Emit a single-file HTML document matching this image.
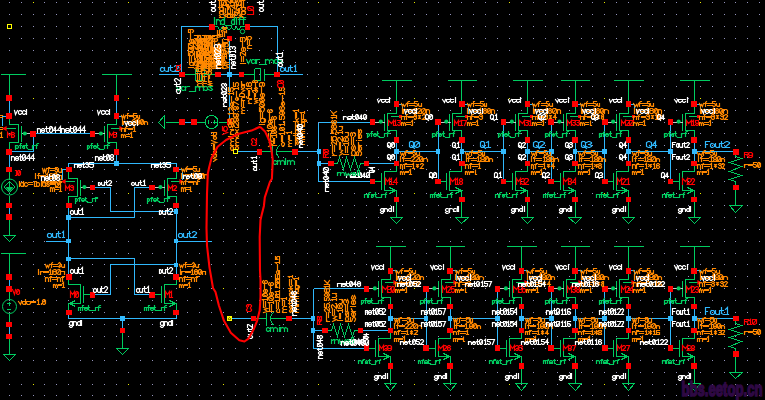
<!DOCTYPE html>
<html><head><meta charset="utf-8"><title>schematic</title>
<style>
html,body{margin:0;padding:0;background:#000;}
body{width:765px;height:400px;overflow:hidden;}
svg{display:block;}
svg text{font-family:"Liberation Sans",sans-serif;font-weight:bold;stroke-width:1.7px;stroke-linejoin:round;}
#text path{fill:none;stroke-width:1.2;stroke-linecap:square;}
</style></head><body>
<svg width="765" height="400" viewBox="0 0 765 400">
<rect width="765" height="400" fill="#000"/>
<g id="grid" shape-rendering="crispEdges">
<path d="M9 2h1v1h-1zM21 2h1v1h-1zM44 2h1v1h-1zM56 2h1v1h-1zM68 2h1v1h-1zM80 2h1v1h-1zM92 2h1v1h-1zM104 2h1v1h-1zM116 2h1v1h-1zM140 2h1v1h-1zM152 2h1v1h-1zM164 2h1v1h-1zM176 2h1v1h-1zM187 2h1v1h-1zM199 2h1v1h-1zM211 2h1v1h-1zM235 2h1v1h-1zM247 2h1v1h-1zM259 2h1v1h-1zM271 2h1v1h-1zM283 2h1v1h-1zM295 2h1v1h-1zM307 2h1v1h-1zM330 2h1v1h-1zM342 2h1v1h-1zM354 2h1v1h-1zM366 2h1v1h-1zM378 2h1v1h-1zM390 2h1v1h-1zM402 2h1v1h-1zM426 2h1v1h-1zM438 2h1v1h-1zM450 2h1v1h-1zM461 2h1v1h-1zM473 2h1v1h-1zM485 2h1v1h-1zM497 2h1v1h-1zM521 2h1v1h-1zM533 2h1v1h-1zM545 2h1v1h-1zM557 2h1v1h-1zM569 2h1v1h-1zM581 2h1v1h-1zM592 2h1v1h-1zM616 2h1v1h-1zM628 2h1v1h-1zM640 2h1v1h-1zM652 2h1v1h-1zM664 2h1v1h-1zM676 2h1v1h-1zM688 2h1v1h-1zM712 2h1v1h-1zM724 2h1v1h-1zM735 2h1v1h-1zM747 2h1v1h-1zM759 2h1v1h-1zM9 14h1v1h-1zM21 14h1v1h-1zM33 14h1v1h-1zM44 14h1v1h-1zM56 14h1v1h-1zM68 14h1v1h-1zM80 14h1v1h-1zM92 14h1v1h-1zM104 14h1v1h-1zM116 14h1v1h-1zM128 14h1v1h-1zM140 14h1v1h-1zM152 14h1v1h-1zM164 14h1v1h-1zM176 14h1v1h-1zM187 14h1v1h-1zM199 14h1v1h-1zM211 14h1v1h-1zM223 14h1v1h-1zM235 14h1v1h-1zM247 14h1v1h-1zM259 14h1v1h-1zM271 14h1v1h-1zM283 14h1v1h-1zM295 14h1v1h-1zM307 14h1v1h-1zM318 14h1v1h-1zM330 14h1v1h-1zM342 14h1v1h-1zM354 14h1v1h-1zM366 14h1v1h-1zM378 14h1v1h-1zM390 14h1v1h-1zM402 14h1v1h-1zM414 14h1v1h-1zM426 14h1v1h-1zM438 14h1v1h-1zM450 14h1v1h-1zM461 14h1v1h-1zM473 14h1v1h-1zM485 14h1v1h-1zM497 14h1v1h-1zM509 14h1v1h-1zM521 14h1v1h-1zM533 14h1v1h-1zM545 14h1v1h-1zM557 14h1v1h-1zM569 14h1v1h-1zM581 14h1v1h-1zM592 14h1v1h-1zM604 14h1v1h-1zM616 14h1v1h-1zM628 14h1v1h-1zM640 14h1v1h-1zM652 14h1v1h-1zM664 14h1v1h-1zM676 14h1v1h-1zM688 14h1v1h-1zM700 14h1v1h-1zM712 14h1v1h-1zM724 14h1v1h-1zM735 14h1v1h-1zM747 14h1v1h-1zM759 14h1v1h-1zM9 26h1v1h-1zM21 26h1v1h-1zM33 26h1v1h-1zM44 26h1v1h-1zM56 26h1v1h-1zM68 26h1v1h-1zM80 26h1v1h-1zM92 26h1v1h-1zM104 26h1v1h-1zM116 26h1v1h-1zM128 26h1v1h-1zM140 26h1v1h-1zM152 26h1v1h-1zM164 26h1v1h-1zM176 26h1v1h-1zM187 26h1v1h-1zM199 26h1v1h-1zM211 26h1v1h-1zM223 26h1v1h-1zM235 26h1v1h-1zM247 26h1v1h-1zM259 26h1v1h-1zM271 26h1v1h-1zM283 26h1v1h-1zM295 26h1v1h-1zM307 26h1v1h-1zM318 26h1v1h-1zM330 26h1v1h-1zM342 26h1v1h-1zM354 26h1v1h-1zM366 26h1v1h-1zM378 26h1v1h-1zM390 26h1v1h-1zM402 26h1v1h-1zM414 26h1v1h-1zM426 26h1v1h-1zM438 26h1v1h-1zM450 26h1v1h-1zM461 26h1v1h-1zM473 26h1v1h-1zM485 26h1v1h-1zM497 26h1v1h-1zM509 26h1v1h-1zM521 26h1v1h-1zM533 26h1v1h-1zM545 26h1v1h-1zM557 26h1v1h-1zM569 26h1v1h-1zM581 26h1v1h-1zM592 26h1v1h-1zM604 26h1v1h-1zM616 26h1v1h-1zM628 26h1v1h-1zM640 26h1v1h-1zM652 26h1v1h-1zM664 26h1v1h-1zM676 26h1v1h-1zM688 26h1v1h-1zM700 26h1v1h-1zM712 26h1v1h-1zM724 26h1v1h-1zM735 26h1v1h-1zM747 26h1v1h-1zM759 26h1v1h-1zM9 38h1v1h-1zM21 38h1v1h-1zM33 38h1v1h-1zM44 38h1v1h-1zM56 38h1v1h-1zM68 38h1v1h-1zM80 38h1v1h-1zM92 38h1v1h-1zM104 38h1v1h-1zM116 38h1v1h-1zM128 38h1v1h-1zM140 38h1v1h-1zM152 38h1v1h-1zM164 38h1v1h-1zM176 38h1v1h-1zM187 38h1v1h-1zM199 38h1v1h-1zM211 38h1v1h-1zM223 38h1v1h-1zM235 38h1v1h-1zM247 38h1v1h-1zM259 38h1v1h-1zM271 38h1v1h-1zM283 38h1v1h-1zM295 38h1v1h-1zM307 38h1v1h-1zM318 38h1v1h-1zM330 38h1v1h-1zM342 38h1v1h-1zM354 38h1v1h-1zM366 38h1v1h-1zM378 38h1v1h-1zM390 38h1v1h-1zM402 38h1v1h-1zM414 38h1v1h-1zM426 38h1v1h-1zM438 38h1v1h-1zM450 38h1v1h-1zM461 38h1v1h-1zM473 38h1v1h-1zM485 38h1v1h-1zM497 38h1v1h-1zM509 38h1v1h-1zM521 38h1v1h-1zM533 38h1v1h-1zM545 38h1v1h-1zM557 38h1v1h-1zM569 38h1v1h-1zM581 38h1v1h-1zM592 38h1v1h-1zM604 38h1v1h-1zM616 38h1v1h-1zM628 38h1v1h-1zM640 38h1v1h-1zM652 38h1v1h-1zM664 38h1v1h-1zM676 38h1v1h-1zM688 38h1v1h-1zM700 38h1v1h-1zM712 38h1v1h-1zM724 38h1v1h-1zM735 38h1v1h-1zM747 38h1v1h-1zM759 38h1v1h-1zM9 50h1v1h-1zM21 50h1v1h-1zM33 50h1v1h-1zM44 50h1v1h-1zM56 50h1v1h-1zM68 50h1v1h-1zM80 50h1v1h-1zM92 50h1v1h-1zM104 50h1v1h-1zM116 50h1v1h-1zM128 50h1v1h-1zM140 50h1v1h-1zM152 50h1v1h-1zM164 50h1v1h-1zM176 50h1v1h-1zM187 50h1v1h-1zM199 50h1v1h-1zM211 50h1v1h-1zM223 50h1v1h-1zM235 50h1v1h-1zM247 50h1v1h-1zM259 50h1v1h-1zM271 50h1v1h-1zM283 50h1v1h-1zM295 50h1v1h-1zM307 50h1v1h-1zM318 50h1v1h-1zM330 50h1v1h-1zM342 50h1v1h-1zM354 50h1v1h-1zM366 50h1v1h-1zM378 50h1v1h-1zM390 50h1v1h-1zM402 50h1v1h-1zM414 50h1v1h-1zM426 50h1v1h-1zM438 50h1v1h-1zM450 50h1v1h-1zM461 50h1v1h-1zM473 50h1v1h-1zM485 50h1v1h-1zM497 50h1v1h-1zM509 50h1v1h-1zM521 50h1v1h-1zM533 50h1v1h-1zM545 50h1v1h-1zM557 50h1v1h-1zM569 50h1v1h-1zM581 50h1v1h-1zM592 50h1v1h-1zM604 50h1v1h-1zM616 50h1v1h-1zM628 50h1v1h-1zM640 50h1v1h-1zM652 50h1v1h-1zM664 50h1v1h-1zM676 50h1v1h-1zM688 50h1v1h-1zM700 50h1v1h-1zM712 50h1v1h-1zM724 50h1v1h-1zM735 50h1v1h-1zM747 50h1v1h-1zM759 50h1v1h-1zM9 62h1v1h-1zM21 62h1v1h-1zM33 62h1v1h-1zM44 62h1v1h-1zM56 62h1v1h-1zM68 62h1v1h-1zM80 62h1v1h-1zM92 62h1v1h-1zM104 62h1v1h-1zM116 62h1v1h-1zM128 62h1v1h-1zM140 62h1v1h-1zM152 62h1v1h-1zM164 62h1v1h-1zM176 62h1v1h-1zM187 62h1v1h-1zM199 62h1v1h-1zM211 62h1v1h-1zM223 62h1v1h-1zM235 62h1v1h-1zM247 62h1v1h-1zM259 62h1v1h-1zM271 62h1v1h-1zM283 62h1v1h-1zM295 62h1v1h-1zM307 62h1v1h-1zM318 62h1v1h-1zM330 62h1v1h-1zM342 62h1v1h-1zM354 62h1v1h-1zM366 62h1v1h-1zM378 62h1v1h-1zM390 62h1v1h-1zM402 62h1v1h-1zM414 62h1v1h-1zM426 62h1v1h-1zM438 62h1v1h-1zM450 62h1v1h-1zM461 62h1v1h-1zM473 62h1v1h-1zM485 62h1v1h-1zM497 62h1v1h-1zM509 62h1v1h-1zM521 62h1v1h-1zM533 62h1v1h-1zM545 62h1v1h-1zM557 62h1v1h-1zM569 62h1v1h-1zM581 62h1v1h-1zM592 62h1v1h-1zM604 62h1v1h-1zM616 62h1v1h-1zM628 62h1v1h-1zM640 62h1v1h-1zM652 62h1v1h-1zM664 62h1v1h-1zM676 62h1v1h-1zM688 62h1v1h-1zM700 62h1v1h-1zM712 62h1v1h-1zM724 62h1v1h-1zM735 62h1v1h-1zM747 62h1v1h-1zM759 62h1v1h-1zM9 74h1v1h-1zM21 74h1v1h-1zM33 74h1v1h-1zM44 74h1v1h-1zM56 74h1v1h-1zM68 74h1v1h-1zM80 74h1v1h-1zM92 74h1v1h-1zM104 74h1v1h-1zM116 74h1v1h-1zM128 74h1v1h-1zM140 74h1v1h-1zM152 74h1v1h-1zM164 74h1v1h-1zM176 74h1v1h-1zM187 74h1v1h-1zM199 74h1v1h-1zM211 74h1v1h-1zM223 74h1v1h-1zM235 74h1v1h-1zM247 74h1v1h-1zM259 74h1v1h-1zM271 74h1v1h-1zM283 74h1v1h-1zM295 74h1v1h-1zM307 74h1v1h-1zM318 74h1v1h-1zM330 74h1v1h-1zM342 74h1v1h-1zM354 74h1v1h-1zM366 74h1v1h-1zM378 74h1v1h-1zM390 74h1v1h-1zM402 74h1v1h-1zM414 74h1v1h-1zM426 74h1v1h-1zM438 74h1v1h-1zM450 74h1v1h-1zM461 74h1v1h-1zM473 74h1v1h-1zM485 74h1v1h-1zM497 74h1v1h-1zM509 74h1v1h-1zM521 74h1v1h-1zM533 74h1v1h-1zM545 74h1v1h-1zM557 74h1v1h-1zM569 74h1v1h-1zM581 74h1v1h-1zM592 74h1v1h-1zM604 74h1v1h-1zM616 74h1v1h-1zM628 74h1v1h-1zM640 74h1v1h-1zM652 74h1v1h-1zM664 74h1v1h-1zM676 74h1v1h-1zM688 74h1v1h-1zM700 74h1v1h-1zM712 74h1v1h-1zM724 74h1v1h-1zM735 74h1v1h-1zM747 74h1v1h-1zM759 74h1v1h-1zM9 86h1v1h-1zM21 86h1v1h-1zM33 86h1v1h-1zM44 86h1v1h-1zM56 86h1v1h-1zM68 86h1v1h-1zM80 86h1v1h-1zM92 86h1v1h-1zM104 86h1v1h-1zM116 86h1v1h-1zM128 86h1v1h-1zM140 86h1v1h-1zM152 86h1v1h-1zM164 86h1v1h-1zM176 86h1v1h-1zM187 86h1v1h-1zM199 86h1v1h-1zM211 86h1v1h-1zM223 86h1v1h-1zM235 86h1v1h-1zM247 86h1v1h-1zM259 86h1v1h-1zM271 86h1v1h-1zM283 86h1v1h-1zM295 86h1v1h-1zM307 86h1v1h-1zM318 86h1v1h-1zM330 86h1v1h-1zM342 86h1v1h-1zM354 86h1v1h-1zM366 86h1v1h-1zM378 86h1v1h-1zM390 86h1v1h-1zM402 86h1v1h-1zM414 86h1v1h-1zM426 86h1v1h-1zM438 86h1v1h-1zM450 86h1v1h-1zM461 86h1v1h-1zM473 86h1v1h-1zM485 86h1v1h-1zM497 86h1v1h-1zM509 86h1v1h-1zM521 86h1v1h-1zM533 86h1v1h-1zM545 86h1v1h-1zM557 86h1v1h-1zM569 86h1v1h-1zM581 86h1v1h-1zM592 86h1v1h-1zM604 86h1v1h-1zM616 86h1v1h-1zM628 86h1v1h-1zM640 86h1v1h-1zM652 86h1v1h-1zM664 86h1v1h-1zM676 86h1v1h-1zM688 86h1v1h-1zM700 86h1v1h-1zM712 86h1v1h-1zM724 86h1v1h-1zM735 86h1v1h-1zM747 86h1v1h-1zM759 86h1v1h-1zM9 98h1v1h-1zM21 98h1v1h-1zM44 98h1v1h-1zM56 98h1v1h-1zM68 98h1v1h-1zM80 98h1v1h-1zM92 98h1v1h-1zM104 98h1v1h-1zM116 98h1v1h-1zM140 98h1v1h-1zM152 98h1v1h-1zM164 98h1v1h-1zM176 98h1v1h-1zM187 98h1v1h-1zM199 98h1v1h-1zM211 98h1v1h-1zM235 98h1v1h-1zM247 98h1v1h-1zM259 98h1v1h-1zM271 98h1v1h-1zM283 98h1v1h-1zM295 98h1v1h-1zM307 98h1v1h-1zM330 98h1v1h-1zM342 98h1v1h-1zM354 98h1v1h-1zM366 98h1v1h-1zM378 98h1v1h-1zM390 98h1v1h-1zM402 98h1v1h-1zM426 98h1v1h-1zM438 98h1v1h-1zM450 98h1v1h-1zM461 98h1v1h-1zM473 98h1v1h-1zM485 98h1v1h-1zM497 98h1v1h-1zM521 98h1v1h-1zM533 98h1v1h-1zM545 98h1v1h-1zM557 98h1v1h-1zM569 98h1v1h-1zM581 98h1v1h-1zM592 98h1v1h-1zM616 98h1v1h-1zM628 98h1v1h-1zM640 98h1v1h-1zM652 98h1v1h-1zM664 98h1v1h-1zM676 98h1v1h-1zM688 98h1v1h-1zM712 98h1v1h-1zM724 98h1v1h-1zM735 98h1v1h-1zM747 98h1v1h-1zM759 98h1v1h-1zM9 110h1v1h-1zM21 110h1v1h-1zM33 110h1v1h-1zM44 110h1v1h-1zM56 110h1v1h-1zM68 110h1v1h-1zM80 110h1v1h-1zM92 110h1v1h-1zM104 110h1v1h-1zM116 110h1v1h-1zM128 110h1v1h-1zM140 110h1v1h-1zM152 110h1v1h-1zM164 110h1v1h-1zM176 110h1v1h-1zM187 110h1v1h-1zM199 110h1v1h-1zM211 110h1v1h-1zM223 110h1v1h-1zM235 110h1v1h-1zM247 110h1v1h-1zM259 110h1v1h-1zM271 110h1v1h-1zM283 110h1v1h-1zM295 110h1v1h-1zM307 110h1v1h-1zM318 110h1v1h-1zM330 110h1v1h-1zM342 110h1v1h-1zM354 110h1v1h-1zM366 110h1v1h-1zM378 110h1v1h-1zM390 110h1v1h-1zM402 110h1v1h-1zM414 110h1v1h-1zM426 110h1v1h-1zM438 110h1v1h-1zM450 110h1v1h-1zM461 110h1v1h-1zM473 110h1v1h-1zM485 110h1v1h-1zM497 110h1v1h-1zM509 110h1v1h-1zM521 110h1v1h-1zM533 110h1v1h-1zM545 110h1v1h-1zM557 110h1v1h-1zM569 110h1v1h-1zM581 110h1v1h-1zM592 110h1v1h-1zM604 110h1v1h-1zM616 110h1v1h-1zM628 110h1v1h-1zM640 110h1v1h-1zM652 110h1v1h-1zM664 110h1v1h-1zM676 110h1v1h-1zM688 110h1v1h-1zM700 110h1v1h-1zM712 110h1v1h-1zM724 110h1v1h-1zM735 110h1v1h-1zM747 110h1v1h-1zM759 110h1v1h-1zM9 122h1v1h-1zM21 122h1v1h-1zM33 122h1v1h-1zM44 122h1v1h-1zM56 122h1v1h-1zM68 122h1v1h-1zM80 122h1v1h-1zM92 122h1v1h-1zM104 122h1v1h-1zM116 122h1v1h-1zM128 122h1v1h-1zM140 122h1v1h-1zM152 122h1v1h-1zM164 122h1v1h-1zM176 122h1v1h-1zM187 122h1v1h-1zM199 122h1v1h-1zM211 122h1v1h-1zM223 122h1v1h-1zM235 122h1v1h-1zM247 122h1v1h-1zM259 122h1v1h-1zM271 122h1v1h-1zM283 122h1v1h-1zM295 122h1v1h-1zM307 122h1v1h-1zM318 122h1v1h-1zM330 122h1v1h-1zM342 122h1v1h-1zM354 122h1v1h-1zM366 122h1v1h-1zM378 122h1v1h-1zM390 122h1v1h-1zM402 122h1v1h-1zM414 122h1v1h-1zM426 122h1v1h-1zM438 122h1v1h-1zM450 122h1v1h-1zM461 122h1v1h-1zM473 122h1v1h-1zM485 122h1v1h-1zM497 122h1v1h-1zM509 122h1v1h-1zM521 122h1v1h-1zM533 122h1v1h-1zM545 122h1v1h-1zM557 122h1v1h-1zM569 122h1v1h-1zM581 122h1v1h-1zM592 122h1v1h-1zM604 122h1v1h-1zM616 122h1v1h-1zM628 122h1v1h-1zM640 122h1v1h-1zM652 122h1v1h-1zM664 122h1v1h-1zM676 122h1v1h-1zM688 122h1v1h-1zM700 122h1v1h-1zM712 122h1v1h-1zM724 122h1v1h-1zM735 122h1v1h-1zM747 122h1v1h-1zM759 122h1v1h-1zM9 133h1v1h-1zM21 133h1v1h-1zM33 133h1v1h-1zM44 133h1v1h-1zM56 133h1v1h-1zM68 133h1v1h-1zM80 133h1v1h-1zM92 133h1v1h-1zM104 133h1v1h-1zM116 133h1v1h-1zM128 133h1v1h-1zM140 133h1v1h-1zM152 133h1v1h-1zM164 133h1v1h-1zM176 133h1v1h-1zM187 133h1v1h-1zM199 133h1v1h-1zM211 133h1v1h-1zM223 133h1v1h-1zM235 133h1v1h-1zM247 133h1v1h-1zM259 133h1v1h-1zM271 133h1v1h-1zM283 133h1v1h-1zM295 133h1v1h-1zM307 133h1v1h-1zM318 133h1v1h-1zM330 133h1v1h-1zM342 133h1v1h-1zM354 133h1v1h-1zM366 133h1v1h-1zM378 133h1v1h-1zM390 133h1v1h-1zM402 133h1v1h-1zM414 133h1v1h-1zM426 133h1v1h-1zM438 133h1v1h-1zM450 133h1v1h-1zM461 133h1v1h-1zM473 133h1v1h-1zM485 133h1v1h-1zM497 133h1v1h-1zM509 133h1v1h-1zM521 133h1v1h-1zM533 133h1v1h-1zM545 133h1v1h-1zM557 133h1v1h-1zM569 133h1v1h-1zM581 133h1v1h-1zM592 133h1v1h-1zM604 133h1v1h-1zM616 133h1v1h-1zM628 133h1v1h-1zM640 133h1v1h-1zM652 133h1v1h-1zM664 133h1v1h-1zM676 133h1v1h-1zM688 133h1v1h-1zM700 133h1v1h-1zM712 133h1v1h-1zM724 133h1v1h-1zM735 133h1v1h-1zM747 133h1v1h-1zM759 133h1v1h-1zM9 145h1v1h-1zM21 145h1v1h-1zM33 145h1v1h-1zM44 145h1v1h-1zM56 145h1v1h-1zM68 145h1v1h-1zM80 145h1v1h-1zM92 145h1v1h-1zM104 145h1v1h-1zM116 145h1v1h-1zM128 145h1v1h-1zM140 145h1v1h-1zM152 145h1v1h-1zM164 145h1v1h-1zM176 145h1v1h-1zM187 145h1v1h-1zM199 145h1v1h-1zM211 145h1v1h-1zM223 145h1v1h-1zM235 145h1v1h-1zM247 145h1v1h-1zM259 145h1v1h-1zM271 145h1v1h-1zM283 145h1v1h-1zM295 145h1v1h-1zM307 145h1v1h-1zM318 145h1v1h-1zM330 145h1v1h-1zM342 145h1v1h-1zM354 145h1v1h-1zM366 145h1v1h-1zM378 145h1v1h-1zM390 145h1v1h-1zM402 145h1v1h-1zM414 145h1v1h-1zM426 145h1v1h-1zM438 145h1v1h-1zM450 145h1v1h-1zM461 145h1v1h-1zM473 145h1v1h-1zM485 145h1v1h-1zM497 145h1v1h-1zM509 145h1v1h-1zM521 145h1v1h-1zM533 145h1v1h-1zM545 145h1v1h-1zM557 145h1v1h-1zM569 145h1v1h-1zM581 145h1v1h-1zM592 145h1v1h-1zM604 145h1v1h-1zM616 145h1v1h-1zM628 145h1v1h-1zM640 145h1v1h-1zM652 145h1v1h-1zM664 145h1v1h-1zM676 145h1v1h-1zM688 145h1v1h-1zM700 145h1v1h-1zM712 145h1v1h-1zM724 145h1v1h-1zM735 145h1v1h-1zM747 145h1v1h-1zM759 145h1v1h-1zM9 157h1v1h-1zM21 157h1v1h-1zM33 157h1v1h-1zM44 157h1v1h-1zM56 157h1v1h-1zM68 157h1v1h-1zM80 157h1v1h-1zM92 157h1v1h-1zM104 157h1v1h-1zM116 157h1v1h-1zM128 157h1v1h-1zM140 157h1v1h-1zM152 157h1v1h-1zM164 157h1v1h-1zM176 157h1v1h-1zM187 157h1v1h-1zM199 157h1v1h-1zM211 157h1v1h-1zM223 157h1v1h-1zM235 157h1v1h-1zM247 157h1v1h-1zM259 157h1v1h-1zM271 157h1v1h-1zM283 157h1v1h-1zM295 157h1v1h-1zM307 157h1v1h-1zM318 157h1v1h-1zM330 157h1v1h-1zM342 157h1v1h-1zM354 157h1v1h-1zM366 157h1v1h-1zM378 157h1v1h-1zM390 157h1v1h-1zM402 157h1v1h-1zM414 157h1v1h-1zM426 157h1v1h-1zM438 157h1v1h-1zM450 157h1v1h-1zM461 157h1v1h-1zM473 157h1v1h-1zM485 157h1v1h-1zM497 157h1v1h-1zM509 157h1v1h-1zM521 157h1v1h-1zM533 157h1v1h-1zM545 157h1v1h-1zM557 157h1v1h-1zM569 157h1v1h-1zM581 157h1v1h-1zM592 157h1v1h-1zM604 157h1v1h-1zM616 157h1v1h-1zM628 157h1v1h-1zM640 157h1v1h-1zM652 157h1v1h-1zM664 157h1v1h-1zM676 157h1v1h-1zM688 157h1v1h-1zM700 157h1v1h-1zM712 157h1v1h-1zM724 157h1v1h-1zM735 157h1v1h-1zM747 157h1v1h-1zM759 157h1v1h-1zM9 169h1v1h-1zM21 169h1v1h-1zM33 169h1v1h-1zM44 169h1v1h-1zM56 169h1v1h-1zM68 169h1v1h-1zM80 169h1v1h-1zM92 169h1v1h-1zM104 169h1v1h-1zM116 169h1v1h-1zM128 169h1v1h-1zM140 169h1v1h-1zM152 169h1v1h-1zM164 169h1v1h-1zM176 169h1v1h-1zM187 169h1v1h-1zM199 169h1v1h-1zM211 169h1v1h-1zM223 169h1v1h-1zM235 169h1v1h-1zM247 169h1v1h-1zM259 169h1v1h-1zM271 169h1v1h-1zM283 169h1v1h-1zM295 169h1v1h-1zM307 169h1v1h-1zM318 169h1v1h-1zM330 169h1v1h-1zM342 169h1v1h-1zM354 169h1v1h-1zM366 169h1v1h-1zM378 169h1v1h-1zM390 169h1v1h-1zM402 169h1v1h-1zM414 169h1v1h-1zM426 169h1v1h-1zM438 169h1v1h-1zM450 169h1v1h-1zM461 169h1v1h-1zM473 169h1v1h-1zM485 169h1v1h-1zM497 169h1v1h-1zM509 169h1v1h-1zM521 169h1v1h-1zM533 169h1v1h-1zM545 169h1v1h-1zM557 169h1v1h-1zM569 169h1v1h-1zM581 169h1v1h-1zM592 169h1v1h-1zM604 169h1v1h-1zM616 169h1v1h-1zM628 169h1v1h-1zM640 169h1v1h-1zM652 169h1v1h-1zM664 169h1v1h-1zM676 169h1v1h-1zM688 169h1v1h-1zM700 169h1v1h-1zM712 169h1v1h-1zM724 169h1v1h-1zM735 169h1v1h-1zM747 169h1v1h-1zM759 169h1v1h-1zM9 181h1v1h-1zM21 181h1v1h-1zM33 181h1v1h-1zM44 181h1v1h-1zM56 181h1v1h-1zM68 181h1v1h-1zM80 181h1v1h-1zM92 181h1v1h-1zM104 181h1v1h-1zM116 181h1v1h-1zM128 181h1v1h-1zM140 181h1v1h-1zM152 181h1v1h-1zM164 181h1v1h-1zM176 181h1v1h-1zM187 181h1v1h-1zM199 181h1v1h-1zM211 181h1v1h-1zM223 181h1v1h-1zM235 181h1v1h-1zM247 181h1v1h-1zM259 181h1v1h-1zM271 181h1v1h-1zM283 181h1v1h-1zM295 181h1v1h-1zM307 181h1v1h-1zM318 181h1v1h-1zM330 181h1v1h-1zM342 181h1v1h-1zM354 181h1v1h-1zM366 181h1v1h-1zM378 181h1v1h-1zM390 181h1v1h-1zM402 181h1v1h-1zM414 181h1v1h-1zM426 181h1v1h-1zM438 181h1v1h-1zM450 181h1v1h-1zM461 181h1v1h-1zM473 181h1v1h-1zM485 181h1v1h-1zM497 181h1v1h-1zM509 181h1v1h-1zM521 181h1v1h-1zM533 181h1v1h-1zM545 181h1v1h-1zM557 181h1v1h-1zM569 181h1v1h-1zM581 181h1v1h-1zM592 181h1v1h-1zM604 181h1v1h-1zM616 181h1v1h-1zM628 181h1v1h-1zM640 181h1v1h-1zM652 181h1v1h-1zM664 181h1v1h-1zM676 181h1v1h-1zM688 181h1v1h-1zM700 181h1v1h-1zM712 181h1v1h-1zM724 181h1v1h-1zM735 181h1v1h-1zM747 181h1v1h-1zM759 181h1v1h-1zM9 193h1v1h-1zM21 193h1v1h-1zM44 193h1v1h-1zM56 193h1v1h-1zM68 193h1v1h-1zM80 193h1v1h-1zM92 193h1v1h-1zM104 193h1v1h-1zM116 193h1v1h-1zM140 193h1v1h-1zM152 193h1v1h-1zM164 193h1v1h-1zM176 193h1v1h-1zM187 193h1v1h-1zM199 193h1v1h-1zM211 193h1v1h-1zM235 193h1v1h-1zM247 193h1v1h-1zM259 193h1v1h-1zM271 193h1v1h-1zM283 193h1v1h-1zM295 193h1v1h-1zM307 193h1v1h-1zM330 193h1v1h-1zM342 193h1v1h-1zM354 193h1v1h-1zM366 193h1v1h-1zM378 193h1v1h-1zM390 193h1v1h-1zM402 193h1v1h-1zM426 193h1v1h-1zM438 193h1v1h-1zM450 193h1v1h-1zM461 193h1v1h-1zM473 193h1v1h-1zM485 193h1v1h-1zM497 193h1v1h-1zM521 193h1v1h-1zM533 193h1v1h-1zM545 193h1v1h-1zM557 193h1v1h-1zM569 193h1v1h-1zM581 193h1v1h-1zM592 193h1v1h-1zM616 193h1v1h-1zM628 193h1v1h-1zM640 193h1v1h-1zM652 193h1v1h-1zM664 193h1v1h-1zM676 193h1v1h-1zM688 193h1v1h-1zM712 193h1v1h-1zM724 193h1v1h-1zM735 193h1v1h-1zM747 193h1v1h-1zM759 193h1v1h-1zM9 205h1v1h-1zM21 205h1v1h-1zM33 205h1v1h-1zM44 205h1v1h-1zM56 205h1v1h-1zM68 205h1v1h-1zM80 205h1v1h-1zM92 205h1v1h-1zM104 205h1v1h-1zM116 205h1v1h-1zM128 205h1v1h-1zM140 205h1v1h-1zM152 205h1v1h-1zM164 205h1v1h-1zM176 205h1v1h-1zM187 205h1v1h-1zM199 205h1v1h-1zM211 205h1v1h-1zM223 205h1v1h-1zM235 205h1v1h-1zM247 205h1v1h-1zM259 205h1v1h-1zM271 205h1v1h-1zM283 205h1v1h-1zM295 205h1v1h-1zM307 205h1v1h-1zM318 205h1v1h-1zM330 205h1v1h-1zM342 205h1v1h-1zM354 205h1v1h-1zM366 205h1v1h-1zM378 205h1v1h-1zM390 205h1v1h-1zM402 205h1v1h-1zM414 205h1v1h-1zM426 205h1v1h-1zM438 205h1v1h-1zM450 205h1v1h-1zM461 205h1v1h-1zM473 205h1v1h-1zM485 205h1v1h-1zM497 205h1v1h-1zM509 205h1v1h-1zM521 205h1v1h-1zM533 205h1v1h-1zM545 205h1v1h-1zM557 205h1v1h-1zM569 205h1v1h-1zM581 205h1v1h-1zM592 205h1v1h-1zM604 205h1v1h-1zM616 205h1v1h-1zM628 205h1v1h-1zM640 205h1v1h-1zM652 205h1v1h-1zM664 205h1v1h-1zM676 205h1v1h-1zM688 205h1v1h-1zM700 205h1v1h-1zM712 205h1v1h-1zM724 205h1v1h-1zM735 205h1v1h-1zM747 205h1v1h-1zM759 205h1v1h-1zM9 217h1v1h-1zM21 217h1v1h-1zM33 217h1v1h-1zM44 217h1v1h-1zM56 217h1v1h-1zM68 217h1v1h-1zM80 217h1v1h-1zM92 217h1v1h-1zM104 217h1v1h-1zM116 217h1v1h-1zM128 217h1v1h-1zM140 217h1v1h-1zM152 217h1v1h-1zM164 217h1v1h-1zM176 217h1v1h-1zM187 217h1v1h-1zM199 217h1v1h-1zM211 217h1v1h-1zM223 217h1v1h-1zM235 217h1v1h-1zM247 217h1v1h-1zM259 217h1v1h-1zM271 217h1v1h-1zM283 217h1v1h-1zM295 217h1v1h-1zM307 217h1v1h-1zM318 217h1v1h-1zM330 217h1v1h-1zM342 217h1v1h-1zM354 217h1v1h-1zM366 217h1v1h-1zM378 217h1v1h-1zM390 217h1v1h-1zM402 217h1v1h-1zM414 217h1v1h-1zM426 217h1v1h-1zM438 217h1v1h-1zM450 217h1v1h-1zM461 217h1v1h-1zM473 217h1v1h-1zM485 217h1v1h-1zM497 217h1v1h-1zM509 217h1v1h-1zM521 217h1v1h-1zM533 217h1v1h-1zM545 217h1v1h-1zM557 217h1v1h-1zM569 217h1v1h-1zM581 217h1v1h-1zM592 217h1v1h-1zM604 217h1v1h-1zM616 217h1v1h-1zM628 217h1v1h-1zM640 217h1v1h-1zM652 217h1v1h-1zM664 217h1v1h-1zM676 217h1v1h-1zM688 217h1v1h-1zM700 217h1v1h-1zM712 217h1v1h-1zM724 217h1v1h-1zM735 217h1v1h-1zM747 217h1v1h-1zM759 217h1v1h-1zM9 229h1v1h-1zM21 229h1v1h-1zM33 229h1v1h-1zM44 229h1v1h-1zM56 229h1v1h-1zM68 229h1v1h-1zM80 229h1v1h-1zM92 229h1v1h-1zM104 229h1v1h-1zM116 229h1v1h-1zM128 229h1v1h-1zM140 229h1v1h-1zM152 229h1v1h-1zM164 229h1v1h-1zM176 229h1v1h-1zM187 229h1v1h-1zM199 229h1v1h-1zM211 229h1v1h-1zM223 229h1v1h-1zM235 229h1v1h-1zM247 229h1v1h-1zM259 229h1v1h-1zM271 229h1v1h-1zM283 229h1v1h-1zM295 229h1v1h-1zM307 229h1v1h-1zM318 229h1v1h-1zM330 229h1v1h-1zM342 229h1v1h-1zM354 229h1v1h-1zM366 229h1v1h-1zM378 229h1v1h-1zM390 229h1v1h-1zM402 229h1v1h-1zM414 229h1v1h-1zM426 229h1v1h-1zM438 229h1v1h-1zM450 229h1v1h-1zM461 229h1v1h-1zM473 229h1v1h-1zM485 229h1v1h-1zM497 229h1v1h-1zM509 229h1v1h-1zM521 229h1v1h-1zM533 229h1v1h-1zM545 229h1v1h-1zM557 229h1v1h-1zM569 229h1v1h-1zM581 229h1v1h-1zM592 229h1v1h-1zM604 229h1v1h-1zM616 229h1v1h-1zM628 229h1v1h-1zM640 229h1v1h-1zM652 229h1v1h-1zM664 229h1v1h-1zM676 229h1v1h-1zM688 229h1v1h-1zM700 229h1v1h-1zM712 229h1v1h-1zM724 229h1v1h-1zM735 229h1v1h-1zM747 229h1v1h-1zM759 229h1v1h-1zM9 241h1v1h-1zM21 241h1v1h-1zM33 241h1v1h-1zM44 241h1v1h-1zM56 241h1v1h-1zM68 241h1v1h-1zM80 241h1v1h-1zM92 241h1v1h-1zM104 241h1v1h-1zM116 241h1v1h-1zM128 241h1v1h-1zM140 241h1v1h-1zM152 241h1v1h-1zM164 241h1v1h-1zM176 241h1v1h-1zM187 241h1v1h-1zM199 241h1v1h-1zM211 241h1v1h-1zM223 241h1v1h-1zM235 241h1v1h-1zM247 241h1v1h-1zM259 241h1v1h-1zM271 241h1v1h-1zM283 241h1v1h-1zM295 241h1v1h-1zM307 241h1v1h-1zM318 241h1v1h-1zM330 241h1v1h-1zM342 241h1v1h-1zM354 241h1v1h-1zM366 241h1v1h-1zM378 241h1v1h-1zM390 241h1v1h-1zM402 241h1v1h-1zM414 241h1v1h-1zM426 241h1v1h-1zM438 241h1v1h-1zM450 241h1v1h-1zM461 241h1v1h-1zM473 241h1v1h-1zM485 241h1v1h-1zM497 241h1v1h-1zM509 241h1v1h-1zM521 241h1v1h-1zM533 241h1v1h-1zM545 241h1v1h-1zM557 241h1v1h-1zM569 241h1v1h-1zM581 241h1v1h-1zM592 241h1v1h-1zM604 241h1v1h-1zM616 241h1v1h-1zM628 241h1v1h-1zM640 241h1v1h-1zM652 241h1v1h-1zM664 241h1v1h-1zM676 241h1v1h-1zM688 241h1v1h-1zM700 241h1v1h-1zM712 241h1v1h-1zM724 241h1v1h-1zM735 241h1v1h-1zM747 241h1v1h-1zM759 241h1v1h-1zM9 253h1v1h-1zM21 253h1v1h-1zM33 253h1v1h-1zM44 253h1v1h-1zM56 253h1v1h-1zM68 253h1v1h-1zM80 253h1v1h-1zM92 253h1v1h-1zM104 253h1v1h-1zM116 253h1v1h-1zM128 253h1v1h-1zM140 253h1v1h-1zM152 253h1v1h-1zM164 253h1v1h-1zM176 253h1v1h-1zM187 253h1v1h-1zM199 253h1v1h-1zM211 253h1v1h-1zM223 253h1v1h-1zM235 253h1v1h-1zM247 253h1v1h-1zM259 253h1v1h-1zM271 253h1v1h-1zM283 253h1v1h-1zM295 253h1v1h-1zM307 253h1v1h-1zM318 253h1v1h-1zM330 253h1v1h-1zM342 253h1v1h-1zM354 253h1v1h-1zM366 253h1v1h-1zM378 253h1v1h-1zM390 253h1v1h-1zM402 253h1v1h-1zM414 253h1v1h-1zM426 253h1v1h-1zM438 253h1v1h-1zM450 253h1v1h-1zM461 253h1v1h-1zM473 253h1v1h-1zM485 253h1v1h-1zM497 253h1v1h-1zM509 253h1v1h-1zM521 253h1v1h-1zM533 253h1v1h-1zM545 253h1v1h-1zM557 253h1v1h-1zM569 253h1v1h-1zM581 253h1v1h-1zM592 253h1v1h-1zM604 253h1v1h-1zM616 253h1v1h-1zM628 253h1v1h-1zM640 253h1v1h-1zM652 253h1v1h-1zM664 253h1v1h-1zM676 253h1v1h-1zM688 253h1v1h-1zM700 253h1v1h-1zM712 253h1v1h-1zM724 253h1v1h-1zM735 253h1v1h-1zM747 253h1v1h-1zM759 253h1v1h-1zM9 264h1v1h-1zM21 264h1v1h-1zM33 264h1v1h-1zM44 264h1v1h-1zM56 264h1v1h-1zM68 264h1v1h-1zM80 264h1v1h-1zM92 264h1v1h-1zM104 264h1v1h-1zM116 264h1v1h-1zM128 264h1v1h-1zM140 264h1v1h-1zM152 264h1v1h-1zM164 264h1v1h-1zM176 264h1v1h-1zM187 264h1v1h-1zM199 264h1v1h-1zM211 264h1v1h-1zM223 264h1v1h-1zM235 264h1v1h-1zM247 264h1v1h-1zM259 264h1v1h-1zM271 264h1v1h-1zM283 264h1v1h-1zM295 264h1v1h-1zM307 264h1v1h-1zM318 264h1v1h-1zM330 264h1v1h-1zM342 264h1v1h-1zM354 264h1v1h-1zM366 264h1v1h-1zM378 264h1v1h-1zM390 264h1v1h-1zM402 264h1v1h-1zM414 264h1v1h-1zM426 264h1v1h-1zM438 264h1v1h-1zM450 264h1v1h-1zM461 264h1v1h-1zM473 264h1v1h-1zM485 264h1v1h-1zM497 264h1v1h-1zM509 264h1v1h-1zM521 264h1v1h-1zM533 264h1v1h-1zM545 264h1v1h-1zM557 264h1v1h-1zM569 264h1v1h-1zM581 264h1v1h-1zM592 264h1v1h-1zM604 264h1v1h-1zM616 264h1v1h-1zM628 264h1v1h-1zM640 264h1v1h-1zM652 264h1v1h-1zM664 264h1v1h-1zM676 264h1v1h-1zM688 264h1v1h-1zM700 264h1v1h-1zM712 264h1v1h-1zM724 264h1v1h-1zM735 264h1v1h-1zM747 264h1v1h-1zM759 264h1v1h-1zM9 276h1v1h-1zM21 276h1v1h-1zM33 276h1v1h-1zM44 276h1v1h-1zM56 276h1v1h-1zM68 276h1v1h-1zM80 276h1v1h-1zM92 276h1v1h-1zM104 276h1v1h-1zM116 276h1v1h-1zM128 276h1v1h-1zM140 276h1v1h-1zM152 276h1v1h-1zM164 276h1v1h-1zM176 276h1v1h-1zM187 276h1v1h-1zM199 276h1v1h-1zM211 276h1v1h-1zM223 276h1v1h-1zM235 276h1v1h-1zM247 276h1v1h-1zM259 276h1v1h-1zM271 276h1v1h-1zM283 276h1v1h-1zM295 276h1v1h-1zM307 276h1v1h-1zM318 276h1v1h-1zM330 276h1v1h-1zM342 276h1v1h-1zM354 276h1v1h-1zM366 276h1v1h-1zM378 276h1v1h-1zM390 276h1v1h-1zM402 276h1v1h-1zM414 276h1v1h-1zM426 276h1v1h-1zM438 276h1v1h-1zM450 276h1v1h-1zM461 276h1v1h-1zM473 276h1v1h-1zM485 276h1v1h-1zM497 276h1v1h-1zM509 276h1v1h-1zM521 276h1v1h-1zM533 276h1v1h-1zM545 276h1v1h-1zM557 276h1v1h-1zM569 276h1v1h-1zM581 276h1v1h-1zM592 276h1v1h-1zM604 276h1v1h-1zM616 276h1v1h-1zM628 276h1v1h-1zM640 276h1v1h-1zM652 276h1v1h-1zM664 276h1v1h-1zM676 276h1v1h-1zM688 276h1v1h-1zM700 276h1v1h-1zM712 276h1v1h-1zM724 276h1v1h-1zM735 276h1v1h-1zM747 276h1v1h-1zM759 276h1v1h-1zM9 288h1v1h-1zM21 288h1v1h-1zM44 288h1v1h-1zM56 288h1v1h-1zM68 288h1v1h-1zM80 288h1v1h-1zM92 288h1v1h-1zM104 288h1v1h-1zM116 288h1v1h-1zM140 288h1v1h-1zM152 288h1v1h-1zM164 288h1v1h-1zM176 288h1v1h-1zM187 288h1v1h-1zM199 288h1v1h-1zM211 288h1v1h-1zM235 288h1v1h-1zM247 288h1v1h-1zM259 288h1v1h-1zM271 288h1v1h-1zM283 288h1v1h-1zM295 288h1v1h-1zM307 288h1v1h-1zM330 288h1v1h-1zM342 288h1v1h-1zM354 288h1v1h-1zM366 288h1v1h-1zM378 288h1v1h-1zM390 288h1v1h-1zM402 288h1v1h-1zM426 288h1v1h-1zM438 288h1v1h-1zM450 288h1v1h-1zM461 288h1v1h-1zM473 288h1v1h-1zM485 288h1v1h-1zM497 288h1v1h-1zM521 288h1v1h-1zM533 288h1v1h-1zM545 288h1v1h-1zM557 288h1v1h-1zM569 288h1v1h-1zM581 288h1v1h-1zM592 288h1v1h-1zM616 288h1v1h-1zM628 288h1v1h-1zM640 288h1v1h-1zM652 288h1v1h-1zM664 288h1v1h-1zM676 288h1v1h-1zM688 288h1v1h-1zM712 288h1v1h-1zM724 288h1v1h-1zM735 288h1v1h-1zM747 288h1v1h-1zM759 288h1v1h-1zM9 300h1v1h-1zM21 300h1v1h-1zM33 300h1v1h-1zM44 300h1v1h-1zM56 300h1v1h-1zM68 300h1v1h-1zM80 300h1v1h-1zM92 300h1v1h-1zM104 300h1v1h-1zM116 300h1v1h-1zM128 300h1v1h-1zM140 300h1v1h-1zM152 300h1v1h-1zM164 300h1v1h-1zM176 300h1v1h-1zM187 300h1v1h-1zM199 300h1v1h-1zM211 300h1v1h-1zM223 300h1v1h-1zM235 300h1v1h-1zM247 300h1v1h-1zM259 300h1v1h-1zM271 300h1v1h-1zM283 300h1v1h-1zM295 300h1v1h-1zM307 300h1v1h-1zM318 300h1v1h-1zM330 300h1v1h-1zM342 300h1v1h-1zM354 300h1v1h-1zM366 300h1v1h-1zM378 300h1v1h-1zM390 300h1v1h-1zM402 300h1v1h-1zM414 300h1v1h-1zM426 300h1v1h-1zM438 300h1v1h-1zM450 300h1v1h-1zM461 300h1v1h-1zM473 300h1v1h-1zM485 300h1v1h-1zM497 300h1v1h-1zM509 300h1v1h-1zM521 300h1v1h-1zM533 300h1v1h-1zM545 300h1v1h-1zM557 300h1v1h-1zM569 300h1v1h-1zM581 300h1v1h-1zM592 300h1v1h-1zM604 300h1v1h-1zM616 300h1v1h-1zM628 300h1v1h-1zM640 300h1v1h-1zM652 300h1v1h-1zM664 300h1v1h-1zM676 300h1v1h-1zM688 300h1v1h-1zM700 300h1v1h-1zM712 300h1v1h-1zM724 300h1v1h-1zM735 300h1v1h-1zM747 300h1v1h-1zM759 300h1v1h-1zM9 312h1v1h-1zM21 312h1v1h-1zM33 312h1v1h-1zM44 312h1v1h-1zM56 312h1v1h-1zM68 312h1v1h-1zM80 312h1v1h-1zM92 312h1v1h-1zM104 312h1v1h-1zM116 312h1v1h-1zM128 312h1v1h-1zM140 312h1v1h-1zM152 312h1v1h-1zM164 312h1v1h-1zM176 312h1v1h-1zM187 312h1v1h-1zM199 312h1v1h-1zM211 312h1v1h-1zM223 312h1v1h-1zM235 312h1v1h-1zM247 312h1v1h-1zM259 312h1v1h-1zM271 312h1v1h-1zM283 312h1v1h-1zM295 312h1v1h-1zM307 312h1v1h-1zM318 312h1v1h-1zM330 312h1v1h-1zM342 312h1v1h-1zM354 312h1v1h-1zM366 312h1v1h-1zM378 312h1v1h-1zM390 312h1v1h-1zM402 312h1v1h-1zM414 312h1v1h-1zM426 312h1v1h-1zM438 312h1v1h-1zM450 312h1v1h-1zM461 312h1v1h-1zM473 312h1v1h-1zM485 312h1v1h-1zM497 312h1v1h-1zM509 312h1v1h-1zM521 312h1v1h-1zM533 312h1v1h-1zM545 312h1v1h-1zM557 312h1v1h-1zM569 312h1v1h-1zM581 312h1v1h-1zM592 312h1v1h-1zM604 312h1v1h-1zM616 312h1v1h-1zM628 312h1v1h-1zM640 312h1v1h-1zM652 312h1v1h-1zM664 312h1v1h-1zM676 312h1v1h-1zM688 312h1v1h-1zM700 312h1v1h-1zM712 312h1v1h-1zM724 312h1v1h-1zM735 312h1v1h-1zM747 312h1v1h-1zM759 312h1v1h-1zM9 324h1v1h-1zM21 324h1v1h-1zM33 324h1v1h-1zM44 324h1v1h-1zM56 324h1v1h-1zM68 324h1v1h-1zM80 324h1v1h-1zM92 324h1v1h-1zM104 324h1v1h-1zM116 324h1v1h-1zM128 324h1v1h-1zM140 324h1v1h-1zM152 324h1v1h-1zM164 324h1v1h-1zM176 324h1v1h-1zM187 324h1v1h-1zM199 324h1v1h-1zM211 324h1v1h-1zM223 324h1v1h-1zM235 324h1v1h-1zM247 324h1v1h-1zM259 324h1v1h-1zM271 324h1v1h-1zM283 324h1v1h-1zM295 324h1v1h-1zM307 324h1v1h-1zM318 324h1v1h-1zM330 324h1v1h-1zM342 324h1v1h-1zM354 324h1v1h-1zM366 324h1v1h-1zM378 324h1v1h-1zM390 324h1v1h-1zM402 324h1v1h-1zM414 324h1v1h-1zM426 324h1v1h-1zM438 324h1v1h-1zM450 324h1v1h-1zM461 324h1v1h-1zM473 324h1v1h-1zM485 324h1v1h-1zM497 324h1v1h-1zM509 324h1v1h-1zM521 324h1v1h-1zM533 324h1v1h-1zM545 324h1v1h-1zM557 324h1v1h-1zM569 324h1v1h-1zM581 324h1v1h-1zM592 324h1v1h-1zM604 324h1v1h-1zM616 324h1v1h-1zM628 324h1v1h-1zM640 324h1v1h-1zM652 324h1v1h-1zM664 324h1v1h-1zM676 324h1v1h-1zM688 324h1v1h-1zM700 324h1v1h-1zM712 324h1v1h-1zM724 324h1v1h-1zM735 324h1v1h-1zM747 324h1v1h-1zM759 324h1v1h-1zM9 336h1v1h-1zM21 336h1v1h-1zM33 336h1v1h-1zM44 336h1v1h-1zM56 336h1v1h-1zM68 336h1v1h-1zM80 336h1v1h-1zM92 336h1v1h-1zM104 336h1v1h-1zM116 336h1v1h-1zM128 336h1v1h-1zM140 336h1v1h-1zM152 336h1v1h-1zM164 336h1v1h-1zM176 336h1v1h-1zM187 336h1v1h-1zM199 336h1v1h-1zM211 336h1v1h-1zM223 336h1v1h-1zM235 336h1v1h-1zM247 336h1v1h-1zM259 336h1v1h-1zM271 336h1v1h-1zM283 336h1v1h-1zM295 336h1v1h-1zM307 336h1v1h-1zM318 336h1v1h-1zM330 336h1v1h-1zM342 336h1v1h-1zM354 336h1v1h-1zM366 336h1v1h-1zM378 336h1v1h-1zM390 336h1v1h-1zM402 336h1v1h-1zM414 336h1v1h-1zM426 336h1v1h-1zM438 336h1v1h-1zM450 336h1v1h-1zM461 336h1v1h-1zM473 336h1v1h-1zM485 336h1v1h-1zM497 336h1v1h-1zM509 336h1v1h-1zM521 336h1v1h-1zM533 336h1v1h-1zM545 336h1v1h-1zM557 336h1v1h-1zM569 336h1v1h-1zM581 336h1v1h-1zM592 336h1v1h-1zM604 336h1v1h-1zM616 336h1v1h-1zM628 336h1v1h-1zM640 336h1v1h-1zM652 336h1v1h-1zM664 336h1v1h-1zM676 336h1v1h-1zM688 336h1v1h-1zM700 336h1v1h-1zM712 336h1v1h-1zM724 336h1v1h-1zM735 336h1v1h-1zM747 336h1v1h-1zM759 336h1v1h-1zM9 348h1v1h-1zM21 348h1v1h-1zM33 348h1v1h-1zM44 348h1v1h-1zM56 348h1v1h-1zM68 348h1v1h-1zM80 348h1v1h-1zM92 348h1v1h-1zM104 348h1v1h-1zM116 348h1v1h-1zM128 348h1v1h-1zM140 348h1v1h-1zM152 348h1v1h-1zM164 348h1v1h-1zM176 348h1v1h-1zM187 348h1v1h-1zM199 348h1v1h-1zM211 348h1v1h-1zM223 348h1v1h-1zM235 348h1v1h-1zM247 348h1v1h-1zM259 348h1v1h-1zM271 348h1v1h-1zM283 348h1v1h-1zM295 348h1v1h-1zM307 348h1v1h-1zM318 348h1v1h-1zM330 348h1v1h-1zM342 348h1v1h-1zM354 348h1v1h-1zM366 348h1v1h-1zM378 348h1v1h-1zM390 348h1v1h-1zM402 348h1v1h-1zM414 348h1v1h-1zM426 348h1v1h-1zM438 348h1v1h-1zM450 348h1v1h-1zM461 348h1v1h-1zM473 348h1v1h-1zM485 348h1v1h-1zM497 348h1v1h-1zM509 348h1v1h-1zM521 348h1v1h-1zM533 348h1v1h-1zM545 348h1v1h-1zM557 348h1v1h-1zM569 348h1v1h-1zM581 348h1v1h-1zM592 348h1v1h-1zM604 348h1v1h-1zM616 348h1v1h-1zM628 348h1v1h-1zM640 348h1v1h-1zM652 348h1v1h-1zM664 348h1v1h-1zM676 348h1v1h-1zM688 348h1v1h-1zM700 348h1v1h-1zM712 348h1v1h-1zM724 348h1v1h-1zM735 348h1v1h-1zM747 348h1v1h-1zM759 348h1v1h-1zM9 360h1v1h-1zM21 360h1v1h-1zM33 360h1v1h-1zM44 360h1v1h-1zM56 360h1v1h-1zM68 360h1v1h-1zM80 360h1v1h-1zM92 360h1v1h-1zM104 360h1v1h-1zM116 360h1v1h-1zM128 360h1v1h-1zM140 360h1v1h-1zM152 360h1v1h-1zM164 360h1v1h-1zM176 360h1v1h-1zM187 360h1v1h-1zM199 360h1v1h-1zM211 360h1v1h-1zM223 360h1v1h-1zM235 360h1v1h-1zM247 360h1v1h-1zM259 360h1v1h-1zM271 360h1v1h-1zM283 360h1v1h-1zM295 360h1v1h-1zM307 360h1v1h-1zM318 360h1v1h-1zM330 360h1v1h-1zM342 360h1v1h-1zM354 360h1v1h-1zM366 360h1v1h-1zM378 360h1v1h-1zM390 360h1v1h-1zM402 360h1v1h-1zM414 360h1v1h-1zM426 360h1v1h-1zM438 360h1v1h-1zM450 360h1v1h-1zM461 360h1v1h-1zM473 360h1v1h-1zM485 360h1v1h-1zM497 360h1v1h-1zM509 360h1v1h-1zM521 360h1v1h-1zM533 360h1v1h-1zM545 360h1v1h-1zM557 360h1v1h-1zM569 360h1v1h-1zM581 360h1v1h-1zM592 360h1v1h-1zM604 360h1v1h-1zM616 360h1v1h-1zM628 360h1v1h-1zM640 360h1v1h-1zM652 360h1v1h-1zM664 360h1v1h-1zM676 360h1v1h-1zM688 360h1v1h-1zM700 360h1v1h-1zM712 360h1v1h-1zM724 360h1v1h-1zM735 360h1v1h-1zM747 360h1v1h-1zM759 360h1v1h-1zM9 372h1v1h-1zM21 372h1v1h-1zM33 372h1v1h-1zM44 372h1v1h-1zM56 372h1v1h-1zM68 372h1v1h-1zM80 372h1v1h-1zM92 372h1v1h-1zM104 372h1v1h-1zM116 372h1v1h-1zM128 372h1v1h-1zM140 372h1v1h-1zM152 372h1v1h-1zM164 372h1v1h-1zM176 372h1v1h-1zM187 372h1v1h-1zM199 372h1v1h-1zM211 372h1v1h-1zM223 372h1v1h-1zM235 372h1v1h-1zM247 372h1v1h-1zM259 372h1v1h-1zM271 372h1v1h-1zM283 372h1v1h-1zM295 372h1v1h-1zM307 372h1v1h-1zM318 372h1v1h-1zM330 372h1v1h-1zM342 372h1v1h-1zM354 372h1v1h-1zM366 372h1v1h-1zM378 372h1v1h-1zM390 372h1v1h-1zM402 372h1v1h-1zM414 372h1v1h-1zM426 372h1v1h-1zM438 372h1v1h-1zM450 372h1v1h-1zM461 372h1v1h-1zM473 372h1v1h-1zM485 372h1v1h-1zM497 372h1v1h-1zM509 372h1v1h-1zM521 372h1v1h-1zM533 372h1v1h-1zM545 372h1v1h-1zM557 372h1v1h-1zM569 372h1v1h-1zM581 372h1v1h-1zM592 372h1v1h-1zM604 372h1v1h-1zM616 372h1v1h-1zM628 372h1v1h-1zM640 372h1v1h-1zM652 372h1v1h-1zM664 372h1v1h-1zM676 372h1v1h-1zM688 372h1v1h-1zM700 372h1v1h-1zM712 372h1v1h-1zM724 372h1v1h-1zM735 372h1v1h-1zM747 372h1v1h-1zM759 372h1v1h-1zM9 384h1v1h-1zM21 384h1v1h-1zM44 384h1v1h-1zM56 384h1v1h-1zM68 384h1v1h-1zM80 384h1v1h-1zM92 384h1v1h-1zM104 384h1v1h-1zM116 384h1v1h-1zM140 384h1v1h-1zM152 384h1v1h-1zM164 384h1v1h-1zM176 384h1v1h-1zM187 384h1v1h-1zM199 384h1v1h-1zM211 384h1v1h-1zM235 384h1v1h-1zM247 384h1v1h-1zM259 384h1v1h-1zM271 384h1v1h-1zM283 384h1v1h-1zM295 384h1v1h-1zM307 384h1v1h-1zM330 384h1v1h-1zM342 384h1v1h-1zM354 384h1v1h-1zM366 384h1v1h-1zM378 384h1v1h-1zM390 384h1v1h-1zM402 384h1v1h-1zM426 384h1v1h-1zM438 384h1v1h-1zM450 384h1v1h-1zM461 384h1v1h-1zM473 384h1v1h-1zM485 384h1v1h-1zM497 384h1v1h-1zM521 384h1v1h-1zM533 384h1v1h-1zM545 384h1v1h-1zM557 384h1v1h-1zM569 384h1v1h-1zM581 384h1v1h-1zM592 384h1v1h-1zM616 384h1v1h-1zM628 384h1v1h-1zM640 384h1v1h-1zM652 384h1v1h-1zM664 384h1v1h-1zM676 384h1v1h-1zM688 384h1v1h-1zM712 384h1v1h-1zM724 384h1v1h-1zM735 384h1v1h-1zM747 384h1v1h-1zM759 384h1v1h-1zM9 395h1v1h-1zM21 395h1v1h-1zM33 395h1v1h-1zM44 395h1v1h-1zM56 395h1v1h-1zM68 395h1v1h-1zM80 395h1v1h-1zM92 395h1v1h-1zM104 395h1v1h-1zM116 395h1v1h-1zM128 395h1v1h-1zM140 395h1v1h-1zM152 395h1v1h-1zM164 395h1v1h-1zM176 395h1v1h-1zM187 395h1v1h-1zM199 395h1v1h-1zM211 395h1v1h-1zM223 395h1v1h-1zM235 395h1v1h-1zM247 395h1v1h-1zM259 395h1v1h-1zM271 395h1v1h-1zM283 395h1v1h-1zM295 395h1v1h-1zM307 395h1v1h-1zM318 395h1v1h-1zM330 395h1v1h-1zM342 395h1v1h-1zM354 395h1v1h-1zM366 395h1v1h-1zM378 395h1v1h-1zM390 395h1v1h-1zM402 395h1v1h-1zM414 395h1v1h-1zM426 395h1v1h-1zM438 395h1v1h-1zM450 395h1v1h-1zM461 395h1v1h-1zM473 395h1v1h-1zM485 395h1v1h-1zM497 395h1v1h-1zM509 395h1v1h-1zM521 395h1v1h-1zM533 395h1v1h-1zM545 395h1v1h-1zM557 395h1v1h-1zM569 395h1v1h-1zM581 395h1v1h-1zM592 395h1v1h-1zM604 395h1v1h-1zM616 395h1v1h-1zM628 395h1v1h-1zM640 395h1v1h-1zM652 395h1v1h-1zM664 395h1v1h-1zM676 395h1v1h-1zM688 395h1v1h-1zM700 395h1v1h-1zM712 395h1v1h-1zM724 395h1v1h-1zM735 395h1v1h-1zM747 395h1v1h-1zM759 395h1v1h-1z" fill="#9494bc"/>
<path d="M33 2h1v1h-1zM128 2h1v1h-1zM223 2h1v1h-1zM318 2h1v1h-1zM414 2h1v1h-1zM509 2h1v1h-1zM604 2h1v1h-1zM700 2h1v1h-1zM33 98h1v1h-1zM128 98h1v1h-1zM223 98h1v1h-1zM318 98h1v1h-1zM414 98h1v1h-1zM509 98h1v1h-1zM604 98h1v1h-1zM700 98h1v1h-1zM33 193h1v1h-1zM128 193h1v1h-1zM223 193h1v1h-1zM318 193h1v1h-1zM414 193h1v1h-1zM509 193h1v1h-1zM604 193h1v1h-1zM700 193h1v1h-1zM33 288h1v1h-1zM128 288h1v1h-1zM223 288h1v1h-1zM318 288h1v1h-1zM414 288h1v1h-1zM509 288h1v1h-1zM604 288h1v1h-1zM700 288h1v1h-1zM33 384h1v1h-1zM128 384h1v1h-1zM223 384h1v1h-1zM318 384h1v1h-1zM414 384h1v1h-1zM509 384h1v1h-1zM604 384h1v1h-1zM700 384h1v1h-1z" fill="#e8e800"/>
</g>
<g id="green" shape-rendering="crispEdges">
<path d="M0.5 74.5 L25.5 74.5" stroke="#00cc60" stroke-width="1" fill="none"/>
<path d="M9.5 74.5 L9.5 98.5" stroke="#00cc60" stroke-width="1" fill="none"/>
<path d="M9.5 116.5 L9.5 124.5 L18.5 124.5 L18.5 142.5 L9.5 142.5 L9.5 151.5" stroke="#00cc60" stroke-width="1" fill="none"/>
<path d="M21.5 125.5 L21.5 141.5" stroke="#00cc60" stroke-width="1" fill="none"/>
<path d="M33.5 133.5 L21.5 133.5" stroke="#c8c8c8" stroke-width="1" fill="none"/>
<circle cx="24.85" cy="133.52" r="2.05" fill="#00cc60" shape-rendering="auto"/>
<path d="M15.5 128.5 L5.5 128.5" stroke="#00cc60" stroke-width="1" fill="none"/>
<path d="M101.5 74.5 L131.5 74.5" stroke="#00cc60" stroke-width="1" fill="none"/>
<path d="M116.5 74.5 L116.5 98.5" stroke="#00cc60" stroke-width="1" fill="none"/>
<path d="M116.5 116.5 L116.5 124.5 L107.5 124.5 L107.5 142.5 L116.5 142.5 L116.5 151.5" stroke="#00cc60" stroke-width="1" fill="none"/>
<path d="M104.5 125.5 L104.5 141.5" stroke="#00cc60" stroke-width="1" fill="none"/>
<path d="M92.5 133.5 L104.5 133.5" stroke="#c8c8c8" stroke-width="1" fill="none"/>
<circle cx="100.86" cy="133.52" r="2.05" fill="#00cc60" shape-rendering="auto"/>
<path d="M110.5 128.5 L120.5 128.5" stroke="#00cc60" stroke-width="1" fill="none"/>
<path d="M9.5 169.5 L9.5 179.5" stroke="#00cc60" stroke-width="1" fill="none"/>
<circle cx="9.5" cy="187" r="8" stroke="#00cc60" fill="none" shape-rendering="auto"/>
<path d="M9.5 181.5 l5.5 5.5 l-5.5 5.5 l-5.5 -5.5 z" stroke="#00cc60" fill="none" shape-rendering="auto"/>
<path d="M9.5 182 v9 m-3.2 -3.4 h6.4 l-3.2 3.6 z" stroke="#00cc60" fill="#00cc60" shape-rendering="auto"/>
<path d="M9.5 195.5 L9.5 205.5" stroke="#00cc60" stroke-width="1" fill="none"/>
<path d="M9.5 217.5 L9.5 235.5" stroke="#00cc60" stroke-width="1" fill="none"/>
<path d="M3.5 235.5 L15.5 235.5 L9.5 241.5 L3.5 235.5" stroke="#00cc60" stroke-width="1" fill="none"/>
<path d="M68.5 169.5 L68.5 178.5 L77.5 178.5 L77.5 196.5 L68.5 196.5 L68.5 205.5" stroke="#00cc60" stroke-width="1" fill="none"/>
<path d="M80.5 179.5 L80.5 195.5" stroke="#00cc60" stroke-width="1" fill="none"/>
<path d="M92.5 187.5 L80.5 187.5" stroke="#c8c8c8" stroke-width="1" fill="none"/>
<circle cx="84.41" cy="187.12" r="2.05" fill="#00cc60" shape-rendering="auto"/>
<path d="M74.5 181.5 L64.5 181.5" stroke="#00cc60" stroke-width="1" fill="none"/>
<path d="M176.5 169.5 L176.5 178.5 L167.5 178.5 L167.5 196.5 L176.5 196.5 L176.5 205.5" stroke="#00cc60" stroke-width="1" fill="none"/>
<path d="M164.5 179.5 L164.5 195.5" stroke="#00cc60" stroke-width="1" fill="none"/>
<path d="M152.5 187.5 L164.5 187.5" stroke="#c8c8c8" stroke-width="1" fill="none"/>
<circle cx="160.43" cy="187.12" r="2.05" fill="#00cc60" shape-rendering="auto"/>
<path d="M170.5 181.5 L180.5 181.5" stroke="#00cc60" stroke-width="1" fill="none"/>
<path d="M68.5 276.5 L68.5 284.5 L80.5 284.5 L80.5 303.5 L68.5 303.5 L68.5 312.5" stroke="#00cc60" stroke-width="1" fill="none"/>
<path d="M83.5 285.5 L83.5 302.5" stroke="#00cc60" stroke-width="1" fill="none"/>
<path d="M92.5 294.5 L83.5 294.5" stroke="#00cc60" stroke-width="1" fill="none"/>
<path d="M75.5 300.5 L69.5 303.5 L75.5 306.5" stroke="#00cc60" stroke-width="1" fill="none"/>
<path d="M176.5 276.5 L176.5 284.5 L164.5 284.5 L164.5 303.5 L176.5 303.5 L176.5 312.5" stroke="#00cc60" stroke-width="1" fill="none"/>
<path d="M161.5 285.5 L161.5 302.5" stroke="#00cc60" stroke-width="1" fill="none"/>
<path d="M152.5 294.5 L161.5 294.5" stroke="#00cc60" stroke-width="1" fill="none"/>
<path d="M169.5 300.5 L175.5 303.5 L169.5 306.5" stroke="#00cc60" stroke-width="1" fill="none"/>
<path d="M122.5 330.5 L122.5 348.5" stroke="#00cc60" stroke-width="1" fill="none"/>
<path d="M116.5 348.5 L128.5 348.5 L122.5 354.5 L116.5 348.5" stroke="#00cc60" stroke-width="1" fill="none"/>
<path d="M0.5 253.5 L25.5 253.5" stroke="#00cc60" stroke-width="1" fill="none"/>
<path d="M9.5 253.5 L9.5 276.5" stroke="#00cc60" stroke-width="1" fill="none"/>
<path d="M9.5 288.5 L9.5 299.5" stroke="#00cc60" stroke-width="1" fill="none"/>
<circle cx="9.5" cy="306.5" r="7" stroke="#00cc60" fill="none" shape-rendering="auto"/>
<path d="M7.25 303.5 h4 m-2 -2 v4 M7.25 309.5 h4" stroke="#00cc60" fill="none"/>
<path d="M9.5 313.5 L9.5 324.5" stroke="#00cc60" stroke-width="1" fill="none"/>
<path d="M9.5 336.5 L9.5 354.5" stroke="#00cc60" stroke-width="1" fill="none"/>
<path d="M3.5 354.5 L15.5 354.5 L9.5 360.5 L3.5 354.5" stroke="#00cc60" stroke-width="1" fill="none"/>
<path d="M211.76 26.7 h6 q2.3 6 4.6 0 q2.3 6 4.6 0 q2.3 6 4.6 0 q2.3 6 4.6 0 q2.3 6 4.6 0 H247.5" stroke="#00cc60" fill="none"/>
<circle cx="242.5" cy="31.5" r="2.2" stroke="#00cc60" fill="none" shape-rendering="auto"/>
<path d="M181.5 74.5 L195.5 74.5" stroke="#00cc60" stroke-width="1" fill="none"/>
<path d="M195.5 68.5 L195.5 80.5" stroke="#00cc60" stroke-width="1" fill="none"/>
<path d="M197.5 68.5 L204.5 68.5 L204.5 80.5 L197.5 80.5 L197.5 68.5" stroke="#00cc60" stroke-width="1" fill="none"/>
<path d="M201.5 68.5 L201.5 80.5" stroke="#00cc60" stroke-width="1" fill="none"/>
<path d="M204.5 74.5 L217.5 74.5" stroke="#00cc60" stroke-width="1" fill="none"/>
<path d="M241.5 74.5 L254.5 74.5" stroke="#00cc60" stroke-width="1" fill="none"/>
<path d="M254.5 68.5 L260.5 68.5 L260.5 80.5 L254.5 80.5 L254.5 68.5" stroke="#00cc60" stroke-width="1" fill="none"/>
<path d="M264.5 68.5 L264.5 80.5" stroke="#00cc60" stroke-width="1" fill="none"/>
<path d="M264.5 74.5 L277.5 74.5" stroke="#00cc60" stroke-width="1" fill="none"/>
<path d="M158.5 122.5 L164.5 115.5 L164.5 128.5 L158.5 122.5" stroke="#00cc60" stroke-width="1" fill="none"/>
<path d="M165.5 122.5 L181.5 122.5" stroke="#00cc60" stroke-width="1" fill="none"/>
<path d="M193.5 122.5 L205.5 122.5" stroke="#00cc60" stroke-width="1" fill="none"/>
<path d="M218.5 122.5 L229.5 122.5" stroke="#00cc60" stroke-width="1" fill="none"/>
<circle cx="211.6" cy="122" r="6.5" stroke="#00cc60" fill="none"/>
<path d="M208.7 120 v4 M214.5 120 v4 m-2 -2 h4" stroke="#00cc60" fill="none"/>
<path d="M259.5 151.5 L272.5 151.5" stroke="#00cc60" stroke-width="1" fill="none"/>
<path d="M272.5 145.5 L272.5 158.5" stroke="#00cc60" stroke-width="1" fill="none"/>
<path d="M279.41 145.29 Q273.41 151.79 279.41 158.29" stroke="#00cc60" fill="none"/>
<path d="M276.5 151.5 L295.5 151.5" stroke="#00cc60" stroke-width="1" fill="none"/>
<path d="M253.5 318.5 L266.5 318.5" stroke="#00cc60" stroke-width="1" fill="none"/>
<path d="M266.5 312.5 L266.5 325.5" stroke="#00cc60" stroke-width="1" fill="none"/>
<path d="M273.46 312.06 Q267.46 318.56 273.46 325.06" stroke="#00cc60" fill="none"/>
<path d="M270.5 318.5 L289.5 318.5" stroke="#00cc60" stroke-width="1" fill="none"/>
<path d="M330.5 163.5 L337.5 163.5 L339.5 157.5 L343.5 169.5 L346.5 157.5 L350.5 169.5 L354.5 157.5 L358.5 169.5 L360.5 163.5 L366.5 163.5" stroke="#00cc60" stroke-width="1" fill="none"/>
<path d="M381.5 80.5 L411.5 80.5" stroke="#00cc60" stroke-width="1" fill="none"/>
<path d="M396.5 80.5 L396.5 104.5" stroke="#00cc60" stroke-width="1" fill="none"/>
<path d="M396.5 104.5 L396.5 113.5 L387.5 113.5 L387.5 130.5 L396.5 130.5 L396.5 139.5" stroke="#00cc60" stroke-width="1" fill="none"/>
<path d="M384.5 113.5 L384.5 130.5" stroke="#00cc60" stroke-width="1" fill="none"/>
<path d="M372.5 122.5 L384.5 122.5" stroke="#c8c8c8" stroke-width="1" fill="none"/>
<circle cx="380.81" cy="121.6" r="2.05" fill="#00cc60" shape-rendering="auto"/>
<path d="M390.5 116.5 L400.5 116.5" stroke="#00cc60" stroke-width="1" fill="none"/>
<path d="M396.5 163.5 L396.5 171.5 L384.5 171.5 L384.5 190.5 L396.5 190.5 L396.5 199.5" stroke="#00cc60" stroke-width="1" fill="none"/>
<path d="M381.5 172.5 L381.5 189.5" stroke="#00cc60" stroke-width="1" fill="none"/>
<path d="M372.5 181.5 L381.5 181.5" stroke="#00cc60" stroke-width="1" fill="none"/>
<path d="M389.5 187.5 L395.5 190.5 L389.5 193.5" stroke="#00cc60" stroke-width="1" fill="none"/>
<path d="M396.5 199.5 L396.5 217.5" stroke="#00cc60" stroke-width="1" fill="none"/>
<path d="M390.5 217.5 L402.5 217.5 L396.5 223.5 L390.5 217.5" stroke="#00cc60" stroke-width="1" fill="none"/>
<path d="M447.5 80.5 L476.5 80.5" stroke="#00cc60" stroke-width="1" fill="none"/>
<path d="M461.5 80.5 L461.5 104.5" stroke="#00cc60" stroke-width="1" fill="none"/>
<path d="M461.5 104.5 L461.5 113.5 L452.5 113.5 L452.5 130.5 L461.5 130.5 L461.5 139.5" stroke="#00cc60" stroke-width="1" fill="none"/>
<path d="M449.5 113.5 L449.5 130.5" stroke="#00cc60" stroke-width="1" fill="none"/>
<path d="M437.5 122.5 L449.5 122.5" stroke="#c8c8c8" stroke-width="1" fill="none"/>
<circle cx="446.32" cy="121.6" r="2.05" fill="#00cc60" shape-rendering="auto"/>
<path d="M455.5 116.5 L465.5 116.5" stroke="#00cc60" stroke-width="1" fill="none"/>
<path d="M461.5 163.5 L461.5 171.5 L449.5 171.5 L449.5 190.5 L461.5 190.5 L461.5 199.5" stroke="#00cc60" stroke-width="1" fill="none"/>
<path d="M446.5 172.5 L446.5 189.5" stroke="#00cc60" stroke-width="1" fill="none"/>
<path d="M438.5 181.5 L446.5 181.5" stroke="#00cc60" stroke-width="1" fill="none"/>
<path d="M455.5 187.5 L461.5 190.5 L455.5 193.5" stroke="#00cc60" stroke-width="1" fill="none"/>
<path d="M461.5 199.5 L461.5 217.5" stroke="#00cc60" stroke-width="1" fill="none"/>
<path d="M455.5 217.5 L468.5 217.5 L461.5 223.5 L455.5 217.5" stroke="#00cc60" stroke-width="1" fill="none"/>
<path d="M512.5 80.5 L542.5 80.5" stroke="#00cc60" stroke-width="1" fill="none"/>
<path d="M527.5 80.5 L527.5 104.5" stroke="#00cc60" stroke-width="1" fill="none"/>
<path d="M527.5 104.5 L527.5 113.5 L518.5 113.5 L518.5 130.5 L527.5 130.5 L527.5 139.5" stroke="#00cc60" stroke-width="1" fill="none"/>
<path d="M515.5 113.5 L515.5 130.5" stroke="#00cc60" stroke-width="1" fill="none"/>
<path d="M503.5 122.5 L515.5 122.5" stroke="#c8c8c8" stroke-width="1" fill="none"/>
<circle cx="511.84" cy="121.6" r="2.05" fill="#00cc60" shape-rendering="auto"/>
<path d="M521.5 116.5 L531.5 116.5" stroke="#00cc60" stroke-width="1" fill="none"/>
<path d="M527.5 163.5 L527.5 171.5 L515.5 171.5 L515.5 190.5 L527.5 190.5 L527.5 199.5" stroke="#00cc60" stroke-width="1" fill="none"/>
<path d="M512.5 172.5 L512.5 189.5" stroke="#00cc60" stroke-width="1" fill="none"/>
<path d="M503.5 181.5 L512.5 181.5" stroke="#00cc60" stroke-width="1" fill="none"/>
<path d="M520.5 187.5 L526.5 190.5 L520.5 193.5" stroke="#00cc60" stroke-width="1" fill="none"/>
<path d="M527.5 199.5 L527.5 217.5" stroke="#00cc60" stroke-width="1" fill="none"/>
<path d="M521.5 217.5 L533.5 217.5 L527.5 223.5 L521.5 217.5" stroke="#00cc60" stroke-width="1" fill="none"/>
<path d="M560.5 80.5 L589.5 80.5" stroke="#00cc60" stroke-width="1" fill="none"/>
<path d="M575.5 80.5 L575.5 104.5" stroke="#00cc60" stroke-width="1" fill="none"/>
<path d="M575.5 104.5 L575.5 113.5 L566.5 113.5 L566.5 130.5 L575.5 130.5 L575.5 139.5" stroke="#00cc60" stroke-width="1" fill="none"/>
<path d="M563.5 113.5 L563.5 130.5" stroke="#00cc60" stroke-width="1" fill="none"/>
<path d="M551.5 122.5 L563.5 122.5" stroke="#c8c8c8" stroke-width="1" fill="none"/>
<circle cx="559.49" cy="121.6" r="2.05" fill="#00cc60" shape-rendering="auto"/>
<path d="M569.5 116.5 L579.5 116.5" stroke="#00cc60" stroke-width="1" fill="none"/>
<path d="M575.5 163.5 L575.5 171.5 L563.5 171.5 L563.5 190.5 L575.5 190.5 L575.5 199.5" stroke="#00cc60" stroke-width="1" fill="none"/>
<path d="M560.5 172.5 L560.5 189.5" stroke="#00cc60" stroke-width="1" fill="none"/>
<path d="M551.5 181.5 L560.5 181.5" stroke="#00cc60" stroke-width="1" fill="none"/>
<path d="M568.5 187.5 L574.5 190.5 L568.5 193.5" stroke="#00cc60" stroke-width="1" fill="none"/>
<path d="M575.5 199.5 L575.5 217.5" stroke="#00cc60" stroke-width="1" fill="none"/>
<path d="M568.5 217.5 L581.5 217.5 L575.5 223.5 L568.5 217.5" stroke="#00cc60" stroke-width="1" fill="none"/>
<path d="M613.5 80.5 L643.5 80.5" stroke="#00cc60" stroke-width="1" fill="none"/>
<path d="M628.5 80.5 L628.5 104.5" stroke="#00cc60" stroke-width="1" fill="none"/>
<path d="M628.5 104.5 L628.5 113.5 L619.5 113.5 L619.5 130.5 L628.5 130.5 L628.5 139.5" stroke="#00cc60" stroke-width="1" fill="none"/>
<path d="M616.5 113.5 L616.5 130.5" stroke="#00cc60" stroke-width="1" fill="none"/>
<path d="M604.5 122.5 L616.5 122.5" stroke="#c8c8c8" stroke-width="1" fill="none"/>
<circle cx="613.1" cy="121.6" r="2.05" fill="#00cc60" shape-rendering="auto"/>
<path d="M622.5 116.5 L632.5 116.5" stroke="#00cc60" stroke-width="1" fill="none"/>
<path d="M628.5 163.5 L628.5 171.5 L616.5 171.5 L616.5 190.5 L628.5 190.5 L628.5 199.5" stroke="#00cc60" stroke-width="1" fill="none"/>
<path d="M613.5 172.5 L613.5 189.5" stroke="#00cc60" stroke-width="1" fill="none"/>
<path d="M604.5 181.5 L613.5 181.5" stroke="#00cc60" stroke-width="1" fill="none"/>
<path d="M621.5 187.5 L627.5 190.5 L621.5 193.5" stroke="#00cc60" stroke-width="1" fill="none"/>
<path d="M628.5 199.5 L628.5 217.5" stroke="#00cc60" stroke-width="1" fill="none"/>
<path d="M622.5 217.5 L634.5 217.5 L628.5 223.5 L622.5 217.5" stroke="#00cc60" stroke-width="1" fill="none"/>
<path d="M679.5 80.5 L709.5 80.5" stroke="#00cc60" stroke-width="1" fill="none"/>
<path d="M694.5 80.5 L694.5 104.5" stroke="#00cc60" stroke-width="1" fill="none"/>
<path d="M694.5 104.5 L694.5 113.5 L685.5 113.5 L685.5 130.5 L694.5 130.5 L694.5 139.5" stroke="#00cc60" stroke-width="1" fill="none"/>
<path d="M682.5 113.5 L682.5 130.5" stroke="#00cc60" stroke-width="1" fill="none"/>
<path d="M670.5 122.5 L682.5 122.5" stroke="#c8c8c8" stroke-width="1" fill="none"/>
<circle cx="678.62" cy="121.6" r="2.05" fill="#00cc60" shape-rendering="auto"/>
<path d="M688.5 116.5 L698.5 116.5" stroke="#00cc60" stroke-width="1" fill="none"/>
<path d="M694.5 163.5 L694.5 171.5 L682.5 171.5 L682.5 190.5 L694.5 190.5 L694.5 199.5" stroke="#00cc60" stroke-width="1" fill="none"/>
<path d="M679.5 172.5 L679.5 189.5" stroke="#00cc60" stroke-width="1" fill="none"/>
<path d="M670.5 181.5 L679.5 181.5" stroke="#00cc60" stroke-width="1" fill="none"/>
<path d="M687.5 187.5 L693.5 190.5 L687.5 193.5" stroke="#00cc60" stroke-width="1" fill="none"/>
<path d="M694.5 199.5 L694.5 217.5" stroke="#00cc60" stroke-width="1" fill="none"/>
<path d="M688.5 217.5 L700.5 217.5 L694.5 223.5 L688.5 217.5" stroke="#00cc60" stroke-width="1" fill="none"/>
<path d="M735.5 151.5 L735.5 156.5 L741.5 158.5 L729.5 162.5 L741.5 166.5 L729.5 171.5 L741.5 175.5 L729.5 179.5 L735.5 181.5 L735.5 187.5" stroke="#00cc60" stroke-width="1" fill="none"/>
<path d="M735.5 187.5 L735.5 205.5" stroke="#00cc60" stroke-width="1" fill="none"/>
<path d="M729.5 205.5 L742.5 205.5 L735.5 212.5 L729.5 205.5" stroke="#00cc60" stroke-width="1" fill="none"/>
<path d="M324.5 330.5 L331.5 330.5 L333.5 324.5 L337.5 336.5 L340.5 324.5 L344.5 336.5 L348.5 324.5 L352.5 336.5 L354.5 330.5 L360.5 330.5" stroke="#00cc60" stroke-width="1" fill="none"/>
<path d="M375.5 246.5 L405.5 246.5" stroke="#00cc60" stroke-width="1" fill="none"/>
<path d="M390.5 246.5 L390.5 270.5" stroke="#00cc60" stroke-width="1" fill="none"/>
<path d="M390.5 270.5 L390.5 279.5 L381.5 279.5 L381.5 297.5 L390.5 297.5 L390.5 306.5" stroke="#00cc60" stroke-width="1" fill="none"/>
<path d="M378.5 280.5 L378.5 296.5" stroke="#00cc60" stroke-width="1" fill="none"/>
<path d="M366.5 288.5 L378.5 288.5" stroke="#c8c8c8" stroke-width="1" fill="none"/>
<circle cx="374.85" cy="288.38" r="2.05" fill="#00cc60" shape-rendering="auto"/>
<path d="M384.5 282.5 L394.5 282.5" stroke="#00cc60" stroke-width="1" fill="none"/>
<path d="M390.5 330.5 L390.5 338.5 L378.5 338.5 L378.5 356.5 L390.5 356.5 L390.5 366.5" stroke="#00cc60" stroke-width="1" fill="none"/>
<path d="M375.5 339.5 L375.5 356.5" stroke="#00cc60" stroke-width="1" fill="none"/>
<path d="M366.5 348.5 L375.5 348.5" stroke="#00cc60" stroke-width="1" fill="none"/>
<path d="M383.5 353.5 L389.5 356.5 L383.5 359.5" stroke="#00cc60" stroke-width="1" fill="none"/>
<path d="M390.5 366.5 L390.5 383.5" stroke="#00cc60" stroke-width="1" fill="none"/>
<path d="M384.5 383.5 L396.5 383.5 L390.5 390.5 L384.5 383.5" stroke="#00cc60" stroke-width="1" fill="none"/>
<path d="M435.5 246.5 L464.5 246.5" stroke="#00cc60" stroke-width="1" fill="none"/>
<path d="M450.5 246.5 L450.5 270.5" stroke="#00cc60" stroke-width="1" fill="none"/>
<path d="M450.5 270.5 L450.5 279.5 L441.5 279.5 L441.5 297.5 L450.5 297.5 L450.5 306.5" stroke="#00cc60" stroke-width="1" fill="none"/>
<path d="M438.5 280.5 L438.5 296.5" stroke="#00cc60" stroke-width="1" fill="none"/>
<path d="M426.5 288.5 L438.5 288.5" stroke="#c8c8c8" stroke-width="1" fill="none"/>
<circle cx="434.41" cy="288.38" r="2.05" fill="#00cc60" shape-rendering="auto"/>
<path d="M444.5 282.5 L454.5 282.5" stroke="#00cc60" stroke-width="1" fill="none"/>
<path d="M450.5 330.5 L450.5 338.5 L438.5 338.5 L438.5 356.5 L450.5 356.5 L450.5 366.5" stroke="#00cc60" stroke-width="1" fill="none"/>
<path d="M435.5 339.5 L435.5 356.5" stroke="#00cc60" stroke-width="1" fill="none"/>
<path d="M426.5 348.5 L435.5 348.5" stroke="#00cc60" stroke-width="1" fill="none"/>
<path d="M443.5 353.5 L449.5 356.5 L443.5 359.5" stroke="#00cc60" stroke-width="1" fill="none"/>
<path d="M450.5 366.5 L450.5 383.5" stroke="#00cc60" stroke-width="1" fill="none"/>
<path d="M443.5 383.5 L456.5 383.5 L450.5 390.5 L443.5 383.5" stroke="#00cc60" stroke-width="1" fill="none"/>
<path d="M506.5 246.5 L536.5 246.5" stroke="#00cc60" stroke-width="1" fill="none"/>
<path d="M521.5 246.5 L521.5 270.5" stroke="#00cc60" stroke-width="1" fill="none"/>
<path d="M521.5 270.5 L521.5 279.5 L512.5 279.5 L512.5 297.5 L521.5 297.5 L521.5 306.5" stroke="#00cc60" stroke-width="1" fill="none"/>
<path d="M509.5 280.5 L509.5 296.5" stroke="#00cc60" stroke-width="1" fill="none"/>
<path d="M497.5 288.5 L509.5 288.5" stroke="#c8c8c8" stroke-width="1" fill="none"/>
<circle cx="505.89" cy="288.38" r="2.05" fill="#00cc60" shape-rendering="auto"/>
<path d="M515.5 282.5 L525.5 282.5" stroke="#00cc60" stroke-width="1" fill="none"/>
<path d="M521.5 330.5 L521.5 338.5 L509.5 338.5 L509.5 356.5 L521.5 356.5 L521.5 366.5" stroke="#00cc60" stroke-width="1" fill="none"/>
<path d="M506.5 339.5 L506.5 356.5" stroke="#00cc60" stroke-width="1" fill="none"/>
<path d="M497.5 348.5 L506.5 348.5" stroke="#00cc60" stroke-width="1" fill="none"/>
<path d="M514.5 353.5 L520.5 356.5 L514.5 359.5" stroke="#00cc60" stroke-width="1" fill="none"/>
<path d="M521.5 366.5 L521.5 383.5" stroke="#00cc60" stroke-width="1" fill="none"/>
<path d="M515.5 383.5 L527.5 383.5 L521.5 390.5 L515.5 383.5" stroke="#00cc60" stroke-width="1" fill="none"/>
<path d="M560.5 246.5 L589.5 246.5" stroke="#00cc60" stroke-width="1" fill="none"/>
<path d="M575.5 246.5 L575.5 270.5" stroke="#00cc60" stroke-width="1" fill="none"/>
<path d="M575.5 270.5 L575.5 279.5 L566.5 279.5 L566.5 297.5 L575.5 297.5 L575.5 306.5" stroke="#00cc60" stroke-width="1" fill="none"/>
<path d="M563.5 280.5 L563.5 296.5" stroke="#00cc60" stroke-width="1" fill="none"/>
<path d="M551.5 288.5 L563.5 288.5" stroke="#c8c8c8" stroke-width="1" fill="none"/>
<circle cx="559.49" cy="288.38" r="2.05" fill="#00cc60" shape-rendering="auto"/>
<path d="M569.5 282.5 L579.5 282.5" stroke="#00cc60" stroke-width="1" fill="none"/>
<path d="M575.5 330.5 L575.5 338.5 L563.5 338.5 L563.5 356.5 L575.5 356.5 L575.5 366.5" stroke="#00cc60" stroke-width="1" fill="none"/>
<path d="M560.5 339.5 L560.5 356.5" stroke="#00cc60" stroke-width="1" fill="none"/>
<path d="M551.5 348.5 L560.5 348.5" stroke="#00cc60" stroke-width="1" fill="none"/>
<path d="M568.5 353.5 L574.5 356.5 L568.5 359.5" stroke="#00cc60" stroke-width="1" fill="none"/>
<path d="M575.5 366.5 L575.5 383.5" stroke="#00cc60" stroke-width="1" fill="none"/>
<path d="M568.5 383.5 L581.5 383.5 L575.5 390.5 L568.5 383.5" stroke="#00cc60" stroke-width="1" fill="none"/>
<path d="M613.5 246.5 L643.5 246.5" stroke="#00cc60" stroke-width="1" fill="none"/>
<path d="M628.5 246.5 L628.5 270.5" stroke="#00cc60" stroke-width="1" fill="none"/>
<path d="M628.5 270.5 L628.5 279.5 L619.5 279.5 L619.5 297.5 L628.5 297.5 L628.5 306.5" stroke="#00cc60" stroke-width="1" fill="none"/>
<path d="M616.5 280.5 L616.5 296.5" stroke="#00cc60" stroke-width="1" fill="none"/>
<path d="M604.5 288.5 L616.5 288.5" stroke="#c8c8c8" stroke-width="1" fill="none"/>
<circle cx="613.1" cy="288.38" r="2.05" fill="#00cc60" shape-rendering="auto"/>
<path d="M622.5 282.5 L632.5 282.5" stroke="#00cc60" stroke-width="1" fill="none"/>
<path d="M628.5 330.5 L628.5 338.5 L616.5 338.5 L616.5 356.5 L628.5 356.5 L628.5 366.5" stroke="#00cc60" stroke-width="1" fill="none"/>
<path d="M613.5 339.5 L613.5 356.5" stroke="#00cc60" stroke-width="1" fill="none"/>
<path d="M604.5 348.5 L613.5 348.5" stroke="#00cc60" stroke-width="1" fill="none"/>
<path d="M621.5 353.5 L627.5 356.5 L621.5 359.5" stroke="#00cc60" stroke-width="1" fill="none"/>
<path d="M628.5 366.5 L628.5 383.5" stroke="#00cc60" stroke-width="1" fill="none"/>
<path d="M622.5 383.5 L634.5 383.5 L628.5 390.5 L622.5 383.5" stroke="#00cc60" stroke-width="1" fill="none"/>
<path d="M679.5 246.5 L709.5 246.5" stroke="#00cc60" stroke-width="1" fill="none"/>
<path d="M694.5 246.5 L694.5 270.5" stroke="#00cc60" stroke-width="1" fill="none"/>
<path d="M694.5 270.5 L694.5 279.5 L685.5 279.5 L685.5 297.5 L694.5 297.5 L694.5 306.5" stroke="#00cc60" stroke-width="1" fill="none"/>
<path d="M682.5 280.5 L682.5 296.5" stroke="#00cc60" stroke-width="1" fill="none"/>
<path d="M670.5 288.5 L682.5 288.5" stroke="#c8c8c8" stroke-width="1" fill="none"/>
<circle cx="678.62" cy="288.38" r="2.05" fill="#00cc60" shape-rendering="auto"/>
<path d="M688.5 282.5 L698.5 282.5" stroke="#00cc60" stroke-width="1" fill="none"/>
<path d="M694.5 330.5 L694.5 338.5 L682.5 338.5 L682.5 356.5 L694.5 356.5 L694.5 366.5" stroke="#00cc60" stroke-width="1" fill="none"/>
<path d="M679.5 339.5 L679.5 356.5" stroke="#00cc60" stroke-width="1" fill="none"/>
<path d="M670.5 348.5 L679.5 348.5" stroke="#00cc60" stroke-width="1" fill="none"/>
<path d="M687.5 353.5 L693.5 356.5 L687.5 359.5" stroke="#00cc60" stroke-width="1" fill="none"/>
<path d="M694.5 366.5 L694.5 383.5" stroke="#00cc60" stroke-width="1" fill="none"/>
<path d="M688.5 383.5 L700.5 383.5 L694.5 390.5 L688.5 383.5" stroke="#00cc60" stroke-width="1" fill="none"/>
<path d="M735.5 318.5 L735.5 323.5 L741.5 325.5 L729.5 329.5 L741.5 333.5 L729.5 337.5 L741.5 341.5 L729.5 346.5 L735.5 348.5 L735.5 354.5" stroke="#00cc60" stroke-width="1" fill="none"/>
<path d="M735.5 354.5 L735.5 372.5" stroke="#00cc60" stroke-width="1" fill="none"/>
<path d="M729.5 372.5 L742.5 372.5 L735.5 378.5 L729.5 372.5" stroke="#00cc60" stroke-width="1" fill="none"/>
</g>
<g id="blue" shape-rendering="crispEdges">
<path d="M9.5 98.5 L9.5 116.5" stroke="#30b8fc" stroke-width="1" fill="none"/>
<path d="M9.5 116.5 L2.5 116.5 L2.5 125.5" stroke="#30b8fc" stroke-width="1" fill="none"/>
<path d="M116.5 98.5 L116.5 116.5" stroke="#30b8fc" stroke-width="1" fill="none"/>
<path d="M116.5 116.5 L122.5 116.5 L122.5 125.5" stroke="#30b8fc" stroke-width="1" fill="none"/>
<path d="M33.5 133.5 L92.5 133.5" stroke="#30b8fc" stroke-width="1" fill="none"/>
<path d="M33.5 133.5 L33.5 151.5 L9.5 151.5" stroke="#30b8fc" stroke-width="1" fill="none"/>
<path d="M9.5 151.5 L9.5 169.5" stroke="#30b8fc" stroke-width="1" fill="none"/>
<path d="M9.5 205.5 L9.5 217.5" stroke="#30b8fc" stroke-width="1" fill="none"/>
<path d="M116.5 151.5 L116.5 163.5" stroke="#30b8fc" stroke-width="1" fill="none"/>
<path d="M68.5 169.5 L68.5 163.5 L176.5 163.5 L176.5 169.5" stroke="#30b8fc" stroke-width="1" fill="none"/>
<path d="M68.5 169.5 L62.5 169.5 L62.5 179.5" stroke="#30b8fc" stroke-width="1" fill="none"/>
<path d="M176.5 169.5 L182.5 169.5 L182.5 179.5" stroke="#30b8fc" stroke-width="1" fill="none"/>
<path d="M92.5 187.5 L110.5 187.5 L110.5 211.5 L176.5 211.5" stroke="#30b8fc" stroke-width="1" fill="none"/>
<path d="M152.5 187.5 L134.5 187.5 L134.5 217.5 L68.5 217.5" stroke="#30b8fc" stroke-width="1" fill="none"/>
<path d="M68.5 205.5 L68.5 276.5" stroke="#30b8fc" stroke-width="1" fill="none"/>
<path d="M176.5 205.5 L176.5 276.5" stroke="#30b8fc" stroke-width="1" fill="none"/>
<path d="M45.5 241.5 L68.5 241.5" stroke="#30b8fc" stroke-width="1" fill="none"/>
<path d="M176.5 241.5 L211.5 241.5" stroke="#30b8fc" stroke-width="1" fill="none"/>
<path d="M68.5 258.5 L134.5 258.5 L134.5 294.5 L152.5 294.5" stroke="#30b8fc" stroke-width="1" fill="none"/>
<path d="M176.5 264.5 L110.5 264.5 L110.5 294.5 L92.5 294.5" stroke="#30b8fc" stroke-width="1" fill="none"/>
<path d="M68.5 312.5 L68.5 318.5 L176.5 318.5 L176.5 312.5" stroke="#30b8fc" stroke-width="1" fill="none"/>
<path d="M122.5 318.5 L122.5 330.5" stroke="#30b8fc" stroke-width="1" fill="none"/>
<path d="M9.5 276.5 L9.5 288.5" stroke="#30b8fc" stroke-width="1" fill="none"/>
<path d="M9.5 324.5 L9.5 336.5" stroke="#30b8fc" stroke-width="1" fill="none"/>
<path d="M211.5 26.5 L181.5 26.5 L181.5 74.5" stroke="#30b8fc" stroke-width="1" fill="none"/>
<path d="M247.5 26.5 L277.5 26.5 L277.5 74.5" stroke="#30b8fc" stroke-width="1" fill="none"/>
<path d="M229.5 38.5 L229.5 122.5" stroke="#30b8fc" stroke-width="1" fill="none"/>
<path d="M158.5 74.5 L181.5 74.5" stroke="#30b8fc" stroke-width="1" fill="none"/>
<path d="M277.5 74.5 L302.5 74.5" stroke="#30b8fc" stroke-width="1" fill="none"/>
<path d="M217.5 74.5 L241.5 74.5" stroke="#30b8fc" stroke-width="1" fill="none"/>
<path d="M181.5 122.5 L193.5 122.5" stroke="#30b8fc" stroke-width="1" fill="none"/>
<path d="M235.5 151.5 L259.5 151.5" stroke="#30b8fc" stroke-width="1" fill="none"/>
<path d="M295.5 151.5 L318.5 151.5" stroke="#30b8fc" stroke-width="1" fill="none"/>
<path d="M229.5 318.5 L253.5 318.5" stroke="#30b8fc" stroke-width="1" fill="none"/>
<path d="M289.5 318.5 L313.5 318.5" stroke="#30b8fc" stroke-width="1" fill="none"/>
<path d="M318.5 122.5 L318.5 181.5" stroke="#30b8fc" stroke-width="1" fill="none"/>
<path d="M318.5 122.5 L372.5 122.5" stroke="#30b8fc" stroke-width="1" fill="none"/>
<path d="M318.5 181.5 L372.5 181.5" stroke="#30b8fc" stroke-width="1" fill="none"/>
<path d="M318.5 163.5 L330.5 163.5" stroke="#30b8fc" stroke-width="1" fill="none"/>
<path d="M366.5 163.5 L396.5 163.5" stroke="#30b8fc" stroke-width="1" fill="none"/>
<path d="M396.5 104.5 L402.5 104.5 L402.5 113.5" stroke="#30b8fc" stroke-width="1" fill="none"/>
<path d="M396.5 139.5 L396.5 163.5" stroke="#30b8fc" stroke-width="1" fill="none"/>
<path d="M396.5 151.5 L438.5 151.5" stroke="#30b8fc" stroke-width="1" fill="none"/>
<path d="M438.5 122.5 L438.5 181.5" stroke="#30b8fc" stroke-width="1" fill="none"/>
<path d="M461.5 104.5 L468.5 104.5 L468.5 113.5" stroke="#30b8fc" stroke-width="1" fill="none"/>
<path d="M461.5 139.5 L461.5 163.5" stroke="#30b8fc" stroke-width="1" fill="none"/>
<path d="M461.5 151.5 L503.5 151.5" stroke="#30b8fc" stroke-width="1" fill="none"/>
<path d="M503.5 122.5 L503.5 181.5" stroke="#30b8fc" stroke-width="1" fill="none"/>
<path d="M527.5 104.5 L533.5 104.5 L533.5 113.5" stroke="#30b8fc" stroke-width="1" fill="none"/>
<path d="M527.5 139.5 L527.5 163.5" stroke="#30b8fc" stroke-width="1" fill="none"/>
<path d="M527.5 151.5 L551.5 151.5" stroke="#30b8fc" stroke-width="1" fill="none"/>
<path d="M551.5 122.5 L551.5 181.5" stroke="#30b8fc" stroke-width="1" fill="none"/>
<path d="M575.5 104.5 L581.5 104.5 L581.5 113.5" stroke="#30b8fc" stroke-width="1" fill="none"/>
<path d="M575.5 139.5 L575.5 163.5" stroke="#30b8fc" stroke-width="1" fill="none"/>
<path d="M575.5 151.5 L604.5 151.5" stroke="#30b8fc" stroke-width="1" fill="none"/>
<path d="M604.5 122.5 L604.5 181.5" stroke="#30b8fc" stroke-width="1" fill="none"/>
<path d="M628.5 104.5 L634.5 104.5 L634.5 113.5" stroke="#30b8fc" stroke-width="1" fill="none"/>
<path d="M628.5 139.5 L628.5 163.5" stroke="#30b8fc" stroke-width="1" fill="none"/>
<path d="M628.5 151.5 L670.5 151.5" stroke="#30b8fc" stroke-width="1" fill="none"/>
<path d="M670.5 122.5 L670.5 181.5" stroke="#30b8fc" stroke-width="1" fill="none"/>
<path d="M694.5 104.5 L700.5 104.5 L700.5 113.5" stroke="#30b8fc" stroke-width="1" fill="none"/>
<path d="M694.5 139.5 L694.5 163.5" stroke="#30b8fc" stroke-width="1" fill="none"/>
<path d="M694.5 151.5 L735.5 151.5" stroke="#30b8fc" stroke-width="1" fill="none"/>
<path d="M313.5 288.5 L313.5 348.5" stroke="#30b8fc" stroke-width="1" fill="none"/>
<path d="M313.5 288.5 L366.5 288.5" stroke="#30b8fc" stroke-width="1" fill="none"/>
<path d="M313.5 348.5 L366.5 348.5" stroke="#30b8fc" stroke-width="1" fill="none"/>
<path d="M313.5 330.5 L324.5 330.5" stroke="#30b8fc" stroke-width="1" fill="none"/>
<path d="M360.5 330.5 L390.5 330.5" stroke="#30b8fc" stroke-width="1" fill="none"/>
<path d="M390.5 270.5 L396.5 270.5 L396.5 280.5" stroke="#30b8fc" stroke-width="1" fill="none"/>
<path d="M390.5 306.5 L390.5 330.5" stroke="#30b8fc" stroke-width="1" fill="none"/>
<path d="M390.5 318.5 L426.5 318.5" stroke="#30b8fc" stroke-width="1" fill="none"/>
<path d="M426.5 288.5 L426.5 348.5" stroke="#30b8fc" stroke-width="1" fill="none"/>
<path d="M450.5 270.5 L456.5 270.5 L456.5 280.5" stroke="#30b8fc" stroke-width="1" fill="none"/>
<path d="M450.5 306.5 L450.5 330.5" stroke="#30b8fc" stroke-width="1" fill="none"/>
<path d="M450.5 318.5 L497.5 318.5" stroke="#30b8fc" stroke-width="1" fill="none"/>
<path d="M497.5 288.5 L497.5 348.5" stroke="#30b8fc" stroke-width="1" fill="none"/>
<path d="M521.5 270.5 L527.5 270.5 L527.5 280.5" stroke="#30b8fc" stroke-width="1" fill="none"/>
<path d="M521.5 306.5 L521.5 330.5" stroke="#30b8fc" stroke-width="1" fill="none"/>
<path d="M521.5 318.5 L551.5 318.5" stroke="#30b8fc" stroke-width="1" fill="none"/>
<path d="M551.5 288.5 L551.5 348.5" stroke="#30b8fc" stroke-width="1" fill="none"/>
<path d="M575.5 270.5 L581.5 270.5 L581.5 280.5" stroke="#30b8fc" stroke-width="1" fill="none"/>
<path d="M575.5 306.5 L575.5 330.5" stroke="#30b8fc" stroke-width="1" fill="none"/>
<path d="M575.5 318.5 L604.5 318.5" stroke="#30b8fc" stroke-width="1" fill="none"/>
<path d="M604.5 288.5 L604.5 348.5" stroke="#30b8fc" stroke-width="1" fill="none"/>
<path d="M628.5 270.5 L634.5 270.5 L634.5 280.5" stroke="#30b8fc" stroke-width="1" fill="none"/>
<path d="M628.5 306.5 L628.5 330.5" stroke="#30b8fc" stroke-width="1" fill="none"/>
<path d="M628.5 318.5 L670.5 318.5" stroke="#30b8fc" stroke-width="1" fill="none"/>
<path d="M670.5 288.5 L670.5 348.5" stroke="#30b8fc" stroke-width="1" fill="none"/>
<path d="M694.5 270.5 L700.5 270.5 L700.5 280.5" stroke="#30b8fc" stroke-width="1" fill="none"/>
<path d="M694.5 306.5 L694.5 330.5" stroke="#30b8fc" stroke-width="1" fill="none"/>
<path d="M694.5 318.5 L735.5 318.5" stroke="#30b8fc" stroke-width="1" fill="none"/>
</g>
<g id="junc" shape-rendering="crispEdges">
<rect x="114" y="161" width="5" height="5" fill="#33bbff"/>
<rect x="66" y="215" width="5" height="5" fill="#33bbff"/>
<rect x="66" y="239" width="5" height="4" fill="#33bbff"/>
<rect x="66" y="257" width="5" height="4" fill="#33bbff"/>
<rect x="174" y="209" width="4" height="5" fill="#33bbff"/>
<rect x="174" y="239" width="4" height="4" fill="#33bbff"/>
<rect x="174" y="263" width="4" height="4" fill="#33bbff"/>
<rect x="120" y="316" width="5" height="5" fill="#33bbff"/>
<rect x="227" y="72" width="5" height="5" fill="#33bbff"/>
<rect x="317" y="149" width="4" height="5" fill="#33bbff"/>
<rect x="317" y="161" width="4" height="5" fill="#33bbff"/>
<rect x="394" y="149" width="5" height="5" fill="#33bbff"/>
<rect x="436" y="149" width="4" height="5" fill="#33bbff"/>
<rect x="460" y="149" width="4" height="5" fill="#33bbff"/>
<rect x="501" y="149" width="5" height="5" fill="#33bbff"/>
<rect x="525" y="149" width="5" height="5" fill="#33bbff"/>
<rect x="549" y="149" width="5" height="5" fill="#33bbff"/>
<rect x="573" y="149" width="4" height="5" fill="#33bbff"/>
<rect x="602" y="149" width="5" height="5" fill="#33bbff"/>
<rect x="626" y="149" width="5" height="5" fill="#33bbff"/>
<rect x="668" y="149" width="5" height="5" fill="#33bbff"/>
<rect x="692" y="149" width="5" height="5" fill="#33bbff"/>
<rect x="311" y="316" width="4" height="5" fill="#33bbff"/>
<rect x="311" y="328" width="4" height="5" fill="#33bbff"/>
<rect x="388" y="316" width="5" height="5" fill="#33bbff"/>
<rect x="424" y="316" width="4" height="5" fill="#33bbff"/>
<rect x="448" y="316" width="4" height="5" fill="#33bbff"/>
<rect x="495" y="316" width="5" height="5" fill="#33bbff"/>
<rect x="519" y="316" width="5" height="5" fill="#33bbff"/>
<rect x="549" y="316" width="5" height="5" fill="#33bbff"/>
<rect x="573" y="316" width="4" height="5" fill="#33bbff"/>
<rect x="602" y="316" width="5" height="5" fill="#33bbff"/>
<rect x="626" y="316" width="5" height="5" fill="#33bbff"/>
<rect x="668" y="316" width="5" height="5" fill="#33bbff"/>
<rect x="692" y="316" width="5" height="5" fill="#33bbff"/>
</g>
<g id="red" shape-rendering="crispEdges">
<rect x="6" y="95" width="6" height="6" fill="#ff0000"/>
<path d="M2 128.5 l4.6 -2.4 l0 4.8 z" fill="#ff0000" shape-rendering="auto"/>
<rect x="6" y="113" width="6" height="6" fill="#ff0000"/>
<rect x="6" y="149" width="6" height="6" fill="#ff0000"/>
<rect x="30" y="131" width="6" height="6" fill="#ff0000"/>
<rect x="114" y="95" width="5" height="6" fill="#ff0000"/>
<path d="M124 128.5 l-4.6 -2.4 l0 4.8 z" fill="#ff0000" shape-rendering="auto"/>
<rect x="114" y="113" width="5" height="6" fill="#ff0000"/>
<rect x="114" y="149" width="5" height="6" fill="#ff0000"/>
<rect x="90" y="131" width="5" height="6" fill="#ff0000"/>
<rect x="6" y="167" width="6" height="5" fill="#ff0000"/>
<rect x="6" y="203" width="6" height="5" fill="#ff0000"/>
<rect x="6" y="214" width="6" height="6" fill="#ff0000"/>
<path d="M61 181.5 l4.6 -2.4 l0 4.8 z" fill="#ff0000" shape-rendering="auto"/>
<rect x="66" y="167" width="6" height="5" fill="#ff0000"/>
<rect x="66" y="203" width="6" height="5" fill="#ff0000"/>
<rect x="90" y="185" width="5" height="5" fill="#ff0000"/>
<path d="M184 181.5 l-4.6 -2.4 l0 4.8 z" fill="#ff0000" shape-rendering="auto"/>
<rect x="173" y="167" width="6" height="5" fill="#ff0000"/>
<rect x="173" y="203" width="6" height="5" fill="#ff0000"/>
<rect x="149" y="185" width="6" height="5" fill="#ff0000"/>
<rect x="66" y="274" width="6" height="6" fill="#ff0000"/>
<rect x="66" y="310" width="6" height="5" fill="#ff0000"/>
<rect x="90" y="292" width="5" height="6" fill="#ff0000"/>
<rect x="173" y="274" width="6" height="6" fill="#ff0000"/>
<rect x="173" y="310" width="6" height="5" fill="#ff0000"/>
<rect x="149" y="292" width="6" height="6" fill="#ff0000"/>
<rect x="120" y="328" width="5" height="5" fill="#ff0000"/>
<rect x="6" y="274" width="6" height="6" fill="#ff0000"/>
<rect x="6" y="286" width="6" height="6" fill="#ff0000"/>
<rect x="6" y="322" width="6" height="5" fill="#ff0000"/>
<rect x="6" y="334" width="6" height="5" fill="#ff0000"/>
<rect x="209" y="24" width="6" height="6" fill="#ff0000"/>
<rect x="245" y="24" width="5" height="6" fill="#ff0000"/>
<rect x="227" y="36" width="5" height="5" fill="#ff0000"/>
<rect x="179" y="72" width="6" height="5" fill="#ff0000"/>
<rect x="215" y="72" width="6" height="5" fill="#ff0000"/>
<rect x="239" y="72" width="5" height="5" fill="#ff0000"/>
<rect x="274" y="72" width="6" height="5" fill="#ff0000"/>
<rect x="179" y="119" width="6" height="6" fill="#ff0000"/>
<rect x="191" y="119" width="6" height="6" fill="#ff0000"/>
<rect x="227" y="119" width="5" height="6" fill="#ff0000"/>
<rect x="257" y="149" width="5" height="6" fill="#ff0000"/>
<rect x="292" y="149" width="6" height="6" fill="#ff0000"/>
<rect x="251" y="316" width="5" height="5" fill="#ff0000"/>
<rect x="286" y="316" width="6" height="5" fill="#ff0000"/>
<rect x="328" y="161" width="6" height="5" fill="#ff0000"/>
<rect x="364" y="161" width="5" height="5" fill="#ff0000"/>
<rect x="399" y="115" width="3" height="3" fill="#ff0000"/>
<rect x="394" y="101" width="5" height="6" fill="#ff0000"/>
<rect x="394" y="137" width="5" height="6" fill="#ff0000"/>
<rect x="370" y="119" width="5" height="6" fill="#ff0000"/>
<rect x="394" y="161" width="5" height="5" fill="#ff0000"/>
<rect x="394" y="197" width="5" height="5" fill="#ff0000"/>
<rect x="370" y="179" width="5" height="5" fill="#ff0000"/>
<rect x="465" y="115" width="3" height="3" fill="#ff0000"/>
<rect x="459" y="101" width="6" height="6" fill="#ff0000"/>
<rect x="459" y="137" width="6" height="6" fill="#ff0000"/>
<rect x="435" y="119" width="6" height="6" fill="#ff0000"/>
<rect x="459" y="161" width="6" height="5" fill="#ff0000"/>
<rect x="459" y="197" width="6" height="5" fill="#ff0000"/>
<rect x="435" y="179" width="6" height="5" fill="#ff0000"/>
<rect x="530" y="115" width="3" height="3" fill="#ff0000"/>
<rect x="525" y="101" width="5" height="6" fill="#ff0000"/>
<rect x="525" y="137" width="5" height="6" fill="#ff0000"/>
<rect x="501" y="119" width="5" height="6" fill="#ff0000"/>
<rect x="525" y="161" width="5" height="5" fill="#ff0000"/>
<rect x="525" y="197" width="5" height="5" fill="#ff0000"/>
<rect x="501" y="179" width="5" height="5" fill="#ff0000"/>
<rect x="578" y="115" width="3" height="3" fill="#ff0000"/>
<rect x="572" y="101" width="6" height="6" fill="#ff0000"/>
<rect x="572" y="137" width="6" height="6" fill="#ff0000"/>
<rect x="548" y="119" width="6" height="6" fill="#ff0000"/>
<rect x="572" y="161" width="6" height="5" fill="#ff0000"/>
<rect x="572" y="197" width="6" height="5" fill="#ff0000"/>
<rect x="548" y="179" width="6" height="5" fill="#ff0000"/>
<rect x="632" y="115" width="3" height="3" fill="#ff0000"/>
<rect x="626" y="101" width="5" height="6" fill="#ff0000"/>
<rect x="626" y="137" width="5" height="6" fill="#ff0000"/>
<rect x="602" y="119" width="6" height="6" fill="#ff0000"/>
<rect x="626" y="161" width="5" height="5" fill="#ff0000"/>
<rect x="626" y="197" width="5" height="5" fill="#ff0000"/>
<rect x="602" y="179" width="6" height="5" fill="#ff0000"/>
<rect x="697" y="115" width="3" height="3" fill="#ff0000"/>
<rect x="691" y="101" width="6" height="6" fill="#ff0000"/>
<rect x="691" y="137" width="6" height="6" fill="#ff0000"/>
<rect x="668" y="119" width="5" height="6" fill="#ff0000"/>
<rect x="691" y="161" width="6" height="5" fill="#ff0000"/>
<rect x="691" y="197" width="6" height="5" fill="#ff0000"/>
<rect x="668" y="179" width="5" height="5" fill="#ff0000"/>
<rect x="733" y="149" width="6" height="6" fill="#ff0000"/>
<rect x="733" y="185" width="6" height="5" fill="#ff0000"/>
<rect x="322" y="328" width="6" height="5" fill="#ff0000"/>
<rect x="358" y="328" width="5" height="5" fill="#ff0000"/>
<path d="M398 282.5 l-4.6 -2.4 l0 4.8 z" fill="#ff0000" shape-rendering="auto"/>
<rect x="388" y="268" width="5" height="6" fill="#ff0000"/>
<rect x="388" y="304" width="5" height="5" fill="#ff0000"/>
<rect x="364" y="286" width="5" height="6" fill="#ff0000"/>
<rect x="388" y="328" width="5" height="5" fill="#ff0000"/>
<rect x="388" y="363" width="5" height="6" fill="#ff0000"/>
<rect x="364" y="345" width="5" height="6" fill="#ff0000"/>
<path d="M458 282.5 l-4.6 -2.4 l0 4.8 z" fill="#ff0000" shape-rendering="auto"/>
<rect x="447" y="268" width="6" height="6" fill="#ff0000"/>
<rect x="447" y="304" width="6" height="5" fill="#ff0000"/>
<rect x="423" y="286" width="6" height="6" fill="#ff0000"/>
<rect x="447" y="328" width="6" height="5" fill="#ff0000"/>
<rect x="447" y="363" width="6" height="6" fill="#ff0000"/>
<rect x="423" y="345" width="6" height="6" fill="#ff0000"/>
<path d="M529 282.5 l-4.6 -2.4 l0 4.8 z" fill="#ff0000" shape-rendering="auto"/>
<rect x="519" y="268" width="5" height="6" fill="#ff0000"/>
<rect x="519" y="304" width="5" height="5" fill="#ff0000"/>
<rect x="495" y="286" width="5" height="6" fill="#ff0000"/>
<rect x="519" y="328" width="5" height="5" fill="#ff0000"/>
<rect x="519" y="363" width="5" height="6" fill="#ff0000"/>
<rect x="495" y="345" width="5" height="6" fill="#ff0000"/>
<path d="M583 282.5 l-4.6 -2.4 l0 4.8 z" fill="#ff0000" shape-rendering="auto"/>
<rect x="572" y="268" width="6" height="6" fill="#ff0000"/>
<rect x="572" y="304" width="6" height="5" fill="#ff0000"/>
<rect x="548" y="286" width="6" height="6" fill="#ff0000"/>
<rect x="572" y="328" width="6" height="5" fill="#ff0000"/>
<rect x="572" y="363" width="6" height="6" fill="#ff0000"/>
<rect x="548" y="345" width="6" height="6" fill="#ff0000"/>
<path d="M636 282.5 l-4.6 -2.4 l0 4.8 z" fill="#ff0000" shape-rendering="auto"/>
<rect x="626" y="268" width="5" height="6" fill="#ff0000"/>
<rect x="626" y="304" width="5" height="5" fill="#ff0000"/>
<rect x="602" y="286" width="6" height="6" fill="#ff0000"/>
<rect x="626" y="328" width="5" height="5" fill="#ff0000"/>
<rect x="626" y="363" width="5" height="6" fill="#ff0000"/>
<rect x="602" y="345" width="6" height="6" fill="#ff0000"/>
<path d="M702 282.5 l-4.6 -2.4 l0 4.8 z" fill="#ff0000" shape-rendering="auto"/>
<rect x="691" y="268" width="6" height="6" fill="#ff0000"/>
<rect x="691" y="304" width="6" height="5" fill="#ff0000"/>
<rect x="668" y="286" width="5" height="6" fill="#ff0000"/>
<rect x="691" y="328" width="6" height="5" fill="#ff0000"/>
<rect x="691" y="363" width="6" height="6" fill="#ff0000"/>
<rect x="668" y="345" width="5" height="6" fill="#ff0000"/>
<rect x="733" y="316" width="6" height="5" fill="#ff0000"/>
<rect x="733" y="351" width="6" height="6" fill="#ff0000"/>
</g>
<g id="text">
<path d="M14.5 110.5L15.5 114.5L17.5 110.5M21.5 111.5L20.5 110.5L19.5 110.5L18.5 111.5L18.5 113.5L19.5 114.5L20.5 114.5L21.5 113.5M25.5 111.5L24.5 110.5L23.5 110.5L22.5 111.5L22.5 113.5L23.5 114.5L24.5 114.5L25.5 113.5M26.5 109.5L26.5 114.5" stroke="#ffffff"/>
<path d="M97.5 110.5L98.5 114.5L100.5 110.5M104.5 111.5L103.5 110.5L102.5 110.5L101.5 111.5L101.5 113.5L102.5 114.5L103.5 114.5L104.5 113.5M108.5 111.5L107.5 110.5L106.5 110.5L105.5 111.5L105.5 113.5L106.5 114.5L107.5 114.5L108.5 113.5M109.5 109.5L109.5 114.5" stroke="#ffffff"/>
<path d="M7.5 137.5L7.5 132.5L9.5 135.5L11.5 132.5L11.5 137.5M14.5 133.5L13.5 132.5L12.5 132.5L11.5 133.5L11.5 136.5L12.5 137.5L13.5 137.5L14.5 136.5L14.5 135.5L13.5 134.5L12.5 134.5L11.5 135.5" stroke="#ff0000"/>
<path d="M0.5 133.5L1.5 132.5L1.5 137.5M0.5 137.5L2.5 137.5" stroke="#ff8800"/>
<path d="M-7.5 115.5L-7.5 119.5L-6.5 116.5L-5.5 119.5L-4.5 115.5M-1.5 114.5L-2.5 114.5L-2.5 114.5L-2.5 119.5M-3.5 115.5L-1.5 115.5M-0.5 115.5L2.5 115.5M-0.5 117.5L2.5 117.5" stroke="#ff8800"/>
<path d="M-7.5 127.5L-7.5 131.5M-7.5 128.5L-7.5 127.5L-6.5 127.5L-5.5 128.5L-5.5 131.5M-2.5 126.5L-3.5 126.5L-3.5 126.5L-3.5 131.5M-4.5 127.5L-2.5 127.5M-1.5 127.5L2.5 127.5M-1.5 129.5L2.5 129.5" stroke="#ff8800"/>
<path d="M109.5 137.5L109.5 132.5L111.5 135.5L113.5 132.5L113.5 137.5M116.5 132.5L113.5 132.5L113.5 134.5L114.5 134.5L115.5 134.5L116.5 134.5L116.5 136.5L115.5 137.5L114.5 137.5L113.5 136.5" stroke="#ff0000"/>
<path d="M15.5 145.5L15.5 149.5M15.5 146.5L16.5 145.5L17.5 145.5L18.5 146.5L18.5 147.5L17.5 148.5L16.5 148.5L15.5 147.5M21.5 143.5L20.5 143.5L20.5 144.5L20.5 148.5M19.5 145.5L21.5 145.5M22.5 146.5L24.5 146.5L24.5 146.5L24.5 145.5L23.5 145.5L22.5 146.5L22.5 147.5L23.5 148.5L24.5 148.5L24.5 147.5M26.5 143.5L26.5 147.5L27.5 148.5L27.5 148.5M25.5 145.5L27.5 145.5M28.5 149.5L32.5 149.5M32.5 145.5L32.5 148.5M32.5 146.5L33.5 145.5L34.5 145.5L35.5 145.5M38.5 143.5L37.5 143.5L36.5 144.5L36.5 148.5M36.5 145.5L37.5 145.5" stroke="#00cc60"/>
<path d="M87.5 145.5L87.5 149.5M87.5 146.5L87.5 145.5L88.5 145.5L89.5 146.5L89.5 147.5L88.5 148.5L87.5 148.5L87.5 147.5M92.5 143.5L91.5 143.5L91.5 144.5L91.5 148.5M90.5 145.5L92.5 145.5M93.5 146.5L96.5 146.5L96.5 146.5L95.5 145.5L94.5 145.5L93.5 146.5L93.5 147.5L94.5 148.5L95.5 148.5L96.5 147.5M97.5 143.5L97.5 147.5L98.5 148.5L99.5 148.5M97.5 145.5L98.5 145.5M99.5 149.5L103.5 149.5M104.5 145.5L104.5 148.5M104.5 146.5L104.5 145.5L105.5 145.5L106.5 145.5M109.5 143.5L108.5 143.5L107.5 144.5L107.5 148.5M107.5 145.5L109.5 145.5" stroke="#00cc60"/>
<path d="M11.5 156.5L11.5 160.5M11.5 157.5L12.5 156.5L13.5 156.5L14.5 157.5L14.5 160.5M15.5 158.5L18.5 158.5L18.5 157.5L17.5 156.5L16.5 156.5L15.5 157.5L15.5 159.5L16.5 160.5L17.5 160.5L18.5 159.5M20.5 154.5L20.5 159.5L20.5 160.5L21.5 160.5M19.5 156.5L21.5 156.5M23.5 154.5L24.5 154.5L25.5 155.5L25.5 159.5L24.5 160.5L23.5 160.5L22.5 159.5L22.5 155.5L23.5 154.5M23.5 158.5L25.5 155.5M29.5 160.5L29.5 154.5L26.5 158.5L29.5 158.5M33.5 160.5L33.5 154.5L30.5 158.5L34.5 158.5" stroke="#ffffff"/>
<path d="M37.5 128.5L37.5 132.5M37.5 129.5L38.5 128.5L39.5 128.5L40.5 129.5L40.5 132.5M41.5 130.5L44.5 130.5L44.5 129.5L43.5 128.5L42.5 128.5L41.5 129.5L41.5 131.5L42.5 132.5L43.5 132.5L44.5 131.5M46.5 126.5L46.5 131.5L47.5 132.5L48.5 132.5M45.5 128.5L48.5 128.5M50.5 126.5L51.5 126.5L52.5 127.5L52.5 131.5L51.5 132.5L50.5 132.5L49.5 131.5L49.5 127.5L50.5 126.5M49.5 130.5L51.5 127.5M55.5 132.5L55.5 126.5L53.5 130.5L56.5 130.5M60.5 132.5L60.5 126.5L57.5 130.5L60.5 130.5M61.5 128.5L61.5 132.5M61.5 129.5L62.5 128.5L63.5 128.5L64.5 129.5L64.5 132.5M65.5 130.5L69.5 130.5L69.5 129.5L68.5 128.5L66.5 128.5L65.5 129.5L65.5 131.5L66.5 132.5L68.5 132.5L69.5 131.5M70.5 126.5L70.5 131.5L71.5 132.5L72.5 132.5M70.5 128.5L72.5 128.5M74.5 126.5L75.5 126.5L76.5 127.5L76.5 131.5L75.5 132.5L74.5 132.5L73.5 131.5L73.5 127.5L74.5 126.5M74.5 130.5L76.5 127.5M80.5 132.5L80.5 126.5L77.5 130.5L80.5 130.5M84.5 132.5L84.5 126.5L81.5 130.5L85.5 130.5" stroke="#ffffff"/>
<path d="M95.5 156.5L95.5 160.5M95.5 157.5L96.5 156.5L97.5 156.5L98.5 157.5L98.5 160.5M99.5 158.5L102.5 158.5L102.5 157.5L101.5 156.5L100.5 156.5L99.5 157.5L99.5 159.5L100.5 160.5L101.5 160.5L102.5 159.5M103.5 154.5L103.5 159.5L104.5 160.5L105.5 160.5M103.5 156.5L105.5 156.5M107.5 154.5L108.5 154.5L109.5 155.5L109.5 159.5L108.5 160.5L107.5 160.5L106.5 159.5L106.5 155.5L107.5 154.5M107.5 158.5L108.5 155.5M111.5 157.5L110.5 156.5L110.5 155.5L111.5 154.5L112.5 154.5L113.5 155.5L113.5 156.5L112.5 157.5L111.5 157.5L110.5 158.5L110.5 159.5L111.5 160.5L112.5 160.5L113.5 159.5L113.5 158.5L112.5 157.5" stroke="#ffffff"/>
<path d="M121.5 115.5L122.5 118.5L123.5 115.5L124.5 118.5L125.5 115.5M128.5 113.5L127.5 113.5L127.5 114.5L127.5 118.5M126.5 115.5L128.5 115.5M129.5 115.5L133.5 115.5M129.5 116.5L133.5 116.5M136.5 113.5L133.5 113.5L133.5 115.5L134.5 115.5L135.5 115.5L136.5 115.5L136.5 117.5L135.5 118.5L134.5 118.5L133.5 117.5M137.5 115.5L137.5 117.5L138.5 118.5L138.5 118.5L139.5 117.5M139.5 115.5L139.5 118.5" stroke="#ff8800"/>
<path d="M122.5 119.5L122.5 124.5M123.5 121.5L123.5 124.5M123.5 122.5L124.5 121.5L125.5 121.5L126.5 121.5M127.5 121.5L131.5 121.5M127.5 123.5L131.5 123.5M132.5 120.5L133.5 119.5L134.5 119.5L135.5 120.5L135.5 121.5L132.5 124.5L135.5 124.5M137.5 119.5L138.5 119.5L139.5 120.5L139.5 123.5L138.5 124.5L137.5 124.5L136.5 123.5L136.5 120.5L137.5 119.5M137.5 123.5L139.5 120.5M141.5 119.5L142.5 119.5L143.5 120.5L143.5 123.5L142.5 124.5L141.5 124.5L140.5 123.5L140.5 120.5L141.5 119.5M141.5 123.5L142.5 120.5M144.5 121.5L144.5 124.5M144.5 122.5L145.5 121.5L146.5 121.5L147.5 122.5L147.5 124.5" stroke="#ff8800"/>
<path d="M121.5 128.5L121.5 131.5M121.5 128.5L122.5 128.5L123.5 128.5L124.5 128.5L124.5 131.5M127.5 126.5L126.5 126.5L125.5 127.5L125.5 131.5M125.5 128.5L127.5 128.5M128.5 128.5L132.5 128.5M128.5 129.5L132.5 129.5M133.5 127.5L134.5 126.5L134.5 131.5M133.5 131.5L135.5 131.5" stroke="#ff8800"/>
<path d="M121.5 134.5L121.5 137.5M121.5 135.5L122.5 134.5L123.5 135.5L123.5 137.5M123.5 135.5L124.5 134.5L125.5 135.5L125.5 137.5M126.5 134.5L129.5 134.5M126.5 136.5L129.5 136.5M130.5 133.5L131.5 132.5L131.5 137.5M130.5 137.5L132.5 137.5" stroke="#ff8800"/>
<path d="M124.5 121.5L126.5 125.5L127.5 121.5M131.5 122.5L130.5 121.5L129.5 121.5L128.5 122.5L128.5 124.5L129.5 125.5L130.5 125.5L131.5 124.5M135.5 122.5L134.5 121.5L133.5 121.5L132.5 122.5L132.5 124.5L133.5 125.5L134.5 125.5L135.5 124.5M137.5 120.5L137.5 125.5" stroke="#ffffff"/>
<path d="M16.5 175.5L16.5 170.5M15.5 170.5L16.5 170.5M15.5 175.5L16.5 175.5M18.5 170.5L19.5 170.5L20.5 171.5L20.5 174.5L19.5 175.5L18.5 175.5L17.5 174.5L17.5 171.5L18.5 170.5M18.5 174.5L19.5 171.5" stroke="#ff0000"/>
<path d="M19.5 182.5L19.5 186.5M19.5 181.5L19.5 181.5M23.5 181.5L23.5 186.5M23.5 183.5L22.5 182.5L21.5 182.5L20.5 183.5L20.5 185.5L21.5 186.5L22.5 186.5L23.5 185.5M27.5 183.5L26.5 182.5L25.5 182.5L24.5 183.5L24.5 185.5L25.5 186.5L26.5 186.5L27.5 185.5M28.5 182.5L32.5 182.5M28.5 184.5L32.5 184.5M34.5 186.5L34.5 181.5M34.5 181.5L35.5 181.5M34.5 186.5L35.5 186.5M36.5 181.5L36.5 186.5M36.5 183.5L37.5 182.5L38.5 182.5L39.5 183.5L39.5 185.5L38.5 186.5L37.5 186.5L36.5 185.5M41.5 182.5L41.5 186.5M41.5 181.5L41.5 181.5M45.5 183.5L44.5 182.5L43.5 182.5L42.5 183.5L42.5 185.5L43.5 186.5L44.5 186.5L45.5 185.5M45.5 182.5L45.5 186.5M49.5 183.5L48.5 182.5L47.5 182.5L46.5 183.5L47.5 184.5L48.5 184.5L49.5 185.5L48.5 186.5L47.5 186.5L46.5 185.5M50.5 182.5L54.5 182.5M50.5 184.5L54.5 184.5M55.5 182.5L55.5 187.5M55.5 183.5L56.5 182.5L57.5 182.5L58.5 183.5L58.5 185.5L57.5 186.5L56.5 186.5L55.5 185.5M61.5 181.5L60.5 181.5L60.5 181.5L60.5 186.5M59.5 182.5L61.5 182.5" stroke="#ff8800"/>
<path d="M42.5 168.5L43.5 172.5L44.5 169.5L45.5 172.5L46.5 168.5M49.5 167.5L49.5 167.5L48.5 167.5L48.5 172.5M47.5 168.5L49.5 168.5M50.5 168.5L54.5 168.5M50.5 170.5L54.5 170.5M57.5 167.5L55.5 167.5L55.5 169.5L56.5 168.5L56.5 168.5L57.5 169.5L57.5 171.5L56.5 172.5L56.5 172.5L55.5 171.5M58.5 168.5L58.5 171.5L59.5 172.5L60.5 172.5L61.5 171.5M61.5 168.5L61.5 172.5" stroke="#ff8800"/>
<path d="M35.5 173.5L35.5 178.5M39.5 173.5L38.5 173.5L38.5 174.5L38.5 178.5M37.5 175.5L39.5 175.5M40.5 175.5L45.5 175.5M40.5 176.5L45.5 176.5M46.5 174.5L47.5 173.5L47.5 178.5M46.5 178.5L48.5 178.5M50.5 175.5L49.5 175.5L49.5 174.5L50.5 173.5L51.5 173.5L53.5 174.5L53.5 175.5L51.5 175.5L50.5 175.5L49.5 176.5L49.5 177.5L50.5 178.5L51.5 178.5L53.5 177.5L53.5 176.5L51.5 175.5M54.5 173.5L56.5 173.5L57.5 174.5L57.5 177.5L56.5 178.5L54.5 178.5L53.5 177.5L53.5 174.5L54.5 173.5M54.5 177.5L56.5 174.5M57.5 175.5L57.5 178.5M57.5 175.5L59.5 175.5L60.5 175.5L61.5 175.5L61.5 178.5" stroke="#ff8800"/>
<path d="M42.5 181.5L42.5 184.5M42.5 182.5L43.5 181.5L44.5 181.5L45.5 182.5L45.5 184.5M48.5 179.5L48.5 179.5L47.5 180.5L47.5 184.5M46.5 181.5L48.5 181.5M49.5 181.5L54.5 181.5M49.5 183.5L54.5 183.5M54.5 181.5L54.5 184.5M54.5 182.5L55.5 181.5L56.5 181.5L57.5 182.5L57.5 184.5M61.5 179.5L60.5 179.5L59.5 180.5L59.5 184.5M58.5 181.5L60.5 181.5" stroke="#ff8800"/>
<path d="M50.5 187.5L50.5 191.5M50.5 188.5L51.5 187.5L52.5 188.5L52.5 191.5M52.5 188.5L53.5 187.5L54.5 188.5L54.5 191.5M55.5 187.5L58.5 187.5M55.5 189.5L58.5 189.5M59.5 187.5L60.5 186.5L60.5 191.5M59.5 191.5L61.5 191.5" stroke="#ff8800"/>
<path d="M41.5 176.5L41.5 180.5M41.5 177.5L42.5 176.5L43.5 176.5L44.5 177.5L44.5 180.5M45.5 178.5L48.5 178.5L48.5 177.5L47.5 176.5L46.5 176.5L45.5 177.5L45.5 179.5L46.5 180.5L47.5 180.5L48.5 179.5M49.5 174.5L49.5 179.5L50.5 180.5L51.5 180.5M49.5 176.5L51.5 176.5M53.5 174.5L54.5 174.5L55.5 175.5L55.5 179.5L54.5 180.5L53.5 180.5L52.5 179.5L52.5 175.5L53.5 174.5M53.5 178.5L54.5 175.5M57.5 177.5L56.5 176.5L56.5 175.5L57.5 174.5L58.5 174.5L59.5 175.5L59.5 176.5L58.5 177.5L57.5 177.5L56.5 178.5L56.5 179.5L57.5 180.5L58.5 180.5L59.5 179.5L59.5 178.5L58.5 177.5" stroke="#ffffff"/>
<path d="M74.5 164.5L74.5 167.5M74.5 164.5L75.5 164.5L76.5 164.5L77.5 164.5L77.5 167.5M78.5 165.5L81.5 165.5L81.5 164.5L80.5 164.5L79.5 164.5L78.5 164.5L78.5 166.5L79.5 167.5L80.5 167.5L81.5 166.5M83.5 162.5L83.5 166.5L83.5 167.5L84.5 167.5M82.5 164.5L84.5 164.5M85.5 163.5L86.5 162.5L87.5 162.5L88.5 163.5L88.5 164.5L87.5 164.5L86.5 164.5M87.5 164.5L88.5 165.5L88.5 166.5L87.5 167.5L86.5 167.5L85.5 166.5M93.5 162.5L89.5 162.5L89.5 164.5L90.5 164.5L92.5 164.5L93.5 164.5L93.5 166.5L92.5 167.5L90.5 167.5L89.5 166.5" stroke="#ffffff"/>
<path d="M151.5 164.5L151.5 167.5M151.5 164.5L152.5 164.5L153.5 164.5L154.5 164.5L154.5 167.5M155.5 165.5L158.5 165.5L158.5 164.5L157.5 164.5L156.5 164.5L155.5 164.5L155.5 166.5L156.5 167.5L157.5 167.5L158.5 166.5M160.5 162.5L160.5 166.5L160.5 167.5L161.5 167.5M159.5 164.5L161.5 164.5M162.5 163.5L163.5 162.5L164.5 162.5L165.5 163.5L165.5 164.5L164.5 164.5L163.5 164.5M164.5 164.5L165.5 165.5L165.5 166.5L164.5 167.5L163.5 167.5L162.5 166.5M170.5 162.5L166.5 162.5L166.5 164.5L167.5 164.5L169.5 164.5L170.5 164.5L170.5 166.5L169.5 167.5L167.5 167.5L166.5 166.5" stroke="#ffffff"/>
<path d="M65.5 190.5L65.5 185.5L67.5 188.5L69.5 185.5L69.5 190.5M70.5 186.5L71.5 185.5L72.5 185.5L73.5 186.5L73.5 187.5L72.5 187.5L71.5 187.5M72.5 187.5L73.5 188.5L73.5 189.5L72.5 190.5L71.5 190.5L70.5 189.5" stroke="#ff0000"/>
<path d="M168.5 190.5L168.5 185.5L170.5 188.5L172.5 185.5L172.5 190.5M173.5 186.5L174.5 185.5L175.5 185.5L176.5 186.5L176.5 187.5L173.5 190.5L176.5 190.5" stroke="#ff0000"/>
<path d="M75.5 198.5L75.5 203.5M75.5 199.5L75.5 198.5L76.5 198.5L77.5 199.5L77.5 200.5L76.5 201.5L75.5 201.5L75.5 200.5M80.5 197.5L79.5 197.5L79.5 197.5L79.5 201.5M78.5 198.5L80.5 198.5M81.5 200.5L84.5 200.5L84.5 199.5L83.5 198.5L82.5 198.5L81.5 199.5L81.5 200.5L82.5 201.5L83.5 201.5L84.5 200.5M85.5 197.5L85.5 200.5L86.5 201.5L87.5 201.5M85.5 198.5L86.5 198.5M87.5 202.5L91.5 202.5M92.5 198.5L92.5 201.5M92.5 199.5L92.5 198.5L93.5 198.5L94.5 198.5M97.5 197.5L96.5 197.5L95.5 197.5L95.5 201.5M95.5 198.5L97.5 198.5" stroke="#00cc60"/>
<path d="M147.5 198.5L147.5 203.5M147.5 199.5L147.5 198.5L148.5 198.5L149.5 199.5L149.5 200.5L148.5 201.5L147.5 201.5L147.5 200.5M152.5 197.5L151.5 197.5L151.5 197.5L151.5 201.5M150.5 198.5L152.5 198.5M153.5 200.5L156.5 200.5L156.5 199.5L155.5 198.5L154.5 198.5L153.5 199.5L153.5 200.5L154.5 201.5L155.5 201.5L156.5 200.5M157.5 197.5L157.5 200.5L158.5 201.5L159.5 201.5M157.5 198.5L158.5 198.5M159.5 202.5L163.5 202.5M164.5 198.5L164.5 201.5M164.5 199.5L164.5 198.5L165.5 198.5L166.5 198.5M169.5 197.5L168.5 197.5L167.5 197.5L167.5 201.5M167.5 198.5L169.5 198.5" stroke="#00cc60"/>
<path d="M98.5 182.5L99.5 182.5L100.5 183.5L100.5 184.5L99.5 185.5L98.5 185.5L98.5 184.5L98.5 183.5L98.5 182.5M101.5 182.5L101.5 184.5L102.5 185.5L103.5 185.5L104.5 184.5M104.5 182.5L104.5 185.5M106.5 180.5L106.5 184.5L107.5 185.5L108.5 185.5M105.5 182.5L107.5 182.5M108.5 181.5L109.5 180.5L110.5 180.5L111.5 181.5L111.5 182.5L108.5 185.5L111.5 185.5" stroke="#ffffff"/>
<path d="M132.5 182.5L133.5 182.5L134.5 183.5L134.5 184.5L133.5 185.5L132.5 185.5L131.5 184.5L131.5 183.5L132.5 182.5M135.5 182.5L135.5 184.5L136.5 185.5L137.5 185.5L138.5 184.5M138.5 182.5L138.5 185.5M140.5 180.5L140.5 184.5L141.5 185.5L142.5 185.5M139.5 182.5L141.5 182.5M143.5 181.5L144.5 180.5L144.5 185.5M143.5 185.5L145.5 185.5" stroke="#ffffff"/>
<path d="M71.5 210.5L72.5 210.5L73.5 211.5L73.5 213.5L72.5 214.5L71.5 214.5L70.5 213.5L70.5 211.5L71.5 210.5M74.5 210.5L74.5 213.5L75.5 214.5L76.5 214.5L77.5 213.5M77.5 210.5L77.5 214.5M78.5 208.5L78.5 213.5L79.5 214.5L80.5 214.5M78.5 210.5L80.5 210.5M81.5 209.5L82.5 208.5L82.5 214.5M81.5 214.5L83.5 214.5" stroke="#ffffff"/>
<path d="M159.5 210.5L160.5 210.5L161.5 211.5L161.5 213.5L160.5 214.5L159.5 214.5L159.5 213.5L159.5 211.5L159.5 210.5M162.5 210.5L162.5 213.5L163.5 214.5L164.5 214.5L165.5 213.5M165.5 210.5L165.5 214.5M167.5 208.5L167.5 213.5L168.5 214.5L168.5 214.5M166.5 210.5L168.5 210.5M169.5 209.5L170.5 208.5L171.5 208.5L172.5 209.5L172.5 210.5L169.5 214.5L172.5 214.5" stroke="#ffffff"/>
<path d="M181.5 168.5L182.5 171.5L183.5 169.5L184.5 171.5L185.5 168.5M187.5 166.5L187.5 166.5L186.5 167.5L186.5 171.5M186.5 168.5L187.5 168.5M188.5 168.5L192.5 168.5M188.5 169.5L192.5 169.5M196.5 166.5L193.5 166.5L193.5 168.5L194.5 168.5L195.5 168.5L196.5 169.5L196.5 170.5L195.5 171.5L194.5 171.5L193.5 170.5M196.5 168.5L196.5 170.5L197.5 171.5L198.5 171.5L199.5 170.5M199.5 168.5L199.5 171.5" stroke="#ff8800"/>
<path d="M181.5 173.5L181.5 178.5M183.5 174.5L183.5 178.5M183.5 175.5L184.5 175.5L185.5 174.5L185.5 174.5M186.5 174.5L191.5 174.5M186.5 176.5L191.5 176.5M192.5 174.5L193.5 173.5L193.5 178.5M192.5 178.5L195.5 178.5M197.5 175.5L196.5 174.5L196.5 173.5L197.5 173.5L198.5 173.5L199.5 173.5L199.5 174.5L198.5 175.5L197.5 175.5L196.5 176.5L196.5 177.5L197.5 178.5L198.5 178.5L199.5 177.5L199.5 176.5L198.5 175.5M201.5 173.5L202.5 173.5L203.5 173.5L203.5 177.5L202.5 178.5L201.5 178.5L200.5 177.5L200.5 173.5L201.5 173.5M200.5 177.5L202.5 174.5M204.5 174.5L204.5 178.5M204.5 175.5L205.5 174.5L206.5 174.5L207.5 175.5L207.5 178.5" stroke="#ff8800"/>
<path d="M181.5 181.5L181.5 184.5M181.5 182.5L181.5 181.5L182.5 181.5L183.5 182.5L183.5 184.5M187.5 179.5L186.5 179.5L185.5 180.5L185.5 184.5M184.5 181.5L186.5 181.5M188.5 181.5L192.5 181.5M188.5 182.5L192.5 182.5M193.5 181.5L193.5 184.5M193.5 182.5L194.5 181.5L195.5 181.5L196.5 182.5L196.5 184.5M199.5 179.5L198.5 179.5L197.5 180.5L197.5 184.5M197.5 181.5L199.5 181.5" stroke="#ff8800"/>
<path d="M181.5 187.5L181.5 191.5M181.5 188.5L182.5 187.5L183.5 188.5L183.5 191.5M183.5 188.5L184.5 187.5L185.5 188.5L185.5 191.5M185.5 187.5L189.5 187.5M185.5 189.5L189.5 189.5M190.5 187.5L190.5 186.5L190.5 191.5M190.5 191.5L191.5 191.5" stroke="#ff8800"/>
<path d="M183.5 175.5L183.5 178.5M183.5 176.5L184.5 175.5L185.5 175.5L186.5 176.5L186.5 178.5M186.5 176.5L189.5 176.5L189.5 176.5L188.5 175.5L187.5 175.5L186.5 176.5L186.5 177.5L187.5 178.5L188.5 178.5L189.5 177.5M191.5 173.5L191.5 177.5L192.5 178.5L193.5 178.5M190.5 175.5L192.5 175.5M195.5 173.5L196.5 173.5L197.5 174.5L197.5 177.5L196.5 178.5L195.5 178.5L194.5 177.5L194.5 174.5L195.5 173.5M194.5 177.5L196.5 174.5M199.5 176.5L198.5 175.5L198.5 174.5L199.5 173.5L200.5 173.5L201.5 174.5L201.5 175.5L200.5 176.5L199.5 176.5L198.5 176.5L198.5 177.5L199.5 178.5L200.5 178.5L201.5 177.5L201.5 176.5L200.5 176.5" stroke="#ffffff"/>
<path d="M48.5 233.5L50.5 233.5L51.5 234.5L51.5 236.5L50.5 237.5L48.5 237.5L47.5 236.5L47.5 234.5L48.5 233.5M52.5 233.5L52.5 236.5L53.5 237.5L55.5 237.5L56.5 236.5M56.5 233.5L56.5 237.5M58.5 231.5L58.5 236.5L59.5 237.5L60.5 237.5M57.5 233.5L60.5 233.5M62.5 232.5L63.5 231.5L63.5 237.5M62.5 237.5L64.5 237.5" stroke="#30b8fc"/>
<path d="M179.5 233.5L181.5 233.5L182.5 234.5L182.5 236.5L181.5 237.5L179.5 237.5L178.5 236.5L178.5 234.5L179.5 233.5M183.5 233.5L183.5 236.5L184.5 237.5L186.5 237.5L187.5 236.5M187.5 233.5L187.5 237.5M189.5 231.5L189.5 236.5L190.5 237.5L191.5 237.5M188.5 233.5L190.5 233.5M192.5 232.5L193.5 231.5L194.5 231.5L196.5 232.5L196.5 233.5L192.5 237.5L196.5 237.5" stroke="#30b8fc"/>
<path d="M45.5 264.5L46.5 267.5L47.5 265.5L48.5 267.5L49.5 264.5M52.5 262.5L52.5 262.5L51.5 263.5L51.5 267.5M50.5 264.5L52.5 264.5M53.5 264.5L57.5 264.5M53.5 266.5L57.5 266.5M58.5 263.5L59.5 262.5L59.5 262.5L60.5 263.5L60.5 264.5L59.5 265.5L59.5 265.5M59.5 265.5L60.5 266.5L60.5 266.5L59.5 267.5L59.5 267.5L58.5 266.5M61.5 264.5L61.5 266.5L62.5 267.5L63.5 267.5L64.5 266.5M64.5 264.5L64.5 267.5" stroke="#ff8800"/>
<path d="M179.5 264.5L180.5 267.5L181.5 265.5L182.5 267.5L183.5 264.5M186.5 262.5L185.5 262.5L185.5 263.5L185.5 267.5M184.5 264.5L186.5 264.5M187.5 264.5L191.5 264.5M187.5 266.5L191.5 266.5M192.5 263.5L193.5 262.5L193.5 262.5L194.5 263.5L194.5 264.5L193.5 265.5L193.5 265.5M193.5 265.5L194.5 266.5L194.5 266.5L193.5 267.5L193.5 267.5L192.5 266.5M195.5 264.5L195.5 266.5L196.5 267.5L197.5 267.5L198.5 266.5M198.5 264.5L198.5 267.5" stroke="#ff8800"/>
<path d="M38.5 269.5L38.5 274.5M40.5 271.5L40.5 274.5M40.5 272.5L41.5 271.5L41.5 271.5L42.5 271.5M43.5 271.5L48.5 271.5M43.5 272.5L48.5 272.5M49.5 270.5L50.5 269.5L50.5 274.5M49.5 274.5L52.5 274.5M54.5 271.5L52.5 271.5L52.5 270.5L54.5 269.5L55.5 269.5L56.5 270.5L56.5 271.5L55.5 271.5L54.5 271.5L52.5 272.5L52.5 273.5L54.5 274.5L55.5 274.5L56.5 273.5L56.5 272.5L55.5 271.5M58.5 269.5L59.5 269.5L60.5 270.5L60.5 273.5L59.5 274.5L58.5 274.5L56.5 273.5L56.5 270.5L58.5 269.5M57.5 273.5L59.5 270.5M60.5 271.5L60.5 274.5M60.5 271.5L62.5 271.5L63.5 271.5L64.5 271.5L64.5 274.5" stroke="#ff8800"/>
<path d="M180.5 269.5L180.5 274.5M181.5 271.5L181.5 274.5M181.5 272.5L182.5 271.5L183.5 271.5L184.5 271.5M185.5 271.5L190.5 271.5M185.5 272.5L190.5 272.5M191.5 270.5L192.5 269.5L192.5 274.5M191.5 274.5L193.5 274.5M195.5 271.5L194.5 271.5L194.5 270.5L195.5 269.5L196.5 269.5L197.5 270.5L197.5 271.5L196.5 271.5L195.5 271.5L194.5 272.5L194.5 273.5L195.5 274.5L196.5 274.5L197.5 273.5L197.5 272.5L196.5 271.5M199.5 269.5L200.5 269.5L201.5 270.5L201.5 273.5L200.5 274.5L199.5 274.5L198.5 273.5L198.5 270.5L199.5 269.5M199.5 273.5L201.5 270.5M202.5 271.5L202.5 274.5M202.5 271.5L203.5 271.5L204.5 271.5L205.5 271.5L205.5 274.5" stroke="#ff8800"/>
<path d="M45.5 277.5L45.5 281.5M45.5 278.5L46.5 277.5L47.5 277.5L48.5 278.5L48.5 281.5M51.5 276.5L51.5 276.5L50.5 276.5L50.5 281.5M49.5 277.5L51.5 277.5M52.5 277.5L57.5 277.5M52.5 279.5L57.5 279.5M57.5 277.5L57.5 281.5M57.5 278.5L58.5 277.5L59.5 277.5L60.5 278.5L60.5 281.5M64.5 276.5L63.5 276.5L62.5 276.5L62.5 281.5M61.5 277.5L63.5 277.5" stroke="#ff8800"/>
<path d="M179.5 277.5L179.5 281.5M179.5 278.5L180.5 277.5L181.5 277.5L182.5 278.5L182.5 281.5M185.5 276.5L184.5 276.5L184.5 276.5L184.5 281.5M183.5 277.5L185.5 277.5M186.5 277.5L190.5 277.5M186.5 279.5L190.5 279.5M191.5 277.5L191.5 281.5M191.5 278.5L192.5 277.5L193.5 277.5L194.5 278.5L194.5 281.5M198.5 276.5L197.5 276.5L196.5 276.5L196.5 281.5M195.5 277.5L197.5 277.5" stroke="#ff8800"/>
<path d="M53.5 284.5L53.5 287.5M53.5 285.5L54.5 284.5L55.5 285.5L55.5 287.5M55.5 285.5L56.5 284.5L57.5 285.5L57.5 287.5M58.5 284.5L61.5 284.5M58.5 285.5L61.5 285.5M62.5 283.5L63.5 282.5L63.5 287.5M62.5 287.5L64.5 287.5" stroke="#ff8800"/>
<path d="M179.5 284.5L179.5 287.5M179.5 285.5L180.5 284.5L181.5 285.5L181.5 287.5M181.5 285.5L182.5 284.5L183.5 285.5L183.5 287.5M184.5 284.5L187.5 284.5M184.5 285.5L187.5 285.5M188.5 283.5L189.5 282.5L189.5 287.5M188.5 287.5L190.5 287.5" stroke="#ff8800"/>
<path d="M71.5 269.5L72.5 269.5L73.5 270.5L73.5 272.5L72.5 273.5L71.5 273.5L70.5 272.5L70.5 270.5L71.5 269.5M74.5 269.5L74.5 272.5L75.5 273.5L76.5 273.5L77.5 272.5M77.5 269.5L77.5 273.5M78.5 267.5L78.5 272.5L79.5 273.5L80.5 273.5M78.5 269.5L80.5 269.5M81.5 268.5L82.5 267.5L82.5 273.5M81.5 273.5L83.5 273.5" stroke="#ffffff"/>
<path d="M159.5 269.5L160.5 269.5L161.5 270.5L161.5 272.5L160.5 273.5L159.5 273.5L159.5 272.5L159.5 270.5L159.5 269.5M162.5 269.5L162.5 272.5L163.5 273.5L164.5 273.5L165.5 272.5M165.5 269.5L165.5 273.5M167.5 267.5L167.5 272.5L168.5 273.5L168.5 273.5M166.5 269.5L168.5 269.5M169.5 268.5L170.5 267.5L171.5 267.5L172.5 268.5L172.5 269.5L169.5 273.5L172.5 273.5" stroke="#ffffff"/>
<path d="M70.5 297.5L70.5 291.5L72.5 294.5L74.5 291.5L74.5 297.5M76.5 291.5L77.5 291.5L78.5 292.5L78.5 296.5L77.5 297.5L76.5 297.5L75.5 296.5L75.5 292.5L76.5 291.5M75.5 296.5L77.5 292.5" stroke="#ff0000"/>
<path d="M165.5 297.5L165.5 291.5L167.5 294.5L169.5 291.5L169.5 297.5M170.5 292.5L171.5 291.5L171.5 297.5M170.5 297.5L172.5 297.5" stroke="#ff0000"/>
<path d="M94.5 288.5L95.5 288.5L96.5 289.5L96.5 291.5L95.5 292.5L94.5 292.5L93.5 291.5L93.5 289.5L94.5 288.5M97.5 288.5L97.5 291.5L98.5 292.5L99.5 292.5L100.5 291.5M100.5 288.5L100.5 292.5M101.5 286.5L101.5 291.5L102.5 292.5L103.5 292.5M101.5 288.5L103.5 288.5M104.5 287.5L105.5 286.5L106.5 286.5L107.5 287.5L107.5 288.5L104.5 292.5L107.5 292.5" stroke="#ffffff"/>
<path d="M137.5 288.5L138.5 288.5L139.5 289.5L139.5 291.5L138.5 292.5L137.5 292.5L136.5 291.5L136.5 289.5L137.5 288.5M139.5 288.5L139.5 291.5L140.5 292.5L141.5 292.5L142.5 291.5M142.5 288.5L142.5 292.5M144.5 286.5L144.5 291.5L145.5 292.5L146.5 292.5M143.5 288.5L146.5 288.5M147.5 287.5L148.5 286.5L148.5 292.5M147.5 292.5L149.5 292.5" stroke="#ffffff"/>
<path d="M78.5 307.5L78.5 310.5M78.5 307.5L78.5 307.5L79.5 307.5L80.5 307.5L80.5 310.5M83.5 305.5L82.5 305.5L82.5 306.5L82.5 310.5M81.5 307.5L83.5 307.5M84.5 308.5L87.5 308.5L87.5 307.5L86.5 307.5L85.5 307.5L84.5 307.5L84.5 309.5L85.5 310.5L86.5 310.5L87.5 309.5M88.5 305.5L88.5 309.5L89.5 310.5L90.5 310.5M88.5 307.5L89.5 307.5M90.5 310.5L94.5 310.5M95.5 307.5L95.5 310.5M95.5 308.5L95.5 307.5L96.5 307.5L97.5 307.5M100.5 305.5L99.5 305.5L98.5 306.5L98.5 310.5M98.5 307.5L100.5 307.5" stroke="#00cc60"/>
<path d="M144.5 307.5L144.5 310.5M144.5 307.5L144.5 307.5L145.5 307.5L146.5 307.5L146.5 310.5M149.5 305.5L148.5 305.5L148.5 306.5L148.5 310.5M147.5 307.5L149.5 307.5M150.5 308.5L153.5 308.5L153.5 307.5L152.5 307.5L151.5 307.5L150.5 307.5L150.5 309.5L151.5 310.5L152.5 310.5L153.5 309.5M154.5 305.5L154.5 309.5L155.5 310.5L156.5 310.5M154.5 307.5L155.5 307.5M156.5 310.5L160.5 310.5M161.5 307.5L161.5 310.5M161.5 308.5L161.5 307.5L162.5 307.5L163.5 307.5M166.5 305.5L165.5 305.5L164.5 306.5L164.5 310.5M164.5 307.5L166.5 307.5" stroke="#00cc60"/>
<path d="M72.5 322.5L71.5 321.5L70.5 321.5L69.5 322.5L69.5 324.5L70.5 325.5L71.5 325.5L72.5 324.5M72.5 321.5L72.5 326.5L71.5 327.5L70.5 327.5L69.5 326.5M73.5 321.5L73.5 325.5M73.5 322.5L74.5 321.5L75.5 321.5L76.5 322.5L76.5 325.5M80.5 320.5L80.5 325.5M80.5 322.5L79.5 321.5L78.5 321.5L77.5 322.5L77.5 324.5L78.5 325.5L79.5 325.5L80.5 324.5M81.5 320.5L81.5 325.5" stroke="#ffffff"/>
<path d="M163.5 322.5L162.5 321.5L161.5 321.5L160.5 322.5L160.5 324.5L161.5 325.5L162.5 325.5L163.5 324.5M163.5 321.5L163.5 326.5L162.5 327.5L161.5 327.5L160.5 326.5M164.5 321.5L164.5 325.5M164.5 322.5L165.5 321.5L166.5 321.5L167.5 322.5L167.5 325.5M171.5 320.5L171.5 325.5M171.5 322.5L170.5 321.5L169.5 321.5L168.5 322.5L168.5 324.5L169.5 325.5L170.5 325.5L171.5 324.5M172.5 320.5L172.5 325.5" stroke="#ffffff"/>
<path d="M12.5 289.5L14.5 294.5L15.5 289.5M17.5 289.5L18.5 289.5L19.5 290.5L19.5 293.5L18.5 294.5L17.5 294.5L16.5 293.5L16.5 290.5L17.5 289.5M16.5 293.5L18.5 290.5" stroke="#ff0000"/>
<path d="M18.5 301.5L20.5 304.5L21.5 301.5M25.5 299.5L25.5 304.5M25.5 301.5L24.5 301.5L23.5 301.5L22.5 301.5L22.5 303.5L23.5 304.5L24.5 304.5L25.5 303.5M30.5 301.5L29.5 301.5L27.5 301.5L26.5 301.5L26.5 303.5L27.5 304.5L29.5 304.5L30.5 303.5M30.5 301.5L35.5 301.5M30.5 302.5L35.5 302.5M37.5 300.5L38.5 299.5L38.5 304.5M37.5 304.5L39.5 304.5M41.5 304.5L41.5 303.5M43.5 301.5L42.5 301.5L42.5 300.5L43.5 299.5L44.5 299.5L45.5 300.5L45.5 301.5L44.5 301.5L43.5 301.5L42.5 302.5L42.5 303.5L43.5 304.5L44.5 304.5L45.5 303.5L45.5 302.5L44.5 301.5" stroke="#ff8800"/>
<path d="M377.5 99.5L378.5 102.5L380.5 99.5M384.5 99.5L383.5 99.5L382.5 99.5L381.5 99.5L381.5 101.5L382.5 102.5L383.5 102.5L384.5 101.5M388.5 99.5L387.5 99.5L386.5 99.5L385.5 99.5L385.5 101.5L386.5 102.5L387.5 102.5L388.5 101.5M389.5 97.5L389.5 102.5" stroke="#ffffff"/>
<path d="M388.5 125.5L388.5 120.5L391.5 123.5L393.5 120.5L393.5 125.5M394.5 121.5L395.5 120.5L395.5 125.5M394.5 125.5L396.5 125.5M397.5 120.5L398.5 120.5L399.5 120.5L400.5 120.5L400.5 121.5L399.5 122.5L398.5 122.5M399.5 122.5L400.5 123.5L400.5 124.5L399.5 125.5L398.5 125.5L397.5 124.5" stroke="#ff0000"/>
<path d="M367.5 133.5L367.5 137.5M367.5 134.5L367.5 133.5L368.5 133.5L369.5 134.5L369.5 135.5L368.5 136.5L367.5 136.5L367.5 135.5M372.5 131.5L371.5 131.5L371.5 132.5L371.5 136.5M370.5 133.5L372.5 133.5M373.5 134.5L376.5 134.5L376.5 134.5L375.5 133.5L374.5 133.5L373.5 134.5L373.5 135.5L374.5 136.5L375.5 136.5L376.5 135.5M377.5 131.5L377.5 135.5L378.5 136.5L379.5 136.5M377.5 133.5L378.5 133.5M379.5 137.5L383.5 137.5M384.5 133.5L384.5 136.5M384.5 134.5L384.5 133.5L385.5 133.5L386.5 133.5M389.5 131.5L388.5 131.5L387.5 132.5L387.5 136.5M387.5 133.5L389.5 133.5" stroke="#00cc60"/>
<path d="M401.5 103.5L402.5 106.5L403.5 104.5L404.5 106.5L406.5 103.5M409.5 101.5L408.5 101.5L407.5 102.5L407.5 106.5M406.5 103.5L408.5 103.5M409.5 103.5L414.5 103.5M409.5 105.5L414.5 105.5M417.5 101.5L414.5 101.5L414.5 103.5L415.5 103.5L416.5 103.5L417.5 104.5L417.5 105.5L416.5 106.5L415.5 106.5L414.5 105.5M418.5 103.5L418.5 105.5L419.5 106.5L420.5 106.5L421.5 105.5M421.5 103.5L421.5 106.5" stroke="#ff8800"/>
<path d="M402.5 108.5L402.5 113.5M403.5 109.5L403.5 113.5M403.5 110.5L404.5 110.5L405.5 109.5L406.5 109.5M407.5 109.5L412.5 109.5M407.5 111.5L412.5 111.5M413.5 109.5L414.5 108.5L415.5 108.5L416.5 109.5L416.5 109.5L413.5 113.5L416.5 113.5M417.5 109.5L418.5 108.5L419.5 108.5L421.5 109.5L421.5 109.5L417.5 113.5L421.5 113.5M423.5 108.5L424.5 108.5L425.5 109.5L425.5 112.5L424.5 113.5L423.5 113.5L421.5 112.5L421.5 109.5L423.5 108.5M422.5 112.5L424.5 109.5M426.5 109.5L426.5 113.5M426.5 110.5L427.5 109.5L428.5 109.5L429.5 110.5L429.5 113.5" stroke="#ff8800"/>
<path d="M401.5 116.5L401.5 119.5M401.5 116.5L402.5 116.5L403.5 116.5L404.5 116.5L404.5 119.5M407.5 114.5L406.5 114.5L406.5 115.5L406.5 119.5M405.5 116.5L407.5 116.5M408.5 116.5L413.5 116.5M408.5 117.5L413.5 117.5M414.5 115.5L414.5 114.5L415.5 114.5L416.5 115.5L416.5 116.5L415.5 116.5L414.5 116.5M415.5 116.5L416.5 117.5L416.5 118.5L415.5 119.5L414.5 119.5L414.5 118.5M418.5 118.5L420.5 115.5M420.5 118.5L418.5 115.5M419.5 118.5L419.5 115.5M422.5 115.5L423.5 114.5L424.5 114.5L425.5 115.5L425.5 116.5L422.5 119.5L425.5 119.5" stroke="#ff8800"/>
<path d="M401.5 122.5L401.5 125.5M401.5 123.5L402.5 122.5L403.5 123.5L403.5 125.5M403.5 123.5L404.5 122.5L405.5 123.5L405.5 125.5M406.5 122.5L410.5 122.5M406.5 124.5L410.5 124.5M411.5 121.5L412.5 120.5L412.5 125.5M411.5 125.5L412.5 125.5" stroke="#ff8800"/>
<path d="M404.5 109.5L405.5 113.5L407.5 109.5M411.5 110.5L410.5 109.5L409.5 109.5L408.5 110.5L408.5 112.5L409.5 113.5L410.5 113.5L411.5 112.5M415.5 110.5L414.5 109.5L413.5 109.5L412.5 110.5L412.5 112.5L413.5 113.5L414.5 113.5L415.5 112.5M416.5 108.5L416.5 113.5" stroke="#ffffff"/>
<path d="M400.5 152.5L401.5 155.5L402.5 153.5L403.5 155.5L404.5 152.5M407.5 150.5L406.5 150.5L405.5 151.5L405.5 155.5M405.5 152.5L407.5 152.5M408.5 152.5L412.5 152.5M408.5 153.5L412.5 153.5M415.5 150.5L413.5 150.5L413.5 152.5L413.5 152.5L414.5 152.5L415.5 153.5L415.5 154.5L414.5 155.5L413.5 155.5L413.5 154.5M416.5 152.5L416.5 154.5L417.5 155.5L418.5 155.5L419.5 154.5M419.5 152.5L419.5 155.5" stroke="#ff8800"/>
<path d="M400.5 156.5L400.5 161.5M404.5 156.5L404.5 156.5L403.5 157.5L403.5 161.5M402.5 158.5L404.5 158.5M405.5 158.5L410.5 158.5M405.5 160.5L410.5 160.5M411.5 157.5L412.5 156.5L413.5 156.5L414.5 157.5L414.5 158.5L411.5 161.5L414.5 161.5M415.5 157.5L416.5 156.5L417.5 156.5L418.5 157.5L418.5 158.5L415.5 161.5L418.5 161.5M420.5 156.5L421.5 156.5L422.5 157.5L422.5 161.5L421.5 161.5L420.5 161.5L419.5 161.5L419.5 157.5L420.5 156.5M420.5 160.5L422.5 157.5M423.5 158.5L423.5 161.5M423.5 159.5L424.5 158.5L426.5 158.5L427.5 159.5L427.5 161.5" stroke="#ff8800"/>
<path d="M400.5 164.5L400.5 168.5M400.5 165.5L400.5 164.5L401.5 164.5L402.5 165.5L402.5 168.5M406.5 163.5L405.5 163.5L404.5 164.5L404.5 168.5M403.5 164.5L405.5 164.5M406.5 164.5L411.5 164.5M406.5 166.5L411.5 166.5M412.5 164.5L413.5 163.5L413.5 168.5M412.5 168.5L414.5 168.5M416.5 166.5L418.5 164.5M418.5 166.5L416.5 164.5M417.5 167.5L417.5 164.5M420.5 164.5L421.5 163.5L422.5 163.5L423.5 164.5L423.5 164.5L420.5 168.5L423.5 168.5" stroke="#ff8800"/>
<path d="M400.5 171.5L400.5 174.5M400.5 172.5L401.5 171.5L402.5 172.5L402.5 174.5M402.5 172.5L403.5 171.5L404.5 172.5L404.5 174.5M405.5 171.5L408.5 171.5M405.5 172.5L408.5 172.5M409.5 170.5L410.5 169.5L410.5 174.5M409.5 174.5L411.5 174.5" stroke="#ff8800"/>
<path d="M385.5 184.5L385.5 178.5L387.5 181.5L389.5 178.5L389.5 184.5M390.5 179.5L391.5 178.5L391.5 184.5M390.5 184.5L393.5 184.5M396.5 184.5L396.5 178.5L393.5 182.5L397.5 182.5" stroke="#ff0000"/>
<path d="M364.5 194.5L364.5 197.5M364.5 194.5L365.5 194.5L366.5 194.5L367.5 194.5L367.5 197.5M370.5 192.5L369.5 192.5L368.5 193.5L368.5 197.5M368.5 194.5L369.5 194.5M371.5 195.5L373.5 195.5L373.5 194.5L372.5 194.5L371.5 194.5L371.5 194.5L371.5 196.5L371.5 197.5L372.5 197.5L373.5 196.5M375.5 192.5L375.5 196.5L376.5 197.5L376.5 197.5M374.5 194.5L376.5 194.5M377.5 197.5L381.5 197.5M381.5 194.5L381.5 197.5M381.5 195.5L382.5 194.5L383.5 194.5L383.5 194.5M386.5 192.5L386.5 192.5L385.5 193.5L385.5 197.5M384.5 194.5L386.5 194.5" stroke="#00cc60"/>
<path d="M383.5 209.5L382.5 208.5L381.5 208.5L380.5 209.5L380.5 210.5L381.5 211.5L382.5 211.5L383.5 210.5M383.5 208.5L383.5 212.5L382.5 213.5L381.5 213.5L380.5 212.5M384.5 208.5L384.5 211.5M384.5 209.5L385.5 208.5L386.5 208.5L387.5 209.5L387.5 211.5M391.5 206.5L391.5 211.5M391.5 209.5L390.5 208.5L389.5 208.5L388.5 209.5L388.5 210.5L389.5 211.5L390.5 211.5L391.5 210.5M393.5 206.5L393.5 211.5" stroke="#ffffff"/>
<path d="M388.5 142.5L389.5 142.5L390.5 143.5L390.5 146.5L389.5 147.5L388.5 147.5L387.5 146.5L387.5 143.5L388.5 142.5M388.5 145.5L390.5 148.5M392.5 142.5L393.5 142.5L394.5 143.5L394.5 146.5L393.5 147.5L392.5 147.5L391.5 146.5L391.5 143.5L392.5 142.5M391.5 146.5L393.5 143.5" stroke="#ffffff"/>
<path d="M388.5 154.5L389.5 154.5L390.5 155.5L390.5 158.5L389.5 159.5L388.5 159.5L387.5 158.5L387.5 155.5L388.5 154.5M388.5 157.5L390.5 160.5M392.5 154.5L393.5 154.5L394.5 155.5L394.5 158.5L393.5 159.5L392.5 159.5L391.5 158.5L391.5 155.5L392.5 154.5M391.5 158.5L393.5 155.5" stroke="#ffffff"/>
<path d="M343.5 116.5L343.5 119.5M343.5 117.5L344.5 116.5L345.5 116.5L347.5 117.5L347.5 119.5M347.5 118.5L351.5 118.5L351.5 117.5L350.5 116.5L348.5 116.5L347.5 117.5L347.5 118.5L348.5 119.5L350.5 119.5L351.5 118.5M352.5 114.5L352.5 118.5L353.5 119.5L354.5 119.5M351.5 116.5L354.5 116.5M356.5 114.5L357.5 114.5L358.5 115.5L358.5 118.5L357.5 119.5L356.5 119.5L355.5 118.5L355.5 115.5L356.5 114.5M356.5 118.5L357.5 115.5M361.5 119.5L361.5 114.5L359.5 118.5L362.5 118.5M364.5 114.5L365.5 114.5L366.5 115.5L366.5 118.5L365.5 119.5L364.5 119.5L363.5 118.5L363.5 115.5L364.5 114.5M364.5 118.5L366.5 115.5" stroke="#ffffff"/>
<path d="M346.5 174.5L346.5 177.5M346.5 175.5L347.5 174.5L348.5 174.5L350.5 175.5L350.5 177.5M350.5 176.5L354.5 176.5L354.5 175.5L353.5 174.5L351.5 174.5L350.5 175.5L350.5 177.5L351.5 177.5L353.5 177.5L354.5 177.5M355.5 172.5L355.5 177.5L356.5 177.5L357.5 177.5M354.5 174.5L357.5 174.5M359.5 172.5L360.5 172.5L361.5 173.5L361.5 177.5L360.5 177.5L359.5 177.5L358.5 177.5L358.5 173.5L359.5 172.5M359.5 176.5L360.5 173.5M364.5 177.5L364.5 172.5L362.5 176.5L365.5 176.5M367.5 172.5L368.5 172.5L369.5 173.5L369.5 177.5L368.5 177.5L367.5 177.5L366.5 177.5L366.5 173.5L367.5 172.5M367.5 176.5L369.5 173.5" stroke="#ffffff"/>
<path d="M410.5 141.5L412.5 141.5L413.5 142.5L413.5 146.5L412.5 147.5L410.5 147.5L409.5 146.5L409.5 142.5L410.5 141.5M411.5 145.5L414.5 148.5M416.5 141.5L417.5 141.5L419.5 142.5L419.5 146.5L417.5 147.5L416.5 147.5L414.5 146.5L414.5 142.5L416.5 141.5M415.5 146.5L418.5 142.5" stroke="#30b8fc"/>
<path d="M442.5 99.5L444.5 102.5L445.5 99.5M449.5 99.5L448.5 99.5L447.5 99.5L446.5 99.5L446.5 101.5L447.5 102.5L448.5 102.5L449.5 101.5M453.5 99.5L452.5 99.5L451.5 99.5L450.5 99.5L450.5 101.5L451.5 102.5L452.5 102.5L453.5 101.5M455.5 97.5L455.5 102.5" stroke="#ffffff"/>
<path d="M454.5 125.5L454.5 120.5L456.5 123.5L458.5 120.5L458.5 125.5M459.5 121.5L461.5 120.5L461.5 125.5M459.5 125.5L462.5 125.5M462.5 120.5L466.5 120.5L464.5 125.5" stroke="#ff0000"/>
<path d="M432.5 133.5L432.5 137.5M432.5 134.5L433.5 133.5L434.5 133.5L435.5 134.5L435.5 135.5L434.5 136.5L433.5 136.5L432.5 135.5M438.5 131.5L437.5 131.5L436.5 132.5L436.5 136.5M436.5 133.5L437.5 133.5M439.5 134.5L441.5 134.5L441.5 134.5L440.5 133.5L439.5 133.5L439.5 134.5L439.5 135.5L439.5 136.5L440.5 136.5L441.5 135.5M443.5 131.5L443.5 135.5L443.5 136.5L444.5 136.5M442.5 133.5L444.5 133.5M445.5 137.5L449.5 137.5M449.5 133.5L449.5 136.5M449.5 134.5L450.5 133.5L451.5 133.5L451.5 133.5M454.5 131.5L454.5 131.5L453.5 132.5L453.5 136.5M452.5 133.5L454.5 133.5" stroke="#00cc60"/>
<path d="M467.5 103.5L468.5 106.5L469.5 104.5L470.5 106.5L471.5 103.5M474.5 101.5L473.5 101.5L473.5 102.5L473.5 106.5M472.5 103.5L474.5 103.5M475.5 103.5L479.5 103.5M475.5 105.5L479.5 105.5M483.5 101.5L480.5 101.5L480.5 103.5L481.5 103.5L482.5 103.5L483.5 104.5L483.5 105.5L482.5 106.5L481.5 106.5L480.5 105.5M484.5 103.5L484.5 105.5L484.5 106.5L485.5 106.5L486.5 105.5M486.5 103.5L486.5 106.5" stroke="#ff8800"/>
<path d="M467.5 108.5L467.5 113.5M469.5 109.5L469.5 113.5M469.5 110.5L470.5 110.5L471.5 109.5L472.5 109.5M473.5 109.5L478.5 109.5M473.5 111.5L478.5 111.5M479.5 109.5L480.5 108.5L480.5 113.5M479.5 113.5L482.5 113.5M484.5 110.5L483.5 109.5L483.5 109.5L484.5 108.5L485.5 108.5L486.5 109.5L486.5 109.5L485.5 110.5L484.5 110.5L483.5 111.5L483.5 112.5L484.5 113.5L485.5 113.5L486.5 112.5L486.5 111.5L485.5 110.5M488.5 108.5L489.5 108.5L490.5 109.5L490.5 112.5L489.5 113.5L488.5 113.5L487.5 112.5L487.5 109.5L488.5 108.5M487.5 112.5L490.5 109.5M491.5 109.5L491.5 113.5M491.5 110.5L492.5 109.5L493.5 109.5L494.5 110.5L494.5 113.5" stroke="#ff8800"/>
<path d="M467.5 116.5L467.5 119.5M467.5 116.5L468.5 116.5L469.5 116.5L470.5 116.5L470.5 119.5M473.5 114.5L472.5 114.5L471.5 115.5L471.5 119.5M470.5 116.5L473.5 116.5M474.5 116.5L478.5 116.5M474.5 117.5L478.5 117.5M479.5 115.5L480.5 114.5L481.5 114.5L482.5 115.5L482.5 116.5L481.5 116.5L480.5 116.5M481.5 116.5L482.5 117.5L482.5 118.5L481.5 119.5L480.5 119.5L479.5 118.5" stroke="#ff8800"/>
<path d="M467.5 122.5L467.5 125.5M467.5 123.5L468.5 122.5L469.5 123.5L469.5 125.5M469.5 123.5L470.5 122.5L471.5 123.5L471.5 125.5M472.5 122.5L475.5 122.5M472.5 124.5L475.5 124.5M476.5 121.5L477.5 120.5L477.5 125.5M476.5 125.5L478.5 125.5" stroke="#ff8800"/>
<path d="M469.5 109.5L471.5 113.5L472.5 109.5M476.5 110.5L475.5 109.5L474.5 109.5L473.5 110.5L473.5 112.5L474.5 113.5L475.5 113.5L476.5 112.5M480.5 110.5L479.5 109.5L478.5 109.5L477.5 110.5L477.5 112.5L478.5 113.5L479.5 113.5L480.5 112.5M482.5 108.5L482.5 113.5" stroke="#ffffff"/>
<path d="M465.5 152.5L466.5 155.5L467.5 153.5L468.5 155.5L469.5 152.5M472.5 150.5L472.5 150.5L471.5 151.5L471.5 155.5M470.5 152.5L472.5 152.5M473.5 152.5L477.5 152.5M473.5 153.5L477.5 153.5M481.5 150.5L478.5 150.5L478.5 152.5L479.5 152.5L480.5 152.5L481.5 153.5L481.5 154.5L480.5 155.5L479.5 155.5L478.5 154.5M482.5 152.5L482.5 154.5L482.5 155.5L483.5 155.5L484.5 154.5M484.5 152.5L484.5 155.5" stroke="#ff8800"/>
<path d="M466.5 156.5L466.5 161.5M470.5 156.5L469.5 156.5L468.5 157.5L468.5 161.5M467.5 158.5L470.5 158.5M471.5 158.5L476.5 158.5M471.5 160.5L476.5 160.5M477.5 157.5L478.5 156.5L478.5 161.5M477.5 161.5L479.5 161.5M482.5 159.5L480.5 158.5L480.5 157.5L482.5 156.5L483.5 156.5L484.5 157.5L484.5 158.5L483.5 159.5L482.5 159.5L480.5 160.5L480.5 161.5L482.5 161.5L483.5 161.5L484.5 161.5L484.5 160.5L483.5 159.5M486.5 156.5L487.5 156.5L488.5 157.5L488.5 161.5L487.5 161.5L486.5 161.5L485.5 161.5L485.5 157.5L486.5 156.5M485.5 160.5L487.5 157.5M489.5 158.5L489.5 161.5M489.5 159.5L490.5 158.5L491.5 158.5L492.5 159.5L492.5 161.5" stroke="#ff8800"/>
<path d="M465.5 164.5L465.5 168.5M465.5 165.5L466.5 164.5L467.5 164.5L468.5 165.5L468.5 168.5M471.5 163.5L470.5 163.5L470.5 164.5L470.5 168.5M469.5 164.5L471.5 164.5M472.5 164.5L477.5 164.5M472.5 166.5L477.5 166.5M478.5 164.5L479.5 163.5L479.5 168.5M478.5 168.5L480.5 168.5" stroke="#ff8800"/>
<path d="M465.5 171.5L465.5 174.5M465.5 172.5L466.5 171.5L467.5 172.5L467.5 174.5M467.5 172.5L468.5 171.5L469.5 172.5L469.5 174.5M470.5 171.5L473.5 171.5M470.5 172.5L473.5 172.5M475.5 170.5L475.5 169.5L475.5 174.5M475.5 174.5L476.5 174.5" stroke="#ff8800"/>
<path d="M450.5 184.5L450.5 178.5L452.5 181.5L455.5 178.5L455.5 184.5M456.5 179.5L457.5 178.5L457.5 184.5M456.5 184.5L458.5 184.5M460.5 181.5L459.5 180.5L459.5 179.5L460.5 178.5L461.5 178.5L462.5 179.5L462.5 180.5L461.5 181.5L460.5 181.5L459.5 182.5L459.5 183.5L460.5 184.5L461.5 184.5L462.5 183.5L462.5 182.5L461.5 181.5" stroke="#ff0000"/>
<path d="M430.5 194.5L430.5 197.5M430.5 194.5L430.5 194.5L431.5 194.5L432.5 194.5L432.5 197.5M435.5 192.5L435.5 192.5L434.5 193.5L434.5 197.5M433.5 194.5L435.5 194.5M436.5 195.5L439.5 195.5L439.5 194.5L438.5 194.5L437.5 194.5L436.5 194.5L436.5 196.5L437.5 197.5L438.5 197.5L439.5 196.5M440.5 192.5L440.5 196.5L441.5 197.5L442.5 197.5M440.5 194.5L441.5 194.5M442.5 197.5L446.5 197.5M447.5 194.5L447.5 197.5M447.5 195.5L447.5 194.5L448.5 194.5L449.5 194.5M452.5 192.5L451.5 192.5L451.5 193.5L451.5 197.5M450.5 194.5L452.5 194.5" stroke="#00cc60"/>
<path d="M449.5 209.5L447.5 208.5L446.5 208.5L445.5 209.5L445.5 210.5L446.5 211.5L447.5 211.5L449.5 210.5M449.5 208.5L449.5 212.5L447.5 213.5L446.5 213.5L445.5 212.5M449.5 208.5L449.5 211.5M449.5 209.5L450.5 208.5L451.5 208.5L453.5 209.5L453.5 211.5M457.5 206.5L457.5 211.5M457.5 209.5L455.5 208.5L454.5 208.5L453.5 209.5L453.5 210.5L454.5 211.5L455.5 211.5L457.5 210.5M458.5 206.5L458.5 211.5" stroke="#ffffff"/>
<path d="M453.5 142.5L454.5 142.5L455.5 143.5L455.5 146.5L454.5 147.5L453.5 147.5L452.5 146.5L452.5 143.5L453.5 142.5M454.5 145.5L456.5 148.5M457.5 143.5L458.5 142.5L458.5 147.5M457.5 147.5L459.5 147.5" stroke="#ffffff"/>
<path d="M453.5 154.5L454.5 154.5L455.5 155.5L455.5 158.5L454.5 159.5L453.5 159.5L452.5 158.5L452.5 155.5L453.5 154.5M454.5 157.5L456.5 160.5M457.5 155.5L458.5 154.5L458.5 159.5M457.5 159.5L459.5 159.5" stroke="#ffffff"/>
<path d="M426.5 114.5L427.5 114.5L428.5 115.5L428.5 118.5L427.5 119.5L426.5 119.5L425.5 118.5L425.5 115.5L426.5 114.5M426.5 118.5L428.5 120.5M430.5 114.5L431.5 114.5L432.5 115.5L432.5 118.5L431.5 119.5L430.5 119.5L429.5 118.5L429.5 115.5L430.5 114.5M429.5 118.5L431.5 115.5" stroke="#ffffff"/>
<path d="M430.5 172.5L431.5 172.5L432.5 173.5L432.5 177.5L431.5 177.5L430.5 177.5L429.5 177.5L429.5 173.5L430.5 172.5M430.5 176.5L432.5 178.5M434.5 172.5L435.5 172.5L436.5 173.5L436.5 177.5L435.5 177.5L434.5 177.5L433.5 177.5L433.5 173.5L434.5 172.5M433.5 176.5L435.5 173.5" stroke="#ffffff"/>
<path d="M481.5 141.5L483.5 141.5L484.5 142.5L484.5 146.5L483.5 147.5L481.5 147.5L480.5 146.5L480.5 142.5L481.5 141.5M482.5 145.5L485.5 148.5M486.5 142.5L488.5 141.5L488.5 147.5M486.5 147.5L490.5 147.5" stroke="#30b8fc"/>
<path d="M508.5 99.5L509.5 102.5L511.5 99.5M515.5 99.5L514.5 99.5L513.5 99.5L512.5 99.5L512.5 101.5L513.5 102.5L514.5 102.5L515.5 101.5M519.5 99.5L518.5 99.5L517.5 99.5L516.5 99.5L516.5 101.5L517.5 102.5L518.5 102.5L519.5 101.5M520.5 97.5L520.5 102.5" stroke="#ffffff"/>
<path d="M519.5 125.5L519.5 120.5L522.5 123.5L524.5 120.5L524.5 125.5M524.5 120.5L526.5 120.5L527.5 120.5L528.5 120.5L528.5 121.5L527.5 122.5L526.5 122.5M527.5 122.5L528.5 123.5L528.5 124.5L527.5 125.5L526.5 125.5L524.5 124.5M529.5 121.5L530.5 120.5L530.5 125.5M529.5 125.5L531.5 125.5" stroke="#ff0000"/>
<path d="M498.5 133.5L498.5 137.5M498.5 134.5L498.5 133.5L499.5 133.5L500.5 134.5L500.5 135.5L499.5 136.5L498.5 136.5L498.5 135.5M503.5 131.5L502.5 131.5L502.5 132.5L502.5 136.5M501.5 133.5L503.5 133.5M504.5 134.5L507.5 134.5L507.5 134.5L506.5 133.5L505.5 133.5L504.5 134.5L504.5 135.5L505.5 136.5L506.5 136.5L507.5 135.5M508.5 131.5L508.5 135.5L509.5 136.5L510.5 136.5M508.5 133.5L509.5 133.5M510.5 137.5L514.5 137.5M515.5 133.5L515.5 136.5M515.5 134.5L515.5 133.5L516.5 133.5L517.5 133.5M520.5 131.5L519.5 131.5L518.5 132.5L518.5 136.5M518.5 133.5L520.5 133.5" stroke="#00cc60"/>
<path d="M532.5 103.5L533.5 106.5L534.5 104.5L535.5 106.5L537.5 103.5M540.5 101.5L539.5 101.5L538.5 102.5L538.5 106.5M537.5 103.5L539.5 103.5M541.5 103.5L545.5 103.5M541.5 105.5L545.5 105.5M548.5 101.5L546.5 101.5L546.5 103.5L546.5 103.5L547.5 103.5L548.5 104.5L548.5 105.5L547.5 106.5L546.5 106.5L546.5 105.5M549.5 103.5L549.5 105.5L550.5 106.5L551.5 106.5L552.5 105.5M552.5 103.5L552.5 106.5" stroke="#ff8800"/>
<path d="M533.5 108.5L533.5 113.5M534.5 109.5L534.5 113.5M534.5 110.5L535.5 110.5L536.5 109.5L537.5 109.5M538.5 109.5L543.5 109.5M538.5 111.5L543.5 111.5M545.5 109.5L546.5 108.5L546.5 113.5M545.5 113.5L547.5 113.5M549.5 110.5L548.5 109.5L548.5 109.5L549.5 108.5L550.5 108.5L551.5 109.5L551.5 109.5L550.5 110.5L549.5 110.5L548.5 111.5L548.5 112.5L549.5 113.5L550.5 113.5L551.5 112.5L551.5 111.5L550.5 110.5M553.5 108.5L555.5 108.5L556.5 109.5L556.5 112.5L555.5 113.5L553.5 113.5L552.5 112.5L552.5 109.5L553.5 108.5M553.5 112.5L555.5 109.5M557.5 109.5L557.5 113.5M557.5 110.5L558.5 109.5L559.5 109.5L560.5 110.5L560.5 113.5" stroke="#ff8800"/>
<path d="M532.5 116.5L532.5 119.5M532.5 116.5L533.5 116.5L534.5 116.5L535.5 116.5L535.5 119.5M538.5 114.5L538.5 114.5L537.5 115.5L537.5 119.5M536.5 116.5L538.5 116.5M539.5 116.5L544.5 116.5M539.5 117.5L544.5 117.5M545.5 115.5L546.5 114.5L546.5 114.5L547.5 115.5L547.5 116.5L546.5 116.5L546.5 116.5M546.5 116.5L547.5 117.5L547.5 118.5L546.5 119.5L546.5 119.5L545.5 118.5M549.5 118.5L551.5 115.5M551.5 118.5L549.5 115.5M550.5 118.5L550.5 115.5M555.5 119.5L555.5 114.5L553.5 117.5L556.5 117.5" stroke="#ff8800"/>
<path d="M532.5 122.5L532.5 125.5M532.5 123.5L533.5 122.5L534.5 123.5L534.5 125.5M534.5 123.5L535.5 122.5L536.5 123.5L536.5 125.5M537.5 122.5L541.5 122.5M537.5 124.5L541.5 124.5M542.5 121.5L543.5 120.5L543.5 125.5M542.5 125.5L543.5 125.5" stroke="#ff8800"/>
<path d="M535.5 109.5L536.5 113.5L538.5 109.5M542.5 110.5L541.5 109.5L540.5 109.5L539.5 110.5L539.5 112.5L540.5 113.5L541.5 113.5L542.5 112.5M546.5 110.5L545.5 109.5L544.5 109.5L543.5 110.5L543.5 112.5L544.5 113.5L545.5 113.5L546.5 112.5M547.5 108.5L547.5 113.5" stroke="#ffffff"/>
<path d="M531.5 152.5L532.5 155.5L533.5 153.5L534.5 155.5L535.5 152.5M538.5 150.5L537.5 150.5L536.5 151.5L536.5 155.5M536.5 152.5L538.5 152.5M539.5 152.5L543.5 152.5M539.5 153.5L543.5 153.5M546.5 150.5L544.5 150.5L544.5 152.5L544.5 152.5L545.5 152.5L546.5 153.5L546.5 154.5L545.5 155.5L544.5 155.5L544.5 154.5M547.5 152.5L547.5 154.5L548.5 155.5L549.5 155.5L550.5 154.5M550.5 152.5L550.5 155.5" stroke="#ff8800"/>
<path d="M531.5 156.5L531.5 161.5M535.5 156.5L535.5 156.5L534.5 157.5L534.5 161.5M533.5 158.5L535.5 158.5M536.5 158.5L541.5 158.5M536.5 160.5L541.5 160.5M543.5 157.5L544.5 156.5L544.5 161.5M543.5 161.5L545.5 161.5M547.5 159.5L546.5 158.5L546.5 157.5L547.5 156.5L548.5 156.5L549.5 157.5L549.5 158.5L548.5 159.5L547.5 159.5L546.5 160.5L546.5 161.5L547.5 161.5L548.5 161.5L549.5 161.5L549.5 160.5L548.5 159.5M551.5 156.5L552.5 156.5L553.5 157.5L553.5 161.5L552.5 161.5L551.5 161.5L550.5 161.5L550.5 157.5L551.5 156.5M551.5 160.5L553.5 157.5M554.5 158.5L554.5 161.5M554.5 159.5L555.5 158.5L557.5 158.5L558.5 159.5L558.5 161.5" stroke="#ff8800"/>
<path d="M531.5 164.5L531.5 168.5M531.5 165.5L532.5 164.5L532.5 164.5L533.5 165.5L533.5 168.5M537.5 163.5L536.5 163.5L535.5 164.5L535.5 168.5M534.5 164.5L536.5 164.5M538.5 164.5L542.5 164.5M538.5 166.5L542.5 166.5M543.5 164.5L544.5 163.5L544.5 168.5M543.5 168.5L545.5 168.5M547.5 166.5L549.5 164.5M549.5 166.5L547.5 164.5M548.5 167.5L548.5 164.5M553.5 168.5L553.5 163.5L551.5 166.5L554.5 166.5" stroke="#ff8800"/>
<path d="M531.5 171.5L531.5 174.5M531.5 172.5L532.5 171.5L533.5 172.5L533.5 174.5M533.5 172.5L534.5 171.5L535.5 172.5L535.5 174.5M536.5 171.5L539.5 171.5M536.5 172.5L539.5 172.5M540.5 170.5L541.5 169.5L541.5 174.5M540.5 174.5L542.5 174.5" stroke="#ff8800"/>
<path d="M516.5 184.5L516.5 178.5L518.5 181.5L520.5 178.5L520.5 184.5M521.5 179.5L522.5 178.5L523.5 178.5L524.5 179.5L524.5 180.5L523.5 181.5L522.5 181.5M523.5 181.5L524.5 182.5L524.5 183.5L523.5 184.5L522.5 184.5L521.5 183.5M524.5 179.5L525.5 178.5L527.5 178.5L528.5 179.5L528.5 180.5L524.5 184.5L528.5 184.5" stroke="#ff0000"/>
<path d="M495.5 194.5L495.5 197.5M495.5 194.5L496.5 194.5L497.5 194.5L498.5 194.5L498.5 197.5M501.5 192.5L500.5 192.5L499.5 193.5L499.5 197.5M499.5 194.5L500.5 194.5M502.5 195.5L504.5 195.5L504.5 194.5L503.5 194.5L503.5 194.5L502.5 194.5L502.5 196.5L503.5 197.5L503.5 197.5L504.5 196.5M506.5 192.5L506.5 196.5L507.5 197.5L507.5 197.5M505.5 194.5L507.5 194.5M508.5 197.5L512.5 197.5M512.5 194.5L512.5 197.5M512.5 195.5L513.5 194.5L514.5 194.5L514.5 194.5M517.5 192.5L517.5 192.5L516.5 193.5L516.5 197.5M515.5 194.5L517.5 194.5" stroke="#00cc60"/>
<path d="M514.5 209.5L513.5 208.5L512.5 208.5L511.5 209.5L511.5 210.5L512.5 211.5L513.5 211.5L514.5 210.5M514.5 208.5L514.5 212.5L513.5 213.5L512.5 213.5L511.5 212.5M515.5 208.5L515.5 211.5M515.5 209.5L516.5 208.5L517.5 208.5L518.5 209.5L518.5 211.5M522.5 206.5L522.5 211.5M522.5 209.5L521.5 208.5L520.5 208.5L519.5 209.5L519.5 210.5L520.5 211.5L521.5 211.5L522.5 210.5M524.5 206.5L524.5 211.5" stroke="#ffffff"/>
<path d="M519.5 142.5L520.5 142.5L521.5 143.5L521.5 146.5L520.5 147.5L519.5 147.5L518.5 146.5L518.5 143.5L519.5 142.5M519.5 145.5L521.5 148.5M522.5 143.5L523.5 142.5L524.5 142.5L525.5 143.5L525.5 143.5L522.5 147.5L525.5 147.5" stroke="#ffffff"/>
<path d="M519.5 154.5L520.5 154.5L521.5 155.5L521.5 158.5L520.5 159.5L519.5 159.5L518.5 158.5L518.5 155.5L519.5 154.5M519.5 157.5L521.5 160.5M522.5 155.5L523.5 154.5L524.5 154.5L525.5 155.5L525.5 156.5L522.5 159.5L525.5 159.5" stroke="#ffffff"/>
<path d="M491.5 114.5L492.5 114.5L493.5 115.5L493.5 118.5L492.5 119.5L491.5 119.5L490.5 118.5L490.5 115.5L491.5 114.5M492.5 118.5L494.5 120.5M495.5 115.5L496.5 114.5L496.5 119.5M495.5 119.5L497.5 119.5" stroke="#ffffff"/>
<path d="M495.5 172.5L496.5 172.5L497.5 173.5L497.5 177.5L496.5 177.5L495.5 177.5L494.5 177.5L494.5 173.5L495.5 172.5M496.5 176.5L498.5 178.5M499.5 173.5L500.5 172.5L500.5 177.5M499.5 177.5L501.5 177.5" stroke="#ffffff"/>
<path d="M535.5 141.5L536.5 141.5L538.5 142.5L538.5 146.5L536.5 147.5L535.5 147.5L533.5 146.5L533.5 142.5L535.5 141.5M536.5 145.5L539.5 148.5M539.5 142.5L540.5 141.5L542.5 141.5L544.5 142.5L544.5 143.5L539.5 147.5L544.5 147.5" stroke="#30b8fc"/>
<path d="M555.5 99.5L557.5 102.5L558.5 99.5M562.5 99.5L561.5 99.5L560.5 99.5L559.5 99.5L559.5 101.5L560.5 102.5L561.5 102.5L562.5 101.5M566.5 99.5L565.5 99.5L564.5 99.5L563.5 99.5L563.5 101.5L564.5 102.5L565.5 102.5L566.5 101.5M568.5 97.5L568.5 102.5" stroke="#ffffff"/>
<path d="M567.5 125.5L567.5 120.5L569.5 123.5L571.5 120.5L571.5 125.5M572.5 120.5L573.5 120.5L574.5 120.5L575.5 120.5L575.5 121.5L574.5 122.5L573.5 122.5M574.5 122.5L575.5 123.5L575.5 124.5L574.5 125.5L573.5 125.5L572.5 124.5M576.5 120.5L577.5 120.5L578.5 120.5L579.5 120.5L579.5 121.5L578.5 122.5L577.5 122.5M578.5 122.5L579.5 123.5L579.5 124.5L578.5 125.5L577.5 125.5L576.5 124.5" stroke="#ff0000"/>
<path d="M545.5 133.5L545.5 137.5M545.5 134.5L546.5 133.5L547.5 133.5L548.5 134.5L548.5 135.5L547.5 136.5L546.5 136.5L545.5 135.5M551.5 131.5L550.5 131.5L549.5 132.5L549.5 136.5M549.5 133.5L551.5 133.5M552.5 134.5L554.5 134.5L554.5 134.5L553.5 133.5L553.5 133.5L552.5 134.5L552.5 135.5L553.5 136.5L553.5 136.5L554.5 135.5M556.5 131.5L556.5 135.5L557.5 136.5L557.5 136.5M555.5 133.5L557.5 133.5M558.5 137.5L562.5 137.5M562.5 133.5L562.5 136.5M562.5 134.5L563.5 133.5L564.5 133.5L565.5 133.5M568.5 131.5L567.5 131.5L566.5 132.5L566.5 136.5M565.5 133.5L567.5 133.5" stroke="#00cc60"/>
<path d="M580.5 103.5L581.5 106.5L582.5 104.5L583.5 106.5L584.5 103.5M587.5 101.5L587.5 101.5L586.5 102.5L586.5 106.5M585.5 103.5L587.5 103.5M588.5 103.5L592.5 103.5M588.5 105.5L592.5 105.5M596.5 101.5L593.5 101.5L593.5 103.5L594.5 103.5L595.5 103.5L596.5 104.5L596.5 105.5L595.5 106.5L594.5 106.5L593.5 105.5M597.5 103.5L597.5 105.5L598.5 106.5L599.5 106.5L599.5 105.5M599.5 103.5L599.5 106.5" stroke="#ff8800"/>
<path d="M581.5 108.5L581.5 113.5M582.5 109.5L582.5 113.5M582.5 110.5L583.5 110.5L584.5 109.5L585.5 109.5M586.5 109.5L591.5 109.5M586.5 111.5L591.5 111.5M592.5 109.5L594.5 108.5L594.5 113.5M592.5 113.5L595.5 113.5M597.5 110.5L596.5 109.5L596.5 109.5L597.5 108.5L598.5 108.5L599.5 109.5L599.5 109.5L598.5 110.5L597.5 110.5L596.5 111.5L596.5 112.5L597.5 113.5L598.5 113.5L599.5 112.5L599.5 111.5L598.5 110.5M601.5 108.5L602.5 108.5L603.5 109.5L603.5 112.5L602.5 113.5L601.5 113.5L600.5 112.5L600.5 109.5L601.5 108.5M601.5 112.5L603.5 109.5M604.5 109.5L604.5 113.5M604.5 110.5L605.5 109.5L606.5 109.5L608.5 110.5L608.5 113.5" stroke="#ff8800"/>
<path d="M580.5 116.5L580.5 119.5M580.5 116.5L581.5 116.5L582.5 116.5L583.5 116.5L583.5 119.5M586.5 114.5L585.5 114.5L584.5 115.5L584.5 119.5M584.5 116.5L586.5 116.5M587.5 116.5L591.5 116.5M587.5 117.5L591.5 117.5M592.5 115.5L593.5 114.5L594.5 114.5L595.5 115.5L595.5 116.5L594.5 116.5L593.5 116.5M594.5 116.5L595.5 117.5L595.5 118.5L594.5 119.5L593.5 119.5L592.5 118.5M597.5 118.5L599.5 115.5M599.5 118.5L597.5 115.5M598.5 118.5L598.5 115.5M602.5 116.5L601.5 116.5L601.5 115.5L602.5 114.5L603.5 114.5L603.5 115.5L603.5 116.5L603.5 116.5L602.5 116.5L601.5 117.5L601.5 118.5L602.5 119.5L603.5 119.5L603.5 118.5L603.5 117.5L603.5 116.5" stroke="#ff8800"/>
<path d="M580.5 122.5L580.5 125.5M580.5 123.5L581.5 122.5L582.5 123.5L582.5 125.5M582.5 123.5L583.5 122.5L584.5 123.5L584.5 125.5M585.5 122.5L588.5 122.5M585.5 124.5L588.5 124.5M590.5 121.5L590.5 120.5L590.5 125.5M590.5 125.5L591.5 125.5" stroke="#ff8800"/>
<path d="M582.5 109.5L584.5 113.5L585.5 109.5M589.5 110.5L588.5 109.5L587.5 109.5L586.5 110.5L586.5 112.5L587.5 113.5L588.5 113.5L589.5 112.5M593.5 110.5L592.5 109.5L591.5 109.5L590.5 110.5L590.5 112.5L591.5 113.5L592.5 113.5L593.5 112.5M595.5 108.5L595.5 113.5" stroke="#ffffff"/>
<path d="M578.5 152.5L579.5 155.5L580.5 153.5L581.5 155.5L583.5 152.5M585.5 150.5L585.5 150.5L584.5 151.5L584.5 155.5M583.5 152.5L585.5 152.5M586.5 152.5L590.5 152.5M586.5 153.5L590.5 153.5M594.5 150.5L591.5 150.5L591.5 152.5L592.5 152.5L593.5 152.5L594.5 153.5L594.5 154.5L593.5 155.5L592.5 155.5L591.5 154.5M595.5 152.5L595.5 154.5L596.5 155.5L596.5 155.5L597.5 154.5M597.5 152.5L597.5 155.5" stroke="#ff8800"/>
<path d="M579.5 156.5L579.5 161.5M583.5 156.5L582.5 156.5L581.5 157.5L581.5 161.5M580.5 158.5L583.5 158.5M584.5 158.5L589.5 158.5M584.5 160.5L589.5 160.5M590.5 157.5L592.5 156.5L592.5 161.5M590.5 161.5L593.5 161.5M595.5 159.5L594.5 158.5L594.5 157.5L595.5 156.5L596.5 156.5L597.5 157.5L597.5 158.5L596.5 159.5L595.5 159.5L594.5 160.5L594.5 161.5L595.5 161.5L596.5 161.5L597.5 161.5L597.5 160.5L596.5 159.5M599.5 156.5L600.5 156.5L601.5 157.5L601.5 161.5L600.5 161.5L599.5 161.5L598.5 161.5L598.5 157.5L599.5 156.5M598.5 160.5L600.5 157.5M602.5 158.5L602.5 161.5M602.5 159.5L603.5 158.5L604.5 158.5L605.5 159.5L605.5 161.5" stroke="#ff8800"/>
<path d="M578.5 164.5L578.5 168.5M578.5 165.5L579.5 164.5L580.5 164.5L581.5 165.5L581.5 168.5M584.5 163.5L584.5 163.5L583.5 164.5L583.5 168.5M582.5 164.5L584.5 164.5M585.5 164.5L590.5 164.5M585.5 166.5L590.5 166.5M591.5 164.5L592.5 163.5L592.5 168.5M591.5 168.5L593.5 168.5M594.5 166.5L597.5 164.5M597.5 166.5L594.5 164.5M596.5 167.5L596.5 164.5M599.5 165.5L598.5 164.5L598.5 164.5L599.5 163.5L600.5 163.5L601.5 164.5L601.5 164.5L600.5 165.5L599.5 165.5L598.5 166.5L598.5 167.5L599.5 168.5L600.5 168.5L601.5 167.5L601.5 166.5L600.5 165.5" stroke="#ff8800"/>
<path d="M578.5 171.5L578.5 174.5M578.5 172.5L579.5 171.5L580.5 172.5L580.5 174.5M580.5 172.5L581.5 171.5L582.5 172.5L582.5 174.5M583.5 171.5L587.5 171.5M583.5 172.5L587.5 172.5M588.5 170.5L589.5 169.5L589.5 174.5M588.5 174.5L589.5 174.5" stroke="#ff8800"/>
<path d="M563.5 184.5L563.5 178.5L565.5 181.5L568.5 178.5L568.5 184.5M568.5 179.5L569.5 178.5L570.5 178.5L571.5 179.5L571.5 180.5L570.5 181.5L569.5 181.5M570.5 181.5L571.5 182.5L571.5 183.5L570.5 184.5L569.5 184.5L568.5 183.5M575.5 184.5L575.5 178.5L572.5 182.5L575.5 182.5" stroke="#ff0000"/>
<path d="M543.5 194.5L543.5 197.5M543.5 194.5L544.5 194.5L545.5 194.5L545.5 194.5L545.5 197.5M548.5 192.5L548.5 192.5L547.5 193.5L547.5 197.5M546.5 194.5L548.5 194.5M549.5 195.5L552.5 195.5L552.5 194.5L551.5 194.5L550.5 194.5L549.5 194.5L549.5 196.5L550.5 197.5L551.5 197.5L552.5 196.5M554.5 192.5L554.5 196.5L554.5 197.5L555.5 197.5M553.5 194.5L555.5 194.5M556.5 197.5L560.5 197.5M560.5 194.5L560.5 197.5M560.5 195.5L561.5 194.5L561.5 194.5L562.5 194.5M565.5 192.5L564.5 192.5L564.5 193.5L564.5 197.5M563.5 194.5L565.5 194.5" stroke="#00cc60"/>
<path d="M562.5 209.5L561.5 208.5L560.5 208.5L559.5 209.5L559.5 210.5L560.5 211.5L561.5 211.5L562.5 210.5M562.5 208.5L562.5 212.5L561.5 213.5L560.5 213.5L559.5 212.5M563.5 208.5L563.5 211.5M563.5 209.5L564.5 208.5L565.5 208.5L566.5 209.5L566.5 211.5M570.5 206.5L570.5 211.5M570.5 209.5L569.5 208.5L568.5 208.5L567.5 209.5L567.5 210.5L568.5 211.5L569.5 211.5L570.5 210.5M571.5 206.5L571.5 211.5" stroke="#ffffff"/>
<path d="M566.5 142.5L567.5 142.5L568.5 143.5L568.5 146.5L567.5 147.5L566.5 147.5L565.5 146.5L565.5 143.5L566.5 142.5M567.5 145.5L569.5 148.5M569.5 143.5L570.5 142.5L571.5 142.5L572.5 143.5L572.5 143.5L571.5 144.5L570.5 144.5M571.5 144.5L572.5 145.5L572.5 146.5L571.5 147.5L570.5 147.5L569.5 146.5" stroke="#ffffff"/>
<path d="M566.5 154.5L567.5 154.5L568.5 155.5L568.5 158.5L567.5 159.5L566.5 159.5L565.5 158.5L565.5 155.5L566.5 154.5M567.5 157.5L569.5 160.5M569.5 155.5L570.5 154.5L571.5 154.5L572.5 155.5L572.5 156.5L571.5 156.5L570.5 156.5M571.5 156.5L572.5 157.5L572.5 158.5L571.5 159.5L570.5 159.5L569.5 158.5" stroke="#ffffff"/>
<path d="M539.5 114.5L540.5 114.5L541.5 115.5L541.5 118.5L540.5 119.5L539.5 119.5L538.5 118.5L538.5 115.5L539.5 114.5M539.5 118.5L541.5 120.5M542.5 115.5L543.5 114.5L544.5 114.5L545.5 115.5L545.5 116.5L542.5 119.5L545.5 119.5" stroke="#ffffff"/>
<path d="M543.5 172.5L544.5 172.5L545.5 173.5L545.5 177.5L544.5 177.5L543.5 177.5L542.5 177.5L542.5 173.5L543.5 172.5M543.5 176.5L545.5 178.5M546.5 173.5L547.5 172.5L548.5 172.5L549.5 173.5L549.5 174.5L546.5 177.5L549.5 177.5" stroke="#ffffff"/>
<path d="M582.5 141.5L584.5 141.5L585.5 142.5L585.5 146.5L584.5 147.5L582.5 147.5L581.5 146.5L581.5 142.5L582.5 141.5M583.5 145.5L586.5 148.5M586.5 142.5L588.5 141.5L589.5 141.5L591.5 142.5L591.5 143.5L589.5 144.5L588.5 144.5M589.5 144.5L591.5 145.5L591.5 146.5L589.5 147.5L588.5 147.5L586.5 146.5" stroke="#30b8fc"/>
<path d="M609.5 99.5L610.5 102.5L612.5 99.5M616.5 99.5L615.5 99.5L614.5 99.5L613.5 99.5L613.5 101.5L614.5 102.5L615.5 102.5L616.5 101.5M620.5 99.5L619.5 99.5L618.5 99.5L617.5 99.5L617.5 101.5L618.5 102.5L619.5 102.5L620.5 101.5M621.5 97.5L621.5 102.5" stroke="#ffffff"/>
<path d="M621.5 125.5L621.5 120.5L623.5 123.5L625.5 120.5L625.5 125.5M626.5 120.5L627.5 120.5L628.5 120.5L629.5 120.5L629.5 121.5L626.5 125.5L629.5 125.5M630.5 120.5L632.5 120.5L633.5 120.5L633.5 124.5L632.5 125.5L630.5 125.5L629.5 124.5L629.5 120.5L630.5 120.5M630.5 124.5L632.5 121.5" stroke="#ff0000"/>
<path d="M599.5 133.5L599.5 137.5M599.5 134.5L600.5 133.5L601.5 133.5L601.5 134.5L601.5 135.5L601.5 136.5L600.5 136.5L599.5 135.5M604.5 131.5L604.5 131.5L603.5 132.5L603.5 136.5M602.5 133.5L604.5 133.5M605.5 134.5L608.5 134.5L608.5 134.5L607.5 133.5L606.5 133.5L605.5 134.5L605.5 135.5L606.5 136.5L607.5 136.5L608.5 135.5M610.5 131.5L610.5 135.5L610.5 136.5L611.5 136.5M609.5 133.5L611.5 133.5M612.5 137.5L616.5 137.5M616.5 133.5L616.5 136.5M616.5 134.5L617.5 133.5L617.5 133.5L618.5 133.5M621.5 131.5L620.5 131.5L620.5 132.5L620.5 136.5M619.5 133.5L621.5 133.5" stroke="#00cc60"/>
<path d="M633.5 103.5L635.5 106.5L636.5 104.5L637.5 106.5L638.5 103.5M641.5 101.5L640.5 101.5L639.5 102.5L639.5 106.5M639.5 103.5L641.5 103.5M642.5 103.5L646.5 103.5M642.5 105.5L646.5 105.5M649.5 101.5L647.5 101.5L647.5 103.5L648.5 103.5L649.5 103.5L649.5 104.5L649.5 105.5L649.5 106.5L648.5 106.5L647.5 105.5M650.5 103.5L650.5 105.5L651.5 106.5L652.5 106.5L653.5 105.5M653.5 103.5L653.5 106.5" stroke="#ff8800"/>
<path d="M634.5 108.5L634.5 113.5M636.5 109.5L636.5 113.5M636.5 110.5L637.5 110.5L638.5 109.5L639.5 109.5M640.5 109.5L645.5 109.5M640.5 111.5L645.5 111.5M646.5 109.5L647.5 108.5L647.5 113.5M646.5 113.5L648.5 113.5M650.5 110.5L649.5 109.5L649.5 109.5L650.5 108.5L652.5 108.5L653.5 109.5L653.5 109.5L652.5 110.5L650.5 110.5L649.5 111.5L649.5 112.5L650.5 113.5L652.5 113.5L653.5 112.5L653.5 111.5L652.5 110.5M655.5 108.5L656.5 108.5L657.5 109.5L657.5 112.5L656.5 113.5L655.5 113.5L654.5 112.5L654.5 109.5L655.5 108.5M654.5 112.5L656.5 109.5M658.5 109.5L658.5 113.5M658.5 110.5L659.5 109.5L660.5 109.5L661.5 110.5L661.5 113.5" stroke="#ff8800"/>
<path d="M633.5 116.5L633.5 119.5M633.5 116.5L634.5 116.5L635.5 116.5L636.5 116.5L636.5 119.5M640.5 114.5L639.5 114.5L638.5 115.5L638.5 119.5M637.5 116.5L639.5 116.5M641.5 116.5L645.5 116.5M641.5 117.5L645.5 117.5M646.5 115.5L647.5 114.5L648.5 114.5L649.5 115.5L649.5 116.5L648.5 116.5L647.5 116.5M648.5 116.5L649.5 117.5L649.5 118.5L648.5 119.5L647.5 119.5L646.5 118.5M651.5 118.5L653.5 115.5M653.5 118.5L651.5 115.5M652.5 118.5L652.5 115.5M655.5 115.5L656.5 114.5L656.5 119.5M655.5 119.5L657.5 119.5M661.5 115.5L660.5 114.5L659.5 114.5L658.5 115.5L658.5 118.5L659.5 119.5L660.5 119.5L661.5 118.5L661.5 117.5L660.5 116.5L659.5 116.5L658.5 117.5" stroke="#ff8800"/>
<path d="M633.5 122.5L633.5 125.5M633.5 123.5L634.5 122.5L636.5 123.5L636.5 125.5M636.5 123.5L637.5 122.5L638.5 123.5L638.5 125.5M639.5 122.5L642.5 122.5M639.5 124.5L642.5 124.5M643.5 121.5L644.5 120.5L644.5 125.5M643.5 125.5L645.5 125.5" stroke="#ff8800"/>
<path d="M636.5 109.5L637.5 113.5L639.5 109.5M643.5 110.5L642.5 109.5L641.5 109.5L640.5 110.5L640.5 112.5L641.5 113.5L642.5 113.5L643.5 112.5M647.5 110.5L646.5 109.5L645.5 109.5L644.5 110.5L644.5 112.5L645.5 113.5L646.5 113.5L647.5 112.5M648.5 108.5L648.5 113.5" stroke="#ffffff"/>
<path d="M632.5 152.5L633.5 155.5L634.5 153.5L635.5 155.5L636.5 152.5M639.5 150.5L638.5 150.5L638.5 151.5L638.5 155.5M637.5 152.5L639.5 152.5M640.5 152.5L644.5 152.5M640.5 153.5L644.5 153.5M647.5 150.5L645.5 150.5L645.5 152.5L646.5 152.5L647.5 152.5L647.5 153.5L647.5 154.5L647.5 155.5L646.5 155.5L645.5 154.5M648.5 152.5L648.5 154.5L649.5 155.5L650.5 155.5L651.5 154.5M651.5 152.5L651.5 155.5" stroke="#ff8800"/>
<path d="M632.5 156.5L632.5 161.5M637.5 156.5L636.5 156.5L635.5 157.5L635.5 161.5M634.5 158.5L636.5 158.5M638.5 158.5L643.5 158.5M638.5 160.5L643.5 160.5M644.5 157.5L645.5 156.5L645.5 161.5M644.5 161.5L646.5 161.5M648.5 159.5L647.5 158.5L647.5 157.5L648.5 156.5L649.5 156.5L651.5 157.5L651.5 158.5L649.5 159.5L648.5 159.5L647.5 160.5L647.5 161.5L648.5 161.5L649.5 161.5L651.5 161.5L651.5 160.5L649.5 159.5M653.5 156.5L654.5 156.5L655.5 157.5L655.5 161.5L654.5 161.5L653.5 161.5L651.5 161.5L651.5 157.5L653.5 156.5M652.5 160.5L654.5 157.5M656.5 158.5L656.5 161.5M656.5 159.5L657.5 158.5L658.5 158.5L659.5 159.5L659.5 161.5" stroke="#ff8800"/>
<path d="M632.5 164.5L632.5 168.5M632.5 165.5L633.5 164.5L634.5 164.5L635.5 165.5L635.5 168.5M638.5 163.5L637.5 163.5L636.5 164.5L636.5 168.5M636.5 164.5L638.5 164.5M639.5 164.5L643.5 164.5M639.5 166.5L643.5 166.5M645.5 164.5L646.5 163.5L646.5 168.5M645.5 168.5L647.5 168.5M648.5 166.5L651.5 164.5M651.5 166.5L648.5 164.5M650.5 167.5L650.5 164.5M653.5 164.5L654.5 163.5L654.5 168.5M653.5 168.5L655.5 168.5M659.5 164.5L658.5 163.5L657.5 163.5L656.5 164.5L656.5 167.5L657.5 168.5L658.5 168.5L659.5 167.5L659.5 166.5L658.5 165.5L657.5 165.5L656.5 166.5" stroke="#ff8800"/>
<path d="M632.5 171.5L632.5 174.5M632.5 172.5L633.5 171.5L634.5 172.5L634.5 174.5M634.5 172.5L635.5 171.5L636.5 172.5L636.5 174.5M637.5 171.5L640.5 171.5M637.5 172.5L640.5 172.5M641.5 170.5L642.5 169.5L642.5 174.5M641.5 174.5L643.5 174.5" stroke="#ff8800"/>
<path d="M617.5 184.5L617.5 178.5L619.5 181.5L621.5 178.5L621.5 184.5M622.5 179.5L623.5 178.5L624.5 178.5L625.5 179.5L625.5 180.5L622.5 184.5L625.5 184.5M626.5 179.5L628.5 178.5L628.5 184.5M626.5 184.5L629.5 184.5" stroke="#ff0000"/>
<path d="M596.5 194.5L596.5 197.5M596.5 194.5L597.5 194.5L598.5 194.5L599.5 194.5L599.5 197.5M602.5 192.5L601.5 192.5L601.5 193.5L601.5 197.5M600.5 194.5L602.5 194.5M603.5 195.5L606.5 195.5L606.5 194.5L605.5 194.5L604.5 194.5L603.5 194.5L603.5 196.5L604.5 197.5L605.5 197.5L606.5 196.5M607.5 192.5L607.5 196.5L608.5 197.5L609.5 197.5M606.5 194.5L608.5 194.5M609.5 197.5L613.5 197.5M613.5 194.5L613.5 197.5M613.5 195.5L614.5 194.5L615.5 194.5L616.5 194.5M619.5 192.5L618.5 192.5L617.5 193.5L617.5 197.5M617.5 194.5L618.5 194.5" stroke="#00cc60"/>
<path d="M615.5 209.5L614.5 208.5L613.5 208.5L612.5 209.5L612.5 210.5L613.5 211.5L614.5 211.5L615.5 210.5M615.5 208.5L615.5 212.5L614.5 213.5L613.5 213.5L612.5 212.5M616.5 208.5L616.5 211.5M616.5 209.5L617.5 208.5L618.5 208.5L619.5 209.5L619.5 211.5M623.5 206.5L623.5 211.5M623.5 209.5L622.5 208.5L621.5 208.5L620.5 209.5L620.5 210.5L621.5 211.5L622.5 211.5L623.5 210.5M625.5 206.5L625.5 211.5" stroke="#ffffff"/>
<path d="M620.5 142.5L621.5 142.5L622.5 143.5L622.5 146.5L621.5 147.5L620.5 147.5L619.5 146.5L619.5 143.5L620.5 142.5M620.5 145.5L622.5 148.5M625.5 147.5L625.5 142.5L623.5 145.5L626.5 145.5" stroke="#ffffff"/>
<path d="M620.5 154.5L621.5 154.5L622.5 155.5L622.5 158.5L621.5 159.5L620.5 159.5L619.5 158.5L619.5 155.5L620.5 154.5M620.5 157.5L622.5 160.5M625.5 159.5L625.5 154.5L623.5 157.5L626.5 157.5" stroke="#ffffff"/>
<path d="M592.5 114.5L593.5 114.5L594.5 115.5L594.5 118.5L593.5 119.5L592.5 119.5L591.5 118.5L591.5 115.5L592.5 114.5M593.5 118.5L595.5 120.5M595.5 115.5L596.5 114.5L597.5 114.5L598.5 115.5L598.5 116.5L597.5 117.5L596.5 117.5M597.5 117.5L598.5 118.5L598.5 118.5L597.5 119.5L596.5 119.5L595.5 118.5" stroke="#ffffff"/>
<path d="M596.5 172.5L597.5 172.5L598.5 173.5L598.5 177.5L597.5 177.5L596.5 177.5L595.5 177.5L595.5 173.5L596.5 172.5M597.5 176.5L599.5 178.5M599.5 173.5L600.5 172.5L601.5 172.5L602.5 173.5L602.5 174.5L601.5 175.5L600.5 175.5M601.5 175.5L602.5 176.5L602.5 177.5L601.5 177.5L600.5 177.5L599.5 177.5" stroke="#ffffff"/>
<path d="M648.5 141.5L649.5 141.5L651.5 142.5L651.5 146.5L649.5 147.5L648.5 147.5L646.5 146.5L646.5 142.5L648.5 141.5M649.5 145.5L651.5 148.5M655.5 147.5L655.5 141.5L652.5 145.5L656.5 145.5" stroke="#30b8fc"/>
<path d="M674.5 99.5L676.5 102.5L677.5 99.5M681.5 99.5L680.5 99.5L679.5 99.5L678.5 99.5L678.5 101.5L679.5 102.5L680.5 102.5L681.5 101.5M685.5 99.5L684.5 99.5L683.5 99.5L682.5 99.5L682.5 101.5L683.5 102.5L684.5 102.5L685.5 101.5M687.5 97.5L687.5 102.5" stroke="#ffffff"/>
<path d="M686.5 125.5L686.5 120.5L688.5 123.5L691.5 120.5L691.5 125.5M692.5 121.5L693.5 120.5L693.5 125.5M692.5 125.5L694.5 125.5M695.5 124.5L696.5 125.5L697.5 125.5L698.5 124.5L698.5 120.5L697.5 120.5L696.5 120.5L695.5 120.5L695.5 122.5L696.5 123.5L697.5 123.5L698.5 122.5" stroke="#ff0000"/>
<path d="M664.5 133.5L664.5 137.5M664.5 134.5L665.5 133.5L666.5 133.5L667.5 134.5L667.5 135.5L666.5 136.5L665.5 136.5L664.5 135.5M670.5 131.5L669.5 131.5L669.5 132.5L669.5 136.5M668.5 133.5L670.5 133.5M671.5 134.5L673.5 134.5L673.5 134.5L673.5 133.5L672.5 133.5L671.5 134.5L671.5 135.5L672.5 136.5L673.5 136.5L673.5 135.5M675.5 131.5L675.5 135.5L676.5 136.5L676.5 136.5M674.5 133.5L676.5 133.5M677.5 137.5L681.5 137.5M681.5 133.5L681.5 136.5M681.5 134.5L682.5 133.5L683.5 133.5L684.5 133.5M687.5 131.5L686.5 131.5L685.5 132.5L685.5 136.5M685.5 133.5L686.5 133.5" stroke="#00cc60"/>
<path d="M699.5 103.5L700.5 106.5L701.5 104.5L702.5 106.5L703.5 103.5M706.5 101.5L706.5 101.5L705.5 102.5L705.5 106.5M704.5 103.5L706.5 103.5M707.5 103.5L711.5 103.5M707.5 105.5L711.5 105.5M715.5 101.5L712.5 101.5L712.5 103.5L713.5 103.5L714.5 103.5L715.5 104.5L715.5 105.5L714.5 106.5L713.5 106.5L712.5 105.5M716.5 103.5L716.5 105.5L717.5 106.5L718.5 106.5L719.5 105.5M719.5 103.5L719.5 106.5" stroke="#ff8800"/>
<path d="M700.5 108.5L700.5 113.5M701.5 109.5L701.5 113.5M701.5 110.5L702.5 110.5L703.5 109.5L704.5 109.5M705.5 109.5L710.5 109.5M705.5 111.5L710.5 111.5M712.5 109.5L713.5 108.5L713.5 113.5M712.5 113.5L714.5 113.5M716.5 110.5L715.5 109.5L715.5 109.5L716.5 108.5L717.5 108.5L718.5 109.5L718.5 109.5L717.5 110.5L716.5 110.5L715.5 111.5L715.5 112.5L716.5 113.5L717.5 113.5L718.5 112.5L718.5 111.5L717.5 110.5M720.5 108.5L721.5 108.5L722.5 109.5L722.5 112.5L721.5 113.5L720.5 113.5L719.5 112.5L719.5 109.5L720.5 108.5M720.5 112.5L722.5 109.5M723.5 109.5L723.5 113.5M723.5 110.5L724.5 109.5L726.5 109.5L727.5 110.5L727.5 113.5" stroke="#ff8800"/>
<path d="M699.5 116.5L699.5 119.5M699.5 116.5L700.5 116.5L701.5 116.5L702.5 116.5L702.5 119.5M705.5 114.5L704.5 114.5L704.5 115.5L704.5 119.5M703.5 116.5L705.5 116.5M706.5 116.5L711.5 116.5M706.5 117.5L711.5 117.5M711.5 115.5L712.5 114.5L713.5 114.5L714.5 115.5L714.5 116.5L713.5 116.5L712.5 116.5M713.5 116.5L714.5 117.5L714.5 118.5L713.5 119.5L712.5 119.5L711.5 118.5M716.5 118.5L718.5 115.5M718.5 118.5L716.5 115.5M717.5 118.5L717.5 115.5M720.5 115.5L721.5 114.5L722.5 114.5L723.5 115.5L723.5 116.5L722.5 116.5L721.5 116.5M722.5 116.5L723.5 117.5L723.5 118.5L722.5 119.5L721.5 119.5L720.5 118.5M724.5 115.5L725.5 114.5L726.5 114.5L727.5 115.5L727.5 116.5L724.5 119.5L727.5 119.5" stroke="#ff8800"/>
<path d="M699.5 122.5L699.5 125.5M699.5 123.5L700.5 122.5L701.5 123.5L701.5 125.5M701.5 123.5L702.5 122.5L703.5 123.5L703.5 125.5M704.5 122.5L708.5 122.5M704.5 124.5L708.5 124.5M709.5 121.5L710.5 120.5L710.5 125.5M709.5 125.5L710.5 125.5" stroke="#ff8800"/>
<path d="M701.5 109.5L703.5 113.5L704.5 109.5M708.5 110.5L707.5 109.5L706.5 109.5L705.5 110.5L705.5 112.5L706.5 113.5L707.5 113.5L708.5 112.5M712.5 110.5L711.5 109.5L710.5 109.5L709.5 110.5L709.5 112.5L710.5 113.5L711.5 113.5L712.5 112.5M714.5 108.5L714.5 113.5" stroke="#ffffff"/>
<path d="M697.5 152.5L698.5 155.5L699.5 153.5L701.5 155.5L702.5 152.5M705.5 150.5L704.5 150.5L703.5 151.5L703.5 155.5M703.5 152.5L704.5 152.5M705.5 152.5L709.5 152.5M705.5 153.5L709.5 153.5M713.5 150.5L710.5 150.5L710.5 152.5L711.5 152.5L712.5 152.5L713.5 153.5L713.5 154.5L712.5 155.5L711.5 155.5L710.5 154.5M714.5 152.5L714.5 154.5L715.5 155.5L716.5 155.5L716.5 154.5M716.5 152.5L716.5 155.5" stroke="#ff8800"/>
<path d="M698.5 156.5L698.5 161.5M702.5 156.5L701.5 156.5L701.5 157.5L701.5 161.5M700.5 158.5L702.5 158.5M703.5 158.5L708.5 158.5M703.5 160.5L708.5 160.5M709.5 157.5L711.5 156.5L711.5 161.5M709.5 161.5L712.5 161.5M714.5 159.5L713.5 158.5L713.5 157.5L714.5 156.5L715.5 156.5L716.5 157.5L716.5 158.5L715.5 159.5L714.5 159.5L713.5 160.5L713.5 161.5L714.5 161.5L715.5 161.5L716.5 161.5L716.5 160.5L715.5 159.5M718.5 156.5L719.5 156.5L720.5 157.5L720.5 161.5L719.5 161.5L718.5 161.5L717.5 161.5L717.5 157.5L718.5 156.5M718.5 160.5L720.5 157.5M721.5 158.5L721.5 161.5M721.5 159.5L722.5 158.5L723.5 158.5L724.5 159.5L724.5 161.5" stroke="#ff8800"/>
<path d="M697.5 164.5L697.5 168.5M697.5 165.5L698.5 164.5L699.5 164.5L700.5 165.5L700.5 168.5M703.5 163.5L703.5 163.5L702.5 164.5L702.5 168.5M701.5 164.5L703.5 164.5M704.5 164.5L709.5 164.5M704.5 166.5L709.5 166.5M710.5 164.5L711.5 163.5L711.5 168.5M710.5 168.5L712.5 168.5M714.5 166.5L716.5 164.5M716.5 166.5L714.5 164.5M715.5 167.5L715.5 164.5M718.5 164.5L719.5 163.5L720.5 163.5L721.5 164.5L721.5 164.5L720.5 165.5L719.5 165.5M720.5 165.5L721.5 166.5L721.5 167.5L720.5 168.5L719.5 168.5L718.5 167.5M722.5 164.5L722.5 163.5L723.5 163.5L724.5 164.5L724.5 164.5L722.5 168.5L724.5 168.5" stroke="#ff8800"/>
<path d="M697.5 171.5L697.5 174.5M697.5 172.5L698.5 171.5L699.5 172.5L699.5 174.5M699.5 172.5L700.5 171.5L702.5 172.5L702.5 174.5M702.5 171.5L706.5 171.5M702.5 172.5L706.5 172.5M707.5 170.5L708.5 169.5L708.5 174.5M707.5 174.5L708.5 174.5" stroke="#ff8800"/>
<path d="M682.5 184.5L682.5 178.5L685.5 181.5L687.5 178.5L687.5 184.5M687.5 179.5L688.5 178.5L689.5 178.5L691.5 179.5L691.5 180.5L687.5 184.5L691.5 184.5M691.5 179.5L692.5 178.5L693.5 178.5L694.5 179.5L694.5 180.5L691.5 184.5L694.5 184.5" stroke="#ff0000"/>
<path d="M662.5 194.5L662.5 197.5M662.5 194.5L663.5 194.5L664.5 194.5L665.5 194.5L665.5 197.5M668.5 192.5L667.5 192.5L666.5 193.5L666.5 197.5M665.5 194.5L667.5 194.5M668.5 195.5L671.5 195.5L671.5 194.5L670.5 194.5L669.5 194.5L668.5 194.5L668.5 196.5L669.5 197.5L670.5 197.5L671.5 196.5M673.5 192.5L673.5 196.5L673.5 197.5L674.5 197.5M672.5 194.5L674.5 194.5M675.5 197.5L679.5 197.5M679.5 194.5L679.5 197.5M679.5 195.5L680.5 194.5L681.5 194.5L681.5 194.5M684.5 192.5L684.5 192.5L683.5 193.5L683.5 197.5M682.5 194.5L684.5 194.5" stroke="#00cc60"/>
<path d="M681.5 209.5L680.5 208.5L679.5 208.5L678.5 209.5L678.5 210.5L679.5 211.5L680.5 211.5L681.5 210.5M681.5 208.5L681.5 212.5L680.5 213.5L679.5 213.5L678.5 212.5M682.5 208.5L682.5 211.5M682.5 209.5L683.5 208.5L684.5 208.5L685.5 209.5L685.5 211.5M689.5 206.5L689.5 211.5M689.5 209.5L688.5 208.5L687.5 208.5L686.5 209.5L686.5 210.5L687.5 211.5L688.5 211.5L689.5 210.5M690.5 206.5L690.5 211.5" stroke="#ffffff"/>
<path d="M672.5 147.5L672.5 142.5L675.5 142.5M672.5 144.5L674.5 144.5M677.5 143.5L678.5 143.5L678.5 144.5L678.5 146.5L678.5 147.5L677.5 147.5L676.5 146.5L676.5 144.5L677.5 143.5M679.5 143.5L679.5 146.5L680.5 147.5L681.5 147.5L682.5 146.5M682.5 143.5L682.5 147.5M684.5 142.5L684.5 146.5L685.5 147.5L685.5 147.5M683.5 143.5L685.5 143.5M686.5 143.5L687.5 142.5L688.5 142.5L689.5 143.5L689.5 143.5L686.5 147.5L689.5 147.5" stroke="#ffffff"/>
<path d="M672.5 159.5L672.5 154.5L675.5 154.5M672.5 156.5L674.5 156.5M677.5 156.5L678.5 156.5L678.5 156.5L678.5 158.5L678.5 159.5L677.5 159.5L676.5 158.5L676.5 156.5L677.5 156.5M679.5 156.5L679.5 158.5L680.5 159.5L681.5 159.5L682.5 158.5M682.5 156.5L682.5 159.5M684.5 154.5L684.5 158.5L685.5 159.5L685.5 159.5M683.5 156.5L685.5 156.5M686.5 155.5L687.5 154.5L688.5 154.5L689.5 155.5L689.5 156.5L686.5 159.5L689.5 159.5" stroke="#ffffff"/>
<path d="M658.5 114.5L659.5 114.5L660.5 115.5L660.5 118.5L659.5 119.5L658.5 119.5L657.5 118.5L657.5 115.5L658.5 114.5M659.5 118.5L660.5 120.5M663.5 119.5L663.5 114.5L661.5 118.5L664.5 118.5" stroke="#ffffff"/>
<path d="M662.5 172.5L663.5 172.5L664.5 173.5L664.5 177.5L663.5 177.5L662.5 177.5L661.5 177.5L661.5 173.5L662.5 172.5M663.5 176.5L664.5 178.5M667.5 177.5L667.5 172.5L665.5 176.5L668.5 176.5" stroke="#ffffff"/>
<path d="M705.5 147.5L705.5 141.5L709.5 141.5M705.5 144.5L707.5 144.5M711.5 143.5L712.5 143.5L714.5 144.5L714.5 146.5L712.5 147.5L711.5 147.5L710.5 146.5L710.5 144.5L711.5 143.5M715.5 143.5L715.5 146.5L716.5 147.5L718.5 147.5L719.5 146.5M719.5 143.5L719.5 147.5M721.5 141.5L721.5 146.5L722.5 147.5L723.5 147.5M720.5 143.5L723.5 143.5M724.5 142.5L726.5 141.5L727.5 141.5L729.5 142.5L729.5 143.5L724.5 147.5L729.5 147.5" stroke="#30b8fc"/>
<path d="M744.5 157.5L744.5 152.5L747.5 152.5L748.5 153.5L748.5 154.5L747.5 154.5L744.5 154.5M746.5 154.5L748.5 157.5M748.5 156.5L749.5 157.5L751.5 157.5L752.5 156.5L752.5 153.5L751.5 152.5L749.5 152.5L748.5 153.5L748.5 154.5L749.5 155.5L751.5 155.5L752.5 154.5" stroke="#ff0000"/>
<path d="M744.5 164.5L744.5 167.5M744.5 165.5L745.5 164.5L746.5 164.5L747.5 164.5M748.5 164.5L752.5 164.5M748.5 165.5L752.5 165.5M756.5 162.5L753.5 162.5L753.5 164.5L754.5 164.5L755.5 164.5L756.5 165.5L756.5 166.5L755.5 167.5L754.5 167.5L753.5 166.5M758.5 162.5L759.5 162.5L760.5 163.5L760.5 166.5L759.5 167.5L758.5 167.5L757.5 166.5L757.5 163.5L758.5 162.5M758.5 166.5L759.5 163.5" stroke="#ff8800"/>
<path d="M371.5 265.5L372.5 269.5L374.5 265.5M378.5 266.5L377.5 265.5L376.5 265.5L375.5 266.5L375.5 268.5L376.5 269.5L377.5 269.5L378.5 268.5M382.5 266.5L381.5 265.5L380.5 265.5L379.5 266.5L379.5 268.5L380.5 269.5L381.5 269.5L382.5 268.5M383.5 264.5L383.5 269.5" stroke="#ffffff"/>
<path d="M382.5 292.5L382.5 286.5L385.5 289.5L387.5 286.5L387.5 292.5M387.5 287.5L388.5 286.5L390.5 286.5L391.5 287.5L391.5 288.5L390.5 289.5L388.5 289.5M390.5 289.5L391.5 290.5L391.5 291.5L390.5 292.5L388.5 292.5L387.5 291.5M392.5 286.5L393.5 286.5L394.5 287.5L394.5 291.5L393.5 292.5L392.5 292.5L391.5 291.5L391.5 287.5L392.5 286.5M392.5 291.5L394.5 287.5" stroke="#ff0000"/>
<path d="M361.5 300.5L361.5 304.5M361.5 300.5L361.5 300.5L362.5 300.5L363.5 300.5L363.5 302.5L362.5 303.5L361.5 303.5L361.5 302.5M366.5 298.5L365.5 298.5L365.5 299.5L365.5 303.5M364.5 300.5L366.5 300.5M367.5 301.5L370.5 301.5L370.5 300.5L369.5 300.5L368.5 300.5L367.5 300.5L367.5 302.5L368.5 303.5L369.5 303.5L370.5 302.5M371.5 298.5L371.5 302.5L372.5 303.5L373.5 303.5M371.5 300.5L372.5 300.5M373.5 303.5L377.5 303.5M378.5 300.5L378.5 303.5M378.5 301.5L378.5 300.5L379.5 300.5L380.5 300.5M383.5 298.5L382.5 298.5L381.5 299.5L381.5 303.5M381.5 300.5L383.5 300.5" stroke="#00cc60"/>
<path d="M395.5 270.5L396.5 273.5L397.5 271.5L398.5 273.5L400.5 270.5M403.5 268.5L402.5 268.5L401.5 269.5L401.5 273.5M400.5 270.5L402.5 270.5M404.5 270.5L408.5 270.5M404.5 271.5L408.5 271.5M411.5 268.5L409.5 268.5L409.5 270.5L409.5 270.5L410.5 270.5L411.5 271.5L411.5 272.5L410.5 273.5L409.5 273.5L409.5 272.5M412.5 270.5L412.5 272.5L413.5 273.5L414.5 273.5L415.5 272.5M415.5 270.5L415.5 273.5" stroke="#ff8800"/>
<path d="M396.5 274.5L396.5 279.5M397.5 276.5L397.5 279.5M397.5 277.5L398.5 276.5L399.5 276.5L400.5 276.5M401.5 276.5L406.5 276.5M401.5 278.5L406.5 278.5M407.5 275.5L408.5 274.5L409.5 274.5L410.5 275.5L410.5 276.5L407.5 279.5L410.5 279.5M411.5 275.5L412.5 274.5L413.5 274.5L415.5 275.5L415.5 276.5L411.5 279.5L415.5 279.5M417.5 274.5L418.5 274.5L419.5 275.5L419.5 279.5L418.5 279.5L417.5 279.5L415.5 279.5L415.5 275.5L417.5 274.5M416.5 278.5L418.5 275.5M420.5 276.5L420.5 279.5M420.5 277.5L421.5 276.5L422.5 276.5L423.5 277.5L423.5 279.5" stroke="#ff8800"/>
<path d="M395.5 282.5L395.5 286.5M395.5 283.5L396.5 282.5L397.5 282.5L398.5 283.5L398.5 286.5M401.5 281.5L401.5 281.5L400.5 282.5L400.5 286.5M399.5 282.5L401.5 282.5M402.5 282.5L407.5 282.5M402.5 284.5L407.5 284.5M408.5 282.5L409.5 281.5L409.5 281.5L410.5 282.5L410.5 282.5L409.5 283.5L409.5 283.5M409.5 283.5L410.5 284.5L410.5 285.5L409.5 286.5L409.5 286.5L408.5 285.5M412.5 284.5L414.5 282.5M414.5 284.5L412.5 282.5M413.5 285.5L413.5 282.5M416.5 282.5L417.5 281.5L418.5 281.5L419.5 282.5L419.5 282.5L416.5 286.5L419.5 286.5" stroke="#ff8800"/>
<path d="M395.5 289.5L395.5 292.5M395.5 290.5L396.5 289.5L397.5 290.5L397.5 292.5M397.5 290.5L398.5 289.5L399.5 290.5L399.5 292.5M400.5 289.5L404.5 289.5M400.5 290.5L404.5 290.5M405.5 288.5L406.5 287.5L406.5 292.5M405.5 292.5L406.5 292.5" stroke="#ff8800"/>
<path d="M398.5 276.5L399.5 280.5L401.5 276.5M405.5 277.5L404.5 276.5L403.5 276.5L402.5 277.5L402.5 279.5L403.5 280.5L404.5 280.5L405.5 279.5M409.5 277.5L408.5 276.5L407.5 276.5L406.5 277.5L406.5 279.5L407.5 280.5L408.5 280.5L409.5 279.5M410.5 274.5L410.5 280.5" stroke="#ffffff"/>
<path d="M394.5 318.5L395.5 322.5L396.5 319.5L397.5 322.5L398.5 318.5M401.5 317.5L400.5 317.5L399.5 318.5L399.5 322.5M399.5 318.5L401.5 318.5M402.5 318.5L406.5 318.5M402.5 320.5L406.5 320.5M409.5 317.5L407.5 317.5L407.5 319.5L407.5 318.5L408.5 318.5L409.5 319.5L409.5 321.5L408.5 322.5L407.5 322.5L407.5 321.5M410.5 318.5L410.5 321.5L411.5 322.5L412.5 322.5L413.5 321.5M413.5 318.5L413.5 322.5" stroke="#ff8800"/>
<path d="M394.5 323.5L394.5 328.5M398.5 323.5L398.5 323.5L397.5 324.5L397.5 328.5M396.5 325.5L398.5 325.5M399.5 325.5L404.5 325.5M399.5 326.5L404.5 326.5M405.5 324.5L406.5 323.5L407.5 323.5L408.5 324.5L408.5 325.5L405.5 328.5L408.5 328.5M409.5 324.5L410.5 323.5L411.5 323.5L412.5 324.5L412.5 325.5L409.5 328.5L412.5 328.5M414.5 323.5L415.5 323.5L417.5 324.5L417.5 327.5L415.5 328.5L414.5 328.5L413.5 327.5L413.5 324.5L414.5 323.5M414.5 327.5L416.5 324.5M417.5 325.5L417.5 328.5M417.5 326.5L419.5 325.5L420.5 325.5L421.5 326.5L421.5 328.5" stroke="#ff8800"/>
<path d="M394.5 331.5L394.5 334.5M394.5 332.5L395.5 331.5L395.5 331.5L396.5 332.5L396.5 334.5M400.5 330.5L399.5 330.5L398.5 330.5L398.5 334.5M397.5 331.5L399.5 331.5M401.5 331.5L405.5 331.5M401.5 333.5L405.5 333.5M406.5 331.5L407.5 330.5L407.5 334.5M406.5 334.5L408.5 334.5M410.5 333.5L412.5 331.5M412.5 333.5L410.5 331.5M411.5 334.5L411.5 330.5M414.5 330.5L415.5 330.5L416.5 330.5L417.5 330.5L417.5 331.5L414.5 334.5L417.5 334.5" stroke="#ff8800"/>
<path d="M394.5 338.5L394.5 341.5M394.5 338.5L395.5 338.5L396.5 338.5L396.5 341.5M396.5 338.5L397.5 338.5L398.5 338.5L398.5 341.5M399.5 338.5L402.5 338.5M399.5 339.5L402.5 339.5M403.5 337.5L404.5 336.5L404.5 341.5M403.5 341.5L405.5 341.5" stroke="#ff8800"/>
<path d="M379.5 350.5L379.5 345.5L381.5 348.5L383.5 345.5L383.5 350.5M384.5 346.5L385.5 345.5L386.5 345.5L387.5 346.5L387.5 347.5L386.5 348.5L385.5 348.5M386.5 348.5L387.5 349.5L387.5 349.5L386.5 350.5L385.5 350.5L384.5 349.5M387.5 349.5L388.5 350.5L390.5 350.5L391.5 349.5L391.5 346.5L390.5 345.5L388.5 345.5L387.5 346.5L387.5 347.5L388.5 348.5L390.5 348.5L391.5 347.5" stroke="#ff0000"/>
<path d="M358.5 360.5L358.5 363.5M358.5 361.5L359.5 360.5L360.5 360.5L361.5 361.5L361.5 363.5M364.5 359.5L363.5 359.5L362.5 360.5L362.5 363.5M362.5 360.5L363.5 360.5M365.5 362.5L367.5 362.5L367.5 361.5L366.5 360.5L366.5 360.5L365.5 361.5L365.5 363.5L366.5 363.5L366.5 363.5L367.5 363.5M369.5 359.5L369.5 363.5L370.5 363.5L370.5 363.5M368.5 360.5L370.5 360.5M371.5 364.5L375.5 364.5M375.5 360.5L375.5 363.5M375.5 362.5L376.5 361.5L377.5 360.5L377.5 360.5M380.5 359.5L380.5 359.5L379.5 360.5L379.5 363.5M378.5 360.5L380.5 360.5" stroke="#00cc60"/>
<path d="M377.5 376.5L376.5 375.5L375.5 375.5L374.5 376.5L374.5 377.5L375.5 378.5L376.5 378.5L377.5 377.5M377.5 375.5L377.5 379.5L376.5 380.5L375.5 380.5L374.5 379.5M378.5 375.5L378.5 378.5M378.5 376.5L379.5 375.5L380.5 375.5L381.5 376.5L381.5 378.5M385.5 373.5L385.5 378.5M385.5 376.5L384.5 375.5L383.5 375.5L382.5 376.5L382.5 377.5L383.5 378.5L384.5 378.5L385.5 377.5M387.5 373.5L387.5 378.5" stroke="#ffffff"/>
<path d="M365.5 310.5L365.5 314.5M365.5 311.5L366.5 310.5L367.5 310.5L367.5 311.5L367.5 314.5M368.5 312.5L371.5 312.5L371.5 311.5L370.5 310.5L369.5 310.5L368.5 311.5L368.5 313.5L369.5 314.5L370.5 314.5L371.5 313.5M373.5 308.5L373.5 313.5L373.5 314.5L374.5 314.5M372.5 310.5L374.5 310.5M376.5 308.5L377.5 308.5L378.5 309.5L378.5 313.5L377.5 314.5L376.5 314.5L375.5 313.5L375.5 309.5L376.5 308.5M376.5 313.5L377.5 310.5M382.5 308.5L379.5 308.5L379.5 311.5L380.5 310.5L381.5 310.5L382.5 311.5L382.5 313.5L381.5 314.5L380.5 314.5L379.5 313.5M382.5 309.5L383.5 308.5L384.5 308.5L385.5 309.5L385.5 310.5L382.5 314.5L385.5 314.5" stroke="#ffffff"/>
<path d="M365.5 322.5L365.5 326.5M365.5 323.5L366.5 322.5L367.5 322.5L367.5 323.5L367.5 326.5M368.5 324.5L371.5 324.5L371.5 323.5L370.5 322.5L369.5 322.5L368.5 323.5L368.5 325.5L369.5 326.5L370.5 326.5L371.5 325.5M373.5 321.5L373.5 325.5L373.5 326.5L374.5 326.5M372.5 322.5L374.5 322.5M376.5 321.5L377.5 321.5L378.5 321.5L378.5 325.5L377.5 326.5L376.5 326.5L375.5 325.5L375.5 321.5L376.5 321.5M376.5 325.5L377.5 322.5M382.5 321.5L379.5 321.5L379.5 323.5L380.5 322.5L381.5 322.5L382.5 323.5L382.5 325.5L381.5 326.5L380.5 326.5L379.5 325.5M382.5 321.5L383.5 321.5L384.5 321.5L385.5 321.5L385.5 322.5L382.5 326.5L385.5 326.5" stroke="#ffffff"/>
<path d="M337.5 283.5L337.5 286.5M337.5 283.5L338.5 283.5L340.5 283.5L341.5 283.5L341.5 286.5M341.5 284.5L345.5 284.5L345.5 283.5L344.5 283.5L343.5 283.5L341.5 283.5L341.5 285.5L343.5 286.5L344.5 286.5L345.5 285.5M346.5 281.5L346.5 285.5L347.5 286.5L348.5 286.5M346.5 283.5L348.5 283.5M350.5 281.5L351.5 281.5L352.5 282.5L352.5 285.5L351.5 286.5L350.5 286.5L349.5 285.5L349.5 282.5L350.5 281.5M350.5 285.5L351.5 282.5M355.5 286.5L355.5 281.5L353.5 284.5L356.5 284.5M358.5 283.5L357.5 283.5L357.5 282.5L358.5 281.5L359.5 281.5L360.5 282.5L360.5 283.5L359.5 283.5L358.5 283.5L357.5 284.5L357.5 285.5L358.5 286.5L359.5 286.5L360.5 285.5L360.5 284.5L359.5 283.5" stroke="#ffffff"/>
<path d="M340.5 341.5L340.5 344.5M340.5 342.5L341.5 341.5L343.5 341.5L344.5 342.5L344.5 344.5M344.5 342.5L348.5 342.5L348.5 342.5L347.5 341.5L346.5 341.5L344.5 342.5L344.5 343.5L346.5 344.5L347.5 344.5L348.5 343.5M349.5 339.5L349.5 343.5L350.5 344.5L351.5 344.5M349.5 341.5L351.5 341.5M353.5 339.5L354.5 339.5L355.5 340.5L355.5 343.5L354.5 344.5L353.5 344.5L352.5 343.5L352.5 340.5L353.5 339.5M353.5 343.5L354.5 340.5M358.5 344.5L358.5 339.5L356.5 342.5L359.5 342.5M361.5 342.5L360.5 341.5L360.5 340.5L361.5 339.5L362.5 339.5L363.5 340.5L363.5 341.5L362.5 342.5L361.5 342.5L360.5 342.5L360.5 343.5L361.5 344.5L362.5 344.5L363.5 343.5L363.5 342.5L362.5 342.5" stroke="#ffffff"/>
<path d="M430.5 265.5L432.5 269.5L433.5 265.5M437.5 266.5L436.5 265.5L435.5 265.5L434.5 266.5L434.5 268.5L435.5 269.5L436.5 269.5L437.5 268.5M441.5 266.5L440.5 265.5L439.5 265.5L438.5 266.5L438.5 268.5L439.5 269.5L440.5 269.5L441.5 268.5M443.5 264.5L443.5 269.5" stroke="#ffffff"/>
<path d="M442.5 292.5L442.5 286.5L444.5 289.5L446.5 286.5L446.5 292.5M447.5 287.5L448.5 286.5L449.5 286.5L450.5 287.5L450.5 288.5L447.5 292.5L450.5 292.5M454.5 286.5L451.5 286.5L451.5 289.5L452.5 288.5L453.5 288.5L454.5 289.5L454.5 291.5L453.5 292.5L452.5 292.5L451.5 291.5" stroke="#ff0000"/>
<path d="M420.5 300.5L420.5 304.5M420.5 300.5L421.5 300.5L422.5 300.5L423.5 300.5L423.5 302.5L422.5 303.5L421.5 303.5L420.5 302.5M426.5 298.5L425.5 298.5L424.5 299.5L424.5 303.5M424.5 300.5L425.5 300.5M427.5 301.5L429.5 301.5L429.5 300.5L428.5 300.5L428.5 300.5L427.5 300.5L427.5 302.5L428.5 303.5L428.5 303.5L429.5 302.5M431.5 298.5L431.5 302.5L432.5 303.5L432.5 303.5M430.5 300.5L432.5 300.5M433.5 303.5L437.5 303.5M437.5 300.5L437.5 303.5M437.5 301.5L438.5 300.5L439.5 300.5L439.5 300.5M442.5 298.5L442.5 298.5L441.5 299.5L441.5 303.5M440.5 300.5L442.5 300.5" stroke="#00cc60"/>
<path d="M455.5 270.5L456.5 273.5L457.5 271.5L458.5 273.5L459.5 270.5M462.5 268.5L461.5 268.5L461.5 269.5L461.5 273.5M460.5 270.5L462.5 270.5M463.5 270.5L467.5 270.5M463.5 271.5L467.5 271.5M471.5 268.5L468.5 268.5L468.5 270.5L469.5 270.5L470.5 270.5L471.5 271.5L471.5 272.5L470.5 273.5L469.5 273.5L468.5 272.5M472.5 270.5L472.5 272.5L473.5 273.5L473.5 273.5L474.5 272.5M474.5 270.5L474.5 273.5" stroke="#ff8800"/>
<path d="M455.5 274.5L455.5 279.5M457.5 276.5L457.5 279.5M457.5 277.5L458.5 276.5L459.5 276.5L460.5 276.5M461.5 276.5L466.5 276.5M461.5 278.5L466.5 278.5M467.5 275.5L468.5 274.5L468.5 279.5M467.5 279.5L470.5 279.5M472.5 277.5L471.5 276.5L471.5 275.5L472.5 274.5L473.5 274.5L474.5 275.5L474.5 276.5L473.5 277.5L472.5 277.5L471.5 278.5L471.5 279.5L472.5 279.5L473.5 279.5L474.5 279.5L474.5 278.5L473.5 277.5M476.5 274.5L477.5 274.5L478.5 275.5L478.5 279.5L477.5 279.5L476.5 279.5L475.5 279.5L475.5 275.5L476.5 274.5M476.5 278.5L478.5 275.5M479.5 276.5L479.5 279.5M479.5 277.5L480.5 276.5L481.5 276.5L483.5 277.5L483.5 279.5" stroke="#ff8800"/>
<path d="M455.5 282.5L455.5 286.5M455.5 283.5L456.5 282.5L457.5 282.5L458.5 283.5L458.5 286.5M461.5 281.5L460.5 281.5L459.5 282.5L459.5 286.5M459.5 282.5L461.5 282.5M462.5 282.5L466.5 282.5M462.5 284.5L466.5 284.5M467.5 282.5L468.5 281.5L469.5 281.5L470.5 282.5L470.5 282.5L469.5 283.5L468.5 283.5M469.5 283.5L470.5 284.5L470.5 285.5L469.5 286.5L468.5 286.5L467.5 285.5" stroke="#ff8800"/>
<path d="M455.5 289.5L455.5 292.5M455.5 290.5L456.5 289.5L457.5 290.5L457.5 292.5M457.5 290.5L458.5 289.5L459.5 290.5L459.5 292.5M460.5 289.5L463.5 289.5M460.5 290.5L463.5 290.5M465.5 288.5L465.5 287.5L465.5 292.5M465.5 292.5L466.5 292.5" stroke="#ff8800"/>
<path d="M457.5 276.5L459.5 280.5L460.5 276.5M464.5 277.5L463.5 276.5L462.5 276.5L461.5 277.5L461.5 279.5L462.5 280.5L463.5 280.5L464.5 279.5M468.5 277.5L467.5 276.5L466.5 276.5L465.5 277.5L465.5 279.5L466.5 280.5L467.5 280.5L468.5 279.5M470.5 274.5L470.5 280.5" stroke="#ffffff"/>
<path d="M453.5 318.5L454.5 322.5L455.5 319.5L456.5 322.5L457.5 318.5M460.5 317.5L460.5 317.5L459.5 318.5L459.5 322.5M458.5 318.5L460.5 318.5M461.5 318.5L465.5 318.5M461.5 320.5L465.5 320.5M469.5 317.5L466.5 317.5L466.5 319.5L467.5 318.5L468.5 318.5L469.5 319.5L469.5 321.5L468.5 322.5L467.5 322.5L466.5 321.5M470.5 318.5L470.5 321.5L470.5 322.5L471.5 322.5L472.5 321.5M472.5 318.5L472.5 322.5" stroke="#ff8800"/>
<path d="M454.5 323.5L454.5 328.5M458.5 323.5L457.5 323.5L456.5 324.5L456.5 328.5M455.5 325.5L458.5 325.5M459.5 325.5L464.5 325.5M459.5 326.5L464.5 326.5M465.5 324.5L466.5 323.5L466.5 328.5M465.5 328.5L468.5 328.5M470.5 326.5L469.5 325.5L469.5 324.5L470.5 323.5L471.5 323.5L472.5 324.5L472.5 325.5L471.5 326.5L470.5 326.5L469.5 326.5L469.5 327.5L470.5 328.5L471.5 328.5L472.5 327.5L472.5 326.5L471.5 326.5M474.5 323.5L475.5 323.5L476.5 324.5L476.5 327.5L475.5 328.5L474.5 328.5L473.5 327.5L473.5 324.5L474.5 323.5M473.5 327.5L475.5 324.5M477.5 325.5L477.5 328.5M477.5 326.5L478.5 325.5L479.5 325.5L480.5 326.5L480.5 328.5" stroke="#ff8800"/>
<path d="M453.5 331.5L453.5 334.5M453.5 332.5L454.5 331.5L455.5 331.5L456.5 332.5L456.5 334.5M459.5 330.5L459.5 330.5L458.5 330.5L458.5 334.5M457.5 331.5L459.5 331.5M460.5 331.5L465.5 331.5M460.5 333.5L465.5 333.5M466.5 331.5L467.5 330.5L467.5 334.5M466.5 334.5L468.5 334.5" stroke="#ff8800"/>
<path d="M453.5 338.5L453.5 341.5M453.5 338.5L454.5 338.5L455.5 338.5L455.5 341.5M455.5 338.5L456.5 338.5L457.5 338.5L457.5 341.5M458.5 338.5L462.5 338.5M458.5 339.5L462.5 339.5M463.5 337.5L463.5 336.5L463.5 341.5M463.5 341.5L464.5 341.5" stroke="#ff8800"/>
<path d="M438.5 350.5L438.5 345.5L440.5 348.5L443.5 345.5L443.5 350.5M443.5 346.5L444.5 345.5L445.5 345.5L446.5 346.5L446.5 347.5L443.5 350.5L446.5 350.5M450.5 346.5L449.5 345.5L448.5 345.5L447.5 346.5L447.5 349.5L448.5 350.5L449.5 350.5L450.5 349.5L450.5 348.5L449.5 347.5L448.5 347.5L447.5 348.5" stroke="#ff0000"/>
<path d="M418.5 360.5L418.5 363.5M418.5 361.5L419.5 360.5L419.5 360.5L420.5 361.5L420.5 363.5M423.5 359.5L423.5 359.5L422.5 360.5L422.5 363.5M421.5 360.5L423.5 360.5M424.5 362.5L427.5 362.5L427.5 361.5L426.5 360.5L425.5 360.5L424.5 361.5L424.5 363.5L425.5 363.5L426.5 363.5L427.5 363.5M428.5 359.5L428.5 363.5L429.5 363.5L430.5 363.5M428.5 360.5L430.5 360.5M430.5 364.5L435.5 364.5M435.5 360.5L435.5 363.5M435.5 362.5L436.5 361.5L436.5 360.5L437.5 360.5M440.5 359.5L439.5 359.5L439.5 360.5L439.5 363.5M438.5 360.5L440.5 360.5" stroke="#00cc60"/>
<path d="M437.5 376.5L436.5 375.5L435.5 375.5L434.5 376.5L434.5 377.5L435.5 378.5L436.5 378.5L437.5 377.5M437.5 375.5L437.5 379.5L436.5 380.5L435.5 380.5L434.5 379.5M438.5 375.5L438.5 378.5M438.5 376.5L439.5 375.5L440.5 375.5L441.5 376.5L441.5 378.5M445.5 373.5L445.5 378.5M445.5 376.5L444.5 375.5L443.5 375.5L442.5 376.5L442.5 377.5L443.5 378.5L444.5 378.5L445.5 377.5M446.5 373.5L446.5 378.5" stroke="#ffffff"/>
<path d="M421.5 310.5L421.5 314.5M421.5 311.5L422.5 310.5L423.5 310.5L424.5 311.5L424.5 314.5M424.5 312.5L427.5 312.5L427.5 311.5L426.5 310.5L425.5 310.5L424.5 311.5L424.5 313.5L425.5 314.5L426.5 314.5L427.5 313.5M429.5 308.5L429.5 313.5L430.5 314.5L430.5 314.5M428.5 310.5L430.5 310.5M432.5 308.5L433.5 308.5L434.5 309.5L434.5 313.5L433.5 314.5L432.5 314.5L431.5 313.5L431.5 309.5L432.5 308.5M432.5 313.5L433.5 310.5M435.5 310.5L436.5 308.5L436.5 314.5M435.5 314.5L437.5 314.5M441.5 308.5L438.5 308.5L438.5 311.5L439.5 310.5L440.5 310.5L441.5 311.5L441.5 313.5L440.5 314.5L439.5 314.5L438.5 313.5M442.5 308.5L445.5 308.5L443.5 314.5" stroke="#ffffff"/>
<path d="M421.5 322.5L421.5 326.5M421.5 323.5L422.5 322.5L423.5 322.5L424.5 323.5L424.5 326.5M424.5 324.5L427.5 324.5L427.5 323.5L426.5 322.5L425.5 322.5L424.5 323.5L424.5 325.5L425.5 326.5L426.5 326.5L427.5 325.5M429.5 321.5L429.5 325.5L430.5 326.5L430.5 326.5M428.5 322.5L430.5 322.5M432.5 321.5L433.5 321.5L434.5 321.5L434.5 325.5L433.5 326.5L432.5 326.5L431.5 325.5L431.5 321.5L432.5 321.5M432.5 325.5L433.5 322.5M435.5 322.5L436.5 321.5L436.5 326.5M435.5 326.5L437.5 326.5M441.5 321.5L438.5 321.5L438.5 323.5L439.5 322.5L440.5 322.5L441.5 323.5L441.5 325.5L440.5 326.5L439.5 326.5L438.5 325.5M442.5 321.5L445.5 321.5L443.5 326.5" stroke="#ffffff"/>
<path d="M397.5 283.5L397.5 286.5M397.5 283.5L398.5 283.5L399.5 283.5L400.5 283.5L400.5 286.5M401.5 284.5L404.5 284.5L404.5 283.5L403.5 283.5L402.5 283.5L401.5 283.5L401.5 285.5L402.5 286.5L403.5 286.5L404.5 285.5M406.5 281.5L406.5 285.5L407.5 286.5L408.5 286.5M405.5 283.5L407.5 283.5M410.5 281.5L411.5 281.5L412.5 282.5L412.5 285.5L411.5 286.5L410.5 286.5L409.5 285.5L409.5 282.5L410.5 281.5M409.5 285.5L411.5 282.5M416.5 281.5L413.5 281.5L413.5 283.5L414.5 283.5L415.5 283.5L416.5 283.5L416.5 285.5L415.5 286.5L414.5 286.5L413.5 285.5M417.5 282.5L418.5 281.5L419.5 281.5L420.5 282.5L420.5 283.5L417.5 286.5L420.5 286.5" stroke="#ffffff"/>
<path d="M400.5 341.5L400.5 344.5M400.5 342.5L401.5 341.5L402.5 341.5L403.5 342.5L403.5 344.5M404.5 342.5L407.5 342.5L407.5 342.5L406.5 341.5L405.5 341.5L404.5 342.5L404.5 343.5L405.5 344.5L406.5 344.5L407.5 343.5M409.5 339.5L409.5 343.5L410.5 344.5L411.5 344.5M408.5 341.5L410.5 341.5M413.5 339.5L414.5 339.5L415.5 340.5L415.5 343.5L414.5 344.5L413.5 344.5L412.5 343.5L412.5 340.5L413.5 339.5M412.5 343.5L414.5 340.5M419.5 339.5L416.5 339.5L416.5 341.5L417.5 341.5L418.5 341.5L419.5 342.5L419.5 343.5L418.5 344.5L417.5 344.5L416.5 343.5M420.5 340.5L421.5 339.5L422.5 339.5L423.5 340.5L423.5 341.5L420.5 344.5L423.5 344.5" stroke="#ffffff"/>
<path d="M502.5 265.5L503.5 269.5L505.5 265.5M509.5 266.5L508.5 265.5L507.5 265.5L506.5 266.5L506.5 268.5L507.5 269.5L508.5 269.5L509.5 268.5M513.5 266.5L512.5 265.5L511.5 265.5L510.5 266.5L510.5 268.5L511.5 269.5L512.5 269.5L513.5 268.5M514.5 264.5L514.5 269.5" stroke="#ffffff"/>
<path d="M513.5 292.5L513.5 286.5L516.5 289.5L518.5 286.5L518.5 292.5M518.5 287.5L519.5 286.5L521.5 286.5L522.5 287.5L522.5 288.5L521.5 289.5L519.5 289.5M521.5 289.5L522.5 290.5L522.5 291.5L521.5 292.5L519.5 292.5L518.5 291.5M525.5 286.5L522.5 286.5L522.5 289.5L523.5 288.5L524.5 288.5L525.5 289.5L525.5 291.5L524.5 292.5L523.5 292.5L522.5 291.5" stroke="#ff0000"/>
<path d="M492.5 300.5L492.5 304.5M492.5 300.5L492.5 300.5L493.5 300.5L494.5 300.5L494.5 302.5L493.5 303.5L492.5 303.5L492.5 302.5M497.5 298.5L497.5 298.5L496.5 299.5L496.5 303.5M495.5 300.5L497.5 300.5M498.5 301.5L501.5 301.5L501.5 300.5L500.5 300.5L499.5 300.5L498.5 300.5L498.5 302.5L499.5 303.5L500.5 303.5L501.5 302.5M502.5 298.5L502.5 302.5L503.5 303.5L504.5 303.5M502.5 300.5L503.5 300.5M504.5 303.5L508.5 303.5M509.5 300.5L509.5 303.5M509.5 301.5L509.5 300.5L510.5 300.5L511.5 300.5M514.5 298.5L513.5 298.5L513.5 299.5L513.5 303.5M512.5 300.5L514.5 300.5" stroke="#00cc60"/>
<path d="M526.5 270.5L527.5 273.5L528.5 271.5L530.5 273.5L531.5 270.5M534.5 268.5L533.5 268.5L532.5 269.5L532.5 273.5M532.5 270.5L533.5 270.5M535.5 270.5L539.5 270.5M535.5 271.5L539.5 271.5M542.5 268.5L540.5 268.5L540.5 270.5L540.5 270.5L541.5 270.5L542.5 271.5L542.5 272.5L541.5 273.5L540.5 273.5L540.5 272.5M543.5 270.5L543.5 272.5L544.5 273.5L545.5 273.5L546.5 272.5M546.5 270.5L546.5 273.5" stroke="#ff8800"/>
<path d="M527.5 274.5L527.5 279.5M529.5 276.5L529.5 279.5M529.5 277.5L530.5 276.5L530.5 276.5L531.5 276.5M532.5 276.5L537.5 276.5M532.5 278.5L537.5 278.5M539.5 275.5L540.5 274.5L540.5 279.5M539.5 279.5L541.5 279.5M543.5 277.5L542.5 276.5L542.5 275.5L543.5 274.5L544.5 274.5L545.5 275.5L545.5 276.5L544.5 277.5L543.5 277.5L542.5 278.5L542.5 279.5L543.5 279.5L544.5 279.5L545.5 279.5L545.5 278.5L544.5 277.5M548.5 274.5L549.5 274.5L550.5 275.5L550.5 279.5L549.5 279.5L548.5 279.5L546.5 279.5L546.5 275.5L548.5 274.5M547.5 278.5L549.5 275.5M551.5 276.5L551.5 279.5M551.5 277.5L552.5 276.5L553.5 276.5L554.5 277.5L554.5 279.5" stroke="#ff8800"/>
<path d="M526.5 282.5L526.5 286.5M526.5 283.5L527.5 282.5L528.5 282.5L529.5 283.5L529.5 286.5M532.5 281.5L532.5 281.5L531.5 282.5L531.5 286.5M530.5 282.5L532.5 282.5M533.5 282.5L538.5 282.5M533.5 284.5L538.5 284.5M539.5 282.5L540.5 281.5L541.5 281.5L541.5 282.5L541.5 282.5L541.5 283.5L540.5 283.5M541.5 283.5L541.5 284.5L541.5 285.5L541.5 286.5L540.5 286.5L539.5 285.5M543.5 284.5L545.5 282.5M545.5 284.5L543.5 282.5M544.5 285.5L544.5 282.5M549.5 286.5L549.5 281.5L547.5 284.5L550.5 284.5" stroke="#ff8800"/>
<path d="M526.5 289.5L526.5 292.5M526.5 290.5L527.5 289.5L528.5 290.5L528.5 292.5M528.5 290.5L529.5 289.5L531.5 290.5L531.5 292.5M531.5 289.5L535.5 289.5M531.5 290.5L535.5 290.5M536.5 288.5L537.5 287.5L537.5 292.5M536.5 292.5L538.5 292.5" stroke="#ff8800"/>
<path d="M529.5 276.5L530.5 280.5L532.5 276.5M536.5 277.5L535.5 276.5L534.5 276.5L533.5 277.5L533.5 279.5L534.5 280.5L535.5 280.5L536.5 279.5M540.5 277.5L539.5 276.5L538.5 276.5L537.5 277.5L537.5 279.5L538.5 280.5L539.5 280.5L540.5 279.5M541.5 274.5L541.5 280.5" stroke="#ffffff"/>
<path d="M525.5 318.5L526.5 322.5L527.5 319.5L528.5 322.5L529.5 318.5M532.5 317.5L531.5 317.5L530.5 318.5L530.5 322.5M530.5 318.5L532.5 318.5M533.5 318.5L537.5 318.5M533.5 320.5L537.5 320.5M540.5 317.5L538.5 317.5L538.5 319.5L538.5 318.5L539.5 318.5L540.5 319.5L540.5 321.5L539.5 322.5L538.5 322.5L538.5 321.5M541.5 318.5L541.5 321.5L542.5 322.5L543.5 322.5L544.5 321.5M544.5 318.5L544.5 322.5" stroke="#ff8800"/>
<path d="M525.5 323.5L525.5 328.5M530.5 323.5L529.5 323.5L528.5 324.5L528.5 328.5M527.5 325.5L529.5 325.5M530.5 325.5L535.5 325.5M530.5 326.5L535.5 326.5M537.5 324.5L538.5 323.5L538.5 328.5M537.5 328.5L539.5 328.5M541.5 326.5L540.5 325.5L540.5 324.5L541.5 323.5L542.5 323.5L543.5 324.5L543.5 325.5L542.5 326.5L541.5 326.5L540.5 326.5L540.5 327.5L541.5 328.5L542.5 328.5L543.5 327.5L543.5 326.5L542.5 326.5M545.5 323.5L546.5 323.5L548.5 324.5L548.5 327.5L546.5 328.5L545.5 328.5L544.5 327.5L544.5 324.5L545.5 323.5M545.5 327.5L547.5 324.5M548.5 325.5L548.5 328.5M548.5 326.5L550.5 325.5L551.5 325.5L552.5 326.5L552.5 328.5" stroke="#ff8800"/>
<path d="M525.5 331.5L525.5 334.5M525.5 332.5L526.5 331.5L527.5 331.5L527.5 332.5L527.5 334.5M531.5 330.5L530.5 330.5L529.5 330.5L529.5 334.5M528.5 331.5L530.5 331.5M532.5 331.5L536.5 331.5M532.5 333.5L536.5 333.5M537.5 331.5L538.5 330.5L538.5 334.5M537.5 334.5L539.5 334.5M541.5 333.5L543.5 331.5M543.5 333.5L541.5 331.5M542.5 334.5L542.5 330.5M547.5 334.5L547.5 330.5L545.5 333.5L548.5 333.5" stroke="#ff8800"/>
<path d="M525.5 338.5L525.5 341.5M525.5 338.5L526.5 338.5L527.5 338.5L527.5 341.5M527.5 338.5L528.5 338.5L529.5 338.5L529.5 341.5M530.5 338.5L533.5 338.5M530.5 339.5L533.5 339.5M534.5 337.5L535.5 336.5L535.5 341.5M534.5 341.5L536.5 341.5" stroke="#ff8800"/>
<path d="M510.5 350.5L510.5 345.5L512.5 348.5L514.5 345.5L514.5 350.5M515.5 346.5L516.5 345.5L517.5 345.5L518.5 346.5L518.5 347.5L517.5 348.5L516.5 348.5M517.5 348.5L518.5 349.5L518.5 349.5L517.5 350.5L516.5 350.5L515.5 349.5M522.5 346.5L521.5 345.5L519.5 345.5L518.5 346.5L518.5 349.5L519.5 350.5L521.5 350.5L522.5 349.5L522.5 348.5L521.5 347.5L519.5 347.5L518.5 348.5" stroke="#ff0000"/>
<path d="M489.5 360.5L489.5 363.5M489.5 361.5L490.5 360.5L491.5 360.5L492.5 361.5L492.5 363.5M495.5 359.5L494.5 359.5L493.5 360.5L493.5 363.5M493.5 360.5L495.5 360.5M496.5 362.5L498.5 362.5L498.5 361.5L497.5 360.5L497.5 360.5L496.5 361.5L496.5 363.5L497.5 363.5L497.5 363.5L498.5 363.5M500.5 359.5L500.5 363.5L501.5 363.5L501.5 363.5M499.5 360.5L501.5 360.5M502.5 364.5L506.5 364.5M506.5 360.5L506.5 363.5M506.5 362.5L507.5 361.5L508.5 360.5L509.5 360.5M512.5 359.5L511.5 359.5L510.5 360.5L510.5 363.5M509.5 360.5L511.5 360.5" stroke="#00cc60"/>
<path d="M508.5 376.5L507.5 375.5L506.5 375.5L505.5 376.5L505.5 377.5L506.5 378.5L507.5 378.5L508.5 377.5M508.5 375.5L508.5 379.5L507.5 380.5L506.5 380.5L505.5 379.5M509.5 375.5L509.5 378.5M509.5 376.5L510.5 375.5L511.5 375.5L512.5 376.5L512.5 378.5M516.5 373.5L516.5 378.5M516.5 376.5L515.5 375.5L514.5 375.5L513.5 376.5L513.5 377.5L514.5 378.5L515.5 378.5L516.5 377.5M518.5 373.5L518.5 378.5" stroke="#ffffff"/>
<path d="M492.5 310.5L492.5 314.5M492.5 311.5L493.5 310.5L494.5 310.5L495.5 311.5L495.5 314.5M496.5 312.5L499.5 312.5L499.5 311.5L498.5 310.5L497.5 310.5L496.5 311.5L496.5 313.5L497.5 314.5L498.5 314.5L499.5 313.5M500.5 308.5L500.5 313.5L501.5 314.5L502.5 314.5M500.5 310.5L502.5 310.5M504.5 308.5L505.5 308.5L506.5 309.5L506.5 313.5L505.5 314.5L504.5 314.5L503.5 313.5L503.5 309.5L504.5 308.5M503.5 313.5L505.5 310.5M507.5 310.5L508.5 308.5L508.5 314.5M507.5 314.5L509.5 314.5M513.5 308.5L510.5 308.5L510.5 311.5L511.5 310.5L512.5 310.5L513.5 311.5L513.5 313.5L512.5 314.5L511.5 314.5L510.5 313.5M516.5 314.5L516.5 308.5L513.5 312.5L516.5 312.5" stroke="#ffffff"/>
<path d="M492.5 322.5L492.5 326.5M492.5 323.5L493.5 322.5L494.5 322.5L495.5 323.5L495.5 326.5M496.5 324.5L499.5 324.5L499.5 323.5L498.5 322.5L497.5 322.5L496.5 323.5L496.5 325.5L497.5 326.5L498.5 326.5L499.5 325.5M500.5 321.5L500.5 325.5L501.5 326.5L502.5 326.5M500.5 322.5L502.5 322.5M504.5 321.5L505.5 321.5L506.5 321.5L506.5 325.5L505.5 326.5L504.5 326.5L503.5 325.5L503.5 321.5L504.5 321.5M503.5 325.5L505.5 322.5M507.5 322.5L508.5 321.5L508.5 326.5M507.5 326.5L509.5 326.5M513.5 321.5L510.5 321.5L510.5 323.5L511.5 322.5L512.5 322.5L513.5 323.5L513.5 325.5L512.5 326.5L511.5 326.5L510.5 325.5M516.5 326.5L516.5 321.5L513.5 324.5L516.5 324.5" stroke="#ffffff"/>
<path d="M465.5 283.5L465.5 286.5M465.5 283.5L466.5 283.5L467.5 283.5L468.5 283.5L468.5 286.5M469.5 284.5L472.5 284.5L472.5 283.5L471.5 283.5L470.5 283.5L469.5 283.5L469.5 285.5L470.5 286.5L471.5 286.5L472.5 285.5M474.5 281.5L474.5 285.5L474.5 286.5L475.5 286.5M473.5 283.5L475.5 283.5M477.5 281.5L478.5 281.5L479.5 282.5L479.5 285.5L478.5 286.5L477.5 286.5L476.5 285.5L476.5 282.5L477.5 281.5M477.5 285.5L479.5 282.5M481.5 282.5L482.5 281.5L482.5 286.5M481.5 286.5L483.5 286.5M487.5 281.5L484.5 281.5L484.5 283.5L485.5 283.5L486.5 283.5L487.5 283.5L487.5 285.5L486.5 286.5L485.5 286.5L484.5 285.5M488.5 281.5L491.5 281.5L489.5 286.5" stroke="#ffffff"/>
<path d="M468.5 341.5L468.5 344.5M468.5 342.5L469.5 341.5L470.5 341.5L471.5 342.5L471.5 344.5M472.5 342.5L475.5 342.5L475.5 342.5L474.5 341.5L473.5 341.5L472.5 342.5L472.5 343.5L473.5 344.5L474.5 344.5L475.5 343.5M477.5 339.5L477.5 343.5L477.5 344.5L478.5 344.5M476.5 341.5L478.5 341.5M480.5 339.5L481.5 339.5L482.5 340.5L482.5 343.5L481.5 344.5L480.5 344.5L479.5 343.5L479.5 340.5L480.5 339.5M480.5 343.5L482.5 340.5M484.5 340.5L485.5 339.5L485.5 344.5M484.5 344.5L486.5 344.5M490.5 339.5L487.5 339.5L487.5 341.5L488.5 341.5L489.5 341.5L490.5 342.5L490.5 343.5L489.5 344.5L488.5 344.5L487.5 343.5M491.5 339.5L494.5 339.5L492.5 344.5" stroke="#ffffff"/>
<path d="M555.5 265.5L557.5 269.5L558.5 265.5M562.5 266.5L561.5 265.5L560.5 265.5L559.5 266.5L559.5 268.5L560.5 269.5L561.5 269.5L562.5 268.5M566.5 266.5L565.5 265.5L564.5 265.5L563.5 266.5L563.5 268.5L564.5 269.5L565.5 269.5L566.5 268.5M568.5 264.5L568.5 269.5" stroke="#ffffff"/>
<path d="M567.5 292.5L567.5 286.5L569.5 289.5L571.5 286.5L571.5 292.5M572.5 287.5L573.5 286.5L574.5 286.5L575.5 287.5L575.5 288.5L574.5 289.5L573.5 289.5M574.5 289.5L575.5 290.5L575.5 291.5L574.5 292.5L573.5 292.5L572.5 291.5M577.5 289.5L576.5 288.5L576.5 287.5L577.5 286.5L578.5 286.5L579.5 287.5L579.5 288.5L578.5 289.5L577.5 289.5L576.5 290.5L576.5 291.5L577.5 292.5L578.5 292.5L579.5 291.5L579.5 290.5L578.5 289.5" stroke="#ff0000"/>
<path d="M545.5 300.5L545.5 304.5M545.5 300.5L546.5 300.5L547.5 300.5L548.5 300.5L548.5 302.5L547.5 303.5L546.5 303.5L545.5 302.5M551.5 298.5L550.5 298.5L549.5 299.5L549.5 303.5M549.5 300.5L551.5 300.5M552.5 301.5L554.5 301.5L554.5 300.5L553.5 300.5L553.5 300.5L552.5 300.5L552.5 302.5L553.5 303.5L553.5 303.5L554.5 302.5M556.5 298.5L556.5 302.5L557.5 303.5L557.5 303.5M555.5 300.5L557.5 300.5M558.5 303.5L562.5 303.5M562.5 300.5L562.5 303.5M562.5 301.5L563.5 300.5L564.5 300.5L565.5 300.5M568.5 298.5L567.5 298.5L566.5 299.5L566.5 303.5M565.5 300.5L567.5 300.5" stroke="#00cc60"/>
<path d="M580.5 270.5L581.5 273.5L582.5 271.5L583.5 273.5L584.5 270.5M587.5 268.5L587.5 268.5L586.5 269.5L586.5 273.5M585.5 270.5L587.5 270.5M588.5 270.5L592.5 270.5M588.5 271.5L592.5 271.5M596.5 268.5L593.5 268.5L593.5 270.5L594.5 270.5L595.5 270.5L596.5 271.5L596.5 272.5L595.5 273.5L594.5 273.5L593.5 272.5M597.5 270.5L597.5 272.5L598.5 273.5L599.5 273.5L599.5 272.5M599.5 270.5L599.5 273.5" stroke="#ff8800"/>
<path d="M581.5 274.5L581.5 279.5M582.5 276.5L582.5 279.5M582.5 277.5L583.5 276.5L584.5 276.5L585.5 276.5M586.5 276.5L591.5 276.5M586.5 278.5L591.5 278.5M592.5 275.5L594.5 274.5L594.5 279.5M592.5 279.5L595.5 279.5M597.5 277.5L596.5 276.5L596.5 275.5L597.5 274.5L598.5 274.5L599.5 275.5L599.5 276.5L598.5 277.5L597.5 277.5L596.5 278.5L596.5 279.5L597.5 279.5L598.5 279.5L599.5 279.5L599.5 278.5L598.5 277.5M601.5 274.5L602.5 274.5L603.5 275.5L603.5 279.5L602.5 279.5L601.5 279.5L600.5 279.5L600.5 275.5L601.5 274.5M601.5 278.5L603.5 275.5M604.5 276.5L604.5 279.5M604.5 277.5L605.5 276.5L606.5 276.5L608.5 277.5L608.5 279.5" stroke="#ff8800"/>
<path d="M580.5 282.5L580.5 286.5M580.5 283.5L581.5 282.5L582.5 282.5L583.5 283.5L583.5 286.5M586.5 281.5L585.5 281.5L584.5 282.5L584.5 286.5M584.5 282.5L586.5 282.5M587.5 282.5L591.5 282.5M587.5 284.5L591.5 284.5M592.5 282.5L593.5 281.5L594.5 281.5L595.5 282.5L595.5 282.5L594.5 283.5L593.5 283.5M594.5 283.5L595.5 284.5L595.5 285.5L594.5 286.5L593.5 286.5L592.5 285.5M597.5 284.5L599.5 282.5M599.5 284.5L597.5 282.5M598.5 285.5L598.5 282.5M602.5 283.5L601.5 282.5L601.5 282.5L602.5 281.5L603.5 281.5L603.5 282.5L603.5 282.5L603.5 283.5L602.5 283.5L601.5 284.5L601.5 285.5L602.5 286.5L603.5 286.5L603.5 285.5L603.5 284.5L603.5 283.5" stroke="#ff8800"/>
<path d="M580.5 289.5L580.5 292.5M580.5 290.5L581.5 289.5L582.5 290.5L582.5 292.5M582.5 290.5L583.5 289.5L584.5 290.5L584.5 292.5M585.5 289.5L588.5 289.5M585.5 290.5L588.5 290.5M590.5 288.5L590.5 287.5L590.5 292.5M590.5 292.5L591.5 292.5" stroke="#ff8800"/>
<path d="M582.5 276.5L584.5 280.5L585.5 276.5M589.5 277.5L588.5 276.5L587.5 276.5L586.5 277.5L586.5 279.5L587.5 280.5L588.5 280.5L589.5 279.5M593.5 277.5L592.5 276.5L591.5 276.5L590.5 277.5L590.5 279.5L591.5 280.5L592.5 280.5L593.5 279.5M595.5 274.5L595.5 280.5" stroke="#ffffff"/>
<path d="M578.5 318.5L579.5 322.5L580.5 319.5L581.5 322.5L583.5 318.5M585.5 317.5L585.5 317.5L584.5 318.5L584.5 322.5M583.5 318.5L585.5 318.5M586.5 318.5L590.5 318.5M586.5 320.5L590.5 320.5M594.5 317.5L591.5 317.5L591.5 319.5L592.5 318.5L593.5 318.5L594.5 319.5L594.5 321.5L593.5 322.5L592.5 322.5L591.5 321.5M595.5 318.5L595.5 321.5L596.5 322.5L596.5 322.5L597.5 321.5M597.5 318.5L597.5 322.5" stroke="#ff8800"/>
<path d="M579.5 323.5L579.5 328.5M583.5 323.5L582.5 323.5L581.5 324.5L581.5 328.5M580.5 325.5L583.5 325.5M584.5 325.5L589.5 325.5M584.5 326.5L589.5 326.5M590.5 324.5L592.5 323.5L592.5 328.5M590.5 328.5L593.5 328.5M595.5 326.5L594.5 325.5L594.5 324.5L595.5 323.5L596.5 323.5L597.5 324.5L597.5 325.5L596.5 326.5L595.5 326.5L594.5 326.5L594.5 327.5L595.5 328.5L596.5 328.5L597.5 327.5L597.5 326.5L596.5 326.5M599.5 323.5L600.5 323.5L601.5 324.5L601.5 327.5L600.5 328.5L599.5 328.5L598.5 327.5L598.5 324.5L599.5 323.5M598.5 327.5L600.5 324.5M602.5 325.5L602.5 328.5M602.5 326.5L603.5 325.5L604.5 325.5L605.5 326.5L605.5 328.5" stroke="#ff8800"/>
<path d="M578.5 331.5L578.5 334.5M578.5 332.5L579.5 331.5L580.5 331.5L581.5 332.5L581.5 334.5M584.5 330.5L584.5 330.5L583.5 330.5L583.5 334.5M582.5 331.5L584.5 331.5M585.5 331.5L590.5 331.5M585.5 333.5L590.5 333.5M591.5 331.5L592.5 330.5L592.5 334.5M591.5 334.5L593.5 334.5M594.5 333.5L597.5 331.5M597.5 333.5L594.5 331.5M596.5 334.5L596.5 330.5M599.5 332.5L598.5 331.5L598.5 330.5L599.5 330.5L600.5 330.5L601.5 330.5L601.5 331.5L600.5 332.5L599.5 332.5L598.5 333.5L598.5 334.5L599.5 334.5L600.5 334.5L601.5 334.5L601.5 333.5L600.5 332.5" stroke="#ff8800"/>
<path d="M578.5 338.5L578.5 341.5M578.5 338.5L579.5 338.5L580.5 338.5L580.5 341.5M580.5 338.5L581.5 338.5L582.5 338.5L582.5 341.5M583.5 338.5L587.5 338.5M583.5 339.5L587.5 339.5M588.5 337.5L589.5 336.5L589.5 341.5M588.5 341.5L589.5 341.5" stroke="#ff8800"/>
<path d="M563.5 350.5L563.5 345.5L565.5 348.5L568.5 345.5L568.5 350.5M568.5 346.5L569.5 345.5L570.5 345.5L571.5 346.5L571.5 347.5L570.5 348.5L569.5 348.5M570.5 348.5L571.5 349.5L571.5 349.5L570.5 350.5L569.5 350.5L568.5 349.5M572.5 345.5L575.5 345.5L573.5 350.5" stroke="#ff0000"/>
<path d="M543.5 360.5L543.5 363.5M543.5 361.5L544.5 360.5L545.5 360.5L545.5 361.5L545.5 363.5M548.5 359.5L548.5 359.5L547.5 360.5L547.5 363.5M546.5 360.5L548.5 360.5M549.5 362.5L552.5 362.5L552.5 361.5L551.5 360.5L550.5 360.5L549.5 361.5L549.5 363.5L550.5 363.5L551.5 363.5L552.5 363.5M554.5 359.5L554.5 363.5L554.5 363.5L555.5 363.5M553.5 360.5L555.5 360.5M556.5 364.5L560.5 364.5M560.5 360.5L560.5 363.5M560.5 362.5L561.5 361.5L561.5 360.5L562.5 360.5M565.5 359.5L564.5 359.5L564.5 360.5L564.5 363.5M563.5 360.5L565.5 360.5" stroke="#00cc60"/>
<path d="M562.5 376.5L561.5 375.5L560.5 375.5L559.5 376.5L559.5 377.5L560.5 378.5L561.5 378.5L562.5 377.5M562.5 375.5L562.5 379.5L561.5 380.5L560.5 380.5L559.5 379.5M563.5 375.5L563.5 378.5M563.5 376.5L564.5 375.5L565.5 375.5L566.5 376.5L566.5 378.5M570.5 373.5L570.5 378.5M570.5 376.5L569.5 375.5L568.5 375.5L567.5 376.5L567.5 377.5L568.5 378.5L569.5 378.5L570.5 377.5M571.5 373.5L571.5 378.5" stroke="#ffffff"/>
<path d="M546.5 310.5L546.5 314.5M546.5 311.5L547.5 310.5L548.5 310.5L549.5 311.5L549.5 314.5M550.5 312.5L552.5 312.5L552.5 311.5L551.5 310.5L551.5 310.5L550.5 311.5L550.5 313.5L551.5 314.5L551.5 314.5L552.5 313.5M554.5 308.5L554.5 313.5L555.5 314.5L556.5 314.5M553.5 310.5L555.5 310.5M557.5 308.5L558.5 308.5L559.5 309.5L559.5 313.5L558.5 314.5L557.5 314.5L556.5 313.5L556.5 309.5L557.5 308.5M557.5 313.5L559.5 310.5M561.5 310.5L562.5 308.5L562.5 314.5M561.5 314.5L563.5 314.5M564.5 310.5L565.5 308.5L565.5 314.5M564.5 314.5L566.5 314.5M570.5 309.5L569.5 308.5L568.5 308.5L567.5 309.5L567.5 313.5L568.5 314.5L569.5 314.5L570.5 313.5L570.5 312.5L569.5 311.5L568.5 311.5L567.5 312.5" stroke="#ffffff"/>
<path d="M546.5 322.5L546.5 326.5M546.5 323.5L547.5 322.5L548.5 322.5L549.5 323.5L549.5 326.5M550.5 324.5L552.5 324.5L552.5 323.5L551.5 322.5L551.5 322.5L550.5 323.5L550.5 325.5L551.5 326.5L551.5 326.5L552.5 325.5M554.5 321.5L554.5 325.5L555.5 326.5L556.5 326.5M553.5 322.5L555.5 322.5M557.5 321.5L558.5 321.5L559.5 321.5L559.5 325.5L558.5 326.5L557.5 326.5L556.5 325.5L556.5 321.5L557.5 321.5M557.5 325.5L559.5 322.5M561.5 322.5L562.5 321.5L562.5 326.5M561.5 326.5L563.5 326.5M564.5 322.5L565.5 321.5L565.5 326.5M564.5 326.5L566.5 326.5M570.5 321.5L569.5 321.5L568.5 321.5L567.5 321.5L567.5 325.5L568.5 326.5L569.5 326.5L570.5 325.5L570.5 324.5L569.5 323.5L568.5 323.5L567.5 324.5" stroke="#ffffff"/>
<path d="M518.5 283.5L518.5 286.5M518.5 283.5L519.5 283.5L520.5 283.5L521.5 283.5L521.5 286.5M522.5 284.5L525.5 284.5L525.5 283.5L524.5 283.5L523.5 283.5L522.5 283.5L522.5 285.5L523.5 286.5L524.5 286.5L525.5 285.5M527.5 281.5L527.5 285.5L528.5 286.5L529.5 286.5M526.5 283.5L529.5 283.5M531.5 281.5L532.5 281.5L533.5 282.5L533.5 285.5L532.5 286.5L531.5 286.5L530.5 285.5L530.5 282.5L531.5 281.5M530.5 285.5L532.5 282.5M534.5 282.5L535.5 281.5L535.5 286.5M534.5 286.5L537.5 286.5M541.5 281.5L538.5 281.5L538.5 283.5L539.5 283.5L540.5 283.5L541.5 283.5L541.5 285.5L540.5 286.5L539.5 286.5L538.5 285.5M544.5 286.5L544.5 281.5L542.5 284.5L545.5 284.5" stroke="#ffffff"/>
<path d="M521.5 341.5L521.5 344.5M521.5 342.5L522.5 341.5L523.5 341.5L524.5 342.5L524.5 344.5M525.5 342.5L528.5 342.5L528.5 342.5L527.5 341.5L526.5 341.5L525.5 342.5L525.5 343.5L526.5 344.5L527.5 344.5L528.5 343.5M530.5 339.5L530.5 343.5L531.5 344.5L532.5 344.5M529.5 341.5L532.5 341.5M534.5 339.5L535.5 339.5L536.5 340.5L536.5 343.5L535.5 344.5L534.5 344.5L533.5 343.5L533.5 340.5L534.5 339.5M533.5 343.5L535.5 340.5M537.5 340.5L538.5 339.5L538.5 344.5M537.5 344.5L540.5 344.5M544.5 339.5L541.5 339.5L541.5 341.5L542.5 341.5L543.5 341.5L544.5 342.5L544.5 343.5L543.5 344.5L542.5 344.5L541.5 343.5M547.5 344.5L547.5 339.5L545.5 342.5L548.5 342.5" stroke="#ffffff"/>
<path d="M609.5 265.5L610.5 269.5L612.5 265.5M616.5 266.5L615.5 265.5L614.5 265.5L613.5 266.5L613.5 268.5L614.5 269.5L615.5 269.5L616.5 268.5M620.5 266.5L619.5 265.5L618.5 265.5L617.5 266.5L617.5 268.5L618.5 269.5L619.5 269.5L620.5 268.5M621.5 264.5L621.5 269.5" stroke="#ffffff"/>
<path d="M621.5 292.5L621.5 286.5L623.5 289.5L625.5 286.5L625.5 292.5M626.5 287.5L627.5 286.5L628.5 286.5L629.5 287.5L629.5 288.5L626.5 292.5L629.5 292.5M632.5 292.5L632.5 286.5L629.5 290.5L633.5 290.5" stroke="#ff0000"/>
<path d="M599.5 300.5L599.5 304.5M599.5 300.5L600.5 300.5L601.5 300.5L601.5 300.5L601.5 302.5L601.5 303.5L600.5 303.5L599.5 302.5M604.5 298.5L604.5 298.5L603.5 299.5L603.5 303.5M602.5 300.5L604.5 300.5M605.5 301.5L608.5 301.5L608.5 300.5L607.5 300.5L606.5 300.5L605.5 300.5L605.5 302.5L606.5 303.5L607.5 303.5L608.5 302.5M610.5 298.5L610.5 302.5L610.5 303.5L611.5 303.5M609.5 300.5L611.5 300.5M612.5 303.5L616.5 303.5M616.5 300.5L616.5 303.5M616.5 301.5L617.5 300.5L617.5 300.5L618.5 300.5M621.5 298.5L620.5 298.5L620.5 299.5L620.5 303.5M619.5 300.5L621.5 300.5" stroke="#00cc60"/>
<path d="M633.5 270.5L635.5 273.5L636.5 271.5L637.5 273.5L638.5 270.5M641.5 268.5L640.5 268.5L639.5 269.5L639.5 273.5M639.5 270.5L641.5 270.5M642.5 270.5L646.5 270.5M642.5 271.5L646.5 271.5M649.5 268.5L647.5 268.5L647.5 270.5L648.5 270.5L649.5 270.5L649.5 271.5L649.5 272.5L649.5 273.5L648.5 273.5L647.5 272.5M650.5 270.5L650.5 272.5L651.5 273.5L652.5 273.5L653.5 272.5M653.5 270.5L653.5 273.5" stroke="#ff8800"/>
<path d="M634.5 274.5L634.5 279.5M636.5 276.5L636.5 279.5M636.5 277.5L637.5 276.5L638.5 276.5L639.5 276.5M640.5 276.5L645.5 276.5M640.5 278.5L645.5 278.5M646.5 275.5L647.5 274.5L647.5 279.5M646.5 279.5L648.5 279.5M650.5 277.5L649.5 276.5L649.5 275.5L650.5 274.5L652.5 274.5L653.5 275.5L653.5 276.5L652.5 277.5L650.5 277.5L649.5 278.5L649.5 279.5L650.5 279.5L652.5 279.5L653.5 279.5L653.5 278.5L652.5 277.5M655.5 274.5L656.5 274.5L657.5 275.5L657.5 279.5L656.5 279.5L655.5 279.5L654.5 279.5L654.5 275.5L655.5 274.5M654.5 278.5L656.5 275.5M658.5 276.5L658.5 279.5M658.5 277.5L659.5 276.5L660.5 276.5L661.5 277.5L661.5 279.5" stroke="#ff8800"/>
<path d="M633.5 282.5L633.5 286.5M633.5 283.5L634.5 282.5L635.5 282.5L636.5 283.5L636.5 286.5M640.5 281.5L639.5 281.5L638.5 282.5L638.5 286.5M637.5 282.5L639.5 282.5M641.5 282.5L645.5 282.5M641.5 284.5L645.5 284.5M646.5 282.5L647.5 281.5L648.5 281.5L649.5 282.5L649.5 282.5L648.5 283.5L647.5 283.5M648.5 283.5L649.5 284.5L649.5 285.5L648.5 286.5L647.5 286.5L646.5 285.5M651.5 284.5L653.5 282.5M653.5 284.5L651.5 282.5M652.5 285.5L652.5 282.5M655.5 282.5L656.5 281.5L656.5 286.5M655.5 286.5L657.5 286.5M661.5 282.5L660.5 281.5L659.5 281.5L658.5 282.5L658.5 285.5L659.5 286.5L660.5 286.5L661.5 285.5L661.5 284.5L660.5 283.5L659.5 283.5L658.5 284.5" stroke="#ff8800"/>
<path d="M633.5 289.5L633.5 292.5M633.5 290.5L634.5 289.5L636.5 290.5L636.5 292.5M636.5 290.5L637.5 289.5L638.5 290.5L638.5 292.5M639.5 289.5L642.5 289.5M639.5 290.5L642.5 290.5M643.5 288.5L644.5 287.5L644.5 292.5M643.5 292.5L645.5 292.5" stroke="#ff8800"/>
<path d="M636.5 276.5L637.5 280.5L639.5 276.5M643.5 277.5L642.5 276.5L641.5 276.5L640.5 277.5L640.5 279.5L641.5 280.5L642.5 280.5L643.5 279.5M647.5 277.5L646.5 276.5L645.5 276.5L644.5 277.5L644.5 279.5L645.5 280.5L646.5 280.5L647.5 279.5M648.5 274.5L648.5 280.5" stroke="#ffffff"/>
<path d="M632.5 318.5L633.5 322.5L634.5 319.5L635.5 322.5L636.5 318.5M639.5 317.5L638.5 317.5L638.5 318.5L638.5 322.5M637.5 318.5L639.5 318.5M640.5 318.5L644.5 318.5M640.5 320.5L644.5 320.5M647.5 317.5L645.5 317.5L645.5 319.5L646.5 318.5L647.5 318.5L647.5 319.5L647.5 321.5L647.5 322.5L646.5 322.5L645.5 321.5M648.5 318.5L648.5 321.5L649.5 322.5L650.5 322.5L651.5 321.5M651.5 318.5L651.5 322.5" stroke="#ff8800"/>
<path d="M632.5 323.5L632.5 328.5M637.5 323.5L636.5 323.5L635.5 324.5L635.5 328.5M634.5 325.5L636.5 325.5M638.5 325.5L643.5 325.5M638.5 326.5L643.5 326.5M644.5 324.5L645.5 323.5L645.5 328.5M644.5 328.5L646.5 328.5M648.5 326.5L647.5 325.5L647.5 324.5L648.5 323.5L649.5 323.5L651.5 324.5L651.5 325.5L649.5 326.5L648.5 326.5L647.5 326.5L647.5 327.5L648.5 328.5L649.5 328.5L651.5 327.5L651.5 326.5L649.5 326.5M653.5 323.5L654.5 323.5L655.5 324.5L655.5 327.5L654.5 328.5L653.5 328.5L651.5 327.5L651.5 324.5L653.5 323.5M652.5 327.5L654.5 324.5M656.5 325.5L656.5 328.5M656.5 326.5L657.5 325.5L658.5 325.5L659.5 326.5L659.5 328.5" stroke="#ff8800"/>
<path d="M632.5 331.5L632.5 334.5M632.5 332.5L633.5 331.5L634.5 331.5L635.5 332.5L635.5 334.5M638.5 330.5L637.5 330.5L636.5 330.5L636.5 334.5M636.5 331.5L638.5 331.5M639.5 331.5L643.5 331.5M639.5 333.5L643.5 333.5M645.5 331.5L646.5 330.5L646.5 334.5M645.5 334.5L647.5 334.5M648.5 333.5L651.5 331.5M651.5 333.5L648.5 331.5M650.5 334.5L650.5 330.5M653.5 331.5L654.5 330.5L654.5 334.5M653.5 334.5L655.5 334.5M659.5 330.5L658.5 330.5L657.5 330.5L656.5 330.5L656.5 334.5L657.5 334.5L658.5 334.5L659.5 334.5L659.5 332.5L658.5 332.5L657.5 332.5L656.5 332.5" stroke="#ff8800"/>
<path d="M632.5 338.5L632.5 341.5M632.5 338.5L633.5 338.5L634.5 338.5L634.5 341.5M634.5 338.5L635.5 338.5L636.5 338.5L636.5 341.5M637.5 338.5L640.5 338.5M637.5 339.5L640.5 339.5M641.5 337.5L642.5 336.5L642.5 341.5M641.5 341.5L643.5 341.5" stroke="#ff8800"/>
<path d="M617.5 350.5L617.5 345.5L619.5 348.5L621.5 345.5L621.5 350.5M622.5 346.5L623.5 345.5L624.5 345.5L625.5 346.5L625.5 347.5L622.5 350.5L625.5 350.5M626.5 345.5L629.5 345.5L627.5 350.5" stroke="#ff0000"/>
<path d="M596.5 360.5L596.5 363.5M596.5 361.5L597.5 360.5L598.5 360.5L599.5 361.5L599.5 363.5M602.5 359.5L601.5 359.5L601.5 360.5L601.5 363.5M600.5 360.5L602.5 360.5M603.5 362.5L606.5 362.5L606.5 361.5L605.5 360.5L604.5 360.5L603.5 361.5L603.5 363.5L604.5 363.5L605.5 363.5L606.5 363.5M607.5 359.5L607.5 363.5L608.5 363.5L609.5 363.5M606.5 360.5L608.5 360.5M609.5 364.5L613.5 364.5M613.5 360.5L613.5 363.5M613.5 362.5L614.5 361.5L615.5 360.5L616.5 360.5M619.5 359.5L618.5 359.5L617.5 360.5L617.5 363.5M617.5 360.5L618.5 360.5" stroke="#00cc60"/>
<path d="M615.5 376.5L614.5 375.5L613.5 375.5L612.5 376.5L612.5 377.5L613.5 378.5L614.5 378.5L615.5 377.5M615.5 375.5L615.5 379.5L614.5 380.5L613.5 380.5L612.5 379.5M616.5 375.5L616.5 378.5M616.5 376.5L617.5 375.5L618.5 375.5L619.5 376.5L619.5 378.5M623.5 373.5L623.5 378.5M623.5 376.5L622.5 375.5L621.5 375.5L620.5 376.5L620.5 377.5L621.5 378.5L622.5 378.5L623.5 377.5M625.5 373.5L625.5 378.5" stroke="#ffffff"/>
<path d="M599.5 310.5L599.5 314.5M599.5 311.5L600.5 310.5L601.5 310.5L602.5 311.5L602.5 314.5M603.5 312.5L606.5 312.5L606.5 311.5L605.5 310.5L604.5 310.5L603.5 311.5L603.5 313.5L604.5 314.5L605.5 314.5L606.5 313.5M608.5 308.5L608.5 313.5L608.5 314.5L609.5 314.5M607.5 310.5L609.5 310.5M611.5 308.5L612.5 308.5L613.5 309.5L613.5 313.5L612.5 314.5L611.5 314.5L610.5 313.5L610.5 309.5L611.5 308.5M610.5 313.5L612.5 310.5M614.5 310.5L615.5 308.5L615.5 314.5M614.5 314.5L616.5 314.5M617.5 309.5L618.5 308.5L619.5 308.5L620.5 309.5L620.5 310.5L617.5 314.5L620.5 314.5M621.5 309.5L622.5 308.5L622.5 308.5L623.5 309.5L623.5 310.5L621.5 314.5L623.5 314.5" stroke="#ffffff"/>
<path d="M599.5 322.5L599.5 326.5M599.5 323.5L600.5 322.5L601.5 322.5L602.5 323.5L602.5 326.5M603.5 324.5L606.5 324.5L606.5 323.5L605.5 322.5L604.5 322.5L603.5 323.5L603.5 325.5L604.5 326.5L605.5 326.5L606.5 325.5M608.5 321.5L608.5 325.5L608.5 326.5L609.5 326.5M607.5 322.5L609.5 322.5M611.5 321.5L612.5 321.5L613.5 321.5L613.5 325.5L612.5 326.5L611.5 326.5L610.5 325.5L610.5 321.5L611.5 321.5M610.5 325.5L612.5 322.5M614.5 322.5L615.5 321.5L615.5 326.5M614.5 326.5L616.5 326.5M617.5 321.5L618.5 321.5L619.5 321.5L620.5 321.5L620.5 322.5L617.5 326.5L620.5 326.5M621.5 321.5L622.5 321.5L622.5 321.5L623.5 321.5L623.5 322.5L621.5 326.5L623.5 326.5" stroke="#ffffff"/>
<path d="M572.5 283.5L572.5 286.5M572.5 283.5L573.5 283.5L574.5 283.5L575.5 283.5L575.5 286.5M576.5 284.5L579.5 284.5L579.5 283.5L578.5 283.5L577.5 283.5L576.5 283.5L576.5 285.5L577.5 286.5L578.5 286.5L579.5 285.5M581.5 281.5L581.5 285.5L582.5 286.5L583.5 286.5M580.5 283.5L582.5 283.5M585.5 281.5L586.5 281.5L587.5 282.5L587.5 285.5L586.5 286.5L585.5 286.5L584.5 285.5L584.5 282.5L585.5 281.5M584.5 285.5L586.5 282.5M588.5 282.5L589.5 281.5L589.5 286.5M588.5 286.5L590.5 286.5M592.5 282.5L593.5 281.5L593.5 286.5M592.5 286.5L594.5 286.5M598.5 282.5L597.5 281.5L596.5 281.5L595.5 282.5L595.5 285.5L596.5 286.5L597.5 286.5L598.5 285.5L598.5 284.5L597.5 283.5L596.5 283.5L595.5 284.5" stroke="#ffffff"/>
<path d="M575.5 341.5L575.5 344.5M575.5 342.5L576.5 341.5L577.5 341.5L578.5 342.5L578.5 344.5M579.5 342.5L582.5 342.5L582.5 342.5L581.5 341.5L580.5 341.5L579.5 342.5L579.5 343.5L580.5 344.5L581.5 344.5L582.5 343.5M584.5 339.5L584.5 343.5L585.5 344.5L586.5 344.5M583.5 341.5L585.5 341.5M588.5 339.5L589.5 339.5L590.5 340.5L590.5 343.5L589.5 344.5L588.5 344.5L587.5 343.5L587.5 340.5L588.5 339.5M587.5 343.5L589.5 340.5M591.5 340.5L592.5 339.5L592.5 344.5M591.5 344.5L593.5 344.5M595.5 340.5L596.5 339.5L596.5 344.5M595.5 344.5L597.5 344.5M601.5 340.5L600.5 339.5L599.5 339.5L598.5 340.5L598.5 343.5L599.5 344.5L600.5 344.5L601.5 343.5L601.5 342.5L600.5 341.5L599.5 341.5L598.5 342.5" stroke="#ffffff"/>
<path d="M674.5 265.5L676.5 269.5L677.5 265.5M681.5 266.5L680.5 265.5L679.5 265.5L678.5 266.5L678.5 268.5L679.5 269.5L680.5 269.5L681.5 268.5M685.5 266.5L684.5 265.5L683.5 265.5L682.5 266.5L682.5 268.5L683.5 269.5L684.5 269.5L685.5 268.5M687.5 264.5L687.5 269.5" stroke="#ffffff"/>
<path d="M686.5 292.5L686.5 286.5L688.5 289.5L691.5 286.5L691.5 292.5M691.5 287.5L692.5 286.5L693.5 286.5L694.5 287.5L694.5 288.5L691.5 292.5L694.5 292.5M695.5 287.5L696.5 286.5L697.5 286.5L698.5 287.5L698.5 288.5L697.5 289.5L696.5 289.5M697.5 289.5L698.5 290.5L698.5 291.5L697.5 292.5L696.5 292.5L695.5 291.5" stroke="#ff0000"/>
<path d="M664.5 300.5L664.5 304.5M664.5 300.5L665.5 300.5L666.5 300.5L667.5 300.5L667.5 302.5L666.5 303.5L665.5 303.5L664.5 302.5M670.5 298.5L669.5 298.5L669.5 299.5L669.5 303.5M668.5 300.5L670.5 300.5M671.5 301.5L673.5 301.5L673.5 300.5L673.5 300.5L672.5 300.5L671.5 300.5L671.5 302.5L672.5 303.5L673.5 303.5L673.5 302.5M675.5 298.5L675.5 302.5L676.5 303.5L676.5 303.5M674.5 300.5L676.5 300.5M677.5 303.5L681.5 303.5M681.5 300.5L681.5 303.5M681.5 301.5L682.5 300.5L683.5 300.5L684.5 300.5M687.5 298.5L686.5 298.5L685.5 299.5L685.5 303.5M685.5 300.5L686.5 300.5" stroke="#00cc60"/>
<path d="M699.5 270.5L700.5 273.5L701.5 271.5L702.5 273.5L703.5 270.5M706.5 268.5L706.5 268.5L705.5 269.5L705.5 273.5M704.5 270.5L706.5 270.5M707.5 270.5L711.5 270.5M707.5 271.5L711.5 271.5M715.5 268.5L712.5 268.5L712.5 270.5L713.5 270.5L714.5 270.5L715.5 271.5L715.5 272.5L714.5 273.5L713.5 273.5L712.5 272.5M716.5 270.5L716.5 272.5L717.5 273.5L718.5 273.5L719.5 272.5M719.5 270.5L719.5 273.5" stroke="#ff8800"/>
<path d="M700.5 274.5L700.5 279.5M701.5 276.5L701.5 279.5M701.5 277.5L702.5 276.5L703.5 276.5L704.5 276.5M705.5 276.5L710.5 276.5M705.5 278.5L710.5 278.5M712.5 275.5L713.5 274.5L713.5 279.5M712.5 279.5L714.5 279.5M716.5 277.5L715.5 276.5L715.5 275.5L716.5 274.5L717.5 274.5L718.5 275.5L718.5 276.5L717.5 277.5L716.5 277.5L715.5 278.5L715.5 279.5L716.5 279.5L717.5 279.5L718.5 279.5L718.5 278.5L717.5 277.5M720.5 274.5L721.5 274.5L722.5 275.5L722.5 279.5L721.5 279.5L720.5 279.5L719.5 279.5L719.5 275.5L720.5 274.5M720.5 278.5L722.5 275.5M723.5 276.5L723.5 279.5M723.5 277.5L724.5 276.5L726.5 276.5L727.5 277.5L727.5 279.5" stroke="#ff8800"/>
<path d="M699.5 282.5L699.5 286.5M699.5 283.5L700.5 282.5L701.5 282.5L702.5 283.5L702.5 286.5M705.5 281.5L704.5 281.5L704.5 282.5L704.5 286.5M703.5 282.5L705.5 282.5M706.5 282.5L711.5 282.5M706.5 284.5L711.5 284.5M711.5 282.5L712.5 281.5L713.5 281.5L714.5 282.5L714.5 282.5L713.5 283.5L712.5 283.5M713.5 283.5L714.5 284.5L714.5 285.5L713.5 286.5L712.5 286.5L711.5 285.5M716.5 284.5L718.5 282.5M718.5 284.5L716.5 282.5M717.5 285.5L717.5 282.5M720.5 282.5L721.5 281.5L722.5 281.5L723.5 282.5L723.5 282.5L722.5 283.5L721.5 283.5M722.5 283.5L723.5 284.5L723.5 285.5L722.5 286.5L721.5 286.5L720.5 285.5M724.5 282.5L725.5 281.5L726.5 281.5L727.5 282.5L727.5 282.5L724.5 286.5L727.5 286.5" stroke="#ff8800"/>
<path d="M699.5 289.5L699.5 292.5M699.5 290.5L700.5 289.5L701.5 290.5L701.5 292.5M701.5 290.5L702.5 289.5L703.5 290.5L703.5 292.5M704.5 289.5L708.5 289.5M704.5 290.5L708.5 290.5M709.5 288.5L710.5 287.5L710.5 292.5M709.5 292.5L710.5 292.5" stroke="#ff8800"/>
<path d="M701.5 276.5L703.5 280.5L704.5 276.5M708.5 277.5L707.5 276.5L706.5 276.5L705.5 277.5L705.5 279.5L706.5 280.5L707.5 280.5L708.5 279.5M712.5 277.5L711.5 276.5L710.5 276.5L709.5 277.5L709.5 279.5L710.5 280.5L711.5 280.5L712.5 279.5M714.5 274.5L714.5 280.5" stroke="#ffffff"/>
<path d="M697.5 318.5L698.5 322.5L699.5 319.5L701.5 322.5L702.5 318.5M705.5 317.5L704.5 317.5L703.5 318.5L703.5 322.5M703.5 318.5L704.5 318.5M705.5 318.5L709.5 318.5M705.5 320.5L709.5 320.5M713.5 317.5L710.5 317.5L710.5 319.5L711.5 318.5L712.5 318.5L713.5 319.5L713.5 321.5L712.5 322.5L711.5 322.5L710.5 321.5M714.5 318.5L714.5 321.5L715.5 322.5L716.5 322.5L716.5 321.5M716.5 318.5L716.5 322.5" stroke="#ff8800"/>
<path d="M698.5 323.5L698.5 328.5M702.5 323.5L701.5 323.5L701.5 324.5L701.5 328.5M700.5 325.5L702.5 325.5M703.5 325.5L708.5 325.5M703.5 326.5L708.5 326.5M709.5 324.5L711.5 323.5L711.5 328.5M709.5 328.5L712.5 328.5M714.5 326.5L713.5 325.5L713.5 324.5L714.5 323.5L715.5 323.5L716.5 324.5L716.5 325.5L715.5 326.5L714.5 326.5L713.5 326.5L713.5 327.5L714.5 328.5L715.5 328.5L716.5 327.5L716.5 326.5L715.5 326.5M718.5 323.5L719.5 323.5L720.5 324.5L720.5 327.5L719.5 328.5L718.5 328.5L717.5 327.5L717.5 324.5L718.5 323.5M718.5 327.5L720.5 324.5M721.5 325.5L721.5 328.5M721.5 326.5L722.5 325.5L723.5 325.5L724.5 326.5L724.5 328.5" stroke="#ff8800"/>
<path d="M697.5 331.5L697.5 334.5M697.5 332.5L698.5 331.5L699.5 331.5L700.5 332.5L700.5 334.5M703.5 330.5L703.5 330.5L702.5 330.5L702.5 334.5M701.5 331.5L703.5 331.5M704.5 331.5L709.5 331.5M704.5 333.5L709.5 333.5M710.5 331.5L711.5 330.5L711.5 334.5M710.5 334.5L712.5 334.5M714.5 333.5L716.5 331.5M716.5 333.5L714.5 331.5M715.5 334.5L715.5 330.5M718.5 330.5L719.5 330.5L720.5 330.5L721.5 330.5L721.5 331.5L720.5 332.5L719.5 332.5M720.5 332.5L721.5 333.5L721.5 334.5L720.5 334.5L719.5 334.5L718.5 334.5M722.5 330.5L722.5 330.5L723.5 330.5L724.5 330.5L724.5 331.5L722.5 334.5L724.5 334.5" stroke="#ff8800"/>
<path d="M697.5 338.5L697.5 341.5M697.5 338.5L698.5 338.5L699.5 338.5L699.5 341.5M699.5 338.5L700.5 338.5L702.5 338.5L702.5 341.5M702.5 338.5L706.5 338.5M702.5 339.5L706.5 339.5M707.5 337.5L708.5 336.5L708.5 341.5M707.5 341.5L708.5 341.5" stroke="#ff8800"/>
<path d="M682.5 350.5L682.5 345.5L685.5 348.5L687.5 345.5L687.5 350.5M687.5 346.5L688.5 345.5L689.5 345.5L691.5 346.5L691.5 347.5L687.5 350.5L691.5 350.5M692.5 348.5L691.5 347.5L691.5 346.5L692.5 345.5L693.5 345.5L694.5 346.5L694.5 347.5L693.5 348.5L692.5 348.5L691.5 349.5L691.5 349.5L692.5 350.5L693.5 350.5L694.5 349.5L694.5 349.5L693.5 348.5" stroke="#ff0000"/>
<path d="M662.5 360.5L662.5 363.5M662.5 361.5L663.5 360.5L664.5 360.5L665.5 361.5L665.5 363.5M668.5 359.5L667.5 359.5L666.5 360.5L666.5 363.5M665.5 360.5L667.5 360.5M668.5 362.5L671.5 362.5L671.5 361.5L670.5 360.5L669.5 360.5L668.5 361.5L668.5 363.5L669.5 363.5L670.5 363.5L671.5 363.5M673.5 359.5L673.5 363.5L673.5 363.5L674.5 363.5M672.5 360.5L674.5 360.5M675.5 364.5L679.5 364.5M679.5 360.5L679.5 363.5M679.5 362.5L680.5 361.5L681.5 360.5L681.5 360.5M684.5 359.5L684.5 359.5L683.5 360.5L683.5 363.5M682.5 360.5L684.5 360.5" stroke="#00cc60"/>
<path d="M681.5 376.5L680.5 375.5L679.5 375.5L678.5 376.5L678.5 377.5L679.5 378.5L680.5 378.5L681.5 377.5M681.5 375.5L681.5 379.5L680.5 380.5L679.5 380.5L678.5 379.5M682.5 375.5L682.5 378.5M682.5 376.5L683.5 375.5L684.5 375.5L685.5 376.5L685.5 378.5M689.5 373.5L689.5 378.5M689.5 376.5L688.5 375.5L687.5 375.5L686.5 376.5L686.5 377.5L687.5 378.5L688.5 378.5L689.5 377.5M690.5 373.5L690.5 378.5" stroke="#ffffff"/>
<path d="M672.5 314.5L672.5 308.5L675.5 308.5M672.5 311.5L674.5 311.5M677.5 310.5L678.5 310.5L679.5 311.5L679.5 313.5L678.5 314.5L677.5 314.5L676.5 313.5L676.5 311.5L677.5 310.5M680.5 310.5L680.5 313.5L680.5 314.5L681.5 314.5L682.5 313.5M682.5 310.5L682.5 314.5M684.5 308.5L684.5 313.5L685.5 314.5L686.5 314.5M683.5 310.5L685.5 310.5M687.5 310.5L688.5 308.5L688.5 314.5M687.5 314.5L689.5 314.5" stroke="#ffffff"/>
<path d="M672.5 326.5L672.5 321.5L675.5 321.5M672.5 323.5L674.5 323.5M677.5 322.5L678.5 322.5L679.5 323.5L679.5 325.5L678.5 326.5L677.5 326.5L676.5 325.5L676.5 323.5L677.5 322.5M680.5 322.5L680.5 325.5L680.5 326.5L681.5 326.5L682.5 325.5M682.5 322.5L682.5 326.5M684.5 321.5L684.5 325.5L685.5 326.5L686.5 326.5M683.5 322.5L685.5 322.5M687.5 322.5L688.5 321.5L688.5 326.5M687.5 326.5L689.5 326.5" stroke="#ffffff"/>
<path d="M637.5 283.5L637.5 286.5M637.5 283.5L638.5 283.5L639.5 283.5L640.5 283.5L640.5 286.5M641.5 284.5L645.5 284.5L645.5 283.5L643.5 283.5L642.5 283.5L641.5 283.5L641.5 285.5L642.5 286.5L643.5 286.5L645.5 285.5M646.5 281.5L646.5 285.5L647.5 286.5L648.5 286.5M645.5 283.5L648.5 283.5M650.5 281.5L651.5 281.5L652.5 282.5L652.5 285.5L651.5 286.5L650.5 286.5L649.5 285.5L649.5 282.5L650.5 281.5M650.5 285.5L651.5 282.5M653.5 282.5L655.5 281.5L655.5 286.5M653.5 286.5L656.5 286.5M657.5 282.5L658.5 281.5L659.5 281.5L660.5 282.5L660.5 283.5L657.5 286.5L660.5 286.5M661.5 282.5L662.5 281.5L663.5 281.5L664.5 282.5L664.5 283.5L661.5 286.5L664.5 286.5" stroke="#ffffff"/>
<path d="M640.5 341.5L640.5 344.5M640.5 342.5L641.5 341.5L642.5 341.5L643.5 342.5L643.5 344.5M644.5 342.5L648.5 342.5L648.5 342.5L646.5 341.5L645.5 341.5L644.5 342.5L644.5 343.5L645.5 344.5L646.5 344.5L648.5 343.5M649.5 339.5L649.5 343.5L650.5 344.5L651.5 344.5M648.5 341.5L651.5 341.5M653.5 339.5L654.5 339.5L655.5 340.5L655.5 343.5L654.5 344.5L653.5 344.5L652.5 343.5L652.5 340.5L653.5 339.5M653.5 343.5L654.5 340.5M656.5 340.5L658.5 339.5L658.5 344.5M656.5 344.5L659.5 344.5M660.5 340.5L661.5 339.5L662.5 339.5L663.5 340.5L663.5 341.5L660.5 344.5L663.5 344.5M664.5 340.5L665.5 339.5L666.5 339.5L667.5 340.5L667.5 341.5L664.5 344.5L667.5 344.5" stroke="#ffffff"/>
<path d="M705.5 314.5L705.5 307.5L709.5 307.5M705.5 311.5L707.5 311.5M711.5 310.5L713.5 310.5L714.5 311.5L714.5 313.5L713.5 314.5L711.5 314.5L710.5 313.5L710.5 311.5L711.5 310.5M715.5 310.5L715.5 313.5L716.5 314.5L718.5 314.5L719.5 313.5M719.5 310.5L719.5 314.5M721.5 307.5L721.5 313.5L723.5 314.5L724.5 314.5M720.5 310.5L723.5 310.5M725.5 309.5L727.5 307.5L727.5 314.5M725.5 314.5L728.5 314.5" stroke="#30b8fc"/>
<path d="M744.5 324.5L744.5 319.5L747.5 319.5L748.5 319.5L748.5 320.5L747.5 321.5L744.5 321.5M746.5 321.5L748.5 324.5M749.5 320.5L750.5 319.5L750.5 324.5M749.5 324.5L751.5 324.5M753.5 319.5L754.5 319.5L756.5 319.5L756.5 323.5L754.5 324.5L753.5 324.5L752.5 323.5L752.5 319.5L753.5 319.5M753.5 323.5L755.5 320.5" stroke="#ff0000"/>
<path d="M744.5 331.5L744.5 334.5M744.5 332.5L745.5 331.5L746.5 331.5L747.5 331.5M748.5 331.5L752.5 331.5M748.5 332.5L752.5 332.5M756.5 329.5L753.5 329.5L753.5 331.5L754.5 331.5L755.5 331.5L756.5 331.5L756.5 333.5L755.5 334.5L754.5 334.5L753.5 333.5M758.5 329.5L759.5 329.5L760.5 330.5L760.5 333.5L759.5 334.5L758.5 334.5L757.5 333.5L757.5 330.5L758.5 329.5M758.5 333.5L759.5 330.5" stroke="#ff8800"/>
<path d="M219.5 17.5L223.5 17.5M220.5 17.5L220.5 16.5L219.5 15.5L219.5 15.5M220.5 11.5L219.5 12.5L219.5 13.5L220.5 14.5L222.5 14.5L223.5 13.5L223.5 12.5L222.5 11.5M219.5 11.5L223.5 11.5M218.5 7.5L223.5 7.5M220.5 7.5L219.5 8.5L219.5 9.5L220.5 10.5L222.5 10.5L223.5 9.5L223.5 8.5L222.5 7.5M219.5 6.5L219.5 1.5M221.5 6.5L221.5 1.5M218.5 -2.5L218.5 -1.5L218.5 -0.5L218.5 0.5L222.5 0.5L223.5 -0.5L223.5 -1.5L222.5 -2.5L220.5 -2.5L220.5 -1.5L220.5 -0.5L220.5 0.5M218.5 -4.5L218.5 -5.5L218.5 -6.5L222.5 -6.5L223.5 -5.5L223.5 -4.5L222.5 -3.5L218.5 -3.5L218.5 -4.5M222.5 -4.5L219.5 -6.5M219.5 -7.5L222.5 -7.5L223.5 -8.5L223.5 -9.5L222.5 -10.5M219.5 -10.5L223.5 -10.5" stroke="#ff8800"/>
<path d="M223.5 17.5L226.5 16.5L224.5 15.5L226.5 14.5L223.5 13.5M223.5 12.5L223.5 8.5M225.5 12.5L225.5 8.5M222.5 6.5L221.5 5.5L226.5 5.5M226.5 6.5L226.5 4.5M221.5 1.5L221.5 4.5L223.5 4.5L223.5 3.5L223.5 2.5L224.5 1.5L225.5 1.5L226.5 2.5L226.5 3.5L225.5 4.5M223.5 0.5L225.5 0.5L226.5 -0.5L226.5 -1.5L225.5 -2.5M223.5 -2.5L226.5 -2.5M224.5 -3.5L224.5 -7.5M222.5 -10.5L221.5 -9.5L221.5 -8.5L222.5 -7.5L225.5 -7.5L226.5 -8.5L226.5 -9.5L225.5 -10.5L224.5 -10.5L223.5 -9.5L223.5 -8.5L224.5 -7.5" stroke="#ff8800"/>
<path d="M227.5 17.5L230.5 17.5M227.5 17.5L227.5 16.5L227.5 15.5L227.5 14.5L230.5 14.5M227.5 13.5L230.5 13.5M228.5 13.5L227.5 12.5L227.5 11.5L227.5 10.5M227.5 9.5L227.5 4.5M228.5 9.5L228.5 4.5M226.5 3.5L225.5 2.5L225.5 1.5L226.5 0.5L227.5 0.5L230.5 3.5L230.5 0.5M230.5 -1.5L229.5 -1.5M225.5 -6.5L225.5 -3.5L227.5 -3.5L227.5 -4.5L227.5 -5.5L227.5 -6.5L229.5 -6.5L230.5 -5.5L230.5 -4.5L229.5 -3.5" stroke="#ff8800"/>
<path d="M231.5 14.5L230.5 15.5L230.5 16.5L231.5 17.5L232.5 16.5L232.5 15.5L233.5 14.5L234.5 15.5L234.5 16.5L233.5 17.5M230.5 14.5L230.5 9.5M232.5 14.5L232.5 9.5M230.5 8.5L229.5 7.5L229.5 6.5L230.5 5.5L230.5 5.5L234.5 8.5L234.5 5.5M230.5 5.5L233.5 5.5L234.5 4.5L234.5 3.5L233.5 2.5M230.5 2.5L234.5 2.5M231.5 1.5L231.5 -2.5M230.5 -6.5L229.5 -5.5L229.5 -4.5L230.5 -3.5L233.5 -3.5L234.5 -4.5L234.5 -5.5L233.5 -6.5L232.5 -6.5L231.5 -5.5L231.5 -4.5L232.5 -3.5" stroke="#ff8800"/>
<path d="M232.5 17.5L237.5 17.5M235.5 12.5L234.5 13.5L234.5 14.5L235.5 15.5L236.5 15.5L237.5 14.5L237.5 13.5L236.5 12.5M234.5 12.5L237.5 12.5M234.5 11.5L237.5 10.5M234.5 8.5L239.5 10.5M234.5 8.5L234.5 3.5M236.5 8.5L236.5 3.5M235.5 1.5L234.5 2.5L233.5 2.5L232.5 1.5L232.5 0.5L233.5 -0.5L234.5 -0.5L235.5 0.5L235.5 1.5L236.5 2.5L236.5 2.5L237.5 1.5L237.5 0.5L236.5 -0.5L236.5 -0.5L235.5 0.5M234.5 -1.5L236.5 -1.5L237.5 -2.5L237.5 -3.5L236.5 -4.5M234.5 -4.5L237.5 -4.5M234.5 -5.5L237.5 -5.5M235.5 -5.5L234.5 -6.5L235.5 -7.5L237.5 -7.5M235.5 -7.5L234.5 -9.5L235.5 -10.5L237.5 -10.5" stroke="#ff8800"/>
<path d="M238.5 17.5L241.5 16.5L239.5 15.5L241.5 14.5L238.5 13.5M238.5 12.5L238.5 8.5M239.5 12.5L239.5 8.5M237.5 6.5L236.5 5.5L241.5 5.5M241.5 6.5L241.5 4.5M236.5 1.5L236.5 4.5L238.5 4.5L238.5 3.5L238.5 2.5L239.5 1.5L240.5 1.5L241.5 2.5L241.5 3.5L240.5 4.5M239.5 0.5L239.5 -2.5L239.5 -2.5L238.5 -1.5L238.5 -0.5L239.5 0.5L240.5 0.5L241.5 -0.5L241.5 -1.5L240.5 -2.5M239.5 -3.5L239.5 -7.5M237.5 -10.5L236.5 -9.5L236.5 -8.5L237.5 -7.5L240.5 -7.5L241.5 -8.5L241.5 -9.5L240.5 -10.5L239.5 -10.5L238.5 -9.5L238.5 -8.5L239.5 -7.5" stroke="#ff8800"/>
<path d="M241.5 17.5L245.5 17.5M243.5 17.5L242.5 16.5L241.5 16.5L241.5 15.5M242.5 11.5L241.5 12.5L241.5 13.5L242.5 14.5L244.5 14.5L245.5 13.5L245.5 12.5L244.5 11.5M241.5 11.5L245.5 11.5M240.5 7.5L245.5 7.5M242.5 7.5L241.5 8.5L241.5 9.5L242.5 10.5L244.5 10.5L245.5 9.5L245.5 8.5L244.5 7.5M241.5 6.5L241.5 1.5M243.5 6.5L243.5 1.5M241.5 -2.5L240.5 -1.5L240.5 -0.5L241.5 0.5L244.5 0.5L245.5 -0.5L245.5 -1.5L244.5 -2.5L243.5 -2.5L242.5 -1.5L242.5 -0.5L243.5 0.5M240.5 -4.5L240.5 -5.5L241.5 -6.5L244.5 -6.5L245.5 -5.5L245.5 -4.5L244.5 -3.5L241.5 -3.5L240.5 -4.5M244.5 -4.5L241.5 -5.5" stroke="#ff8800"/>
<path d="M247.5 14.5L253.5 14.5L253.5 10.5M247.5 8.5L247.5 7.5L248.5 6.5L252.5 6.5L253.5 7.5L253.5 8.5L252.5 10.5L248.5 10.5L247.5 8.5M251.5 9.5L248.5 7.5" stroke="#ff0000"/>
<path d="M211.5 10.5L211.5 9.5L212.5 8.5L214.5 8.5L215.5 9.5L215.5 10.5L214.5 11.5L212.5 11.5L211.5 10.5M211.5 7.5L214.5 7.5L215.5 6.5L215.5 5.5L214.5 4.5M211.5 4.5L215.5 4.5M209.5 2.5L214.5 2.5L215.5 1.5L215.5 0.5M211.5 3.5L211.5 1.5" stroke="#ffffff"/>
<path d="M259.5 10.5L259.5 9.5L260.5 8.5L262.5 8.5L263.5 9.5L263.5 10.5L262.5 11.5L260.5 11.5L259.5 10.5M259.5 7.5L262.5 7.5L263.5 6.5L263.5 5.5L262.5 4.5M259.5 4.5L263.5 4.5M257.5 2.5L262.5 2.5L263.5 1.5L263.5 0.5M259.5 3.5L259.5 1.5" stroke="#ffffff"/>
<path d="M188.5 67.5L193.5 67.5M190.5 62.5L189.5 63.5L189.5 64.5L190.5 65.5L192.5 65.5L193.5 64.5L193.5 63.5L192.5 62.5M189.5 62.5L193.5 62.5L194.5 63.5L194.5 64.5L193.5 65.5M189.5 61.5L189.5 56.5M191.5 61.5L191.5 56.5M188.5 52.5L188.5 55.5L190.5 55.5L189.5 54.5L189.5 53.5L190.5 52.5L192.5 52.5L193.5 53.5L193.5 54.5L192.5 55.5M188.5 50.5L188.5 49.5L188.5 48.5L192.5 48.5L193.5 49.5L193.5 50.5L192.5 51.5L188.5 51.5L188.5 50.5M192.5 50.5L189.5 48.5M188.5 45.5L188.5 44.5L188.5 43.5L192.5 43.5L193.5 44.5L193.5 45.5L192.5 47.5L188.5 47.5L188.5 45.5M192.5 46.5L189.5 44.5M191.5 42.5L191.5 39.5L190.5 39.5L189.5 40.5L189.5 41.5L190.5 42.5L192.5 42.5L193.5 41.5L193.5 40.5L192.5 39.5M190.5 38.5L190.5 33.5M192.5 32.5L193.5 31.5L193.5 30.5L192.5 29.5L188.5 29.5L188.5 30.5L188.5 31.5L188.5 32.5L190.5 32.5L190.5 31.5L190.5 30.5L190.5 29.5" stroke="#ff8800"/>
<path d="M194.5 68.5L198.5 66.5L195.5 65.5L198.5 63.5L194.5 62.5M194.5 61.5L198.5 61.5M195.5 61.5L195.5 60.5L194.5 59.5L194.5 58.5M194.5 57.5L194.5 51.5M196.5 57.5L196.5 51.5M193.5 50.5L193.5 49.5L193.5 48.5L193.5 46.5L194.5 46.5L198.5 50.5L198.5 46.5M198.5 45.5L197.5 45.5M193.5 39.5L193.5 43.5L195.5 43.5L194.5 42.5L194.5 41.5L195.5 39.5L197.5 39.5L198.5 41.5L198.5 42.5L197.5 43.5M194.5 38.5L197.5 38.5L198.5 37.5L198.5 36.5L197.5 35.5M194.5 35.5L198.5 35.5" stroke="#ff8800"/>
<path d="M197.5 68.5L200.5 68.5M198.5 68.5L197.5 66.5L197.5 65.5L198.5 63.5L200.5 63.5M195.5 58.5L195.5 60.5L196.5 61.5L200.5 61.5M197.5 62.5L197.5 59.5M197.5 58.5L197.5 51.5M199.5 58.5L199.5 51.5M196.5 49.5L195.5 48.5L200.5 48.5M200.5 49.5L200.5 46.5M196.5 40.5L195.5 42.5L195.5 43.5L196.5 45.5L199.5 45.5L200.5 43.5L200.5 42.5L199.5 40.5L198.5 40.5L197.5 42.5L197.5 43.5L198.5 45.5M198.5 35.5L197.5 36.5L197.5 38.5L198.5 39.5L199.5 39.5L200.5 38.5L200.5 36.5L199.5 35.5M197.5 35.5L200.5 35.5" stroke="#ff8800"/>
<path d="M200.5 68.5L203.5 68.5M201.5 68.5L200.5 66.5L201.5 65.5L203.5 65.5M201.5 65.5L200.5 63.5L201.5 61.5L203.5 61.5M200.5 61.5L200.5 56.5M201.5 61.5L201.5 56.5M200.5 55.5L203.5 55.5M201.5 55.5L200.5 54.5L200.5 52.5L201.5 51.5L203.5 51.5M203.5 50.5L198.5 50.5L198.5 48.5L199.5 47.5L202.5 47.5L203.5 48.5L203.5 50.5M200.5 46.5L203.5 44.5L200.5 43.5M201.5 39.5L200.5 40.5L200.5 41.5L201.5 42.5L202.5 42.5L203.5 41.5L203.5 40.5L202.5 39.5M200.5 39.5L203.5 39.5M200.5 38.5L203.5 38.5M201.5 38.5L200.5 37.5L200.5 36.5L200.5 35.5" stroke="#ff8800"/>
<path d="M201.5 67.5L206.5 67.5M202.5 65.5L206.5 65.5M204.5 65.5L203.5 64.5L202.5 62.5L202.5 61.5M202.5 60.5L202.5 54.5M204.5 60.5L204.5 54.5M201.5 51.5L201.5 50.5L202.5 48.5L205.5 48.5L206.5 50.5L206.5 51.5L205.5 53.5L202.5 53.5L201.5 51.5M205.5 52.5L202.5 49.5M206.5 46.5L205.5 46.5M201.5 40.5L201.5 44.5L203.5 44.5L202.5 43.5L202.5 41.5L203.5 40.5L205.5 40.5L206.5 41.5L206.5 43.5L205.5 44.5M202.5 39.5L205.5 39.5L206.5 38.5L206.5 36.5L205.5 35.5M202.5 35.5L206.5 35.5" stroke="#ff8800"/>
<path d="M206.5 65.5L205.5 66.5L205.5 67.5L206.5 68.5L208.5 68.5L209.5 67.5L209.5 66.5L208.5 65.5M205.5 64.5L209.5 64.5M206.5 64.5L205.5 63.5L206.5 61.5L209.5 61.5M206.5 61.5L205.5 60.5L206.5 59.5L209.5 59.5M206.5 55.5L205.5 56.5L205.5 57.5L206.5 58.5L208.5 58.5L209.5 57.5L209.5 56.5L208.5 55.5M205.5 55.5L209.5 55.5M205.5 54.5L209.5 51.5M205.5 51.5L209.5 54.5M205.5 50.5L205.5 46.5M207.5 50.5L207.5 46.5M204.5 45.5L204.5 44.5L204.5 43.5L204.5 42.5L205.5 42.5L209.5 45.5L209.5 42.5M206.5 40.5L205.5 41.5L204.5 41.5L204.5 40.5L204.5 39.5L204.5 38.5L205.5 38.5L206.5 39.5L206.5 40.5L207.5 41.5L208.5 41.5L209.5 40.5L209.5 39.5L208.5 38.5L207.5 38.5L206.5 39.5M206.5 37.5L205.5 38.5L204.5 38.5L204.5 37.5L204.5 36.5L204.5 35.5L205.5 35.5L206.5 36.5L206.5 37.5L207.5 38.5L208.5 38.5L209.5 37.5L209.5 36.5L208.5 35.5L207.5 35.5L206.5 36.5" stroke="#ff8800"/>
<path d="M209.5 65.5L208.5 66.5L208.5 67.5L209.5 68.5L210.5 68.5L211.5 67.5L211.5 66.5L210.5 65.5M208.5 64.5L211.5 64.5M209.5 64.5L208.5 62.5L209.5 61.5L211.5 61.5M209.5 61.5L208.5 60.5L209.5 58.5L211.5 58.5M208.5 57.5L211.5 57.5M207.5 57.5L206.5 57.5M208.5 55.5L211.5 55.5M209.5 55.5L208.5 54.5L208.5 53.5L209.5 52.5L211.5 52.5M208.5 51.5L208.5 46.5M210.5 51.5L210.5 46.5M209.5 45.5L208.5 46.5L207.5 46.5L206.5 45.5L206.5 44.5L207.5 43.5L208.5 43.5L209.5 44.5L209.5 45.5L210.5 46.5L210.5 46.5L211.5 45.5L211.5 44.5L210.5 43.5L210.5 43.5L209.5 44.5M207.5 39.5L206.5 40.5L206.5 41.5L207.5 42.5L210.5 42.5L211.5 41.5L211.5 40.5L210.5 39.5L209.5 39.5L208.5 40.5L208.5 41.5L209.5 42.5M210.5 38.5L210.5 35.5L209.5 35.5L208.5 36.5L208.5 37.5L209.5 38.5L210.5 38.5L211.5 37.5L211.5 36.5L210.5 35.5" stroke="#ff8800"/>
<path d="M212.5 63.5L211.5 65.5L211.5 66.5L212.5 68.5L213.5 68.5L214.5 66.5L214.5 65.5L213.5 63.5M211.5 63.5L215.5 63.5L216.5 65.5L216.5 66.5L215.5 68.5M211.5 62.5L214.5 62.5M212.5 62.5L211.5 61.5L211.5 60.5L211.5 58.5M211.5 58.5L216.5 58.5M212.5 58.5L211.5 56.5L211.5 55.5L212.5 53.5L213.5 53.5L214.5 55.5L214.5 56.5L213.5 58.5M211.5 48.5L211.5 49.5L211.5 51.5L211.5 52.5L212.5 51.5L213.5 49.5L213.5 48.5L214.5 49.5L214.5 51.5L213.5 52.5M211.5 47.5L211.5 40.5M212.5 47.5L212.5 40.5M214.5 36.5L209.5 36.5L212.5 39.5L212.5 35.5" stroke="#ff8800"/>
<path d="M213.5 68.5L217.5 67.5L214.5 65.5L217.5 64.5L213.5 63.5M213.5 62.5L217.5 62.5M215.5 62.5L214.5 61.5L213.5 61.5L213.5 60.5M213.5 59.5L213.5 55.5M215.5 59.5L215.5 55.5M213.5 54.5L212.5 53.5L212.5 52.5L213.5 51.5L213.5 51.5L214.5 52.5L214.5 53.5M214.5 52.5L215.5 51.5L216.5 51.5L217.5 52.5L217.5 53.5L216.5 54.5M215.5 50.5L215.5 47.5L214.5 47.5L213.5 48.5L213.5 49.5L214.5 50.5L216.5 50.5L217.5 49.5L217.5 48.5L216.5 47.5M214.5 46.5L214.5 42.5M213.5 38.5L212.5 39.5L212.5 40.5L213.5 41.5L216.5 41.5L217.5 40.5L217.5 39.5L216.5 38.5L215.5 38.5L214.5 39.5L214.5 40.5L215.5 41.5M213.5 38.5L216.5 38.5L217.5 37.5L217.5 36.5L216.5 35.5M213.5 35.5L217.5 35.5" stroke="#ff8800"/>
<path d="M216.5 68.5L220.5 68.5M217.5 68.5L216.5 67.5L216.5 66.5L217.5 65.5L220.5 65.5M215.5 61.5L215.5 62.5L215.5 63.5L220.5 63.5M216.5 64.5L216.5 61.5M216.5 60.5L216.5 55.5M218.5 60.5L218.5 55.5M216.5 54.5L215.5 53.5L220.5 53.5M220.5 54.5L220.5 52.5M215.5 48.5L215.5 49.5L215.5 50.5L215.5 51.5L219.5 51.5L220.5 50.5L220.5 49.5L219.5 48.5L217.5 48.5L217.5 49.5L217.5 50.5L217.5 51.5" stroke="#ff8800"/>
<path d="M217.5 67.5L222.5 67.5M220.5 62.5L219.5 63.5L219.5 64.5L220.5 65.5L221.5 65.5L222.5 64.5L222.5 63.5L221.5 62.5M219.5 62.5L223.5 62.5L224.5 63.5L224.5 64.5L223.5 65.5M219.5 61.5L219.5 56.5M221.5 61.5L221.5 56.5M217.5 52.5L217.5 55.5L219.5 55.5L219.5 54.5L219.5 53.5L220.5 52.5L221.5 52.5L222.5 53.5L222.5 54.5L221.5 55.5M217.5 50.5L217.5 49.5L218.5 48.5L221.5 48.5L222.5 49.5L222.5 50.5L221.5 51.5L218.5 51.5L217.5 50.5M221.5 50.5L218.5 48.5M221.5 47.5L221.5 44.5L220.5 44.5L219.5 45.5L219.5 46.5L220.5 47.5L221.5 47.5L222.5 46.5L222.5 45.5L221.5 44.5" stroke="#ff8800"/>
<path d="M222.5 68.5L225.5 68.5M223.5 68.5L222.5 66.5L223.5 65.5L225.5 65.5M223.5 65.5L222.5 64.5L223.5 62.5L225.5 62.5M222.5 62.5L222.5 57.5M223.5 62.5L223.5 57.5M222.5 56.5L225.5 56.5M223.5 56.5L222.5 55.5L222.5 55.5L223.5 54.5L225.5 54.5M225.5 53.5L220.5 53.5L220.5 51.5L221.5 50.5L224.5 50.5L225.5 51.5L225.5 53.5M222.5 49.5L225.5 48.5L222.5 46.5M223.5 43.5L222.5 44.5L222.5 44.5L223.5 45.5L224.5 45.5L225.5 44.5L225.5 44.5L224.5 43.5M222.5 43.5L225.5 43.5M222.5 42.5L225.5 42.5M223.5 42.5L222.5 41.5L222.5 40.5L222.5 39.5" stroke="#ff8800"/>
<path d="M224.5 68.5L228.5 67.5L225.5 65.5L228.5 64.5L224.5 63.5M224.5 62.5L228.5 62.5M226.5 62.5L225.5 61.5L224.5 60.5L224.5 59.5M224.5 58.5L224.5 53.5M226.5 58.5L226.5 53.5M224.5 53.5L223.5 52.5L223.5 51.5L224.5 49.5L224.5 49.5L228.5 53.5L228.5 49.5M228.5 48.5L227.5 48.5M223.5 43.5L223.5 46.5L225.5 46.5L224.5 45.5L224.5 44.5L225.5 43.5L227.5 43.5L228.5 44.5L228.5 45.5L227.5 46.5M224.5 42.5L227.5 42.5L228.5 41.5L228.5 40.5L227.5 39.5M224.5 39.5L228.5 39.5" stroke="#ff8800"/>
<path d="M199.5 63.5L198.5 64.5L198.5 65.5L199.5 66.5L201.5 66.5L202.5 65.5L202.5 64.5L201.5 63.5M198.5 62.5L202.5 62.5M199.5 62.5L198.5 61.5L199.5 60.5L202.5 60.5M199.5 60.5L198.5 59.5L199.5 58.5L202.5 58.5M199.5 55.5L198.5 55.5L198.5 56.5L199.5 57.5L201.5 57.5L202.5 56.5L202.5 55.5L201.5 55.5M198.5 55.5L202.5 55.5M198.5 54.5L202.5 51.5M198.5 51.5L202.5 54.5M201.5 50.5L201.5 50.5M199.5 50.5L198.5 50.5M197.5 49.5L197.5 48.5L197.5 47.5L197.5 46.5L198.5 46.5L202.5 49.5L202.5 46.5M199.5 45.5L198.5 46.5L197.5 46.5L197.5 45.5L197.5 44.5L197.5 43.5L198.5 43.5L199.5 44.5L199.5 45.5L200.5 46.5L201.5 46.5L202.5 45.5L202.5 44.5L201.5 43.5L200.5 43.5L199.5 44.5M199.5 42.5L198.5 42.5L197.5 42.5L197.5 42.5L197.5 41.5L197.5 40.5L198.5 40.5L199.5 41.5L199.5 42.5L200.5 42.5L201.5 42.5L202.5 42.5L202.5 41.5L201.5 40.5L200.5 40.5L199.5 41.5" stroke="#ff8800"/>
<path d="M204.5 66.5L208.5 66.5M205.5 66.5L204.5 64.5L205.5 63.5L208.5 63.5M205.5 63.5L204.5 62.5L205.5 61.5L208.5 61.5M204.5 61.5L204.5 57.5M206.5 61.5L206.5 57.5M204.5 57.5L208.5 57.5M205.5 57.5L204.5 56.5L204.5 55.5L205.5 55.5L208.5 55.5M208.5 54.5L203.5 54.5L203.5 52.5L204.5 52.5L207.5 52.5L208.5 52.5L208.5 54.5M204.5 51.5L208.5 50.5L204.5 49.5M205.5 46.5L204.5 47.5L204.5 47.5L205.5 48.5L207.5 48.5L208.5 47.5L208.5 47.5L207.5 46.5M204.5 46.5L208.5 46.5M204.5 45.5L208.5 45.5M206.5 45.5L205.5 44.5L204.5 44.5L204.5 43.5" stroke="#ff8800"/>
<path d="M211.5 65.5L211.5 66.5L210.5 66.5L209.5 65.5L209.5 64.5L210.5 63.5L211.5 63.5L211.5 64.5L211.5 65.5L212.5 66.5L213.5 66.5L214.5 65.5L214.5 64.5L213.5 63.5L212.5 63.5L211.5 64.5M210.5 59.5L209.5 60.5L209.5 61.5L210.5 62.5L213.5 62.5L214.5 61.5L214.5 60.5L213.5 59.5L212.5 59.5L211.5 60.5L211.5 61.5L212.5 62.5M214.5 58.5L213.5 58.5M210.5 56.5L209.5 55.5L214.5 55.5M214.5 56.5L214.5 54.5M210.5 53.5L209.5 52.5L209.5 51.5L210.5 50.5L211.5 50.5L211.5 51.5L211.5 52.5M211.5 51.5L212.5 50.5L213.5 50.5L214.5 51.5L214.5 52.5L213.5 53.5M212.5 49.5L212.5 47.5L211.5 47.5L211.5 48.5L211.5 48.5L211.5 49.5L213.5 49.5L214.5 48.5L214.5 48.5L213.5 47.5" stroke="#ff8800"/>
<path d="M215.5 65.5L220.5 65.5M218.5 61.5L217.5 62.5L217.5 63.5L218.5 64.5L219.5 64.5L220.5 63.5L220.5 62.5L219.5 61.5M217.5 61.5L221.5 61.5L222.5 62.5L222.5 63.5L221.5 64.5M217.5 60.5L217.5 57.5M218.5 60.5L218.5 57.5M215.5 53.5L215.5 56.5L217.5 56.5L217.5 55.5L217.5 54.5L218.5 53.5L219.5 53.5L220.5 54.5L220.5 55.5L219.5 56.5M215.5 52.5L215.5 51.5L216.5 50.5L219.5 50.5L220.5 51.5L220.5 52.5L219.5 52.5L216.5 52.5L215.5 52.5M219.5 52.5L216.5 50.5M215.5 48.5L215.5 47.5L216.5 47.5L219.5 47.5L220.5 47.5L220.5 48.5L219.5 49.5L216.5 49.5L215.5 48.5M219.5 49.5L216.5 47.5M218.5 46.5L218.5 43.5L218.5 43.5L217.5 44.5L217.5 45.5L218.5 46.5L219.5 46.5L220.5 45.5L220.5 44.5L219.5 43.5" stroke="#ff8800"/>
<path d="M197.5 86.5L201.5 86.5M198.5 86.5L197.5 85.5L197.5 84.5L198.5 83.5L201.5 83.5M196.5 80.5L196.5 81.5L196.5 81.5L201.5 81.5M197.5 82.5L197.5 80.5M197.5 79.5L197.5 75.5M199.5 79.5L199.5 75.5M197.5 74.5L196.5 73.5L201.5 73.5M201.5 74.5L201.5 72.5M196.5 68.5L196.5 69.5L196.5 70.5L196.5 71.5L200.5 71.5L201.5 70.5L201.5 69.5L200.5 68.5L198.5 68.5L198.5 69.5L198.5 70.5L198.5 71.5" stroke="#ff8800"/>
<path d="M202.5 86.5L206.5 86.5M203.5 86.5L202.5 84.5L203.5 83.5L206.5 83.5M203.5 83.5L202.5 82.5L203.5 81.5L206.5 81.5M202.5 80.5L202.5 77.5M204.5 80.5L204.5 77.5M202.5 76.5L206.5 76.5M203.5 76.5L202.5 75.5L202.5 74.5L203.5 73.5L206.5 73.5M206.5 73.5L201.5 73.5L201.5 71.5L202.5 70.5L205.5 70.5L206.5 71.5L206.5 73.5M202.5 69.5L206.5 68.5L202.5 67.5M203.5 64.5L202.5 65.5L202.5 66.5L203.5 66.5L205.5 66.5L206.5 66.5L206.5 65.5L205.5 64.5M202.5 64.5L206.5 64.5M202.5 63.5L206.5 63.5M204.5 63.5L203.5 62.5L202.5 62.5L202.5 61.5" stroke="#ff8800"/>
<path d="M208.5 86.5L211.5 85.5L208.5 84.5L211.5 83.5L208.5 82.5M208.5 81.5L211.5 81.5M209.5 81.5L208.5 80.5L208.5 80.5L208.5 79.5M208.5 78.5L208.5 75.5M209.5 78.5L209.5 75.5M207.5 74.5L206.5 73.5L206.5 72.5L207.5 71.5L208.5 71.5L208.5 72.5L208.5 73.5M208.5 72.5L209.5 71.5L210.5 71.5L211.5 72.5L211.5 73.5L210.5 74.5M209.5 71.5L209.5 68.5L208.5 68.5L208.5 69.5L208.5 70.5L208.5 71.5L210.5 71.5L211.5 70.5L211.5 69.5L210.5 68.5M208.5 67.5L208.5 64.5M207.5 61.5L206.5 62.5L206.5 63.5L207.5 63.5L210.5 63.5L211.5 63.5L211.5 62.5L210.5 61.5L209.5 61.5L208.5 62.5L208.5 63.5L209.5 63.5" stroke="#ff8800"/>
<path d="M240.5 63.5L245.5 63.5M241.5 61.5L241.5 56.5M243.5 61.5L243.5 56.5M240.5 55.5L240.5 54.5L240.5 53.5L240.5 52.5L241.5 52.5L245.5 55.5L245.5 52.5M243.5 51.5L243.5 47.5L242.5 47.5L241.5 48.5L241.5 50.5L242.5 51.5L244.5 51.5L245.5 50.5L245.5 48.5L244.5 47.5M242.5 46.5L242.5 42.5M244.5 41.5L245.5 40.5L245.5 39.5L244.5 37.5L240.5 37.5L240.5 39.5L240.5 40.5L240.5 41.5L242.5 41.5L242.5 40.5L242.5 39.5L242.5 37.5" stroke="#ff8800"/>
<path d="M247.5 48.5L251.5 48.5M248.5 48.5L247.5 47.5L247.5 46.5L248.5 45.5L251.5 45.5M247.5 44.5L247.5 40.5M249.5 44.5L249.5 40.5M246.5 36.5L246.5 39.5L248.5 39.5L247.5 38.5L247.5 37.5L248.5 36.5L250.5 36.5L251.5 37.5L251.5 38.5L250.5 39.5" stroke="#ff8800"/>
<path d="M222.5 36.5L222.5 32.5M224.5 36.5L224.5 32.5M222.5 32.5L221.5 31.5L221.5 30.5L222.5 30.5L222.5 30.5L226.5 32.5L226.5 30.5M224.5 29.5L224.5 27.5L223.5 27.5L222.5 27.5L222.5 28.5L223.5 29.5L225.5 29.5L226.5 28.5L226.5 27.5L225.5 27.5" stroke="#ff8800"/>
<path d="M217.5 37.5L221.5 36.5L218.5 35.5L221.5 34.5L217.5 34.5M217.5 33.5L217.5 30.5M219.5 33.5L219.5 30.5" stroke="#ff8800"/>
<path d="M216.5 68.5L220.5 68.5M217.5 68.5L216.5 66.5L216.5 65.5L217.5 64.5L220.5 64.5M218.5 63.5L218.5 60.5L217.5 60.5L216.5 61.5L216.5 62.5L217.5 63.5L219.5 63.5L220.5 62.5L220.5 61.5L219.5 60.5M214.5 58.5L219.5 58.5L220.5 58.5L220.5 57.5M216.5 59.5L216.5 57.5M214.5 55.5L214.5 54.5L215.5 53.5L219.5 53.5L220.5 54.5L220.5 55.5L219.5 56.5L215.5 56.5L214.5 55.5M218.5 55.5L215.5 53.5M215.5 52.5L214.5 51.5L214.5 50.5L215.5 49.5L216.5 49.5L220.5 52.5L220.5 49.5M215.5 48.5L214.5 47.5L214.5 45.5L215.5 44.5L216.5 44.5L217.5 45.5L217.5 47.5M217.5 45.5L218.5 44.5L219.5 44.5L220.5 45.5L220.5 47.5L219.5 48.5" stroke="#ffffff"/>
<path d="M231.5 68.5L235.5 68.5M232.5 68.5L231.5 67.5L231.5 66.5L232.5 65.5L235.5 65.5M233.5 64.5L233.5 61.5L232.5 61.5L231.5 62.5L231.5 63.5L232.5 64.5L234.5 64.5L235.5 63.5L235.5 62.5L234.5 61.5M229.5 59.5L234.5 59.5L235.5 58.5L235.5 57.5M231.5 60.5L231.5 58.5M229.5 56.5L229.5 55.5L230.5 54.5L234.5 54.5L235.5 55.5L235.5 56.5L234.5 56.5L230.5 56.5L229.5 56.5M233.5 56.5L230.5 54.5M230.5 52.5L229.5 51.5L235.5 51.5M235.5 52.5L235.5 50.5M230.5 49.5L229.5 48.5L229.5 47.5L230.5 46.5L231.5 46.5L232.5 47.5L232.5 48.5M232.5 47.5L233.5 46.5L234.5 46.5L235.5 47.5L235.5 48.5L234.5 49.5" stroke="#ffffff"/>
<path d="M214.5 19.5L214.5 24.5M214.5 18.5L214.5 17.5M216.5 19.5L216.5 24.5M216.5 21.5L217.5 19.5L218.5 19.5L220.5 21.5L220.5 24.5M224.5 17.5L224.5 24.5M224.5 21.5L223.5 19.5L222.5 19.5L220.5 21.5L220.5 23.5L222.5 24.5L223.5 24.5L224.5 23.5M225.5 25.5L231.5 25.5M234.5 17.5L234.5 24.5M234.5 21.5L233.5 19.5L232.5 19.5L231.5 21.5L231.5 23.5L232.5 24.5L233.5 24.5L234.5 23.5M236.5 19.5L236.5 24.5M236.5 18.5L236.5 17.5M241.5 17.5L240.5 17.5L239.5 18.5L239.5 24.5M238.5 19.5L241.5 19.5M245.5 17.5L244.5 17.5L243.5 18.5L243.5 24.5M242.5 19.5L245.5 19.5" stroke="#00cc60"/>
<path d="M246.5 59.5L248.5 63.5L250.5 59.5M255.5 60.5L253.5 59.5L252.5 59.5L251.5 60.5L251.5 62.5L252.5 63.5L253.5 63.5L255.5 62.5M255.5 59.5L255.5 63.5M256.5 59.5L256.5 63.5M256.5 60.5L257.5 59.5L258.5 59.5L259.5 59.5M259.5 64.5L266.5 64.5M265.5 59.5L265.5 63.5M265.5 60.5L267.5 59.5L269.5 60.5L269.5 63.5M269.5 60.5L271.5 59.5L273.5 60.5L273.5 63.5M275.5 59.5L276.5 59.5L278.5 60.5L278.5 62.5L276.5 63.5L275.5 63.5L274.5 62.5L274.5 60.5L275.5 59.5M282.5 59.5L281.5 59.5L280.5 59.5L279.5 59.5L280.5 60.5L281.5 61.5L282.5 62.5L281.5 63.5L280.5 63.5L279.5 62.5" stroke="#00cc60"/>
<path d="M176.5 86.5L178.5 90.5L180.5 86.5M185.5 87.5L183.5 86.5L182.5 86.5L181.5 87.5L181.5 89.5L182.5 90.5L183.5 90.5L185.5 89.5M185.5 86.5L185.5 90.5M185.5 86.5L185.5 90.5M185.5 87.5L187.5 86.5L188.5 86.5L189.5 86.5M189.5 91.5L195.5 91.5M195.5 86.5L195.5 90.5M195.5 87.5L197.5 86.5L199.5 87.5L199.5 90.5M199.5 87.5L201.5 86.5L203.5 87.5L203.5 90.5M205.5 86.5L206.5 86.5L207.5 87.5L207.5 89.5L206.5 90.5L205.5 90.5L203.5 89.5L203.5 87.5L205.5 86.5M212.5 86.5L211.5 86.5L210.5 86.5L208.5 86.5L210.5 87.5L211.5 88.5L212.5 89.5L211.5 90.5L210.5 90.5L208.5 89.5" stroke="#00cc60"/>
<path d="M161.5 67.5L162.5 67.5L164.5 68.5L164.5 70.5L162.5 71.5L161.5 71.5L160.5 70.5L160.5 68.5L161.5 67.5M164.5 67.5L164.5 70.5L166.5 71.5L167.5 71.5L168.5 70.5M168.5 67.5L168.5 71.5M170.5 65.5L170.5 70.5L172.5 71.5L173.5 71.5M169.5 67.5L172.5 67.5M174.5 66.5L175.5 65.5L176.5 65.5L178.5 66.5L178.5 67.5L174.5 71.5L178.5 71.5" stroke="#30b8fc"/>
<path d="M281.5 67.5L282.5 67.5L284.5 68.5L284.5 70.5L282.5 71.5L281.5 71.5L280.5 70.5L280.5 68.5L281.5 67.5M285.5 67.5L285.5 70.5L286.5 71.5L287.5 71.5L288.5 70.5M288.5 67.5L288.5 71.5M290.5 65.5L290.5 70.5L291.5 71.5L292.5 71.5M289.5 67.5L292.5 67.5M294.5 66.5L295.5 65.5L295.5 71.5M294.5 71.5L296.5 71.5" stroke="#30b8fc"/>
<path d="M176.5 91.5L176.5 90.5L177.5 89.5L179.5 89.5L180.5 90.5L180.5 91.5L179.5 93.5L177.5 93.5L176.5 91.5M176.5 89.5L179.5 89.5L180.5 88.5L180.5 87.5L179.5 86.5M176.5 86.5L180.5 86.5M174.5 84.5L179.5 84.5L180.5 83.5L180.5 82.5M176.5 85.5L176.5 82.5M175.5 81.5L174.5 80.5L174.5 79.5L175.5 78.5L176.5 78.5L180.5 81.5L180.5 78.5" stroke="#ffffff"/>
<path d="M278.5 65.5L278.5 64.5L279.5 63.5L281.5 63.5L282.5 64.5L282.5 65.5L281.5 66.5L279.5 66.5L278.5 65.5M278.5 62.5L281.5 62.5L282.5 61.5L282.5 60.5L281.5 59.5M278.5 59.5L282.5 59.5M276.5 57.5L281.5 57.5L282.5 56.5L282.5 55.5M278.5 58.5L278.5 56.5M277.5 54.5L276.5 53.5L282.5 53.5M282.5 54.5L282.5 52.5" stroke="#ffffff"/>
<path d="M176.5 67.5L176.5 68.5L176.5 69.5L176.5 70.5L179.5 70.5L180.5 69.5L180.5 68.5L179.5 67.5M176.5 66.5L176.5 65.5L180.5 65.5M180.5 66.5L180.5 64.5" stroke="#ff0000"/>
<path d="M223.5 106.5L226.5 106.5M224.5 106.5L223.5 104.5L223.5 103.5L224.5 102.5L226.5 102.5M225.5 102.5L225.5 98.5L224.5 98.5L223.5 99.5L223.5 100.5L224.5 102.5L225.5 102.5L226.5 100.5L226.5 99.5L225.5 98.5M221.5 97.5L225.5 97.5L226.5 96.5L226.5 95.5M223.5 98.5L223.5 95.5M221.5 93.5L221.5 92.5L222.5 91.5L225.5 91.5L226.5 92.5L226.5 93.5L225.5 94.5L222.5 94.5L221.5 93.5M225.5 93.5L222.5 92.5M222.5 90.5L221.5 89.5L221.5 88.5L222.5 87.5L223.5 87.5L226.5 90.5L226.5 87.5M222.5 86.5L221.5 85.5L221.5 84.5L222.5 83.5L223.5 83.5L224.5 84.5L224.5 85.5M224.5 84.5L225.5 83.5L225.5 83.5L226.5 84.5L226.5 85.5L225.5 86.5" stroke="#ffffff"/>
<path d="M231.5 146.5L230.5 147.5L230.5 148.5L231.5 150.5L232.5 150.5L233.5 148.5L233.5 147.5L232.5 146.5M230.5 145.5L233.5 145.5M231.5 145.5L230.5 143.5L231.5 141.5L233.5 141.5M231.5 141.5L230.5 139.5L231.5 138.5L233.5 138.5M230.5 136.5L233.5 136.5M229.5 136.5L228.5 136.5M230.5 134.5L233.5 134.5M231.5 134.5L230.5 133.5L230.5 132.5L231.5 130.5L233.5 130.5M233.5 129.5L232.5 129.5M231.5 129.5L230.5 129.5M231.5 125.5L230.5 127.5L229.5 127.5L228.5 125.5L228.5 124.5L229.5 123.5L230.5 123.5L231.5 124.5L231.5 125.5L232.5 127.5L232.5 127.5L233.5 125.5L233.5 124.5L232.5 123.5L232.5 123.5L231.5 124.5M229.5 118.5L228.5 119.5L228.5 121.5L229.5 122.5L232.5 122.5L233.5 121.5L233.5 119.5L232.5 118.5L231.5 118.5L230.5 119.5L230.5 121.5L231.5 122.5M233.5 116.5L233.5 116.5M229.5 114.5L228.5 113.5L233.5 113.5M233.5 114.5L233.5 111.5M229.5 110.5L228.5 109.5L228.5 108.5L229.5 107.5L230.5 107.5L231.5 108.5L231.5 109.5M231.5 108.5L232.5 107.5L232.5 107.5L233.5 108.5L233.5 109.5L232.5 110.5M232.5 106.5L232.5 102.5L231.5 102.5L230.5 103.5L230.5 104.5L231.5 106.5L232.5 106.5L233.5 104.5L233.5 103.5L232.5 102.5M231.5 101.5L231.5 96.5M229.5 94.5L228.5 93.5L233.5 93.5M233.5 94.5L233.5 92.5M228.5 87.5L228.5 91.5L230.5 91.5L230.5 89.5L230.5 88.5L231.5 87.5L232.5 87.5L233.5 88.5L233.5 89.5L232.5 91.5" stroke="#ff8800"/>
<path d="M236.5 146.5L235.5 147.5L235.5 148.5L236.5 150.5L237.5 150.5L238.5 148.5L238.5 147.5L237.5 146.5M235.5 145.5L238.5 145.5M236.5 145.5L235.5 143.5L236.5 142.5L238.5 142.5M236.5 142.5L235.5 140.5L236.5 138.5L238.5 138.5M236.5 134.5L235.5 135.5L235.5 136.5L236.5 137.5L237.5 137.5L238.5 136.5L238.5 135.5L237.5 134.5M235.5 134.5L238.5 134.5M235.5 133.5L238.5 129.5M235.5 129.5L238.5 133.5M238.5 127.5L237.5 127.5M236.5 127.5L235.5 127.5M234.5 126.5L233.5 124.5L233.5 123.5L234.5 122.5L235.5 122.5L238.5 126.5L238.5 122.5M236.5 120.5L235.5 121.5L234.5 121.5L233.5 120.5L233.5 119.5L234.5 117.5L235.5 117.5L236.5 119.5L236.5 120.5L237.5 121.5L237.5 121.5L238.5 120.5L238.5 119.5L237.5 117.5L237.5 117.5L236.5 119.5M236.5 115.5L235.5 117.5L234.5 117.5L233.5 115.5L233.5 114.5L234.5 113.5L235.5 113.5L236.5 114.5L236.5 115.5L237.5 117.5L237.5 117.5L238.5 115.5L238.5 114.5L237.5 113.5L237.5 113.5L236.5 114.5M238.5 111.5L238.5 111.5M236.5 108.5L235.5 109.5L234.5 109.5L233.5 108.5L233.5 107.5L234.5 106.5L235.5 106.5L236.5 107.5L236.5 108.5L237.5 109.5L237.5 109.5L238.5 108.5L238.5 107.5L237.5 106.5L237.5 106.5L236.5 107.5M233.5 105.5L233.5 101.5L238.5 104.5M237.5 100.5L237.5 97.5L236.5 97.5L235.5 98.5L235.5 99.5L236.5 100.5L237.5 100.5L238.5 99.5L238.5 98.5L237.5 97.5M236.5 96.5L236.5 91.5M234.5 89.5L233.5 88.5L238.5 88.5M238.5 89.5L238.5 87.5M233.5 82.5L233.5 86.5L235.5 86.5L235.5 85.5L235.5 83.5L236.5 82.5L237.5 82.5L238.5 83.5L238.5 85.5L237.5 86.5" stroke="#ff8800"/>
<path d="M241.5 113.5L244.5 113.5M242.5 113.5L241.5 111.5L242.5 110.5L244.5 110.5M242.5 110.5L241.5 108.5L242.5 107.5L244.5 107.5M241.5 106.5L241.5 101.5M243.5 106.5L243.5 101.5M241.5 100.5L244.5 100.5M242.5 100.5L241.5 99.5L241.5 98.5L242.5 97.5L244.5 97.5M244.5 96.5L239.5 96.5L239.5 94.5L240.5 93.5L243.5 93.5L244.5 94.5L244.5 96.5M241.5 92.5L244.5 90.5L241.5 89.5M242.5 85.5L241.5 86.5L241.5 87.5L242.5 88.5L243.5 88.5L244.5 87.5L244.5 86.5L243.5 85.5M241.5 85.5L244.5 85.5M241.5 84.5L244.5 84.5M242.5 84.5L241.5 83.5L241.5 82.5L241.5 81.5" stroke="#ff8800"/>
<path d="M248.5 103.5L251.5 103.5M249.5 103.5L248.5 101.5L248.5 100.5L249.5 99.5L251.5 99.5M246.5 96.5L246.5 97.5L247.5 98.5L251.5 98.5M248.5 98.5L248.5 96.5M248.5 95.5L248.5 90.5M249.5 95.5L249.5 90.5M247.5 89.5L246.5 88.5L251.5 88.5M251.5 89.5L251.5 87.5M247.5 82.5L246.5 83.5L246.5 85.5L247.5 86.5L250.5 86.5L251.5 85.5L251.5 83.5L250.5 82.5L249.5 82.5L248.5 83.5L248.5 85.5L249.5 86.5" stroke="#ff8800"/>
<path d="M254.5 103.5L257.5 102.5L255.5 101.5L257.5 100.5L254.5 99.5M254.5 98.5L257.5 98.5M255.5 98.5L254.5 98.5L254.5 97.5L254.5 97.5M254.5 96.5L254.5 93.5M255.5 96.5L255.5 93.5M253.5 92.5L252.5 91.5L252.5 90.5L253.5 90.5L254.5 90.5L255.5 90.5L255.5 91.5M255.5 90.5L255.5 90.5L256.5 90.5L257.5 90.5L257.5 91.5L256.5 92.5M255.5 89.5L255.5 87.5L255.5 87.5L254.5 88.5L254.5 88.5L255.5 89.5L256.5 89.5L257.5 88.5L257.5 88.5L256.5 87.5M255.5 86.5L255.5 83.5M253.5 80.5L252.5 81.5L252.5 82.5L253.5 82.5L256.5 82.5L257.5 82.5L257.5 81.5L256.5 80.5L255.5 80.5L254.5 81.5L254.5 82.5L255.5 82.5" stroke="#ff8800"/>
<path d="M259.5 124.5L264.5 124.5M261.5 118.5L260.5 119.5L260.5 121.5L261.5 122.5L263.5 122.5L264.5 121.5L264.5 119.5L263.5 118.5M260.5 118.5L264.5 118.5L265.5 119.5L265.5 121.5L264.5 122.5M260.5 117.5L260.5 112.5M262.5 117.5L262.5 112.5M259.5 107.5L259.5 111.5L261.5 111.5L260.5 109.5L260.5 108.5L261.5 107.5L263.5 107.5L264.5 108.5L264.5 109.5L263.5 111.5M259.5 105.5L259.5 104.5L260.5 102.5L263.5 102.5L264.5 104.5L264.5 105.5L263.5 106.5L260.5 106.5L259.5 105.5M263.5 105.5L260.5 103.5M259.5 100.5L259.5 99.5L260.5 98.5L263.5 98.5L264.5 99.5L264.5 100.5L263.5 101.5L260.5 101.5L259.5 100.5M263.5 101.5L260.5 98.5M262.5 97.5L262.5 93.5L261.5 93.5L260.5 94.5L260.5 95.5L261.5 97.5L263.5 97.5L264.5 95.5L264.5 94.5L263.5 93.5M261.5 92.5L261.5 87.5M263.5 86.5L264.5 85.5L264.5 83.5L263.5 82.5L260.5 82.5L259.5 83.5L259.5 85.5L260.5 86.5L261.5 86.5L262.5 85.5L262.5 83.5L261.5 82.5" stroke="#ff8800"/>
<path d="M268.5 146.5L272.5 144.5L269.5 142.5L272.5 141.5L268.5 139.5M268.5 139.5L268.5 133.5M270.5 139.5L270.5 133.5M268.5 131.5L267.5 130.5L272.5 130.5M272.5 131.5L272.5 129.5M267.5 127.5L267.5 125.5L268.5 124.5L271.5 124.5L272.5 125.5L272.5 127.5L271.5 128.5L268.5 128.5L267.5 127.5M271.5 127.5L268.5 125.5M270.5 123.5L270.5 119.5L269.5 119.5L268.5 121.5L268.5 122.5L269.5 123.5L271.5 123.5L272.5 122.5L272.5 121.5L271.5 119.5M269.5 118.5L269.5 113.5M268.5 109.5L267.5 110.5L267.5 111.5L268.5 112.5L271.5 112.5L272.5 111.5L272.5 110.5L271.5 109.5L270.5 109.5L269.5 110.5L269.5 111.5L270.5 112.5" stroke="#ff8800"/>
<path d="M271.5 145.5L276.5 145.5M273.5 143.5L273.5 138.5M274.5 143.5L274.5 138.5M272.5 137.5L271.5 135.5L276.5 135.5M276.5 137.5L276.5 134.5M271.5 132.5L271.5 131.5L272.5 130.5L275.5 130.5L276.5 131.5L276.5 132.5L275.5 133.5L272.5 133.5L271.5 132.5M275.5 133.5L272.5 130.5M274.5 129.5L274.5 126.5L274.5 126.5L273.5 127.5L273.5 128.5L274.5 129.5L275.5 129.5L276.5 128.5L276.5 127.5L275.5 126.5M274.5 125.5L274.5 120.5M272.5 116.5L271.5 117.5L271.5 118.5L272.5 119.5L275.5 119.5L276.5 118.5L276.5 117.5L275.5 116.5L274.5 116.5L273.5 117.5L273.5 118.5L274.5 119.5" stroke="#ff8800"/>
<path d="M282.5 142.5L281.5 143.5L281.5 144.5L282.5 146.5L283.5 146.5L284.5 144.5L284.5 143.5L283.5 142.5M281.5 141.5L281.5 135.5M282.5 141.5L282.5 135.5M280.5 134.5L279.5 133.5L284.5 133.5M284.5 134.5L284.5 131.5M279.5 129.5L279.5 128.5L280.5 127.5L283.5 127.5L284.5 128.5L284.5 129.5L283.5 130.5L280.5 130.5L279.5 129.5M283.5 130.5L280.5 127.5M280.5 125.5L279.5 124.5L284.5 124.5M284.5 125.5L284.5 122.5M284.5 121.5L283.5 121.5M279.5 115.5L279.5 119.5L281.5 119.5L281.5 118.5L281.5 116.5L282.5 115.5L283.5 115.5L284.5 116.5L284.5 118.5L283.5 119.5M282.5 113.5L281.5 114.5L280.5 114.5L279.5 113.5L279.5 112.5L280.5 111.5L281.5 111.5L282.5 112.5L282.5 113.5L282.5 114.5L283.5 114.5L284.5 113.5L284.5 112.5L283.5 111.5L282.5 111.5L282.5 112.5M280.5 106.5L279.5 107.5L279.5 108.5L280.5 110.5L283.5 110.5L284.5 108.5L284.5 107.5L283.5 106.5L282.5 106.5L281.5 107.5L281.5 108.5L282.5 110.5M282.5 105.5L282.5 101.5L282.5 101.5L281.5 103.5L281.5 104.5L282.5 105.5L283.5 105.5L284.5 104.5L284.5 103.5L283.5 101.5M282.5 100.5L282.5 95.5M280.5 94.5L279.5 93.5L284.5 93.5M284.5 94.5L284.5 91.5M279.5 87.5L279.5 90.5L281.5 90.5L281.5 89.5L281.5 88.5L282.5 87.5L283.5 87.5L284.5 88.5L284.5 89.5L283.5 90.5" stroke="#ff8800"/>
<path d="M288.5 146.5L291.5 146.5M289.5 146.5L288.5 144.5L289.5 143.5L291.5 143.5M289.5 143.5L288.5 141.5L289.5 140.5L291.5 140.5M288.5 139.5L288.5 135.5M289.5 139.5L289.5 135.5M287.5 133.5L286.5 132.5L291.5 132.5M291.5 133.5L291.5 131.5" stroke="#ff8800"/>
<path d="M278.5 83.5L277.5 84.5L277.5 85.5L278.5 87.5L282.5 87.5L283.5 85.5L283.5 84.5L282.5 83.5M277.5 82.5L277.5 81.5L278.5 80.5L282.5 80.5L283.5 81.5L283.5 82.5L282.5 83.5L278.5 83.5L277.5 82.5M281.5 82.5L278.5 80.5" stroke="#ff0000"/>
<path d="M295.5 141.5L295.5 142.5L295.5 143.5L295.5 144.5L296.5 143.5L296.5 142.5L297.5 141.5L298.5 142.5L298.5 143.5L297.5 144.5M296.5 140.5L296.5 137.5L295.5 137.5L295.5 138.5L295.5 139.5L295.5 140.5L297.5 140.5L298.5 139.5L298.5 138.5L297.5 137.5M293.5 135.5L297.5 135.5L298.5 134.5L298.5 134.5M295.5 136.5L295.5 134.5M293.5 133.5L298.5 133.5M295.5 133.5L295.5 132.5L295.5 131.5L295.5 130.5L297.5 130.5L298.5 131.5L298.5 132.5L297.5 133.5M295.5 126.5L295.5 127.5L295.5 128.5L295.5 129.5L297.5 129.5L298.5 128.5L298.5 127.5L297.5 126.5M295.5 126.5L298.5 126.5M295.5 122.5L295.5 123.5L295.5 124.5L295.5 125.5L297.5 125.5L298.5 124.5L298.5 123.5L297.5 122.5M293.5 121.5L298.5 121.5M295.5 118.5L297.5 121.5M296.5 120.5L298.5 118.5M295.5 117.5L295.5 112.5M296.5 117.5L296.5 112.5M294.5 111.5L293.5 110.5L298.5 110.5M298.5 111.5L298.5 109.5" stroke="#ff8800"/>
<path d="M301.5 144.5L304.5 144.5M302.5 144.5L301.5 143.5L302.5 141.5L304.5 141.5M302.5 141.5L301.5 140.5L302.5 139.5L304.5 139.5M301.5 137.5L304.5 137.5M300.5 137.5L300.5 137.5M301.5 136.5L304.5 136.5M302.5 136.5L301.5 135.5L302.5 133.5L304.5 133.5M302.5 133.5L301.5 132.5L302.5 131.5L304.5 131.5M300.5 128.5L300.5 129.5L300.5 129.5L304.5 129.5M301.5 130.5L301.5 128.5M300.5 126.5L304.5 126.5M302.5 122.5L301.5 123.5L301.5 124.5L302.5 125.5L304.5 125.5L304.5 124.5L304.5 123.5L304.5 122.5M301.5 122.5L304.5 122.5M302.5 119.5L301.5 120.5L301.5 121.5L302.5 121.5L304.5 121.5L304.5 121.5L304.5 120.5L304.5 119.5M301.5 119.5L305.5 119.5L306.5 120.5L306.5 121.5L305.5 121.5M301.5 118.5L301.5 114.5M303.5 118.5L303.5 114.5M301.5 113.5L300.5 112.5L304.5 112.5M304.5 113.5L304.5 111.5" stroke="#ff8800"/>
<path d="M299.5 147.5L302.5 147.5M300.5 147.5L299.5 146.5L299.5 145.5L300.5 144.5L302.5 144.5M300.5 143.5L300.5 140.5L300.5 140.5L299.5 141.5L299.5 142.5L300.5 143.5L301.5 143.5L302.5 142.5L302.5 141.5L301.5 140.5M297.5 138.5L301.5 138.5L302.5 137.5L302.5 137.5M299.5 139.5L299.5 137.5M297.5 135.5L297.5 134.5L298.5 133.5L301.5 133.5L302.5 134.5L302.5 135.5L301.5 136.5L298.5 136.5L297.5 135.5M301.5 135.5L298.5 133.5M302.5 129.5L297.5 129.5L300.5 132.5L300.5 128.5M297.5 127.5L297.5 125.5L298.5 124.5L301.5 124.5L302.5 125.5L302.5 127.5L301.5 128.5L298.5 128.5L297.5 127.5M301.5 127.5L298.5 125.5" stroke="#ffffff"/>
<path d="M222.5 134.5L227.5 132.5L222.5 130.5M222.5 126.5L222.5 130.5L224.5 130.5L223.5 129.5L223.5 128.5L224.5 126.5L226.5 126.5L227.5 128.5L227.5 129.5L226.5 130.5" stroke="#ff0000"/>
<path d="M213.5 161.5L216.5 159.5L213.5 158.5M211.5 154.5L216.5 154.5M214.5 154.5L213.5 155.5L213.5 156.5L214.5 157.5L215.5 157.5L216.5 156.5L216.5 155.5L215.5 154.5M214.5 150.5L213.5 151.5L213.5 152.5L214.5 153.5L215.5 153.5L216.5 152.5L216.5 151.5L215.5 150.5M213.5 149.5L213.5 144.5M214.5 149.5L214.5 144.5M211.5 143.5L216.5 142.5L211.5 140.5M214.5 136.5L213.5 137.5L213.5 138.5L214.5 139.5L215.5 139.5L216.5 138.5L216.5 137.5L215.5 136.5M211.5 135.5L215.5 135.5L216.5 134.5L216.5 133.5M213.5 136.5L213.5 133.5M211.5 132.5L216.5 132.5" stroke="#ff8800"/>
<path d="M252.5 142.5L251.5 143.5L251.5 144.5L252.5 145.5L255.5 145.5L256.5 144.5L256.5 143.5L255.5 142.5M252.5 141.5L251.5 140.5L251.5 139.5L252.5 138.5L253.5 138.5L256.5 141.5L256.5 138.5" stroke="#ff0000"/>
<path d="M253.5 169.5L253.5 168.5L254.5 167.5L256.5 167.5L256.5 168.5L256.5 169.5L256.5 170.5L254.5 170.5L253.5 169.5M253.5 166.5L256.5 166.5L256.5 165.5L256.5 164.5L256.5 163.5M253.5 163.5L256.5 163.5M251.5 161.5L256.5 161.5L256.5 161.5L256.5 160.5M253.5 162.5L253.5 160.5M252.5 158.5L251.5 157.5L256.5 157.5M256.5 158.5L256.5 156.5" stroke="#ffffff"/>
<path d="M276.5 161.5L275.5 160.5L274.5 160.5L273.5 161.5L273.5 163.5L274.5 164.5L275.5 164.5L276.5 163.5M277.5 160.5L277.5 164.5M277.5 161.5L279.5 160.5L280.5 161.5L280.5 164.5M280.5 161.5L282.5 160.5L284.5 161.5L284.5 164.5M285.5 160.5L285.5 164.5M285.5 159.5L285.5 158.5M287.5 160.5L287.5 164.5M287.5 161.5L289.5 160.5L290.5 161.5L290.5 164.5M290.5 161.5L292.5 160.5L294.5 161.5L294.5 164.5" stroke="#00cc60"/>
<path d="M263.5 312.5L267.5 311.5L264.5 309.5L267.5 308.5L263.5 307.5M263.5 306.5L263.5 301.5M265.5 306.5L265.5 301.5M263.5 300.5L262.5 299.5L267.5 299.5M267.5 300.5L267.5 297.5M262.5 295.5L262.5 294.5L263.5 293.5L266.5 293.5L267.5 294.5L267.5 295.5L266.5 296.5L263.5 296.5L262.5 295.5M266.5 296.5L263.5 294.5M265.5 292.5L265.5 289.5L264.5 289.5L263.5 290.5L263.5 291.5L264.5 292.5L266.5 292.5L267.5 291.5L267.5 290.5L266.5 289.5M264.5 288.5L264.5 284.5M263.5 280.5L262.5 281.5L262.5 282.5L263.5 283.5L266.5 283.5L267.5 282.5L267.5 281.5L266.5 280.5L265.5 280.5L264.5 281.5L264.5 282.5L265.5 283.5" stroke="#ff8800"/>
<path d="M268.5 311.5L273.5 311.5M269.5 310.5L269.5 304.5M271.5 310.5L271.5 304.5M269.5 303.5L268.5 302.5L273.5 302.5M273.5 303.5L273.5 301.5M268.5 298.5L268.5 297.5L269.5 296.5L272.5 296.5L273.5 297.5L273.5 298.5L272.5 300.5L269.5 300.5L268.5 298.5M272.5 299.5L269.5 297.5M271.5 295.5L271.5 292.5L270.5 292.5L269.5 293.5L269.5 294.5L270.5 295.5L272.5 295.5L273.5 294.5L273.5 293.5L272.5 292.5M270.5 291.5L270.5 286.5M269.5 282.5L268.5 283.5L268.5 284.5L269.5 285.5L272.5 285.5L273.5 284.5L273.5 283.5L272.5 282.5L271.5 282.5L270.5 283.5L270.5 284.5L271.5 285.5" stroke="#ff8800"/>
<path d="M277.5 309.5L276.5 310.5L276.5 311.5L277.5 312.5L279.5 312.5L279.5 311.5L279.5 310.5L279.5 309.5M276.5 308.5L276.5 302.5M278.5 308.5L278.5 302.5M276.5 301.5L275.5 300.5L279.5 300.5M279.5 301.5L279.5 298.5M275.5 296.5L275.5 295.5L275.5 294.5L279.5 294.5L279.5 295.5L279.5 296.5L279.5 297.5L275.5 297.5L275.5 296.5M278.5 297.5L276.5 295.5M276.5 293.5L275.5 291.5L279.5 291.5M279.5 293.5L279.5 290.5M279.5 288.5L279.5 288.5M275.5 283.5L275.5 287.5L277.5 287.5L276.5 286.5L276.5 284.5L277.5 283.5L279.5 283.5L279.5 284.5L279.5 286.5L279.5 287.5M275.5 281.5L275.5 280.5L275.5 279.5L279.5 279.5L279.5 280.5L279.5 281.5L279.5 282.5L275.5 282.5L275.5 281.5M278.5 282.5L276.5 280.5M275.5 274.5L275.5 276.5L275.5 277.5L275.5 278.5L279.5 278.5L279.5 277.5L279.5 276.5L279.5 274.5L277.5 274.5L277.5 276.5L277.5 277.5L277.5 278.5M278.5 274.5L278.5 270.5L277.5 270.5L276.5 271.5L276.5 272.5L277.5 274.5L279.5 274.5L279.5 272.5L279.5 271.5L279.5 270.5M277.5 269.5L277.5 264.5M276.5 263.5L275.5 262.5L279.5 262.5M279.5 263.5L279.5 260.5M275.5 256.5L275.5 259.5L277.5 259.5L276.5 258.5L276.5 257.5L277.5 256.5L279.5 256.5L279.5 257.5L279.5 258.5L279.5 259.5" stroke="#ff8800"/>
<path d="M282.5 312.5L286.5 312.5M283.5 312.5L282.5 311.5L283.5 309.5L286.5 309.5M283.5 309.5L282.5 308.5L283.5 306.5L286.5 306.5M282.5 305.5L282.5 300.5M284.5 305.5L284.5 300.5M282.5 299.5L281.5 298.5L286.5 298.5M286.5 299.5L286.5 297.5" stroke="#ff8800"/>
<path d="M290.5 309.5L289.5 310.5L289.5 311.5L290.5 312.5L291.5 311.5L291.5 310.5L292.5 309.5L292.5 310.5L292.5 311.5L292.5 312.5M291.5 308.5L291.5 305.5L290.5 305.5L289.5 306.5L289.5 307.5L290.5 308.5L291.5 308.5L292.5 307.5L292.5 306.5L291.5 305.5M288.5 303.5L291.5 303.5L292.5 302.5L292.5 301.5M289.5 304.5L289.5 301.5M288.5 300.5L292.5 300.5M290.5 300.5L289.5 299.5L289.5 298.5L290.5 297.5L291.5 297.5L292.5 298.5L292.5 299.5L291.5 300.5M290.5 293.5L289.5 294.5L289.5 295.5L290.5 296.5L291.5 296.5L292.5 295.5L292.5 294.5L291.5 293.5M289.5 293.5L292.5 293.5M290.5 289.5L289.5 290.5L289.5 291.5L290.5 292.5L291.5 292.5L292.5 291.5L292.5 290.5L291.5 289.5M288.5 288.5L292.5 288.5M289.5 285.5L291.5 288.5M290.5 287.5L292.5 285.5M289.5 284.5L289.5 279.5M291.5 284.5L291.5 279.5M289.5 277.5L288.5 276.5L292.5 276.5M292.5 277.5L292.5 275.5" stroke="#ff8800"/>
<path d="M295.5 312.5L298.5 312.5M295.5 312.5L295.5 311.5L295.5 309.5L298.5 309.5M295.5 309.5L295.5 308.5L295.5 306.5L298.5 306.5M295.5 305.5L298.5 305.5M294.5 305.5L293.5 305.5M295.5 304.5L298.5 304.5M295.5 304.5L295.5 302.5L295.5 301.5L298.5 301.5M295.5 301.5L295.5 299.5L295.5 298.5L298.5 298.5M293.5 295.5L293.5 296.5L294.5 296.5L298.5 296.5M295.5 297.5L295.5 295.5M293.5 293.5L298.5 293.5M295.5 289.5L295.5 290.5L295.5 291.5L295.5 292.5L297.5 292.5L298.5 291.5L298.5 290.5L297.5 289.5M295.5 289.5L298.5 289.5M295.5 285.5L295.5 286.5L295.5 287.5L295.5 288.5L297.5 288.5L298.5 287.5L298.5 286.5L297.5 285.5M295.5 285.5L298.5 285.5L299.5 286.5L299.5 287.5L298.5 288.5M295.5 284.5L295.5 280.5M296.5 284.5L296.5 280.5M294.5 279.5L293.5 278.5L298.5 278.5M298.5 279.5L298.5 277.5" stroke="#ff8800"/>
<path d="M292.5 315.5L296.5 315.5M293.5 315.5L292.5 313.5L292.5 312.5L293.5 311.5L296.5 311.5M294.5 310.5L294.5 307.5L293.5 307.5L292.5 308.5L292.5 309.5L293.5 310.5L295.5 310.5L296.5 309.5L296.5 308.5L295.5 307.5M291.5 305.5L295.5 305.5L296.5 304.5L296.5 303.5M292.5 306.5L292.5 304.5M291.5 301.5L291.5 300.5L292.5 299.5L295.5 299.5L296.5 300.5L296.5 301.5L295.5 303.5L292.5 303.5L291.5 301.5M295.5 302.5L292.5 300.5M296.5 296.5L291.5 296.5L294.5 298.5L294.5 295.5M293.5 293.5L292.5 294.5L292.5 294.5L291.5 293.5L291.5 292.5L292.5 291.5L292.5 291.5L293.5 292.5L293.5 293.5L294.5 294.5L295.5 294.5L296.5 293.5L296.5 292.5L295.5 291.5L294.5 291.5L293.5 292.5" stroke="#ffffff"/>
<path d="M247.5 308.5L246.5 309.5L246.5 310.5L247.5 311.5L250.5 311.5L251.5 310.5L251.5 309.5L250.5 308.5M247.5 307.5L246.5 306.5L246.5 305.5L247.5 304.5L248.5 304.5L248.5 305.5L248.5 306.5M248.5 305.5L249.5 304.5L250.5 304.5L251.5 305.5L251.5 306.5L250.5 307.5" stroke="#ff0000"/>
<path d="M248.5 337.5L248.5 336.5L249.5 335.5L251.5 335.5L252.5 336.5L252.5 337.5L251.5 338.5L249.5 338.5L248.5 337.5M248.5 334.5L251.5 334.5L252.5 333.5L252.5 332.5L251.5 331.5M248.5 331.5L252.5 331.5M247.5 329.5L251.5 329.5L252.5 328.5L252.5 328.5M248.5 330.5L248.5 328.5M247.5 327.5L247.5 326.5L247.5 325.5L247.5 324.5L248.5 324.5L252.5 327.5L252.5 324.5" stroke="#ffffff"/>
<path d="M269.5 328.5L268.5 327.5L267.5 327.5L266.5 328.5L266.5 330.5L267.5 331.5L268.5 331.5L269.5 330.5M270.5 327.5L270.5 331.5M270.5 328.5L272.5 327.5L273.5 328.5L273.5 331.5M273.5 328.5L275.5 327.5L277.5 328.5L277.5 331.5M279.5 327.5L279.5 331.5M279.5 325.5L279.5 325.5M280.5 327.5L280.5 331.5M280.5 328.5L282.5 327.5L284.5 328.5L284.5 331.5M284.5 328.5L285.5 327.5L287.5 328.5L287.5 331.5" stroke="#00cc60"/>
<path d="M332.5 155.5L336.5 155.5M334.5 155.5L333.5 154.5L332.5 153.5L332.5 152.5M332.5 151.5L332.5 145.5M334.5 151.5L334.5 145.5M332.5 144.5L331.5 143.5L331.5 142.5L332.5 141.5L332.5 141.5L336.5 144.5L336.5 141.5M331.5 136.5L331.5 140.5L333.5 140.5L332.5 139.5L332.5 137.5L333.5 136.5L335.5 136.5L336.5 137.5L336.5 139.5L335.5 140.5M336.5 134.5L335.5 134.5M331.5 129.5L331.5 133.5L333.5 133.5L332.5 131.5L332.5 130.5L333.5 129.5L335.5 129.5L336.5 130.5L336.5 131.5L335.5 133.5M333.5 127.5L332.5 128.5L332.5 128.5L331.5 127.5L331.5 126.5L332.5 124.5L332.5 124.5L333.5 126.5L333.5 127.5L334.5 128.5L335.5 128.5L336.5 127.5L336.5 126.5L335.5 124.5L334.5 124.5L333.5 126.5M332.5 120.5L331.5 121.5L331.5 122.5L332.5 123.5L335.5 123.5L336.5 122.5L336.5 121.5L335.5 120.5L334.5 120.5L333.5 121.5L333.5 122.5L334.5 123.5M332.5 118.5L331.5 117.5L336.5 117.5M336.5 118.5L336.5 116.5M331.5 115.5L336.5 115.5M331.5 111.5L334.5 115.5M333.5 113.5L336.5 111.5" stroke="#ff8800"/>
<path d="M339.5 155.5L342.5 153.5L340.5 152.5L342.5 150.5L339.5 149.5M339.5 148.5L339.5 142.5M340.5 148.5L340.5 142.5M338.5 141.5L337.5 140.5L337.5 139.5L338.5 137.5L339.5 137.5L342.5 141.5L342.5 137.5M342.5 136.5L341.5 136.5M338.5 133.5L337.5 132.5L342.5 132.5M342.5 133.5L342.5 131.5M339.5 130.5L341.5 130.5L342.5 128.5L342.5 127.5L341.5 126.5M339.5 126.5L342.5 126.5" stroke="#ff8800"/>
<path d="M343.5 154.5L348.5 154.5M345.5 152.5L345.5 146.5M347.5 152.5L347.5 146.5M344.5 145.5L343.5 143.5L348.5 143.5M348.5 145.5L348.5 142.5M344.5 137.5L343.5 138.5L343.5 140.5L344.5 141.5L347.5 141.5L348.5 140.5L348.5 138.5L347.5 137.5L346.5 137.5L345.5 138.5L345.5 140.5L346.5 141.5M345.5 136.5L347.5 136.5L348.5 135.5L348.5 133.5L347.5 132.5M345.5 132.5L348.5 132.5" stroke="#ff8800"/>
<path d="M351.5 155.5L356.5 155.5M352.5 155.5L351.5 153.5L351.5 152.5L352.5 150.5L354.5 150.5L355.5 152.5L355.5 153.5L354.5 155.5M352.5 145.5L351.5 147.5L351.5 148.5L352.5 150.5L353.5 148.5L353.5 147.5L354.5 145.5L355.5 147.5L355.5 148.5L354.5 150.5M351.5 144.5L351.5 137.5M353.5 144.5L353.5 137.5M351.5 136.5L350.5 135.5L350.5 133.5L351.5 132.5L351.5 132.5L352.5 133.5L352.5 135.5M352.5 133.5L353.5 132.5L354.5 132.5L355.5 133.5L355.5 135.5L354.5 136.5" stroke="#ff8800"/>
<path d="M357.5 151.5L356.5 152.5L356.5 154.5L357.5 155.5L358.5 155.5L358.5 154.5L358.5 152.5L359.5 151.5L360.5 151.5L361.5 152.5L361.5 154.5L360.5 155.5M359.5 150.5L359.5 146.5L358.5 146.5L358.5 147.5L358.5 149.5L358.5 150.5L360.5 150.5L361.5 149.5L361.5 147.5L360.5 146.5M358.5 145.5L361.5 145.5M359.5 145.5L358.5 144.5L358.5 143.5L358.5 142.5M358.5 140.5L361.5 140.5M356.5 140.5L356.5 140.5M359.5 138.5L359.5 134.5L358.5 134.5L358.5 135.5L358.5 137.5L358.5 138.5L360.5 138.5L361.5 137.5L361.5 135.5L360.5 134.5M358.5 129.5L358.5 130.5L358.5 132.5L358.5 133.5L359.5 132.5L359.5 130.5L360.5 129.5L361.5 130.5L361.5 132.5L360.5 133.5" stroke="#ff8800"/>
<path d="M328.5 157.5L323.5 157.5L323.5 154.5L323.5 153.5L324.5 153.5L325.5 154.5L325.5 157.5M325.5 155.5L328.5 153.5M323.5 151.5L323.5 150.5L323.5 149.5L327.5 149.5L328.5 150.5L328.5 151.5L327.5 152.5L323.5 152.5L323.5 151.5M327.5 152.5L324.5 150.5" stroke="#ff0000"/>
<path d="M325.5 191.5L328.5 191.5M325.5 191.5L325.5 189.5L325.5 188.5L325.5 187.5L328.5 187.5M326.5 186.5L326.5 183.5L325.5 183.5L325.5 184.5L325.5 185.5L325.5 186.5L327.5 186.5L328.5 185.5L328.5 184.5L327.5 183.5M323.5 181.5L327.5 181.5L328.5 181.5L328.5 180.5M325.5 182.5L325.5 180.5M323.5 178.5L323.5 177.5L324.5 176.5L327.5 176.5L328.5 177.5L328.5 178.5L327.5 179.5L324.5 179.5L323.5 178.5M327.5 178.5L324.5 176.5M328.5 172.5L323.5 172.5L326.5 175.5L326.5 172.5M323.5 170.5L323.5 168.5L324.5 167.5L327.5 167.5L328.5 168.5L328.5 170.5L327.5 171.5L324.5 171.5L323.5 170.5M327.5 170.5L324.5 168.5" stroke="#ffffff"/>
<path d="M337.5 172.5L337.5 175.5M337.5 173.5L338.5 172.5L339.5 172.5L340.5 172.5M340.5 172.5L340.5 175.5M340.5 173.5L342.5 172.5L343.5 172.5L344.5 173.5L344.5 175.5M345.5 172.5L346.5 175.5L348.5 173.5L349.5 175.5L351.5 172.5M352.5 173.5L355.5 173.5L355.5 173.5L354.5 172.5L353.5 172.5L352.5 173.5L352.5 174.5L353.5 175.5L354.5 175.5L355.5 174.5M357.5 170.5L357.5 175.5M359.5 170.5L359.5 175.5" stroke="#00cc60"/>
<path d="M369.5 171.5L369.5 170.5L369.5 170.5L373.5 170.5L374.5 170.5L374.5 171.5L373.5 172.5L369.5 172.5L369.5 171.5M373.5 171.5L370.5 170.5M374.5 167.5L369.5 167.5L372.5 169.5L372.5 167.5" stroke="#ffffff"/>
<path d="M326.5 321.5L329.5 321.5M327.5 321.5L326.5 320.5L326.5 319.5L326.5 318.5M326.5 317.5L326.5 312.5M328.5 317.5L328.5 312.5M325.5 311.5L324.5 310.5L324.5 309.5L325.5 308.5L326.5 308.5L329.5 311.5L329.5 308.5M324.5 303.5L324.5 307.5L326.5 307.5L326.5 306.5L326.5 304.5L327.5 303.5L328.5 303.5L329.5 304.5L329.5 306.5L328.5 307.5M329.5 302.5L329.5 302.5M324.5 297.5L324.5 300.5L326.5 300.5L326.5 299.5L326.5 298.5L327.5 297.5L328.5 297.5L329.5 298.5L329.5 299.5L328.5 300.5M327.5 295.5L326.5 296.5L325.5 296.5L324.5 295.5L324.5 294.5L325.5 293.5L326.5 293.5L327.5 294.5L327.5 295.5L328.5 296.5L328.5 296.5L329.5 295.5L329.5 294.5L328.5 293.5L328.5 293.5L327.5 294.5M325.5 288.5L324.5 289.5L324.5 291.5L325.5 292.5L328.5 292.5L329.5 291.5L329.5 289.5L328.5 288.5L327.5 288.5L326.5 289.5L326.5 291.5L327.5 292.5M325.5 287.5L324.5 286.5L329.5 286.5M329.5 287.5L329.5 285.5M324.5 284.5L329.5 284.5M324.5 280.5L328.5 284.5M327.5 283.5L329.5 280.5" stroke="#ff8800"/>
<path d="M332.5 321.5L336.5 319.5L333.5 318.5L336.5 316.5L332.5 315.5M332.5 314.5L332.5 309.5M334.5 314.5L334.5 309.5M332.5 308.5L331.5 307.5L331.5 305.5L332.5 304.5L332.5 304.5L336.5 308.5L336.5 304.5M336.5 303.5L335.5 303.5M332.5 300.5L331.5 299.5L336.5 299.5M336.5 300.5L336.5 298.5M332.5 297.5L335.5 297.5L336.5 296.5L336.5 295.5L335.5 293.5M332.5 293.5L336.5 293.5" stroke="#ff8800"/>
<path d="M337.5 320.5L342.5 320.5M339.5 318.5L339.5 313.5M340.5 318.5L340.5 313.5M338.5 311.5L337.5 310.5L342.5 310.5M342.5 311.5L342.5 309.5M338.5 304.5L337.5 305.5L337.5 306.5L338.5 308.5L341.5 308.5L342.5 306.5L342.5 305.5L341.5 304.5L340.5 304.5L339.5 305.5L339.5 306.5L340.5 308.5M339.5 303.5L341.5 303.5L342.5 302.5L342.5 301.5L341.5 299.5M339.5 299.5L342.5 299.5" stroke="#ff8800"/>
<path d="M345.5 321.5L350.5 321.5M346.5 321.5L345.5 319.5L345.5 318.5L346.5 316.5L347.5 316.5L348.5 318.5L348.5 319.5L347.5 321.5M346.5 311.5L345.5 313.5L345.5 314.5L346.5 316.5L346.5 314.5L347.5 313.5L348.5 311.5L348.5 313.5L348.5 314.5L348.5 316.5M345.5 311.5L345.5 304.5M347.5 311.5L347.5 304.5M344.5 304.5L343.5 302.5L343.5 301.5L344.5 299.5L345.5 299.5L346.5 301.5L346.5 302.5M346.5 301.5L347.5 299.5L347.5 299.5L348.5 301.5L348.5 302.5L347.5 304.5" stroke="#ff8800"/>
<path d="M350.5 317.5L350.5 318.5L350.5 319.5L350.5 321.5L351.5 321.5L352.5 319.5L352.5 318.5L353.5 317.5L354.5 317.5L355.5 318.5L355.5 319.5L354.5 321.5M353.5 316.5L353.5 312.5L352.5 312.5L351.5 313.5L351.5 314.5L352.5 316.5L354.5 316.5L355.5 314.5L355.5 313.5L354.5 312.5M351.5 311.5L355.5 311.5M352.5 311.5L352.5 310.5L351.5 309.5L351.5 308.5M351.5 306.5L355.5 306.5M350.5 306.5L350.5 306.5M353.5 304.5L353.5 300.5L352.5 300.5L351.5 301.5L351.5 303.5L352.5 304.5L354.5 304.5L355.5 303.5L355.5 301.5L354.5 300.5M352.5 295.5L351.5 297.5L351.5 298.5L352.5 299.5L353.5 298.5L353.5 297.5L354.5 295.5L355.5 297.5L355.5 298.5L354.5 299.5" stroke="#ff8800"/>
<path d="M321.5 324.5L317.5 324.5L317.5 321.5L317.5 320.5L318.5 320.5L319.5 321.5L319.5 324.5M319.5 322.5L321.5 320.5M319.5 318.5L318.5 320.5L317.5 320.5L317.5 318.5L317.5 317.5L317.5 316.5L318.5 316.5L319.5 317.5L319.5 318.5L320.5 320.5L321.5 320.5L321.5 318.5L321.5 317.5L321.5 316.5L320.5 316.5L319.5 317.5" stroke="#ff0000"/>
<path d="M318.5 358.5L322.5 358.5M319.5 358.5L318.5 357.5L318.5 356.5L319.5 355.5L322.5 355.5M320.5 354.5L320.5 351.5L319.5 351.5L318.5 352.5L318.5 353.5L319.5 354.5L321.5 354.5L322.5 353.5L322.5 352.5L321.5 351.5M317.5 349.5L321.5 349.5L322.5 348.5L322.5 347.5M318.5 350.5L318.5 348.5M317.5 345.5L317.5 344.5L317.5 343.5L321.5 343.5L322.5 344.5L322.5 345.5L321.5 346.5L317.5 346.5L317.5 345.5M321.5 346.5L318.5 344.5M322.5 340.5L317.5 340.5L320.5 342.5L320.5 339.5M319.5 337.5L318.5 338.5L317.5 338.5L317.5 337.5L317.5 336.5L317.5 335.5L318.5 335.5L319.5 336.5L319.5 337.5L320.5 338.5L321.5 338.5L322.5 337.5L322.5 336.5L321.5 335.5L320.5 335.5L319.5 336.5" stroke="#ffffff"/>
<path d="M331.5 339.5L331.5 343.5M331.5 340.5L332.5 340.5L333.5 339.5L334.5 339.5M334.5 339.5L334.5 343.5M334.5 340.5L336.5 339.5L337.5 339.5L338.5 340.5L338.5 343.5M339.5 339.5L340.5 343.5L342.5 340.5L343.5 343.5L345.5 339.5M346.5 341.5L349.5 341.5L349.5 340.5L348.5 339.5L347.5 339.5L346.5 340.5L346.5 342.5L347.5 343.5L348.5 343.5L349.5 342.5M351.5 337.5L351.5 343.5M353.5 337.5L353.5 343.5" stroke="#00cc60"/>
<path d="M341.5 341.5L341.5 345.5M341.5 342.5L342.5 341.5L343.5 341.5L344.5 342.5L344.5 345.5M345.5 343.5L348.5 343.5L348.5 342.5L347.5 341.5L346.5 341.5L345.5 342.5L345.5 344.5L346.5 345.5L347.5 345.5L348.5 344.5M350.5 339.5L350.5 344.5L351.5 345.5L352.5 345.5M349.5 341.5L351.5 341.5M354.5 339.5L355.5 339.5L356.5 340.5L356.5 344.5L355.5 345.5L354.5 345.5L352.5 344.5L352.5 340.5L354.5 339.5M353.5 344.5L355.5 340.5M359.5 345.5L359.5 339.5L357.5 343.5L360.5 343.5M362.5 342.5L361.5 341.5L361.5 340.5L362.5 339.5L363.5 339.5L364.5 340.5L364.5 341.5L363.5 342.5L362.5 342.5L361.5 343.5L361.5 344.5L362.5 345.5L363.5 345.5L364.5 344.5L364.5 343.5L363.5 342.5M366.5 339.5L367.5 339.5L368.5 340.5L368.5 344.5L367.5 345.5L366.5 345.5L365.5 344.5L365.5 340.5L366.5 339.5M366.5 344.5L368.5 340.5" stroke="#ffffff"/>
<path d="M363.5 337.5L363.5 337.5L363.5 336.5L367.5 336.5L368.5 337.5L368.5 337.5L367.5 338.5L363.5 338.5L363.5 337.5M367.5 338.5L364.5 337.5M368.5 334.5L363.5 334.5L366.5 335.5L366.5 333.5" stroke="#ffffff"/>
</g>
<g id="loop">
<path d="M260 126.8 L251.5 130.6 L238 134 L226 140 L217.6 146.7 L211.6 157.8 L209 168 L207.8 173.6 L207 194 L206.5 228 L207 245.5 L209.5 267.6 L213 288 L215.5 292 L218.9 305.5 L224 320.8 L230.8 332.7 L239.3 340.3 L244.4 341.5 L248.6 338.6 L253.7 329.3 L257.1 320.8 L259.7 310.6 L260.5 297 L260.5 280 L260 271 L259.7 237 L260.5 220 L261.4 216 L263.9 205.9 L264.8 197.4 L269.9 182 L271.9 178.7 L272.75 160 L271.6 151 L269.4 140.8 L265 131.4 L260 126.8" stroke="#ff0000" stroke-width="2.1" fill="none" stroke-linejoin="round"/>
</g>
<g id="top" shape-rendering="crispEdges">
<rect x="7.5" y="24.5" width="4" height="4" fill="#000" stroke="#ffff00"/>
<rect x="233.5" y="149.5" width="4" height="4" fill="#000" stroke="#ffff00"/>
<rect x="227.5" y="316.5" width="4" height="4" fill="#8a8a00" stroke="#ffff00"/>
<path d="M228.5 317.5 l2 2 m0 -2 l-2 2" stroke="#ffff00"/>
</g>
<g id="wm">
<text x="681.5" y="395.5" fill="#2e0944" stroke="#2e0944" font-size="20" textLength="81" lengthAdjust="spacingAndGlyphs" font-weight="bold">bbs.eetop.cn</text>
</g>
</svg>
</body></html>
